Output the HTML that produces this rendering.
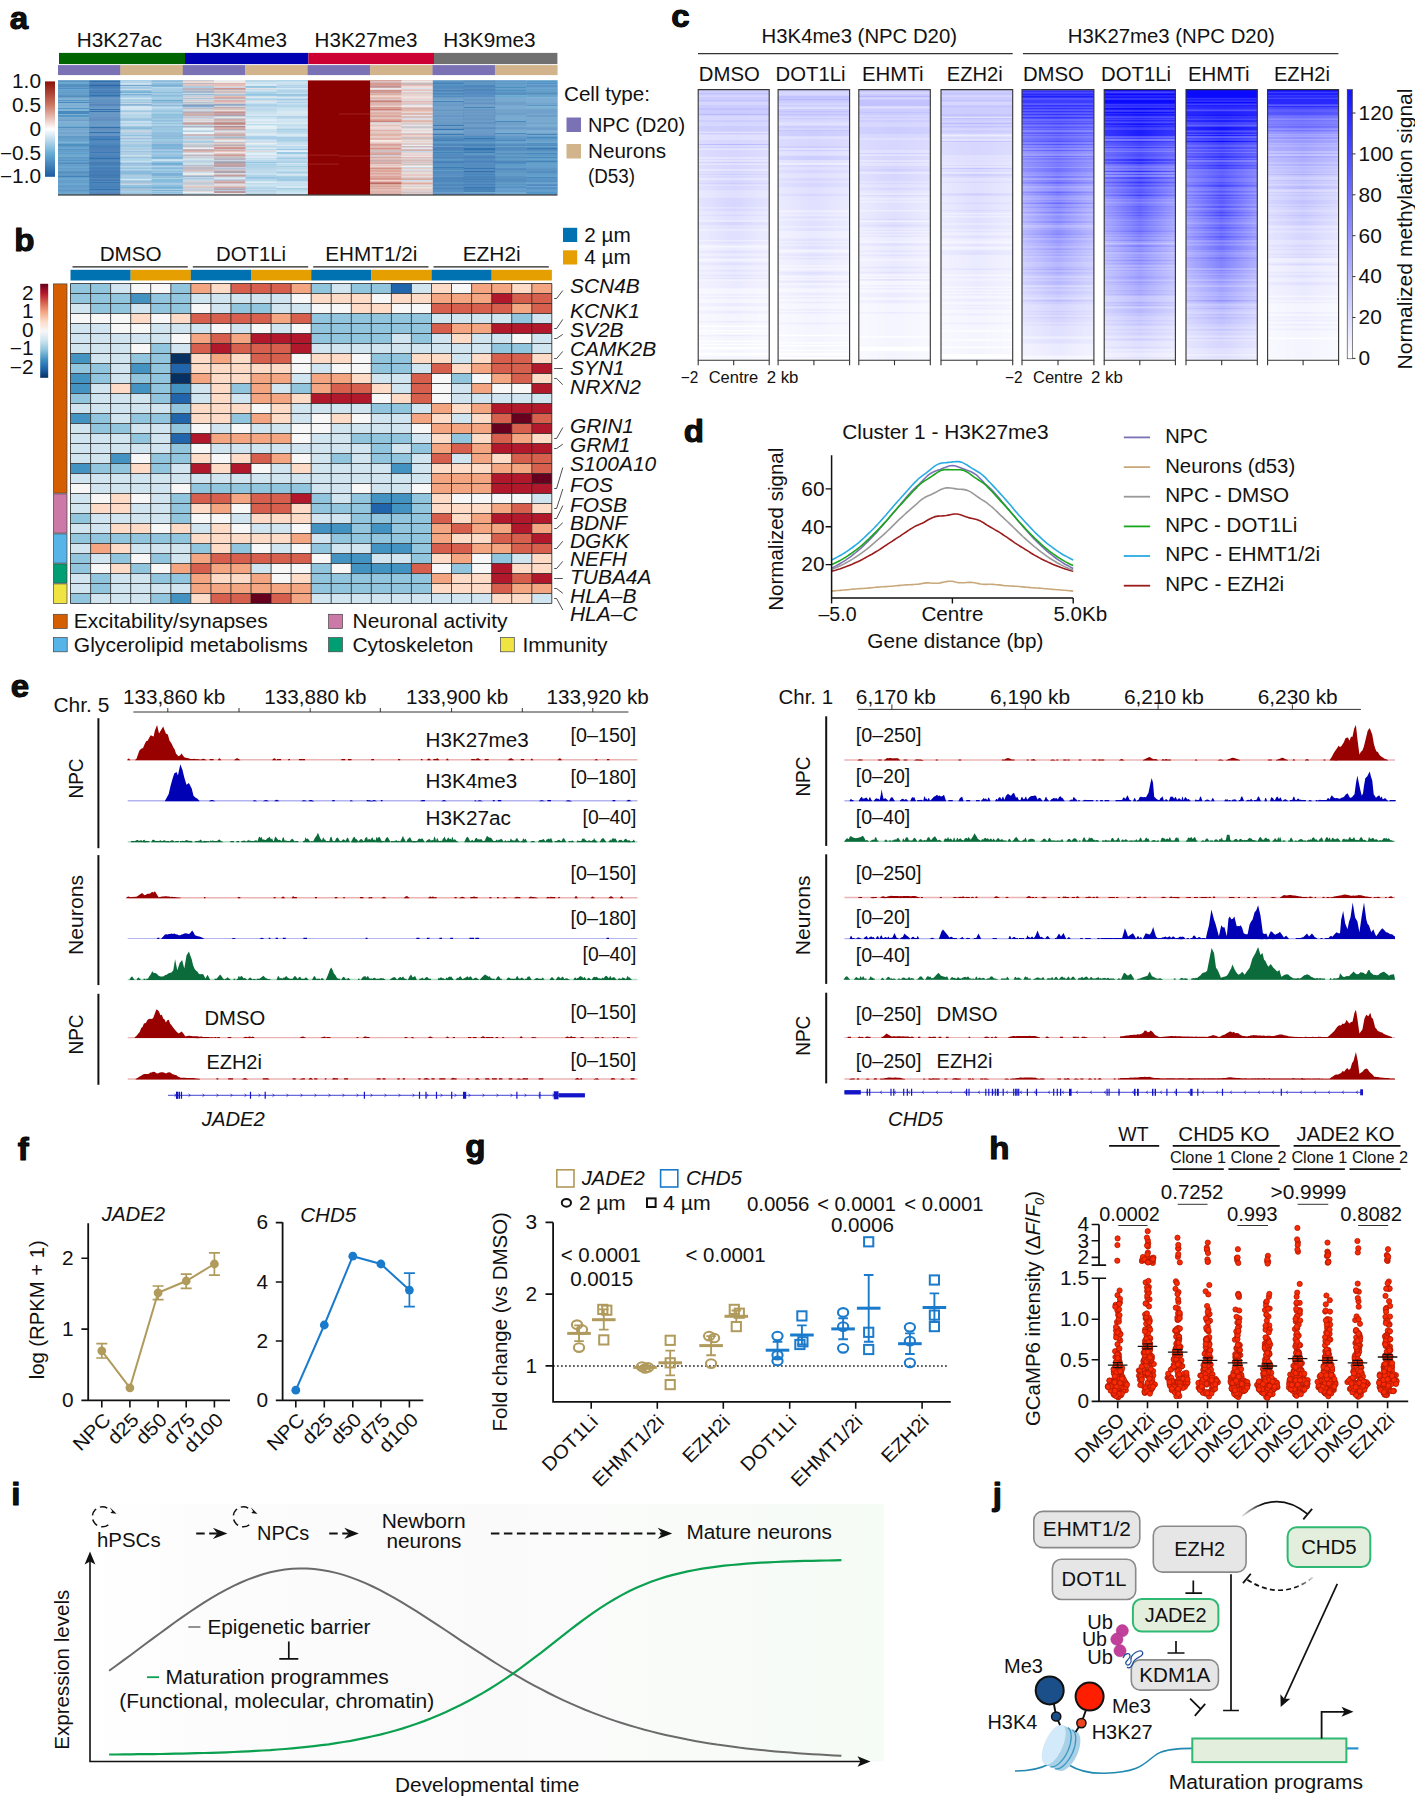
<!DOCTYPE html>
<html><head><meta charset="utf-8"><title>Figure</title>
<style>
html,body{margin:0;padding:0;background:#fff}
svg{display:block}
text{font-family:"Liberation Sans",sans-serif;font-size:19.3px;fill:#111}
</style></head><body>
<svg width="1415" height="1797" viewBox="0 0 1415 1797">
<rect width="1415" height="1797" fill="#fff"/>
<g id="pa">
<text x="9.8" y="28.7" font-weight="bold" fill="#000" style="font-size:31.5px" textLength="18.4" lengthAdjust="spacingAndGlyphs" stroke="#000" stroke-width="1.0" stroke-linejoin="round">a</text>
<text x="76.8" y="47.1" textLength="85.3" lengthAdjust="spacingAndGlyphs">H3K27ac</text>
<text x="195.2" y="47.1" textLength="91.8" lengthAdjust="spacingAndGlyphs">H3K4me3</text>
<text x="314.6" y="47.1" textLength="102.9" lengthAdjust="spacingAndGlyphs">H3K27me3</text>
<text x="443.3" y="47.1" textLength="92.3" lengthAdjust="spacingAndGlyphs">H3K9me3</text>
<rect x="59.0" y="52.9" width="126.0" height="11.2" fill="#006400"/>
<rect x="185.0" y="52.9" width="123.4" height="11.2" fill="#0000b2"/>
<rect x="308.4" y="52.9" width="125.6" height="11.2" fill="#cc0033"/>
<rect x="434.0" y="52.9" width="123.4" height="11.2" fill="#707070"/>
<rect x="58.0" y="65.1" width="62.7" height="10.0" fill="#7b72b6"/>
<rect x="120.4" y="65.1" width="62.7" height="10.0" fill="#d2b48c"/>
<rect x="182.8" y="65.1" width="62.7" height="10.0" fill="#7b72b6"/>
<rect x="245.3" y="65.1" width="62.7" height="10.0" fill="#d2b48c"/>
<rect x="307.7" y="65.1" width="62.7" height="10.0" fill="#7b72b6"/>
<rect x="370.1" y="65.1" width="62.7" height="10.0" fill="#d2b48c"/>
<rect x="432.5" y="65.1" width="62.7" height="10.0" fill="#7b72b6"/>
<rect x="494.9" y="65.1" width="62.7" height="10.0" fill="#d2b48c"/>
<rect x="307.7" y="80.4" width="62.6" height="114.3" fill="#8b0000"/>
<path d="M58.0 80.90h31.4M58.0 86.92h31.4M58.0 95.94h31.4M58.0 97.95h31.4M58.0 101.96h31.4M58.0 102.96h31.4M58.0 104.96h31.4M58.0 110.98h31.4M58.0 111.98h31.4M58.0 112.99h31.4M58.0 113.99h31.4M58.0 118.00h31.4M58.0 121.01h31.4M58.0 124.01h31.4M58.0 129.03h31.4M58.0 132.04h31.4M58.0 134.04h31.4M58.0 147.07h31.4M58.0 159.11h31.4M58.0 169.13h31.4M58.0 172.14h31.4M58.0 175.15h31.4M58.0 186.18h31.4M58.0 193.20h31.4M432.5 84.91h31.4M432.5 106.97h31.4M432.5 111.98h31.4M432.5 137.05h31.4M432.5 142.06h31.4M432.5 151.09h31.4M432.5 166.12h31.4M432.5 183.17h31.4M432.5 186.18h31.4M432.5 194.20h31.4M463.7 95.94h31.4M463.7 108.97h31.4M463.7 137.05h31.4M463.7 183.17h31.4M494.9 85.91h31.4M494.9 91.93h31.4M494.9 97.95h31.4M494.9 99.95h31.4M494.9 107.97h31.4M494.9 112.99h31.4M494.9 119.00h31.4M494.9 121.01h31.4M494.9 122.01h31.4M494.9 125.02h31.4M494.9 130.03h31.4M494.9 133.04h31.4M494.9 134.04h31.4M494.9 136.05h31.4M494.9 140.06h31.4M494.9 141.06h31.4M494.9 151.09h31.4M494.9 153.09h31.4M494.9 158.10h31.4M494.9 160.11h31.4M494.9 168.13h31.4M494.9 170.14h31.4M494.9 177.15h31.4M494.9 180.16h31.4M494.9 184.17h31.4M494.9 188.18h31.4M526.2 89.93h31.4M526.2 102.96h31.4M526.2 110.98h31.4M526.2 112.99h31.4M526.2 118.00h31.4M526.2 126.02h31.4M526.2 130.03h31.4M526.2 137.05h31.4M526.2 138.05h31.4M526.2 153.09h31.4M526.2 154.09h31.4M526.2 157.10h31.4M526.2 158.10h31.4M526.2 160.11h31.4M526.2 165.12h31.4M526.2 170.14h31.4M526.2 175.15h31.4M526.2 177.15h31.4M526.2 178.16h31.4M526.2 180.16h31.4M526.2 189.19h31.4M526.2 191.19h31.4" stroke="#488ac0" stroke-width="1.15" fill="none"/>
<path d="M58.0 81.90h31.4M58.0 90.93h31.4M58.0 92.93h31.4M58.0 94.94h31.4M58.0 126.02h31.4M58.0 130.03h31.4M58.0 136.05h31.4M58.0 138.05h31.4M58.0 157.10h31.4M58.0 171.14h31.4M58.0 176.15h31.4M58.0 177.15h31.4M89.2 89.93h31.4M89.2 93.94h31.4M432.5 82.91h31.4M432.5 83.91h31.4M432.5 87.92h31.4M432.5 92.93h31.4M432.5 97.95h31.4M432.5 100.95h31.4M432.5 101.96h31.4M432.5 121.01h31.4M432.5 123.01h31.4M432.5 136.05h31.4M432.5 140.06h31.4M432.5 141.06h31.4M432.5 152.09h31.4M432.5 153.09h31.4M432.5 159.11h31.4M432.5 164.12h31.4M432.5 171.14h31.4M432.5 177.15h31.4M432.5 180.16h31.4M432.5 190.19h31.4M463.7 100.95h31.4M463.7 104.96h31.4M463.7 106.97h31.4M463.7 107.97h31.4M463.7 112.99h31.4M463.7 117.00h31.4M463.7 121.01h31.4M463.7 127.02h31.4M463.7 132.04h31.4M463.7 134.04h31.4M463.7 143.06h31.4M463.7 146.07h31.4M463.7 156.10h31.4M463.7 159.11h31.4M463.7 166.12h31.4M463.7 174.15h31.4M463.7 175.15h31.4M463.7 180.16h31.4M463.7 193.20h31.4M494.9 81.90h31.4M494.9 92.93h31.4M494.9 94.94h31.4M494.9 101.96h31.4M494.9 104.96h31.4M494.9 115.99h31.4M494.9 126.02h31.4M494.9 138.05h31.4M494.9 143.06h31.4M494.9 147.07h31.4M494.9 161.11h31.4M494.9 165.12h31.4M494.9 176.15h31.4M494.9 185.18h31.4M494.9 191.19h31.4M526.2 92.93h31.4M526.2 120.00h31.4M526.2 134.04h31.4M526.2 135.04h31.4M526.2 139.05h31.4M526.2 151.09h31.4M526.2 155.10h31.4M526.2 161.11h31.4M526.2 162.11h31.4M526.2 171.14h31.4M526.2 173.14h31.4M526.2 179.16h31.4" stroke="#4284ba" stroke-width="1.15" fill="none"/>
<path d="M58.0 82.91h31.4M58.0 103.96h31.4M58.0 109.98h31.4M58.0 143.06h31.4M58.0 156.10h31.4M58.0 194.20h31.4M120.4 92.93h31.4M120.4 129.03h31.4M151.6 90.93h31.4M151.6 95.94h31.4M151.6 101.96h31.4M151.6 146.07h31.4M182.8 142.06h31.4M526.2 95.94h31.4M526.2 106.97h31.4M526.2 183.17h31.4" stroke="#60a2cc" stroke-width="1.15" fill="none"/>
<path d="M58.0 83.91h31.4M58.0 84.91h31.4M58.0 91.93h31.4M58.0 93.94h31.4M58.0 99.95h31.4M58.0 100.95h31.4M58.0 105.97h31.4M58.0 107.97h31.4M58.0 108.97h31.4M58.0 114.99h31.4M58.0 115.99h31.4M58.0 117.00h31.4M58.0 123.01h31.4M58.0 131.03h31.4M58.0 135.04h31.4M58.0 141.06h31.4M58.0 149.08h31.4M58.0 150.08h31.4M58.0 160.11h31.4M58.0 161.11h31.4M58.0 164.12h31.4M58.0 178.16h31.4M58.0 181.16h31.4M58.0 183.17h31.4M58.0 191.19h31.4M151.6 85.91h31.4M151.6 187.18h31.4M432.5 132.04h31.4M463.7 192.19h31.4M494.9 82.91h31.4M494.9 108.97h31.4M494.9 132.04h31.4M494.9 146.07h31.4M494.9 156.10h31.4M494.9 186.18h31.4M494.9 189.19h31.4M494.9 192.19h31.4M526.2 80.90h31.4M526.2 81.90h31.4M526.2 88.92h31.4M526.2 90.93h31.4M526.2 96.94h31.4M526.2 100.95h31.4M526.2 104.96h31.4M526.2 105.97h31.4M526.2 108.97h31.4M526.2 114.99h31.4M526.2 122.01h31.4M526.2 131.03h31.4M526.2 140.06h31.4M526.2 159.11h31.4M526.2 164.12h31.4M526.2 166.12h31.4M526.2 176.15h31.4M526.2 192.19h31.4M526.2 193.20h31.4M526.2 194.20h31.4" stroke="#5496c6" stroke-width="1.15" fill="none"/>
<path d="M58.0 85.91h31.4M58.0 120.00h31.4M58.0 173.14h31.4M89.2 98.95h31.4M89.2 124.01h31.4M89.2 144.07h31.4M89.2 150.08h31.4M89.2 152.09h31.4M89.2 153.09h31.4M89.2 160.11h31.4M89.2 166.12h31.4M89.2 170.14h31.4M89.2 181.16h31.4M89.2 188.18h31.4M432.5 81.90h31.4M432.5 112.99h31.4M432.5 134.04h31.4M432.5 135.04h31.4M432.5 147.07h31.4M463.7 86.92h31.4M463.7 98.95h31.4M463.7 113.99h31.4M463.7 118.00h31.4M463.7 140.06h31.4M463.7 155.10h31.4M463.7 158.10h31.4M494.9 148.08h31.4M494.9 154.09h31.4M526.2 129.03h31.4" stroke="#3c78b4" stroke-width="1.15" fill="none"/>
<path d="M58.0 87.92h31.4M58.0 88.92h31.4M58.0 140.06h31.4M58.0 152.09h31.4M58.0 158.10h31.4M58.0 166.12h31.4M58.0 168.13h31.4M58.0 180.16h31.4M58.0 185.18h31.4M58.0 192.19h31.4M151.6 165.12h31.4M432.5 131.03h31.4M432.5 143.06h31.4M432.5 160.11h31.4M494.9 80.90h31.4M494.9 98.95h31.4M494.9 105.97h31.4M494.9 118.00h31.4M494.9 127.02h31.4M494.9 137.05h31.4M494.9 163.12h31.4M494.9 164.12h31.4M494.9 167.13h31.4M494.9 174.15h31.4M526.2 82.91h31.4M526.2 83.91h31.4M526.2 99.95h31.4M526.2 101.96h31.4M526.2 136.05h31.4M526.2 167.13h31.4M526.2 182.17h31.4M526.2 184.17h31.4M526.2 187.18h31.4M526.2 190.19h31.4" stroke="#4e90c6" stroke-width="1.15" fill="none"/>
<path d="M58.0 89.93h31.4M58.0 98.95h31.4M58.0 106.97h31.4M58.0 122.01h31.4M58.0 148.08h31.4M58.0 153.09h31.4M58.0 154.09h31.4M58.0 167.13h31.4M58.0 179.16h31.4M58.0 184.17h31.4M58.0 188.18h31.4M151.6 127.02h31.4M151.6 163.12h31.4M151.6 171.14h31.4M432.5 95.94h31.4M494.9 84.91h31.4M494.9 88.92h31.4M494.9 142.06h31.4M494.9 193.20h31.4M526.2 84.91h31.4M526.2 87.92h31.4M526.2 97.95h31.4M526.2 125.02h31.4M526.2 132.04h31.4M526.2 146.07h31.4M526.2 186.18h31.4" stroke="#5a9ccc" stroke-width="1.15" fill="none"/>
<path d="M58.0 96.94h31.4M89.2 103.96h31.4M89.2 112.99h31.4M89.2 115.99h31.4M89.2 122.01h31.4M89.2 156.10h31.4M89.2 161.11h31.4M89.2 178.16h31.4M89.2 194.20h31.4M432.5 102.96h31.4M432.5 105.97h31.4M432.5 110.98h31.4M432.5 113.99h31.4M432.5 120.00h31.4M432.5 125.02h31.4M432.5 126.02h31.4M432.5 133.04h31.4M432.5 154.09h31.4M432.5 158.10h31.4M432.5 161.11h31.4M432.5 163.12h31.4M432.5 167.13h31.4M432.5 168.13h31.4M432.5 184.17h31.4M432.5 189.19h31.4M463.7 81.90h31.4M463.7 90.93h31.4M463.7 103.96h31.4M463.7 114.99h31.4M463.7 122.01h31.4M463.7 124.01h31.4M463.7 126.02h31.4M463.7 144.07h31.4M463.7 152.09h31.4M463.7 153.09h31.4M463.7 160.11h31.4M463.7 167.13h31.4M463.7 173.14h31.4M463.7 178.16h31.4M463.7 190.19h31.4M494.9 123.01h31.4M494.9 149.08h31.4M494.9 157.10h31.4M494.9 179.16h31.4M526.2 93.94h31.4M526.2 150.08h31.4" stroke="#3c7eb4" stroke-width="1.15" fill="none"/>
<path d="M58.0 119.00h31.4M58.0 127.02h31.4M58.0 128.03h31.4M58.0 137.05h31.4M58.0 144.07h31.4M58.0 145.07h31.4M58.0 146.07h31.4M58.0 151.09h31.4M58.0 165.12h31.4M58.0 174.15h31.4M58.0 182.17h31.4M58.0 187.18h31.4M151.6 104.96h31.4M151.6 177.15h31.4M432.5 80.90h31.4M432.5 89.93h31.4M432.5 91.93h31.4M432.5 99.95h31.4M432.5 108.97h31.4M432.5 146.07h31.4M432.5 170.14h31.4M432.5 192.19h31.4M463.7 84.91h31.4M463.7 142.06h31.4M463.7 154.09h31.4M494.9 86.92h31.4M494.9 87.92h31.4M494.9 89.93h31.4M494.9 90.93h31.4M494.9 96.94h31.4M494.9 100.95h31.4M494.9 114.99h31.4M494.9 117.00h31.4M494.9 120.00h31.4M494.9 131.03h31.4M494.9 144.07h31.4M494.9 152.09h31.4M494.9 155.10h31.4M494.9 159.11h31.4M494.9 166.12h31.4M494.9 173.14h31.4M494.9 175.15h31.4M494.9 183.17h31.4M494.9 194.20h31.4M526.2 86.92h31.4M526.2 91.93h31.4M526.2 94.94h31.4M526.2 98.95h31.4M526.2 107.97h31.4M526.2 119.00h31.4M526.2 121.01h31.4M526.2 127.02h31.4M526.2 141.06h31.4M526.2 143.06h31.4M526.2 144.07h31.4M526.2 147.07h31.4M526.2 152.09h31.4M526.2 156.10h31.4M526.2 163.12h31.4M526.2 168.13h31.4M526.2 174.15h31.4" stroke="#4e90c0" stroke-width="1.15" fill="none"/>
<path d="M58.0 125.02h31.4" stroke="#5aa2cc" stroke-width="1.15" fill="none"/>
<path d="M58.0 133.04h31.4M58.0 190.19h31.4M432.5 114.99h31.4M432.5 117.00h31.4M432.5 174.15h31.4M432.5 176.15h31.4M463.7 80.90h31.4M463.7 83.91h31.4M463.7 88.92h31.4M463.7 105.97h31.4M463.7 164.12h31.4M463.7 194.20h31.4M494.9 129.03h31.4M494.9 139.05h31.4M494.9 171.14h31.4M526.2 103.96h31.4M526.2 113.99h31.4M526.2 169.13h31.4" stroke="#4884ba" stroke-width="1.15" fill="none"/>
<path d="M58.0 139.05h31.4M151.6 138.05h31.4" stroke="#5a96c6" stroke-width="1.15" fill="none"/>
<path d="M58.0 142.06h31.4M120.4 91.93h31.4M120.4 163.12h31.4M151.6 118.00h31.4M151.6 144.07h31.4" stroke="#66a8d2" stroke-width="1.15" fill="none"/>
<path d="M58.0 155.10h31.4M151.6 173.14h31.4" stroke="#5a9cc6" stroke-width="1.15" fill="none"/>
<path d="M58.0 162.11h31.4" stroke="#4e96c6" stroke-width="1.15" fill="none"/>
<path d="M58.0 163.12h31.4M89.2 82.91h31.4M89.2 91.93h31.4M89.2 97.95h31.4M89.2 105.97h31.4M89.2 113.99h31.4M89.2 121.01h31.4M89.2 123.01h31.4M89.2 126.02h31.4M89.2 131.03h31.4M89.2 135.04h31.4M89.2 137.05h31.4M89.2 139.05h31.4M89.2 140.06h31.4M89.2 143.06h31.4M89.2 148.08h31.4M89.2 154.09h31.4M89.2 167.13h31.4M89.2 179.16h31.4M89.2 182.17h31.4M89.2 183.17h31.4M89.2 186.18h31.4M432.5 86.92h31.4M432.5 96.94h31.4M432.5 104.96h31.4M432.5 119.00h31.4M432.5 122.01h31.4M432.5 129.03h31.4M432.5 130.03h31.4M432.5 138.05h31.4M432.5 144.07h31.4M432.5 155.10h31.4M432.5 169.13h31.4M432.5 172.14h31.4M432.5 179.16h31.4M463.7 120.00h31.4M463.7 131.03h31.4M463.7 136.05h31.4M463.7 138.05h31.4M463.7 139.05h31.4M463.7 151.09h31.4M463.7 161.11h31.4M463.7 165.12h31.4M463.7 168.13h31.4M463.7 169.13h31.4M463.7 176.15h31.4M463.7 182.17h31.4M463.7 184.17h31.4M463.7 187.18h31.4M463.7 188.18h31.4M494.9 113.99h31.4M494.9 145.07h31.4M494.9 169.13h31.4M526.2 145.07h31.4M526.2 148.08h31.4M526.2 149.08h31.4" stroke="#3678b4" stroke-width="1.15" fill="none"/>
<path d="M58.0 170.14h31.4" stroke="#549cc6" stroke-width="1.15" fill="none"/>
<path d="M58.0 189.19h31.4M494.9 106.97h31.4M494.9 190.19h31.4M526.2 117.00h31.4" stroke="#5490c6" stroke-width="1.15" fill="none"/>
<path d="M89.2 80.90h31.4M89.2 81.90h31.4M89.2 94.94h31.4M89.2 95.94h31.4M89.2 100.95h31.4M89.2 106.97h31.4M89.2 110.98h31.4M89.2 111.98h31.4M89.2 127.02h31.4M89.2 128.03h31.4M89.2 130.03h31.4M89.2 132.04h31.4M89.2 133.04h31.4M89.2 145.07h31.4M89.2 158.10h31.4M89.2 159.11h31.4M89.2 165.12h31.4M89.2 169.13h31.4M89.2 185.18h31.4M89.2 189.19h31.4M89.2 190.19h31.4M432.5 109.98h31.4M432.5 128.03h31.4M432.5 150.08h31.4M432.5 178.16h31.4M463.7 85.91h31.4M463.7 99.95h31.4M463.7 115.99h31.4M463.7 129.03h31.4M463.7 148.08h31.4M463.7 149.08h31.4M463.7 150.08h31.4M463.7 177.15h31.4M463.7 181.16h31.4M494.9 162.11h31.4M526.2 115.99h31.4" stroke="#3072ae" stroke-width="1.15" fill="none"/>
<path d="M89.2 83.91h31.4M89.2 108.97h31.4M89.2 109.98h31.4M89.2 117.00h31.4M89.2 119.00h31.4M89.2 141.06h31.4M89.2 151.09h31.4M89.2 155.10h31.4M89.2 162.11h31.4M89.2 184.17h31.4M89.2 192.19h31.4M432.5 93.94h31.4M432.5 124.01h31.4M432.5 139.05h31.4M432.5 145.07h31.4M432.5 149.08h31.4M432.5 157.10h31.4M432.5 185.18h31.4M432.5 188.18h31.4M463.7 89.93h31.4M463.7 111.98h31.4M463.7 119.00h31.4M463.7 171.14h31.4M463.7 172.14h31.4M494.9 128.03h31.4M494.9 181.16h31.4" stroke="#3672ae" stroke-width="1.15" fill="none"/>
<path d="M89.2 84.91h31.4M89.2 85.91h31.4M89.2 102.96h31.4M89.2 129.03h31.4M89.2 163.12h31.4M89.2 171.14h31.4M89.2 177.15h31.4M89.2 180.16h31.4M89.2 193.20h31.4M463.7 102.96h31.4M463.7 123.01h31.4" stroke="#2a66a8" stroke-width="1.15" fill="none"/>
<path d="M89.2 86.92h31.4M89.2 99.95h31.4M89.2 101.96h31.4M89.2 134.04h31.4M89.2 138.05h31.4M89.2 146.07h31.4M89.2 157.10h31.4M89.2 168.13h31.4M89.2 172.14h31.4M89.2 187.18h31.4M432.5 115.99h31.4M432.5 162.11h31.4M463.7 185.18h31.4" stroke="#2a6cae" stroke-width="1.15" fill="none"/>
<path d="M89.2 87.92h31.4M89.2 147.07h31.4M89.2 164.12h31.4M89.2 173.14h31.4M89.2 176.15h31.4M432.5 181.16h31.4M463.7 109.98h31.4M463.7 145.07h31.4M463.7 179.16h31.4M463.7 189.19h31.4M463.7 191.19h31.4" stroke="#2a6ca8" stroke-width="1.15" fill="none"/>
<path d="M89.2 88.92h31.4M89.2 114.99h31.4M463.7 92.93h31.4M463.7 133.04h31.4M526.2 185.18h31.4" stroke="#3672b4" stroke-width="1.15" fill="none"/>
<path d="M89.2 90.93h31.4M89.2 96.94h31.4M89.2 118.00h31.4M89.2 136.05h31.4M89.2 149.08h31.4M89.2 174.15h31.4M432.5 90.93h31.4M432.5 148.08h31.4M463.7 135.04h31.4M463.7 157.10h31.4M463.7 162.11h31.4" stroke="#306cae" stroke-width="1.15" fill="none"/>
<path d="M89.2 92.93h31.4M89.2 120.00h31.4M89.2 175.15h31.4M463.7 128.03h31.4" stroke="#2466a8" stroke-width="1.15" fill="none"/>
<path d="M89.2 104.96h31.4" stroke="#2460a8" stroke-width="1.15" fill="none"/>
<path d="M89.2 107.97h31.4M89.2 125.02h31.4M432.5 85.91h31.4M432.5 94.94h31.4M432.5 103.96h31.4M432.5 165.12h31.4M432.5 173.14h31.4M432.5 182.17h31.4M432.5 187.18h31.4M463.7 87.92h31.4M463.7 93.94h31.4M463.7 97.95h31.4M463.7 101.96h31.4M463.7 125.02h31.4M463.7 141.06h31.4M463.7 147.07h31.4M463.7 163.12h31.4M494.9 102.96h31.4M494.9 109.98h31.4M494.9 150.08h31.4M494.9 187.18h31.4M526.2 109.98h31.4M526.2 111.98h31.4M526.2 128.03h31.4M526.2 172.14h31.4M526.2 188.18h31.4" stroke="#3c7eba" stroke-width="1.15" fill="none"/>
<path d="M89.2 142.06h31.4M89.2 191.19h31.4M182.8 94.94h31.4M432.5 88.92h31.4M432.5 98.95h31.4M432.5 107.97h31.4M432.5 118.00h31.4M432.5 127.02h31.4M432.5 156.10h31.4M432.5 175.15h31.4M432.5 191.19h31.4M432.5 193.20h31.4M463.7 91.93h31.4M463.7 94.94h31.4M463.7 96.94h31.4M463.7 110.98h31.4M463.7 130.03h31.4M463.7 170.14h31.4M463.7 186.18h31.4M494.9 93.94h31.4M494.9 103.96h31.4M494.9 111.98h31.4M494.9 124.01h31.4M494.9 135.04h31.4M494.9 178.16h31.4M526.2 85.91h31.4M526.2 123.01h31.4M526.2 181.16h31.4" stroke="#427eba" stroke-width="1.15" fill="none"/>
<path d="M120.4 80.90h31.4M120.4 84.91h31.4M120.4 124.01h31.4M120.4 135.04h31.4M120.4 136.05h31.4M120.4 141.06h31.4M120.4 158.10h31.4M120.4 160.11h31.4M120.4 174.15h31.4M120.4 180.16h31.4M151.6 94.94h31.4M151.6 192.19h31.4M151.6 193.20h31.4M214.1 98.95h31.4M276.5 89.93h31.4M276.5 104.96h31.4M276.5 117.00h31.4M276.5 173.14h31.4M276.5 178.16h31.4" stroke="#90c0de" stroke-width="1.15" fill="none"/>
<path d="M120.4 81.90h31.4M120.4 162.11h31.4M151.6 82.91h31.4M151.6 107.97h31.4M245.3 95.94h31.4M245.3 103.96h31.4M245.3 109.98h31.4M245.3 122.01h31.4M245.3 132.04h31.4M245.3 136.05h31.4M245.3 160.11h31.4M245.3 165.12h31.4M245.3 166.12h31.4M276.5 83.91h31.4M276.5 101.96h31.4M276.5 102.96h31.4M276.5 121.01h31.4M276.5 131.03h31.4M276.5 132.04h31.4M276.5 139.05h31.4M276.5 146.07h31.4M276.5 159.11h31.4M276.5 164.12h31.4M276.5 181.16h31.4" stroke="#aed2ea" stroke-width="1.15" fill="none"/>
<path d="M120.4 82.91h31.4M120.4 126.02h31.4M120.4 132.04h31.4M120.4 152.09h31.4M120.4 166.12h31.4M120.4 191.19h31.4M151.6 91.93h31.4M151.6 153.09h31.4M182.8 113.99h31.4M245.3 93.94h31.4M245.3 106.97h31.4M245.3 138.05h31.4M245.3 147.07h31.4M245.3 158.10h31.4M245.3 191.19h31.4M276.5 129.03h31.4M276.5 130.03h31.4M276.5 141.06h31.4M276.5 190.19h31.4" stroke="#a2cce4" stroke-width="1.15" fill="none"/>
<path d="M120.4 83.91h31.4M182.8 119.00h31.4M214.1 173.14h31.4M245.3 85.91h31.4M245.3 121.01h31.4M245.3 135.04h31.4M245.3 189.19h31.4M276.5 82.91h31.4M276.5 111.98h31.4M276.5 163.12h31.4M276.5 174.15h31.4M401.3 114.99h31.4" stroke="#d2e4f0" stroke-width="1.15" fill="none"/>
<path d="M120.4 85.91h31.4" stroke="#4e8ac0" stroke-width="1.15" fill="none"/>
<path d="M120.4 86.92h31.4M120.4 100.95h31.4M120.4 114.99h31.4M120.4 167.13h31.4M151.6 106.97h31.4M151.6 166.12h31.4M182.8 136.05h31.4M245.3 81.90h31.4M245.3 83.91h31.4M245.3 118.00h31.4M245.3 131.03h31.4M245.3 156.10h31.4M245.3 183.17h31.4M245.3 193.20h31.4M276.5 95.94h31.4M276.5 96.94h31.4M276.5 103.96h31.4M276.5 113.99h31.4M276.5 128.03h31.4M276.5 134.04h31.4M276.5 150.08h31.4M276.5 160.11h31.4M276.5 161.11h31.4M276.5 167.13h31.4M276.5 183.17h31.4" stroke="#bad8ea" stroke-width="1.15" fill="none"/>
<path d="M120.4 87.92h31.4M151.6 81.90h31.4M151.6 111.98h31.4M151.6 131.03h31.4M151.6 162.11h31.4M245.3 104.96h31.4M245.3 179.16h31.4M276.5 149.08h31.4M276.5 188.18h31.4" stroke="#84bade" stroke-width="1.15" fill="none"/>
<path d="M120.4 88.92h31.4M120.4 97.95h31.4M120.4 144.07h31.4M120.4 147.07h31.4M120.4 169.13h31.4M151.6 141.06h31.4M151.6 161.11h31.4M151.6 167.13h31.4M182.8 87.92h31.4M182.8 125.02h31.4M245.3 91.93h31.4M245.3 137.05h31.4M245.3 172.14h31.4M276.5 87.92h31.4M276.5 115.99h31.4M276.5 125.02h31.4M276.5 137.05h31.4M276.5 179.16h31.4" stroke="#9cc6e4" stroke-width="1.15" fill="none"/>
<path d="M120.4 89.93h31.4M182.8 95.94h31.4M182.8 177.15h31.4" stroke="#ccd8e4" stroke-width="1.15" fill="none"/>
<path d="M120.4 90.93h31.4M120.4 149.08h31.4M120.4 185.18h31.4M151.6 83.91h31.4M151.6 86.92h31.4M151.6 97.95h31.4M151.6 124.01h31.4M151.6 126.02h31.4M151.6 147.07h31.4M182.8 131.03h31.4" stroke="#78b4d8" stroke-width="1.15" fill="none"/>
<path d="M120.4 93.94h31.4M120.4 159.11h31.4M151.6 103.96h31.4M182.8 121.01h31.4M245.3 175.15h31.4M276.5 90.93h31.4M276.5 185.18h31.4" stroke="#a8d2ea" stroke-width="1.15" fill="none"/>
<path d="M120.4 94.94h31.4M151.6 133.04h31.4M526.2 142.06h31.4" stroke="#609ccc" stroke-width="1.15" fill="none"/>
<path d="M120.4 95.94h31.4M120.4 145.07h31.4M151.6 176.15h31.4M182.8 179.16h31.4M245.3 142.06h31.4" stroke="#96c0de" stroke-width="1.15" fill="none"/>
<path d="M120.4 96.94h31.4M120.4 113.99h31.4M120.4 121.01h31.4M120.4 130.03h31.4M120.4 134.04h31.4M120.4 142.06h31.4M120.4 154.09h31.4M120.4 192.19h31.4M151.6 98.95h31.4M151.6 109.98h31.4M151.6 112.99h31.4M151.6 172.14h31.4M151.6 183.17h31.4M151.6 191.19h31.4M182.8 115.99h31.4M214.1 190.19h31.4M245.3 99.95h31.4M245.3 105.97h31.4M245.3 108.97h31.4M245.3 139.05h31.4M245.3 149.08h31.4M245.3 164.12h31.4M245.3 177.15h31.4M245.3 178.16h31.4M276.5 80.90h31.4M276.5 99.95h31.4M276.5 106.97h31.4M276.5 138.05h31.4M276.5 144.07h31.4M276.5 152.09h31.4M276.5 162.11h31.4M276.5 177.15h31.4" stroke="#96c6e4" stroke-width="1.15" fill="none"/>
<path d="M120.4 98.95h31.4M245.3 97.95h31.4M245.3 153.09h31.4" stroke="#d2eaf0" stroke-width="1.15" fill="none"/>
<path d="M120.4 99.95h31.4M120.4 127.02h31.4M151.6 99.95h31.4M151.6 100.95h31.4M151.6 120.00h31.4M151.6 123.01h31.4M151.6 135.04h31.4M151.6 185.18h31.4M182.8 106.97h31.4" stroke="#72aed2" stroke-width="1.15" fill="none"/>
<path d="M120.4 101.96h31.4M120.4 146.07h31.4M120.4 186.18h31.4M151.6 96.94h31.4M151.6 108.97h31.4M151.6 119.00h31.4M151.6 137.05h31.4M151.6 140.06h31.4M182.8 162.11h31.4M245.3 98.95h31.4M245.3 194.20h31.4M276.5 158.10h31.4M276.5 180.16h31.4M276.5 194.20h31.4" stroke="#8ac0de" stroke-width="1.15" fill="none"/>
<path d="M120.4 102.96h31.4M120.4 138.05h31.4" stroke="#7ea8cc" stroke-width="1.15" fill="none"/>
<path d="M120.4 103.96h31.4M182.8 130.03h31.4M245.3 96.94h31.4M245.3 127.02h31.4M401.3 142.06h31.4" stroke="#ccdeea" stroke-width="1.15" fill="none"/>
<path d="M120.4 104.96h31.4" stroke="#5490c0" stroke-width="1.15" fill="none"/>
<path d="M120.4 105.97h31.4M120.4 151.09h31.4" stroke="#8abade" stroke-width="1.15" fill="none"/>
<path d="M120.4 106.97h31.4M120.4 179.16h31.4M214.1 86.92h31.4M214.1 186.18h31.4M276.5 145.07h31.4M276.5 187.18h31.4" stroke="#deeaf6" stroke-width="1.15" fill="none"/>
<path d="M120.4 107.97h31.4M151.6 89.93h31.4M182.8 134.04h31.4M182.8 194.20h31.4M214.1 179.16h31.4M245.3 119.00h31.4M245.3 174.15h31.4M276.5 81.90h31.4M276.5 84.91h31.4M276.5 108.97h31.4M276.5 122.01h31.4M276.5 148.08h31.4M276.5 154.09h31.4M276.5 171.14h31.4M276.5 192.19h31.4M401.3 88.92h31.4" stroke="#c0def0" stroke-width="1.15" fill="none"/>
<path d="M120.4 108.97h31.4M120.4 161.11h31.4M245.3 129.03h31.4M401.3 152.09h31.4" stroke="#c0deea" stroke-width="1.15" fill="none"/>
<path d="M120.4 109.98h31.4M120.4 122.01h31.4M120.4 194.20h31.4M182.8 165.12h31.4M245.3 140.06h31.4M245.3 150.08h31.4M245.3 155.10h31.4M245.3 173.14h31.4M245.3 180.16h31.4M245.3 186.18h31.4M245.3 187.18h31.4M276.5 93.94h31.4M276.5 110.98h31.4M276.5 124.01h31.4M276.5 127.02h31.4M276.5 136.05h31.4M276.5 143.06h31.4M276.5 155.10h31.4M276.5 170.14h31.4M276.5 182.17h31.4M276.5 184.17h31.4M401.3 180.16h31.4M401.3 181.16h31.4" stroke="#c6def0" stroke-width="1.15" fill="none"/>
<path d="M120.4 110.98h31.4M120.4 187.18h31.4M120.4 188.18h31.4M151.6 88.92h31.4M151.6 130.03h31.4M151.6 142.06h31.4M151.6 180.16h31.4M182.8 190.19h31.4" stroke="#7eb4d8" stroke-width="1.15" fill="none"/>
<path d="M120.4 111.98h31.4M120.4 115.99h31.4M120.4 119.00h31.4M120.4 168.13h31.4" stroke="#84bad8" stroke-width="1.15" fill="none"/>
<path d="M120.4 112.99h31.4M120.4 184.17h31.4M182.8 149.08h31.4" stroke="#c6d8ea" stroke-width="1.15" fill="none"/>
<path d="M120.4 117.00h31.4M120.4 140.06h31.4M120.4 170.14h31.4M151.6 87.92h31.4M182.8 160.11h31.4M245.3 87.92h31.4M245.3 102.96h31.4M245.3 117.00h31.4M245.3 130.03h31.4M245.3 163.12h31.4M245.3 169.13h31.4M245.3 170.14h31.4M245.3 184.17h31.4M276.5 92.93h31.4M276.5 107.97h31.4M276.5 109.98h31.4M276.5 119.00h31.4M276.5 126.02h31.4M276.5 142.06h31.4M276.5 147.07h31.4M276.5 169.13h31.4" stroke="#b4d8ea" stroke-width="1.15" fill="none"/>
<path d="M120.4 118.00h31.4M120.4 165.12h31.4M151.6 169.13h31.4M182.8 138.05h31.4" stroke="#8abad8" stroke-width="1.15" fill="none"/>
<path d="M120.4 120.00h31.4M151.6 134.04h31.4M151.6 149.08h31.4M151.6 151.09h31.4M151.6 157.10h31.4M151.6 174.15h31.4" stroke="#72a8d2" stroke-width="1.15" fill="none"/>
<path d="M120.4 123.01h31.4M151.6 122.01h31.4M151.6 125.02h31.4M151.6 159.11h31.4M151.6 170.14h31.4M182.8 141.06h31.4M245.3 89.93h31.4M245.3 92.93h31.4M245.3 113.99h31.4M245.3 115.99h31.4M245.3 167.13h31.4M245.3 181.16h31.4M245.3 188.18h31.4M276.5 105.97h31.4M276.5 172.14h31.4M276.5 176.15h31.4M401.3 164.12h31.4" stroke="#9ccce4" stroke-width="1.15" fill="none"/>
<path d="M120.4 125.02h31.4M120.4 137.05h31.4M182.8 140.06h31.4M182.8 156.10h31.4M245.3 171.14h31.4" stroke="#c0d8ea" stroke-width="1.15" fill="none"/>
<path d="M120.4 128.03h31.4M151.6 190.19h31.4" stroke="#66a2cc" stroke-width="1.15" fill="none"/>
<path d="M120.4 131.03h31.4M182.8 181.16h31.4" stroke="#c0c6d2" stroke-width="1.15" fill="none"/>
<path d="M120.4 133.04h31.4" stroke="#9cc0de" stroke-width="1.15" fill="none"/>
<path d="M120.4 139.05h31.4" stroke="#a2c0de" stroke-width="1.15" fill="none"/>
<path d="M120.4 143.06h31.4M182.8 193.20h31.4" stroke="#b4ccde" stroke-width="1.15" fill="none"/>
<path d="M120.4 148.08h31.4M120.4 155.10h31.4M120.4 181.16h31.4M151.6 189.19h31.4M245.3 176.15h31.4M245.3 190.19h31.4M276.5 85.91h31.4M276.5 91.93h31.4M276.5 118.00h31.4" stroke="#a8cce4" stroke-width="1.15" fill="none"/>
<path d="M120.4 150.08h31.4M182.8 126.02h31.4M245.3 192.19h31.4M401.3 151.09h31.4" stroke="#bad2e4" stroke-width="1.15" fill="none"/>
<path d="M120.4 153.09h31.4M182.8 178.16h31.4" stroke="#a8c6de" stroke-width="1.15" fill="none"/>
<path d="M120.4 156.10h31.4M401.3 159.11h31.4" stroke="#d8eaf0" stroke-width="1.15" fill="none"/>
<path d="M120.4 157.10h31.4M120.4 175.15h31.4M151.6 115.99h31.4M151.6 128.03h31.4" stroke="#90bad8" stroke-width="1.15" fill="none"/>
<path d="M120.4 164.12h31.4" stroke="#96bade" stroke-width="1.15" fill="none"/>
<path d="M120.4 171.14h31.4M151.6 105.97h31.4M151.6 194.20h31.4" stroke="#78aed8" stroke-width="1.15" fill="none"/>
<path d="M120.4 172.14h31.4M151.6 155.10h31.4M151.6 182.17h31.4" stroke="#84b4d8" stroke-width="1.15" fill="none"/>
<path d="M120.4 173.14h31.4M151.6 92.93h31.4M151.6 110.98h31.4M151.6 168.13h31.4M276.5 98.95h31.4" stroke="#72aed8" stroke-width="1.15" fill="none"/>
<path d="M120.4 176.15h31.4" stroke="#aec6de" stroke-width="1.15" fill="none"/>
<path d="M120.4 177.15h31.4M151.6 139.05h31.4M182.8 152.09h31.4M276.5 140.06h31.4M276.5 166.12h31.4" stroke="#96c6de" stroke-width="1.15" fill="none"/>
<path d="M120.4 178.16h31.4" stroke="#90c6e4" stroke-width="1.15" fill="none"/>
<path d="M120.4 182.17h31.4M120.4 193.20h31.4M151.6 80.90h31.4M151.6 84.91h31.4M182.8 89.93h31.4" stroke="#78aed2" stroke-width="1.15" fill="none"/>
<path d="M120.4 183.17h31.4M401.3 104.96h31.4" stroke="#aec0d2" stroke-width="1.15" fill="none"/>
<path d="M120.4 189.19h31.4M182.8 118.00h31.4" stroke="#a2bad2" stroke-width="1.15" fill="none"/>
<path d="M120.4 190.19h31.4M151.6 143.06h31.4M214.1 188.18h31.4" stroke="#96bad8" stroke-width="1.15" fill="none"/>
<path d="M151.6 93.94h31.4M214.1 125.02h31.4" stroke="#9cc6de" stroke-width="1.15" fill="none"/>
<path d="M151.6 102.96h31.4" stroke="#7eaed2" stroke-width="1.15" fill="none"/>
<path d="M151.6 113.99h31.4M245.3 162.11h31.4" stroke="#7ebad8" stroke-width="1.15" fill="none"/>
<path d="M151.6 114.99h31.4" stroke="#66aed2" stroke-width="1.15" fill="none"/>
<path d="M151.6 117.00h31.4M151.6 121.01h31.4M151.6 145.07h31.4M151.6 148.08h31.4M151.6 158.10h31.4" stroke="#6ca8d2" stroke-width="1.15" fill="none"/>
<path d="M151.6 129.03h31.4M151.6 179.16h31.4M151.6 181.16h31.4M245.3 86.92h31.4" stroke="#72b4d8" stroke-width="1.15" fill="none"/>
<path d="M151.6 132.04h31.4M151.6 152.09h31.4M151.6 186.18h31.4M245.3 94.94h31.4" stroke="#7ebade" stroke-width="1.15" fill="none"/>
<path d="M151.6 136.05h31.4" stroke="#6ca2cc" stroke-width="1.15" fill="none"/>
<path d="M151.6 150.08h31.4M151.6 184.17h31.4" stroke="#a2c6e4" stroke-width="1.15" fill="none"/>
<path d="M151.6 154.09h31.4" stroke="#90bade" stroke-width="1.15" fill="none"/>
<path d="M151.6 156.10h31.4M276.5 153.09h31.4" stroke="#84c0de" stroke-width="1.15" fill="none"/>
<path d="M151.6 160.11h31.4M214.1 160.11h31.4M245.3 90.93h31.4M245.3 101.96h31.4M245.3 159.11h31.4M276.5 97.95h31.4M276.5 112.99h31.4M276.5 120.00h31.4M276.5 135.04h31.4M276.5 156.10h31.4M276.5 175.15h31.4M276.5 186.18h31.4" stroke="#cce4f0" stroke-width="1.15" fill="none"/>
<path d="M151.6 164.12h31.4M494.9 95.94h31.4" stroke="#60a8d2" stroke-width="1.15" fill="none"/>
<path d="M151.6 175.15h31.4" stroke="#60a2d2" stroke-width="1.15" fill="none"/>
<path d="M151.6 178.16h31.4M245.3 110.98h31.4M276.5 133.04h31.4M276.5 189.19h31.4" stroke="#a8d2e4" stroke-width="1.15" fill="none"/>
<path d="M151.6 188.18h31.4" stroke="#6caed8" stroke-width="1.15" fill="none"/>
<path d="M182.8 80.90h31.4M182.8 145.07h31.4M370.1 91.93h31.4" stroke="#babac6" stroke-width="1.15" fill="none"/>
<path d="M182.8 81.90h31.4M182.8 153.09h31.4M214.1 153.09h31.4M370.1 128.03h31.4M401.3 172.14h31.4M401.3 174.15h31.4M401.3 182.17h31.4" stroke="#f0d2cc" stroke-width="1.15" fill="none"/>
<path d="M182.8 82.91h31.4M214.1 167.13h31.4M370.1 164.12h31.4" stroke="#e4d8d8" stroke-width="1.15" fill="none"/>
<path d="M182.8 83.91h31.4M214.1 103.96h31.4" stroke="#aea8b4" stroke-width="1.15" fill="none"/>
<path d="M182.8 84.91h31.4M370.1 87.92h31.4M401.3 89.93h31.4M401.3 90.93h31.4" stroke="#eac0ba" stroke-width="1.15" fill="none"/>
<path d="M182.8 85.91h31.4" stroke="#d2bab4" stroke-width="1.15" fill="none"/>
<path d="M182.8 86.92h31.4M182.8 92.93h31.4M182.8 110.98h31.4" stroke="#a2c6de" stroke-width="1.15" fill="none"/>
<path d="M182.8 88.92h31.4" stroke="#c0a2a8" stroke-width="1.15" fill="none"/>
<path d="M182.8 90.93h31.4M182.8 146.07h31.4" stroke="#c0c0c6" stroke-width="1.15" fill="none"/>
<path d="M182.8 91.93h31.4" stroke="#90a2c0" stroke-width="1.15" fill="none"/>
<path d="M182.8 93.94h31.4M182.8 180.16h31.4" stroke="#c0d8e4" stroke-width="1.15" fill="none"/>
<path d="M182.8 96.94h31.4M182.8 158.10h31.4" stroke="#bac6d2" stroke-width="1.15" fill="none"/>
<path d="M182.8 97.95h31.4M214.1 181.16h31.4M401.3 101.96h31.4" stroke="#d8c6c6" stroke-width="1.15" fill="none"/>
<path d="M182.8 98.95h31.4" stroke="#72a2cc" stroke-width="1.15" fill="none"/>
<path d="M182.8 99.95h31.4M401.3 146.07h31.4" stroke="#dedee4" stroke-width="1.15" fill="none"/>
<path d="M182.8 100.95h31.4" stroke="#c0a8ae" stroke-width="1.15" fill="none"/>
<path d="M182.8 101.96h31.4M182.8 163.12h31.4M245.3 123.01h31.4" stroke="#d2dee4" stroke-width="1.15" fill="none"/>
<path d="M182.8 102.96h31.4" stroke="#8496a8" stroke-width="1.15" fill="none"/>
<path d="M182.8 103.96h31.4M182.8 164.12h31.4M214.1 113.99h31.4" stroke="#c6d8e4" stroke-width="1.15" fill="none"/>
<path d="M182.8 104.96h31.4" stroke="#66789c" stroke-width="1.15" fill="none"/>
<path d="M182.8 105.97h31.4" stroke="#4e84ba" stroke-width="1.15" fill="none"/>
<path d="M182.8 107.97h31.4" stroke="#b4bacc" stroke-width="1.15" fill="none"/>
<path d="M182.8 108.97h31.4" stroke="#96a2b4" stroke-width="1.15" fill="none"/>
<path d="M182.8 109.98h31.4" stroke="#d2d2d8" stroke-width="1.15" fill="none"/>
<path d="M182.8 111.98h31.4" stroke="#a89ca8" stroke-width="1.15" fill="none"/>
<path d="M182.8 112.99h31.4M182.8 135.04h31.4" stroke="#b48484" stroke-width="1.15" fill="none"/>
<path d="M182.8 114.99h31.4M370.1 184.17h31.4" stroke="#cc7866" stroke-width="1.15" fill="none"/>
<path d="M182.8 117.00h31.4M401.3 119.00h31.4" stroke="#bab4c0" stroke-width="1.15" fill="none"/>
<path d="M182.8 120.00h31.4" stroke="#dec0ba" stroke-width="1.15" fill="none"/>
<path d="M182.8 122.01h31.4" stroke="#f0d8d8" stroke-width="1.15" fill="none"/>
<path d="M182.8 123.01h31.4" stroke="#9c7e84" stroke-width="1.15" fill="none"/>
<path d="M182.8 124.01h31.4M214.1 175.15h31.4" stroke="#c67e72" stroke-width="1.15" fill="none"/>
<path d="M182.8 127.02h31.4" stroke="#847890" stroke-width="1.15" fill="none"/>
<path d="M182.8 128.03h31.4M245.3 82.91h31.4M245.3 112.99h31.4M245.3 144.07h31.4M245.3 152.09h31.4M245.3 185.18h31.4M276.5 193.20h31.4" stroke="#c6e4f0" stroke-width="1.15" fill="none"/>
<path d="M182.8 129.03h31.4" stroke="#e4f0f0" stroke-width="1.15" fill="none"/>
<path d="M182.8 132.04h31.4" stroke="#aeccde" stroke-width="1.15" fill="none"/>
<path d="M182.8 133.04h31.4" stroke="#f6fcfc" stroke-width="1.15" fill="none"/>
<path d="M182.8 137.05h31.4" stroke="#aec6d8" stroke-width="1.15" fill="none"/>
<path d="M182.8 139.05h31.4M214.1 154.09h31.4M401.3 108.97h31.4M401.3 123.01h31.4" stroke="#ccc6cc" stroke-width="1.15" fill="none"/>
<path d="M182.8 143.06h31.4M245.3 88.92h31.4M401.3 87.92h31.4M401.3 176.15h31.4" stroke="#e4dee4" stroke-width="1.15" fill="none"/>
<path d="M182.8 144.07h31.4M182.8 185.18h31.4" stroke="#baccd8" stroke-width="1.15" fill="none"/>
<path d="M182.8 147.07h31.4" stroke="#aeb4c0" stroke-width="1.15" fill="none"/>
<path d="M182.8 148.08h31.4M182.8 192.19h31.4M245.3 143.06h31.4M401.3 145.07h31.4" stroke="#f0f0f0" stroke-width="1.15" fill="none"/>
<path d="M182.8 150.08h31.4" stroke="#a88a90" stroke-width="1.15" fill="none"/>
<path d="M182.8 151.09h31.4M214.1 121.01h31.4M370.1 142.06h31.4M370.1 153.09h31.4" stroke="#dea89c" stroke-width="1.15" fill="none"/>
<path d="M182.8 154.09h31.4M182.8 173.14h31.4M214.1 118.00h31.4M401.3 140.06h31.4" stroke="#f0f6fc" stroke-width="1.15" fill="none"/>
<path d="M182.8 155.10h31.4M214.1 169.13h31.4" stroke="#b4a8b4" stroke-width="1.15" fill="none"/>
<path d="M182.8 157.10h31.4M214.1 149.08h31.4" stroke="#c6c6cc" stroke-width="1.15" fill="none"/>
<path d="M182.8 159.11h31.4M276.5 123.01h31.4" stroke="#d2e4ea" stroke-width="1.15" fill="none"/>
<path d="M182.8 161.11h31.4" stroke="#baccde" stroke-width="1.15" fill="none"/>
<path d="M182.8 166.12h31.4" stroke="#9696a8" stroke-width="1.15" fill="none"/>
<path d="M182.8 167.13h31.4M214.1 82.91h31.4" stroke="#dee4ea" stroke-width="1.15" fill="none"/>
<path d="M182.8 168.13h31.4" stroke="#9c8490" stroke-width="1.15" fill="none"/>
<path d="M182.8 169.13h31.4" stroke="#c6d2e4" stroke-width="1.15" fill="none"/>
<path d="M182.8 170.14h31.4" stroke="#baa2a2" stroke-width="1.15" fill="none"/>
<path d="M182.8 171.14h31.4M370.1 105.97h31.4M370.1 149.08h31.4M370.1 162.11h31.4M401.3 175.15h31.4" stroke="#e4bab4" stroke-width="1.15" fill="none"/>
<path d="M182.8 172.14h31.4M214.1 105.97h31.4" stroke="#c0d2e4" stroke-width="1.15" fill="none"/>
<path d="M182.8 174.15h31.4M401.3 91.93h31.4M401.3 191.19h31.4" stroke="#d8e4ea" stroke-width="1.15" fill="none"/>
<path d="M182.8 175.15h31.4M370.1 143.06h31.4" stroke="#f6eae4" stroke-width="1.15" fill="none"/>
<path d="M182.8 176.15h31.4" stroke="#84a2c0" stroke-width="1.15" fill="none"/>
<path d="M182.8 182.17h31.4" stroke="#e4cccc" stroke-width="1.15" fill="none"/>
<path d="M182.8 183.17h31.4" stroke="#a2c0d2" stroke-width="1.15" fill="none"/>
<path d="M182.8 184.17h31.4" stroke="#c6c6d2" stroke-width="1.15" fill="none"/>
<path d="M182.8 186.18h31.4M401.3 120.00h31.4M401.3 130.03h31.4M401.3 133.04h31.4M401.3 169.13h31.4" stroke="#e4dede" stroke-width="1.15" fill="none"/>
<path d="M182.8 187.18h31.4M401.3 165.12h31.4" stroke="#deaea2" stroke-width="1.15" fill="none"/>
<path d="M182.8 188.18h31.4M214.1 87.92h31.4" stroke="#c0ccd8" stroke-width="1.15" fill="none"/>
<path d="M182.8 189.19h31.4" stroke="#c6ccd8" stroke-width="1.15" fill="none"/>
<path d="M182.8 191.19h31.4" stroke="#ded2d2" stroke-width="1.15" fill="none"/>
<path d="M214.1 80.90h31.4M245.3 148.08h31.4M401.3 187.18h31.4" stroke="#deeaf0" stroke-width="1.15" fill="none"/>
<path d="M214.1 81.90h31.4M401.3 185.18h31.4" stroke="#f6e4de" stroke-width="1.15" fill="none"/>
<path d="M214.1 83.91h31.4M370.1 173.14h31.4M401.3 160.11h31.4" stroke="#d8a29c" stroke-width="1.15" fill="none"/>
<path d="M214.1 84.91h31.4M401.3 184.17h31.4" stroke="#debaba" stroke-width="1.15" fill="none"/>
<path d="M214.1 85.91h31.4M214.1 95.94h31.4M370.1 172.14h31.4M370.1 176.15h31.4M370.1 189.19h31.4M401.3 138.05h31.4" stroke="#e4b4a8" stroke-width="1.15" fill="none"/>
<path d="M214.1 88.92h31.4M370.1 101.96h31.4M370.1 148.08h31.4" stroke="#cc786c" stroke-width="1.15" fill="none"/>
<path d="M214.1 89.93h31.4" stroke="#a2a8b4" stroke-width="1.15" fill="none"/>
<path d="M214.1 90.93h31.4M370.1 136.05h31.4M370.1 181.16h31.4M401.3 110.98h31.4M401.3 141.06h31.4M401.3 163.12h31.4" stroke="#eac6ba" stroke-width="1.15" fill="none"/>
<path d="M214.1 91.93h31.4" stroke="#a8aec0" stroke-width="1.15" fill="none"/>
<path d="M214.1 92.93h31.4M370.1 89.93h31.4M370.1 138.05h31.4M370.1 166.12h31.4" stroke="#d8b4ae" stroke-width="1.15" fill="none"/>
<path d="M214.1 93.94h31.4" stroke="#ccd2d8" stroke-width="1.15" fill="none"/>
<path d="M214.1 94.94h31.4" stroke="#8ab4d8" stroke-width="1.15" fill="none"/>
<path d="M214.1 96.94h31.4M401.3 128.03h31.4" stroke="#deb4a8" stroke-width="1.15" fill="none"/>
<path d="M214.1 97.95h31.4M370.1 122.01h31.4" stroke="#c07e78" stroke-width="1.15" fill="none"/>
<path d="M214.1 99.95h31.4M214.1 156.10h31.4" stroke="#d8cccc" stroke-width="1.15" fill="none"/>
<path d="M214.1 100.95h31.4M401.3 107.97h31.4" stroke="#c67e78" stroke-width="1.15" fill="none"/>
<path d="M214.1 101.96h31.4" stroke="#dea8a2" stroke-width="1.15" fill="none"/>
<path d="M214.1 102.96h31.4M401.3 103.96h31.4M401.3 171.14h31.4" stroke="#d2c0c0" stroke-width="1.15" fill="none"/>
<path d="M214.1 104.96h31.4" stroke="#668ab4" stroke-width="1.15" fill="none"/>
<path d="M214.1 106.97h31.4M401.3 162.11h31.4" stroke="#c6c0c6" stroke-width="1.15" fill="none"/>
<path d="M214.1 107.97h31.4" stroke="#ae8a8a" stroke-width="1.15" fill="none"/>
<path d="M214.1 108.97h31.4" stroke="#ccc0c0" stroke-width="1.15" fill="none"/>
<path d="M214.1 109.98h31.4" stroke="#d2aea8" stroke-width="1.15" fill="none"/>
<path d="M214.1 110.98h31.4M370.1 140.06h31.4" stroke="#f0e4e4" stroke-width="1.15" fill="none"/>
<path d="M214.1 111.98h31.4" stroke="#b48a8a" stroke-width="1.15" fill="none"/>
<path d="M214.1 112.99h31.4" stroke="#b47272" stroke-width="1.15" fill="none"/>
<path d="M214.1 114.99h31.4" stroke="#ba6060" stroke-width="1.15" fill="none"/>
<path d="M214.1 115.99h31.4" stroke="#84a8c6" stroke-width="1.15" fill="none"/>
<path d="M214.1 117.00h31.4M401.3 93.94h31.4" stroke="#d8d2d2" stroke-width="1.15" fill="none"/>
<path d="M214.1 119.00h31.4" stroke="#a2a2ae" stroke-width="1.15" fill="none"/>
<path d="M214.1 120.00h31.4" stroke="#c69690" stroke-width="1.15" fill="none"/>
<path d="M214.1 122.01h31.4" stroke="#b4b4c0" stroke-width="1.15" fill="none"/>
<path d="M214.1 123.01h31.4" stroke="#a87272" stroke-width="1.15" fill="none"/>
<path d="M214.1 124.01h31.4" stroke="#c06654" stroke-width="1.15" fill="none"/>
<path d="M214.1 126.02h31.4" stroke="#e4c6c6" stroke-width="1.15" fill="none"/>
<path d="M214.1 127.02h31.4" stroke="#7e4854" stroke-width="1.15" fill="none"/>
<path d="M214.1 128.03h31.4M370.1 114.99h31.4M370.1 147.07h31.4M370.1 185.18h31.4M370.1 190.19h31.4" stroke="#e4baae" stroke-width="1.15" fill="none"/>
<path d="M214.1 129.03h31.4" stroke="#c0847e" stroke-width="1.15" fill="none"/>
<path d="M214.1 130.03h31.4" stroke="#a8a2ae" stroke-width="1.15" fill="none"/>
<path d="M214.1 131.03h31.4" stroke="#ccd2de" stroke-width="1.15" fill="none"/>
<path d="M214.1 132.04h31.4M370.1 123.01h31.4M401.3 118.00h31.4M401.3 129.03h31.4" stroke="#d8dee4" stroke-width="1.15" fill="none"/>
<path d="M214.1 133.04h31.4" stroke="#e4aea8" stroke-width="1.15" fill="none"/>
<path d="M214.1 134.04h31.4" stroke="#a8aeba" stroke-width="1.15" fill="none"/>
<path d="M214.1 135.04h31.4" stroke="#cc9690" stroke-width="1.15" fill="none"/>
<path d="M214.1 136.05h31.4" stroke="#b4969c" stroke-width="1.15" fill="none"/>
<path d="M214.1 137.05h31.4M245.3 80.90h31.4" stroke="#a8ccde" stroke-width="1.15" fill="none"/>
<path d="M214.1 138.05h31.4" stroke="#909cb4" stroke-width="1.15" fill="none"/>
<path d="M214.1 139.05h31.4" stroke="#ccb4ae" stroke-width="1.15" fill="none"/>
<path d="M214.1 140.06h31.4M370.1 106.97h31.4M370.1 125.02h31.4M370.1 187.18h31.4M401.3 106.97h31.4" stroke="#e4ccc6" stroke-width="1.15" fill="none"/>
<path d="M214.1 141.06h31.4" stroke="#f6f6f6" stroke-width="1.15" fill="none"/>
<path d="M214.1 142.06h31.4M276.5 168.13h31.4" stroke="#aed2e4" stroke-width="1.15" fill="none"/>
<path d="M214.1 143.06h31.4M370.1 83.91h31.4" stroke="#d89c96" stroke-width="1.15" fill="none"/>
<path d="M214.1 144.07h31.4" stroke="#e4e4e4" stroke-width="1.15" fill="none"/>
<path d="M214.1 145.07h31.4" stroke="#a89096" stroke-width="1.15" fill="none"/>
<path d="M214.1 146.07h31.4" stroke="#aea2a8" stroke-width="1.15" fill="none"/>
<path d="M214.1 147.07h31.4M370.1 137.05h31.4M401.3 80.90h31.4M401.3 153.09h31.4" stroke="#e4c6c0" stroke-width="1.15" fill="none"/>
<path d="M214.1 148.08h31.4" stroke="#c06660" stroke-width="1.15" fill="none"/>
<path d="M214.1 150.08h31.4" stroke="#c6aeae" stroke-width="1.15" fill="none"/>
<path d="M214.1 151.09h31.4M214.1 163.12h31.4M214.1 182.17h31.4M370.1 119.00h31.4" stroke="#d28a7e" stroke-width="1.15" fill="none"/>
<path d="M214.1 152.09h31.4M370.1 167.13h31.4" stroke="#f6e4e4" stroke-width="1.15" fill="none"/>
<path d="M214.1 155.10h31.4M370.1 82.91h31.4M370.1 117.00h31.4" stroke="#cc8478" stroke-width="1.15" fill="none"/>
<path d="M214.1 157.10h31.4" stroke="#b4a2a2" stroke-width="1.15" fill="none"/>
<path d="M214.1 158.10h31.4" stroke="#bac0cc" stroke-width="1.15" fill="none"/>
<path d="M214.1 159.11h31.4" stroke="#a296a8" stroke-width="1.15" fill="none"/>
<path d="M214.1 161.11h31.4" stroke="#c0bac6" stroke-width="1.15" fill="none"/>
<path d="M214.1 162.11h31.4" stroke="#7e90a8" stroke-width="1.15" fill="none"/>
<path d="M214.1 164.12h31.4" stroke="#8a9cae" stroke-width="1.15" fill="none"/>
<path d="M214.1 165.12h31.4M214.1 187.18h31.4M370.1 113.99h31.4M370.1 182.17h31.4M401.3 100.95h31.4" stroke="#d8968a" stroke-width="1.15" fill="none"/>
<path d="M214.1 166.12h31.4" stroke="#9c8496" stroke-width="1.15" fill="none"/>
<path d="M214.1 168.13h31.4" stroke="#a8bad2" stroke-width="1.15" fill="none"/>
<path d="M214.1 170.14h31.4" stroke="#c0d2de" stroke-width="1.15" fill="none"/>
<path d="M214.1 171.14h31.4" stroke="#c09696" stroke-width="1.15" fill="none"/>
<path d="M214.1 172.14h31.4" stroke="#908a9c" stroke-width="1.15" fill="none"/>
<path d="M214.1 174.15h31.4" stroke="#d2c6c6" stroke-width="1.15" fill="none"/>
<path d="M214.1 176.15h31.4M370.1 103.96h31.4" stroke="#ae9ca8" stroke-width="1.15" fill="none"/>
<path d="M214.1 177.15h31.4M401.3 137.05h31.4" stroke="#c0bac0" stroke-width="1.15" fill="none"/>
<path d="M214.1 178.16h31.4M245.3 84.91h31.4M245.3 114.99h31.4M245.3 120.00h31.4M245.3 145.07h31.4M276.5 88.92h31.4" stroke="#d8eaf6" stroke-width="1.15" fill="none"/>
<path d="M214.1 180.16h31.4" stroke="#a2aec6" stroke-width="1.15" fill="none"/>
<path d="M214.1 183.17h31.4" stroke="#a896a2" stroke-width="1.15" fill="none"/>
<path d="M214.1 184.17h31.4" stroke="#f0e4de" stroke-width="1.15" fill="none"/>
<path d="M214.1 185.18h31.4M245.3 151.09h31.4M401.3 95.94h31.4" stroke="#d8d2d8" stroke-width="1.15" fill="none"/>
<path d="M214.1 189.19h31.4" stroke="#ae909c" stroke-width="1.15" fill="none"/>
<path d="M214.1 191.19h31.4" stroke="#ccbac0" stroke-width="1.15" fill="none"/>
<path d="M214.1 192.19h31.4" stroke="#8a5460" stroke-width="1.15" fill="none"/>
<path d="M214.1 193.20h31.4M401.3 143.06h31.4" stroke="#f0ded8" stroke-width="1.15" fill="none"/>
<path d="M214.1 194.20h31.4" stroke="#d2deea" stroke-width="1.15" fill="none"/>
<path d="M245.3 100.95h31.4M401.3 170.14h31.4" stroke="#d2d8de" stroke-width="1.15" fill="none"/>
<path d="M245.3 107.97h31.4M245.3 161.11h31.4M276.5 86.92h31.4M276.5 100.95h31.4M276.5 157.10h31.4M401.3 149.08h31.4" stroke="#b4d2ea" stroke-width="1.15" fill="none"/>
<path d="M245.3 111.98h31.4M245.3 146.07h31.4" stroke="#b4d2e4" stroke-width="1.15" fill="none"/>
<path d="M245.3 124.01h31.4" stroke="#def0f6" stroke-width="1.15" fill="none"/>
<path d="M245.3 125.02h31.4" stroke="#90c6de" stroke-width="1.15" fill="none"/>
<path d="M245.3 126.02h31.4M276.5 151.09h31.4" stroke="#eaf6fc" stroke-width="1.15" fill="none"/>
<path d="M245.3 128.03h31.4M245.3 154.09h31.4M245.3 182.17h31.4M401.3 125.02h31.4" stroke="#e4f0f6" stroke-width="1.15" fill="none"/>
<path d="M245.3 133.04h31.4" stroke="#ccd8de" stroke-width="1.15" fill="none"/>
<path d="M245.3 134.04h31.4M370.1 99.95h31.4M401.3 99.95h31.4" stroke="#d2eaf6" stroke-width="1.15" fill="none"/>
<path d="M245.3 141.06h31.4" stroke="#ccdef0" stroke-width="1.15" fill="none"/>
<path d="M245.3 157.10h31.4" stroke="#e4eaf6" stroke-width="1.15" fill="none"/>
<path d="M245.3 168.13h31.4" stroke="#aecce4" stroke-width="1.15" fill="none"/>
<path d="M276.5 94.94h31.4" stroke="#6caed2" stroke-width="1.15" fill="none"/>
<path d="M276.5 114.99h31.4" stroke="#d8e4f0" stroke-width="1.15" fill="none"/>
<path d="M276.5 165.12h31.4M276.5 191.19h31.4" stroke="#badeea" stroke-width="1.15" fill="none"/>
<path d="M370.1 80.90h31.4" stroke="#c6786c" stroke-width="1.15" fill="none"/>
<path d="M370.1 81.90h31.4" stroke="#d2c6cc" stroke-width="1.15" fill="none"/>
<path d="M370.1 84.91h31.4" stroke="#cc7e72" stroke-width="1.15" fill="none"/>
<path d="M370.1 85.91h31.4M370.1 174.15h31.4" stroke="#d29690" stroke-width="1.15" fill="none"/>
<path d="M370.1 86.92h31.4" stroke="#a8787e" stroke-width="1.15" fill="none"/>
<path d="M370.1 88.92h31.4M401.3 81.90h31.4" stroke="#eaeaf0" stroke-width="1.15" fill="none"/>
<path d="M370.1 90.93h31.4" stroke="#c66c60" stroke-width="1.15" fill="none"/>
<path d="M370.1 92.93h31.4M370.1 135.04h31.4" stroke="#d28472" stroke-width="1.15" fill="none"/>
<path d="M370.1 93.94h31.4M370.1 169.13h31.4" stroke="#ccb4b4" stroke-width="1.15" fill="none"/>
<path d="M370.1 94.94h31.4" stroke="#d89084" stroke-width="1.15" fill="none"/>
<path d="M370.1 95.94h31.4" stroke="#eaccc0" stroke-width="1.15" fill="none"/>
<path d="M370.1 96.94h31.4" stroke="#ead2c6" stroke-width="1.15" fill="none"/>
<path d="M370.1 97.95h31.4" stroke="#dea29c" stroke-width="1.15" fill="none"/>
<path d="M370.1 98.95h31.4M401.3 155.10h31.4" stroke="#d29c90" stroke-width="1.15" fill="none"/>
<path d="M370.1 100.95h31.4M370.1 121.01h31.4" stroke="#b4483c" stroke-width="1.15" fill="none"/>
<path d="M370.1 102.96h31.4M370.1 126.02h31.4M370.1 194.20h31.4" stroke="#d8a296" stroke-width="1.15" fill="none"/>
<path d="M370.1 104.96h31.4M370.1 139.05h31.4M370.1 170.14h31.4" stroke="#dea296" stroke-width="1.15" fill="none"/>
<path d="M370.1 107.97h31.4" stroke="#c66c5a" stroke-width="1.15" fill="none"/>
<path d="M370.1 108.97h31.4" stroke="#d89690" stroke-width="1.15" fill="none"/>
<path d="M370.1 109.98h31.4" stroke="#b44e42" stroke-width="1.15" fill="none"/>
<path d="M370.1 110.98h31.4M370.1 130.03h31.4M370.1 175.15h31.4M401.3 98.95h31.4M401.3 135.04h31.4" stroke="#e4b4ae" stroke-width="1.15" fill="none"/>
<path d="M370.1 111.98h31.4" stroke="#d8baba" stroke-width="1.15" fill="none"/>
<path d="M370.1 112.99h31.4M370.1 145.07h31.4M370.1 154.09h31.4" stroke="#d29084" stroke-width="1.15" fill="none"/>
<path d="M370.1 115.99h31.4" stroke="#cc8a7e" stroke-width="1.15" fill="none"/>
<path d="M370.1 118.00h31.4M401.3 85.91h31.4M401.3 168.13h31.4M401.3 190.19h31.4" stroke="#e4c0ba" stroke-width="1.15" fill="none"/>
<path d="M370.1 120.00h31.4" stroke="#d8907e" stroke-width="1.15" fill="none"/>
<path d="M370.1 124.01h31.4M370.1 129.03h31.4M401.3 189.19h31.4" stroke="#dec6c6" stroke-width="1.15" fill="none"/>
<path d="M370.1 127.02h31.4" stroke="#ead2cc" stroke-width="1.15" fill="none"/>
<path d="M370.1 131.03h31.4M370.1 177.15h31.4" stroke="#d28478" stroke-width="1.15" fill="none"/>
<path d="M370.1 132.04h31.4" stroke="#ded2cc" stroke-width="1.15" fill="none"/>
<path d="M370.1 133.04h31.4M370.1 192.19h31.4M401.3 111.98h31.4" stroke="#e4aea2" stroke-width="1.15" fill="none"/>
<path d="M370.1 134.04h31.4" stroke="#d2aea2" stroke-width="1.15" fill="none"/>
<path d="M370.1 141.06h31.4" stroke="#f6f0ea" stroke-width="1.15" fill="none"/>
<path d="M370.1 144.07h31.4M370.1 150.08h31.4" stroke="#d2908a" stroke-width="1.15" fill="none"/>
<path d="M370.1 146.07h31.4" stroke="#d2a8a2" stroke-width="1.15" fill="none"/>
<path d="M370.1 151.09h31.4M401.3 167.13h31.4" stroke="#c6d2de" stroke-width="1.15" fill="none"/>
<path d="M370.1 152.09h31.4" stroke="#cca29c" stroke-width="1.15" fill="none"/>
<path d="M370.1 155.10h31.4" stroke="#ba9ca2" stroke-width="1.15" fill="none"/>
<path d="M370.1 156.10h31.4M401.3 112.99h31.4" stroke="#d8d8de" stroke-width="1.15" fill="none"/>
<path d="M370.1 157.10h31.4M370.1 178.16h31.4M401.3 84.91h31.4M401.3 102.96h31.4" stroke="#deaea8" stroke-width="1.15" fill="none"/>
<path d="M370.1 158.10h31.4" stroke="#c08a84" stroke-width="1.15" fill="none"/>
<path d="M370.1 159.11h31.4M401.3 97.95h31.4M401.3 115.99h31.4" stroke="#ead8d8" stroke-width="1.15" fill="none"/>
<path d="M370.1 160.11h31.4" stroke="#c6908a" stroke-width="1.15" fill="none"/>
<path d="M370.1 161.11h31.4" stroke="#c0a2a2" stroke-width="1.15" fill="none"/>
<path d="M370.1 163.12h31.4" stroke="#cc8a84" stroke-width="1.15" fill="none"/>
<path d="M370.1 165.12h31.4M401.3 122.01h31.4M401.3 131.03h31.4" stroke="#e4c0b4" stroke-width="1.15" fill="none"/>
<path d="M370.1 168.13h31.4" stroke="#cc7260" stroke-width="1.15" fill="none"/>
<path d="M370.1 171.14h31.4M401.3 179.16h31.4" stroke="#d89684" stroke-width="1.15" fill="none"/>
<path d="M370.1 179.16h31.4" stroke="#ba5448" stroke-width="1.15" fill="none"/>
<path d="M370.1 180.16h31.4" stroke="#f0ccc6" stroke-width="1.15" fill="none"/>
<path d="M370.1 183.17h31.4" stroke="#ae4e48" stroke-width="1.15" fill="none"/>
<path d="M370.1 186.18h31.4" stroke="#cc9084" stroke-width="1.15" fill="none"/>
<path d="M370.1 188.18h31.4M401.3 150.08h31.4M401.3 157.10h31.4" stroke="#d89c90" stroke-width="1.15" fill="none"/>
<path d="M370.1 191.19h31.4" stroke="#d8a8a2" stroke-width="1.15" fill="none"/>
<path d="M370.1 193.20h31.4" stroke="#d29c96" stroke-width="1.15" fill="none"/>
<path d="M401.3 82.91h31.4" stroke="#d8c0ba" stroke-width="1.15" fill="none"/>
<path d="M401.3 83.91h31.4" stroke="#aea8ae" stroke-width="1.15" fill="none"/>
<path d="M401.3 86.92h31.4" stroke="#f0d8d2" stroke-width="1.15" fill="none"/>
<path d="M401.3 92.93h31.4" stroke="#d8bab4" stroke-width="1.15" fill="none"/>
<path d="M401.3 94.94h31.4M401.3 136.05h31.4" stroke="#eaccc6" stroke-width="1.15" fill="none"/>
<path d="M401.3 96.94h31.4" stroke="#ead8d2" stroke-width="1.15" fill="none"/>
<path d="M401.3 105.97h31.4" stroke="#f6eaea" stroke-width="1.15" fill="none"/>
<path d="M401.3 109.98h31.4M401.3 121.01h31.4" stroke="#d28a78" stroke-width="1.15" fill="none"/>
<path d="M401.3 113.99h31.4" stroke="#d2907e" stroke-width="1.15" fill="none"/>
<path d="M401.3 117.00h31.4" stroke="#c69c9c" stroke-width="1.15" fill="none"/>
<path d="M401.3 124.01h31.4" stroke="#ccbaba" stroke-width="1.15" fill="none"/>
<path d="M401.3 126.02h31.4" stroke="#e4d2d2" stroke-width="1.15" fill="none"/>
<path d="M401.3 127.02h31.4" stroke="#aebac6" stroke-width="1.15" fill="none"/>
<path d="M401.3 132.04h31.4" stroke="#e4e4ea" stroke-width="1.15" fill="none"/>
<path d="M401.3 134.04h31.4" stroke="#cca8a2" stroke-width="1.15" fill="none"/>
<path d="M401.3 139.05h31.4" stroke="#c0b4b4" stroke-width="1.15" fill="none"/>
<path d="M401.3 144.07h31.4" stroke="#d2b4b4" stroke-width="1.15" fill="none"/>
<path d="M401.3 147.07h31.4" stroke="#a8909c" stroke-width="1.15" fill="none"/>
<path d="M401.3 148.08h31.4" stroke="#f0eaea" stroke-width="1.15" fill="none"/>
<path d="M401.3 154.09h31.4" stroke="#eadede" stroke-width="1.15" fill="none"/>
<path d="M401.3 156.10h31.4" stroke="#f0f0f6" stroke-width="1.15" fill="none"/>
<path d="M401.3 158.10h31.4" stroke="#d8c0c0" stroke-width="1.15" fill="none"/>
<path d="M401.3 161.11h31.4" stroke="#d2baba" stroke-width="1.15" fill="none"/>
<path d="M401.3 166.12h31.4" stroke="#f0f6f6" stroke-width="1.15" fill="none"/>
<path d="M401.3 173.14h31.4" stroke="#d8d8d8" stroke-width="1.15" fill="none"/>
<path d="M401.3 177.15h31.4M401.3 194.20h31.4" stroke="#e4d2cc" stroke-width="1.15" fill="none"/>
<path d="M401.3 178.16h31.4" stroke="#ccaeae" stroke-width="1.15" fill="none"/>
<path d="M401.3 183.17h31.4" stroke="#d89c8a" stroke-width="1.15" fill="none"/>
<path d="M401.3 186.18h31.4" stroke="#ccc6c6" stroke-width="1.15" fill="none"/>
<path d="M401.3 188.18h31.4" stroke="#f0d2c6" stroke-width="1.15" fill="none"/>
<path d="M401.3 192.19h31.4" stroke="#cca8a8" stroke-width="1.15" fill="none"/>
<path d="M401.3 193.20h31.4" stroke="#d2c0c6" stroke-width="1.15" fill="none"/>
<path d="M463.7 82.91h31.4M494.9 83.91h31.4M494.9 110.98h31.4M494.9 172.14h31.4M494.9 182.17h31.4M526.2 124.01h31.4M526.2 133.04h31.4" stroke="#488aba" stroke-width="1.15" fill="none"/>
<path d="M338.9 113.99h31.2M307.7 155.10h31.2M338.9 156.10h31.2M307.7 164.12h31.2" stroke="#a02020" stroke-width="1" fill="none"/>
<line x1="58.0" y1="195.0" x2="557.4" y2="195.0" stroke="#111" stroke-width="1.2"/>
<defs><linearGradient id="cba" x1="0" y1="0" x2="0" y2="1"><stop offset="0" stop-color="#8b1208"/><stop offset="0.25" stop-color="#cd7864"/><stop offset="0.5" stop-color="#fff"/><stop offset="0.75" stop-color="#6aaed6"/><stop offset="1" stop-color="#1c5aa0"/></linearGradient></defs>
<rect x="45.0" y="81.4" width="10.0" height="95.4" fill="url(#cba)"/>
<text x="41.0" y="88.0" text-anchor="end" textLength="29.0" lengthAdjust="spacingAndGlyphs">1.0</text>
<text x="41.0" y="111.8" text-anchor="end" textLength="29.0" lengthAdjust="spacingAndGlyphs">0.5</text>
<text x="41.0" y="135.7" text-anchor="end" textLength="11.6" lengthAdjust="spacingAndGlyphs">0</text>
<text x="41.0" y="159.6" text-anchor="end" textLength="41.1" lengthAdjust="spacingAndGlyphs">−0.5</text>
<text x="41.0" y="183.4" text-anchor="end" textLength="41.1" lengthAdjust="spacingAndGlyphs">−1.0</text>
<text x="564.0" y="101.0" textLength="86.0" lengthAdjust="spacingAndGlyphs">Cell type:</text>
<rect x="566.5" y="117.5" width="14.5" height="14.5" fill="#7b72b6"/>
<text x="588.0" y="131.5" textLength="97.0" lengthAdjust="spacingAndGlyphs">NPC (D20)</text>
<rect x="566.5" y="144.0" width="14.5" height="14.5" fill="#d2b48c"/>
<text x="588.0" y="158.0" textLength="78.0" lengthAdjust="spacingAndGlyphs">Neurons</text>
<text x="588.0" y="183.0" textLength="47.0" lengthAdjust="spacingAndGlyphs">(D53)</text>
</g>
<g id="pb">
<text x="14.2" y="250.7" font-weight="bold" fill="#000" style="font-size:31.5px" textLength="20.2" lengthAdjust="spacingAndGlyphs" stroke="#000" stroke-width="1.0" stroke-linejoin="round">b</text>
<text x="130.7" y="261.3" text-anchor="middle" textLength="62.0" lengthAdjust="spacingAndGlyphs">DMSO</text>
<line x1="72.5" y1="266.8" x2="187.8" y2="266.8" stroke="#222" stroke-width="1.3"/>
<rect x="70.5" y="269.8" width="60.2" height="10.7" fill="#0072b2"/>
<rect x="130.7" y="269.8" width="60.2" height="10.7" fill="#e69f00"/>
<text x="251.0" y="261.3" text-anchor="middle" textLength="70.0" lengthAdjust="spacingAndGlyphs">DOT1Li</text>
<line x1="192.8" y1="266.8" x2="308.2" y2="266.8" stroke="#222" stroke-width="1.3"/>
<rect x="190.8" y="269.8" width="60.2" height="10.7" fill="#0072b2"/>
<rect x="251.0" y="269.8" width="60.2" height="10.7" fill="#e69f00"/>
<text x="371.3" y="261.3" text-anchor="middle" textLength="92.0" lengthAdjust="spacingAndGlyphs">EHMT1/2i</text>
<line x1="313.2" y1="266.8" x2="428.5" y2="266.8" stroke="#222" stroke-width="1.3"/>
<rect x="311.2" y="269.8" width="60.2" height="10.7" fill="#0072b2"/>
<rect x="371.3" y="269.8" width="60.2" height="10.7" fill="#e69f00"/>
<text x="491.7" y="261.3" text-anchor="middle" textLength="58.0" lengthAdjust="spacingAndGlyphs">EZH2i</text>
<line x1="433.5" y1="266.8" x2="548.8" y2="266.8" stroke="#222" stroke-width="1.3"/>
<rect x="431.5" y="269.8" width="60.2" height="10.7" fill="#0072b2"/>
<rect x="491.7" y="269.8" width="60.2" height="10.7" fill="#e69f00"/>
<path d="M170.8 353.5h20.05v10.0h-20.05zM170.8 373.5h20.05v10.0h-20.05z" fill="#053061"/>
<path d="M391.4 283.5h20.05v10.0h-20.05zM170.8 363.5h20.05v10.0h-20.05zM170.8 393.5h20.05v10.0h-20.05zM170.8 413.5h20.05v10.0h-20.05zM170.8 433.5h20.05v10.0h-20.05zM371.3 503.5h20.05v10.0h-20.05z" fill="#2166ac"/>
<path d="M130.7 293.5h20.05v10.0h-20.05zM70.5 353.5h20.05v10.0h-20.05zM130.7 363.5h20.05v10.0h-20.05zM70.5 373.5h20.05v10.0h-20.05zM70.5 383.5h20.05v10.0h-20.05zM130.7 383.5h20.05v10.0h-20.05zM170.8 383.5h20.05v10.0h-20.05zM70.5 413.5h20.05v10.0h-20.05zM110.6 453.5h20.05v10.0h-20.05zM70.5 463.5h20.05v10.0h-20.05zM391.4 463.5h20.05v10.0h-20.05zM371.3 493.5h20.05v10.0h-20.05zM391.4 493.5h20.05v10.0h-20.05zM391.4 503.5h20.05v10.0h-20.05zM311.2 523.5h20.05v10.0h-20.05zM331.2 523.5h20.05v10.0h-20.05zM371.3 523.5h20.05v10.0h-20.05zM371.3 543.5h20.05v10.0h-20.05zM391.4 543.5h20.05v10.0h-20.05zM331.2 553.5h20.05v10.0h-20.05zM351.3 553.5h20.05v10.0h-20.05zM351.3 563.5h20.05v10.0h-20.05zM371.3 563.5h20.05v10.0h-20.05zM391.4 563.5h20.05v10.0h-20.05zM170.8 593.5h20.05v10.0h-20.05z" fill="#4393c3"/>
<path d="M70.5 283.5h20.05v10.0h-20.05zM90.6 283.5h20.05v10.0h-20.05zM170.8 283.5h20.05v10.0h-20.05zM311.2 283.5h20.05v10.0h-20.05zM351.3 283.5h20.05v10.0h-20.05zM371.3 283.5h20.05v10.0h-20.05zM70.5 293.5h20.05v10.0h-20.05zM90.6 293.5h20.05v10.0h-20.05zM110.6 293.5h20.05v10.0h-20.05zM150.7 293.5h20.05v10.0h-20.05zM170.8 293.5h20.05v10.0h-20.05zM90.6 303.5h20.05v10.0h-20.05zM110.6 303.5h20.05v10.0h-20.05zM150.7 303.5h20.05v10.0h-20.05zM170.8 303.5h20.05v10.0h-20.05zM230.9 303.5h20.05v10.0h-20.05zM251.0 303.5h20.05v10.0h-20.05zM311.2 313.5h20.05v10.0h-20.05zM331.2 313.5h20.05v10.0h-20.05zM351.3 313.5h20.05v10.0h-20.05zM371.3 313.5h20.05v10.0h-20.05zM391.4 313.5h20.05v10.0h-20.05zM411.4 313.5h20.05v10.0h-20.05zM511.7 313.5h20.05v10.0h-20.05zM311.2 323.5h20.05v10.0h-20.05zM331.2 323.5h20.05v10.0h-20.05zM351.3 323.5h20.05v10.0h-20.05zM371.3 323.5h20.05v10.0h-20.05zM391.4 323.5h20.05v10.0h-20.05zM411.4 323.5h20.05v10.0h-20.05zM311.2 333.5h20.05v10.0h-20.05zM331.2 333.5h20.05v10.0h-20.05zM351.3 333.5h20.05v10.0h-20.05zM371.3 333.5h20.05v10.0h-20.05zM411.4 333.5h20.05v10.0h-20.05zM150.7 343.5h20.05v10.0h-20.05zM491.7 343.5h20.05v10.0h-20.05zM511.7 343.5h20.05v10.0h-20.05zM130.7 353.5h20.05v10.0h-20.05zM150.7 353.5h20.05v10.0h-20.05zM371.3 353.5h20.05v10.0h-20.05zM391.4 353.5h20.05v10.0h-20.05zM70.5 363.5h20.05v10.0h-20.05zM90.6 363.5h20.05v10.0h-20.05zM150.7 363.5h20.05v10.0h-20.05zM371.3 363.5h20.05v10.0h-20.05zM391.4 363.5h20.05v10.0h-20.05zM90.6 373.5h20.05v10.0h-20.05zM130.7 373.5h20.05v10.0h-20.05zM150.7 373.5h20.05v10.0h-20.05zM451.5 373.5h20.05v10.0h-20.05zM150.7 383.5h20.05v10.0h-20.05zM230.9 383.5h20.05v10.0h-20.05zM291.1 383.5h20.05v10.0h-20.05zM70.5 393.5h20.05v10.0h-20.05zM150.7 393.5h20.05v10.0h-20.05zM170.8 403.5h20.05v10.0h-20.05zM371.3 403.5h20.05v10.0h-20.05zM391.4 403.5h20.05v10.0h-20.05zM90.6 413.5h20.05v10.0h-20.05zM130.7 413.5h20.05v10.0h-20.05zM150.7 413.5h20.05v10.0h-20.05zM230.9 413.5h20.05v10.0h-20.05zM90.6 423.5h20.05v10.0h-20.05zM110.6 423.5h20.05v10.0h-20.05zM170.8 423.5h20.05v10.0h-20.05zM130.7 433.5h20.05v10.0h-20.05zM351.3 433.5h20.05v10.0h-20.05zM371.3 433.5h20.05v10.0h-20.05zM391.4 433.5h20.05v10.0h-20.05zM451.5 433.5h20.05v10.0h-20.05zM170.8 443.5h20.05v10.0h-20.05zM371.3 443.5h20.05v10.0h-20.05zM411.4 443.5h20.05v10.0h-20.05zM150.7 453.5h20.05v10.0h-20.05zM170.8 453.5h20.05v10.0h-20.05zM331.2 453.5h20.05v10.0h-20.05zM371.3 453.5h20.05v10.0h-20.05zM391.4 453.5h20.05v10.0h-20.05zM90.6 463.5h20.05v10.0h-20.05zM110.6 463.5h20.05v10.0h-20.05zM150.7 463.5h20.05v10.0h-20.05zM190.8 483.5h20.05v10.0h-20.05zM210.9 483.5h20.05v10.0h-20.05zM230.9 483.5h20.05v10.0h-20.05zM251.0 483.5h20.05v10.0h-20.05zM271.1 483.5h20.05v10.0h-20.05zM291.1 483.5h20.05v10.0h-20.05zM170.8 493.5h20.05v10.0h-20.05zM311.2 493.5h20.05v10.0h-20.05zM351.3 493.5h20.05v10.0h-20.05zM411.4 493.5h20.05v10.0h-20.05zM170.8 503.5h20.05v10.0h-20.05zM311.2 503.5h20.05v10.0h-20.05zM331.2 503.5h20.05v10.0h-20.05zM351.3 503.5h20.05v10.0h-20.05zM411.4 503.5h20.05v10.0h-20.05zM70.5 513.5h20.05v10.0h-20.05zM170.8 513.5h20.05v10.0h-20.05zM351.3 513.5h20.05v10.0h-20.05zM371.3 513.5h20.05v10.0h-20.05zM391.4 513.5h20.05v10.0h-20.05zM411.4 513.5h20.05v10.0h-20.05zM351.3 523.5h20.05v10.0h-20.05zM391.4 523.5h20.05v10.0h-20.05zM411.4 523.5h20.05v10.0h-20.05zM70.5 533.5h20.05v10.0h-20.05zM90.6 533.5h20.05v10.0h-20.05zM110.6 533.5h20.05v10.0h-20.05zM130.7 533.5h20.05v10.0h-20.05zM150.7 533.5h20.05v10.0h-20.05zM170.8 533.5h20.05v10.0h-20.05zM331.2 533.5h20.05v10.0h-20.05zM351.3 533.5h20.05v10.0h-20.05zM371.3 533.5h20.05v10.0h-20.05zM391.4 533.5h20.05v10.0h-20.05zM411.4 533.5h20.05v10.0h-20.05zM190.8 543.5h20.05v10.0h-20.05zM230.9 543.5h20.05v10.0h-20.05zM311.2 543.5h20.05v10.0h-20.05zM411.4 543.5h20.05v10.0h-20.05zM70.5 553.5h20.05v10.0h-20.05zM110.6 553.5h20.05v10.0h-20.05zM150.7 553.5h20.05v10.0h-20.05zM411.4 553.5h20.05v10.0h-20.05zM491.7 553.5h20.05v10.0h-20.05zM70.5 563.5h20.05v10.0h-20.05zM130.7 563.5h20.05v10.0h-20.05zM311.2 563.5h20.05v10.0h-20.05zM451.5 563.5h20.05v10.0h-20.05zM90.6 573.5h20.05v10.0h-20.05zM150.7 573.5h20.05v10.0h-20.05zM170.8 573.5h20.05v10.0h-20.05zM311.2 573.5h20.05v10.0h-20.05zM331.2 573.5h20.05v10.0h-20.05zM351.3 573.5h20.05v10.0h-20.05zM371.3 573.5h20.05v10.0h-20.05zM391.4 573.5h20.05v10.0h-20.05zM411.4 573.5h20.05v10.0h-20.05zM90.6 583.5h20.05v10.0h-20.05zM311.2 583.5h20.05v10.0h-20.05zM331.2 583.5h20.05v10.0h-20.05zM351.3 583.5h20.05v10.0h-20.05zM371.3 583.5h20.05v10.0h-20.05zM391.4 583.5h20.05v10.0h-20.05zM411.4 583.5h20.05v10.0h-20.05zM70.5 593.5h20.05v10.0h-20.05zM150.7 593.5h20.05v10.0h-20.05z" fill="#92c5de"/>
<path d="M110.6 283.5h20.05v10.0h-20.05zM331.2 283.5h20.05v10.0h-20.05zM411.4 283.5h20.05v10.0h-20.05zM190.8 293.5h20.05v10.0h-20.05zM210.9 293.5h20.05v10.0h-20.05zM230.9 293.5h20.05v10.0h-20.05zM251.0 293.5h20.05v10.0h-20.05zM271.1 293.5h20.05v10.0h-20.05zM70.5 303.5h20.05v10.0h-20.05zM130.7 303.5h20.05v10.0h-20.05zM210.9 303.5h20.05v10.0h-20.05zM271.1 303.5h20.05v10.0h-20.05zM291.1 303.5h20.05v10.0h-20.05zM431.5 313.5h20.05v10.0h-20.05zM451.5 313.5h20.05v10.0h-20.05zM471.6 313.5h20.05v10.0h-20.05zM491.7 313.5h20.05v10.0h-20.05zM531.8 313.5h20.05v10.0h-20.05zM70.5 323.5h20.05v10.0h-20.05zM90.6 323.5h20.05v10.0h-20.05zM150.7 323.5h20.05v10.0h-20.05zM170.8 323.5h20.05v10.0h-20.05zM190.8 323.5h20.05v10.0h-20.05zM230.9 323.5h20.05v10.0h-20.05zM271.1 323.5h20.05v10.0h-20.05zM70.5 333.5h20.05v10.0h-20.05zM90.6 333.5h20.05v10.0h-20.05zM110.6 333.5h20.05v10.0h-20.05zM130.7 333.5h20.05v10.0h-20.05zM150.7 333.5h20.05v10.0h-20.05zM391.4 333.5h20.05v10.0h-20.05zM431.5 333.5h20.05v10.0h-20.05zM471.6 333.5h20.05v10.0h-20.05zM491.7 333.5h20.05v10.0h-20.05zM531.8 333.5h20.05v10.0h-20.05zM70.5 343.5h20.05v10.0h-20.05zM90.6 343.5h20.05v10.0h-20.05zM110.6 343.5h20.05v10.0h-20.05zM170.8 343.5h20.05v10.0h-20.05zM311.2 343.5h20.05v10.0h-20.05zM331.2 343.5h20.05v10.0h-20.05zM351.3 343.5h20.05v10.0h-20.05zM371.3 343.5h20.05v10.0h-20.05zM391.4 343.5h20.05v10.0h-20.05zM411.4 343.5h20.05v10.0h-20.05zM431.5 343.5h20.05v10.0h-20.05zM451.5 343.5h20.05v10.0h-20.05zM471.6 343.5h20.05v10.0h-20.05zM531.8 343.5h20.05v10.0h-20.05zM90.6 353.5h20.05v10.0h-20.05zM110.6 353.5h20.05v10.0h-20.05zM451.5 353.5h20.05v10.0h-20.05zM110.6 363.5h20.05v10.0h-20.05zM311.2 363.5h20.05v10.0h-20.05zM411.4 363.5h20.05v10.0h-20.05zM110.6 373.5h20.05v10.0h-20.05zM291.1 373.5h20.05v10.0h-20.05zM371.3 373.5h20.05v10.0h-20.05zM391.4 373.5h20.05v10.0h-20.05zM90.6 383.5h20.05v10.0h-20.05zM190.8 383.5h20.05v10.0h-20.05zM271.1 383.5h20.05v10.0h-20.05zM391.4 383.5h20.05v10.0h-20.05zM451.5 383.5h20.05v10.0h-20.05zM90.6 393.5h20.05v10.0h-20.05zM110.6 393.5h20.05v10.0h-20.05zM130.7 393.5h20.05v10.0h-20.05zM190.8 393.5h20.05v10.0h-20.05zM230.9 393.5h20.05v10.0h-20.05zM451.5 393.5h20.05v10.0h-20.05zM471.6 393.5h20.05v10.0h-20.05zM491.7 393.5h20.05v10.0h-20.05zM511.7 393.5h20.05v10.0h-20.05zM531.8 393.5h20.05v10.0h-20.05zM70.5 403.5h20.05v10.0h-20.05zM90.6 403.5h20.05v10.0h-20.05zM110.6 403.5h20.05v10.0h-20.05zM130.7 403.5h20.05v10.0h-20.05zM150.7 403.5h20.05v10.0h-20.05zM291.1 403.5h20.05v10.0h-20.05zM311.2 403.5h20.05v10.0h-20.05zM331.2 403.5h20.05v10.0h-20.05zM351.3 403.5h20.05v10.0h-20.05zM411.4 403.5h20.05v10.0h-20.05zM110.6 413.5h20.05v10.0h-20.05zM291.1 413.5h20.05v10.0h-20.05zM371.3 413.5h20.05v10.0h-20.05zM391.4 413.5h20.05v10.0h-20.05zM451.5 413.5h20.05v10.0h-20.05zM70.5 423.5h20.05v10.0h-20.05zM130.7 423.5h20.05v10.0h-20.05zM150.7 423.5h20.05v10.0h-20.05zM210.9 423.5h20.05v10.0h-20.05zM251.0 423.5h20.05v10.0h-20.05zM271.1 423.5h20.05v10.0h-20.05zM331.2 423.5h20.05v10.0h-20.05zM351.3 423.5h20.05v10.0h-20.05zM371.3 423.5h20.05v10.0h-20.05zM391.4 423.5h20.05v10.0h-20.05zM70.5 433.5h20.05v10.0h-20.05zM90.6 433.5h20.05v10.0h-20.05zM110.6 433.5h20.05v10.0h-20.05zM150.7 433.5h20.05v10.0h-20.05zM311.2 433.5h20.05v10.0h-20.05zM331.2 433.5h20.05v10.0h-20.05zM411.4 433.5h20.05v10.0h-20.05zM70.5 443.5h20.05v10.0h-20.05zM90.6 443.5h20.05v10.0h-20.05zM110.6 443.5h20.05v10.0h-20.05zM130.7 443.5h20.05v10.0h-20.05zM150.7 443.5h20.05v10.0h-20.05zM210.9 443.5h20.05v10.0h-20.05zM230.9 443.5h20.05v10.0h-20.05zM251.0 443.5h20.05v10.0h-20.05zM271.1 443.5h20.05v10.0h-20.05zM291.1 443.5h20.05v10.0h-20.05zM311.2 443.5h20.05v10.0h-20.05zM331.2 443.5h20.05v10.0h-20.05zM351.3 443.5h20.05v10.0h-20.05zM391.4 443.5h20.05v10.0h-20.05zM70.5 453.5h20.05v10.0h-20.05zM90.6 453.5h20.05v10.0h-20.05zM311.2 453.5h20.05v10.0h-20.05zM351.3 453.5h20.05v10.0h-20.05zM411.4 453.5h20.05v10.0h-20.05zM451.5 453.5h20.05v10.0h-20.05zM170.8 463.5h20.05v10.0h-20.05zM271.1 463.5h20.05v10.0h-20.05zM311.2 463.5h20.05v10.0h-20.05zM331.2 463.5h20.05v10.0h-20.05zM351.3 463.5h20.05v10.0h-20.05zM371.3 463.5h20.05v10.0h-20.05zM411.4 463.5h20.05v10.0h-20.05zM70.5 473.5h20.05v10.0h-20.05zM90.6 473.5h20.05v10.0h-20.05zM110.6 473.5h20.05v10.0h-20.05zM130.7 473.5h20.05v10.0h-20.05zM150.7 473.5h20.05v10.0h-20.05zM170.8 473.5h20.05v10.0h-20.05zM190.8 473.5h20.05v10.0h-20.05zM210.9 473.5h20.05v10.0h-20.05zM230.9 473.5h20.05v10.0h-20.05zM251.0 473.5h20.05v10.0h-20.05zM271.1 473.5h20.05v10.0h-20.05zM291.1 473.5h20.05v10.0h-20.05zM311.2 473.5h20.05v10.0h-20.05zM331.2 473.5h20.05v10.0h-20.05zM351.3 473.5h20.05v10.0h-20.05zM371.3 473.5h20.05v10.0h-20.05zM391.4 473.5h20.05v10.0h-20.05zM411.4 473.5h20.05v10.0h-20.05zM90.6 483.5h20.05v10.0h-20.05zM110.6 483.5h20.05v10.0h-20.05zM130.7 483.5h20.05v10.0h-20.05zM150.7 483.5h20.05v10.0h-20.05zM311.2 483.5h20.05v10.0h-20.05zM331.2 483.5h20.05v10.0h-20.05zM371.3 483.5h20.05v10.0h-20.05zM391.4 483.5h20.05v10.0h-20.05zM70.5 493.5h20.05v10.0h-20.05zM150.7 493.5h20.05v10.0h-20.05zM331.2 493.5h20.05v10.0h-20.05zM531.8 493.5h20.05v10.0h-20.05zM70.5 503.5h20.05v10.0h-20.05zM130.7 503.5h20.05v10.0h-20.05zM150.7 503.5h20.05v10.0h-20.05zM90.6 513.5h20.05v10.0h-20.05zM110.6 513.5h20.05v10.0h-20.05zM130.7 513.5h20.05v10.0h-20.05zM150.7 513.5h20.05v10.0h-20.05zM230.9 513.5h20.05v10.0h-20.05zM311.2 513.5h20.05v10.0h-20.05zM331.2 513.5h20.05v10.0h-20.05zM70.5 523.5h20.05v10.0h-20.05zM90.6 523.5h20.05v10.0h-20.05zM190.8 523.5h20.05v10.0h-20.05zM251.0 523.5h20.05v10.0h-20.05zM271.1 523.5h20.05v10.0h-20.05zM311.2 533.5h20.05v10.0h-20.05zM70.5 543.5h20.05v10.0h-20.05zM130.7 543.5h20.05v10.0h-20.05zM150.7 543.5h20.05v10.0h-20.05zM170.8 543.5h20.05v10.0h-20.05zM271.1 543.5h20.05v10.0h-20.05zM331.2 543.5h20.05v10.0h-20.05zM351.3 543.5h20.05v10.0h-20.05zM90.6 553.5h20.05v10.0h-20.05zM170.8 553.5h20.05v10.0h-20.05zM371.3 553.5h20.05v10.0h-20.05zM391.4 553.5h20.05v10.0h-20.05zM511.7 553.5h20.05v10.0h-20.05zM251.0 563.5h20.05v10.0h-20.05zM70.5 573.5h20.05v10.0h-20.05zM110.6 573.5h20.05v10.0h-20.05zM130.7 573.5h20.05v10.0h-20.05zM70.5 583.5h20.05v10.0h-20.05zM110.6 583.5h20.05v10.0h-20.05zM130.7 583.5h20.05v10.0h-20.05zM150.7 583.5h20.05v10.0h-20.05zM170.8 583.5h20.05v10.0h-20.05zM90.6 593.5h20.05v10.0h-20.05zM110.6 593.5h20.05v10.0h-20.05zM130.7 593.5h20.05v10.0h-20.05zM311.2 593.5h20.05v10.0h-20.05zM331.2 593.5h20.05v10.0h-20.05zM351.3 593.5h20.05v10.0h-20.05zM371.3 593.5h20.05v10.0h-20.05zM391.4 593.5h20.05v10.0h-20.05zM411.4 593.5h20.05v10.0h-20.05zM431.5 593.5h20.05v10.0h-20.05zM451.5 593.5h20.05v10.0h-20.05zM471.6 593.5h20.05v10.0h-20.05zM531.8 593.5h20.05v10.0h-20.05z" fill="#d1e5f0"/>
<path d="M130.7 283.5h20.05v10.0h-20.05zM150.7 283.5h20.05v10.0h-20.05zM451.5 283.5h20.05v10.0h-20.05zM291.1 293.5h20.05v10.0h-20.05zM371.3 293.5h20.05v10.0h-20.05zM190.8 303.5h20.05v10.0h-20.05zM311.2 303.5h20.05v10.0h-20.05zM331.2 303.5h20.05v10.0h-20.05zM391.4 303.5h20.05v10.0h-20.05zM411.4 303.5h20.05v10.0h-20.05zM70.5 313.5h20.05v10.0h-20.05zM90.6 313.5h20.05v10.0h-20.05zM110.6 313.5h20.05v10.0h-20.05zM150.7 313.5h20.05v10.0h-20.05zM110.6 323.5h20.05v10.0h-20.05zM130.7 323.5h20.05v10.0h-20.05zM210.9 323.5h20.05v10.0h-20.05zM251.0 323.5h20.05v10.0h-20.05zM291.1 323.5h20.05v10.0h-20.05zM170.8 333.5h20.05v10.0h-20.05zM511.7 333.5h20.05v10.0h-20.05zM130.7 343.5h20.05v10.0h-20.05zM291.1 353.5h20.05v10.0h-20.05zM351.3 353.5h20.05v10.0h-20.05zM291.1 363.5h20.05v10.0h-20.05zM331.2 363.5h20.05v10.0h-20.05zM351.3 363.5h20.05v10.0h-20.05zM431.5 373.5h20.05v10.0h-20.05zM471.6 373.5h20.05v10.0h-20.05zM431.5 383.5h20.05v10.0h-20.05zM491.7 383.5h20.05v10.0h-20.05zM511.7 383.5h20.05v10.0h-20.05zM371.3 393.5h20.05v10.0h-20.05zM431.5 393.5h20.05v10.0h-20.05zM251.0 403.5h20.05v10.0h-20.05zM311.2 413.5h20.05v10.0h-20.05zM351.3 413.5h20.05v10.0h-20.05zM190.8 423.5h20.05v10.0h-20.05zM230.9 423.5h20.05v10.0h-20.05zM291.1 423.5h20.05v10.0h-20.05zM311.2 423.5h20.05v10.0h-20.05zM411.4 423.5h20.05v10.0h-20.05zM291.1 433.5h20.05v10.0h-20.05zM190.8 443.5h20.05v10.0h-20.05zM130.7 453.5h20.05v10.0h-20.05zM210.9 453.5h20.05v10.0h-20.05zM291.1 453.5h20.05v10.0h-20.05zM251.0 463.5h20.05v10.0h-20.05zM70.5 483.5h20.05v10.0h-20.05zM170.8 483.5h20.05v10.0h-20.05zM351.3 483.5h20.05v10.0h-20.05zM411.4 483.5h20.05v10.0h-20.05zM90.6 493.5h20.05v10.0h-20.05zM130.7 493.5h20.05v10.0h-20.05zM451.5 493.5h20.05v10.0h-20.05zM471.6 493.5h20.05v10.0h-20.05zM491.7 493.5h20.05v10.0h-20.05zM511.7 493.5h20.05v10.0h-20.05zM230.9 503.5h20.05v10.0h-20.05zM190.8 513.5h20.05v10.0h-20.05zM210.9 513.5h20.05v10.0h-20.05zM150.7 523.5h20.05v10.0h-20.05zM230.9 523.5h20.05v10.0h-20.05zM291.1 523.5h20.05v10.0h-20.05zM251.0 543.5h20.05v10.0h-20.05zM291.1 543.5h20.05v10.0h-20.05zM130.7 553.5h20.05v10.0h-20.05zM311.2 553.5h20.05v10.0h-20.05zM471.6 553.5h20.05v10.0h-20.05zM90.6 563.5h20.05v10.0h-20.05zM150.7 563.5h20.05v10.0h-20.05zM271.1 563.5h20.05v10.0h-20.05zM291.1 563.5h20.05v10.0h-20.05zM331.2 563.5h20.05v10.0h-20.05zM431.5 563.5h20.05v10.0h-20.05zM471.6 563.5h20.05v10.0h-20.05zM271.1 573.5h20.05v10.0h-20.05z" fill="#f7f7f7"/>
<path d="M210.9 283.5h20.05v10.0h-20.05zM431.5 283.5h20.05v10.0h-20.05zM511.7 283.5h20.05v10.0h-20.05zM311.2 293.5h20.05v10.0h-20.05zM331.2 293.5h20.05v10.0h-20.05zM351.3 293.5h20.05v10.0h-20.05zM391.4 293.5h20.05v10.0h-20.05zM411.4 293.5h20.05v10.0h-20.05zM351.3 303.5h20.05v10.0h-20.05zM371.3 303.5h20.05v10.0h-20.05zM130.7 313.5h20.05v10.0h-20.05zM170.8 313.5h20.05v10.0h-20.05zM451.5 333.5h20.05v10.0h-20.05zM190.8 353.5h20.05v10.0h-20.05zM230.9 353.5h20.05v10.0h-20.05zM311.2 353.5h20.05v10.0h-20.05zM331.2 353.5h20.05v10.0h-20.05zM411.4 353.5h20.05v10.0h-20.05zM431.5 353.5h20.05v10.0h-20.05zM471.6 353.5h20.05v10.0h-20.05zM531.8 353.5h20.05v10.0h-20.05zM190.8 363.5h20.05v10.0h-20.05zM210.9 363.5h20.05v10.0h-20.05zM230.9 363.5h20.05v10.0h-20.05zM251.0 363.5h20.05v10.0h-20.05zM271.1 363.5h20.05v10.0h-20.05zM451.5 363.5h20.05v10.0h-20.05zM210.9 373.5h20.05v10.0h-20.05zM230.9 373.5h20.05v10.0h-20.05zM351.3 373.5h20.05v10.0h-20.05zM531.8 373.5h20.05v10.0h-20.05zM110.6 383.5h20.05v10.0h-20.05zM210.9 383.5h20.05v10.0h-20.05zM371.3 383.5h20.05v10.0h-20.05zM210.9 393.5h20.05v10.0h-20.05zM291.1 393.5h20.05v10.0h-20.05zM391.4 393.5h20.05v10.0h-20.05zM190.8 403.5h20.05v10.0h-20.05zM210.9 403.5h20.05v10.0h-20.05zM230.9 403.5h20.05v10.0h-20.05zM271.1 403.5h20.05v10.0h-20.05zM451.5 403.5h20.05v10.0h-20.05zM190.8 413.5h20.05v10.0h-20.05zM210.9 413.5h20.05v10.0h-20.05zM271.1 413.5h20.05v10.0h-20.05zM331.2 413.5h20.05v10.0h-20.05zM431.5 413.5h20.05v10.0h-20.05zM471.6 413.5h20.05v10.0h-20.05zM431.5 433.5h20.05v10.0h-20.05zM471.6 433.5h20.05v10.0h-20.05zM531.8 433.5h20.05v10.0h-20.05zM190.8 453.5h20.05v10.0h-20.05zM230.9 453.5h20.05v10.0h-20.05zM491.7 453.5h20.05v10.0h-20.05zM130.7 463.5h20.05v10.0h-20.05zM210.9 463.5h20.05v10.0h-20.05zM291.1 463.5h20.05v10.0h-20.05zM431.5 463.5h20.05v10.0h-20.05zM451.5 463.5h20.05v10.0h-20.05zM471.6 463.5h20.05v10.0h-20.05zM110.6 493.5h20.05v10.0h-20.05zM431.5 493.5h20.05v10.0h-20.05zM90.6 503.5h20.05v10.0h-20.05zM110.6 503.5h20.05v10.0h-20.05zM190.8 503.5h20.05v10.0h-20.05zM291.1 503.5h20.05v10.0h-20.05zM431.5 503.5h20.05v10.0h-20.05zM451.5 503.5h20.05v10.0h-20.05zM471.6 503.5h20.05v10.0h-20.05zM531.8 503.5h20.05v10.0h-20.05zM251.0 513.5h20.05v10.0h-20.05zM271.1 513.5h20.05v10.0h-20.05zM291.1 513.5h20.05v10.0h-20.05zM451.5 513.5h20.05v10.0h-20.05zM110.6 523.5h20.05v10.0h-20.05zM130.7 523.5h20.05v10.0h-20.05zM170.8 523.5h20.05v10.0h-20.05zM210.9 523.5h20.05v10.0h-20.05zM190.8 533.5h20.05v10.0h-20.05zM210.9 533.5h20.05v10.0h-20.05zM230.9 533.5h20.05v10.0h-20.05zM251.0 533.5h20.05v10.0h-20.05zM271.1 533.5h20.05v10.0h-20.05zM451.5 533.5h20.05v10.0h-20.05zM471.6 533.5h20.05v10.0h-20.05zM110.6 543.5h20.05v10.0h-20.05zM210.9 543.5h20.05v10.0h-20.05zM431.5 553.5h20.05v10.0h-20.05zM531.8 553.5h20.05v10.0h-20.05zM110.6 563.5h20.05v10.0h-20.05zM511.7 563.5h20.05v10.0h-20.05zM531.8 563.5h20.05v10.0h-20.05zM210.9 573.5h20.05v10.0h-20.05zM230.9 573.5h20.05v10.0h-20.05zM291.1 573.5h20.05v10.0h-20.05zM451.5 573.5h20.05v10.0h-20.05zM471.6 573.5h20.05v10.0h-20.05zM431.5 583.5h20.05v10.0h-20.05zM451.5 583.5h20.05v10.0h-20.05zM471.6 583.5h20.05v10.0h-20.05zM190.8 593.5h20.05v10.0h-20.05zM491.7 593.5h20.05v10.0h-20.05zM511.7 593.5h20.05v10.0h-20.05z" fill="#fddbc7"/>
<path d="M190.8 283.5h20.05v10.0h-20.05zM291.1 283.5h20.05v10.0h-20.05zM471.6 283.5h20.05v10.0h-20.05zM491.7 283.5h20.05v10.0h-20.05zM531.8 283.5h20.05v10.0h-20.05zM431.5 293.5h20.05v10.0h-20.05zM451.5 293.5h20.05v10.0h-20.05zM471.6 293.5h20.05v10.0h-20.05zM511.7 303.5h20.05v10.0h-20.05zM271.1 313.5h20.05v10.0h-20.05zM451.5 323.5h20.05v10.0h-20.05zM471.6 323.5h20.05v10.0h-20.05zM190.8 333.5h20.05v10.0h-20.05zM230.9 333.5h20.05v10.0h-20.05zM210.9 353.5h20.05v10.0h-20.05zM471.6 363.5h20.05v10.0h-20.05zM190.8 373.5h20.05v10.0h-20.05zM251.0 373.5h20.05v10.0h-20.05zM271.1 373.5h20.05v10.0h-20.05zM311.2 373.5h20.05v10.0h-20.05zM331.2 373.5h20.05v10.0h-20.05zM491.7 373.5h20.05v10.0h-20.05zM251.0 383.5h20.05v10.0h-20.05zM311.2 383.5h20.05v10.0h-20.05zM471.6 383.5h20.05v10.0h-20.05zM251.0 393.5h20.05v10.0h-20.05zM271.1 393.5h20.05v10.0h-20.05zM431.5 403.5h20.05v10.0h-20.05zM471.6 403.5h20.05v10.0h-20.05zM251.0 413.5h20.05v10.0h-20.05zM411.4 413.5h20.05v10.0h-20.05zM431.5 423.5h20.05v10.0h-20.05zM451.5 423.5h20.05v10.0h-20.05zM471.6 423.5h20.05v10.0h-20.05zM210.9 433.5h20.05v10.0h-20.05zM230.9 433.5h20.05v10.0h-20.05zM251.0 433.5h20.05v10.0h-20.05zM271.1 433.5h20.05v10.0h-20.05zM511.7 433.5h20.05v10.0h-20.05zM431.5 443.5h20.05v10.0h-20.05zM471.6 443.5h20.05v10.0h-20.05zM271.1 453.5h20.05v10.0h-20.05zM471.6 453.5h20.05v10.0h-20.05zM491.7 463.5h20.05v10.0h-20.05zM511.7 463.5h20.05v10.0h-20.05zM431.5 473.5h20.05v10.0h-20.05zM451.5 473.5h20.05v10.0h-20.05zM471.6 473.5h20.05v10.0h-20.05zM431.5 483.5h20.05v10.0h-20.05zM451.5 483.5h20.05v10.0h-20.05zM471.6 483.5h20.05v10.0h-20.05zM230.9 493.5h20.05v10.0h-20.05zM210.9 503.5h20.05v10.0h-20.05zM491.7 503.5h20.05v10.0h-20.05zM471.6 513.5h20.05v10.0h-20.05zM431.5 523.5h20.05v10.0h-20.05zM471.6 523.5h20.05v10.0h-20.05zM491.7 523.5h20.05v10.0h-20.05zM531.8 523.5h20.05v10.0h-20.05zM291.1 533.5h20.05v10.0h-20.05zM431.5 533.5h20.05v10.0h-20.05zM90.6 543.5h20.05v10.0h-20.05zM471.6 543.5h20.05v10.0h-20.05zM491.7 543.5h20.05v10.0h-20.05zM190.8 553.5h20.05v10.0h-20.05zM451.5 553.5h20.05v10.0h-20.05zM170.8 563.5h20.05v10.0h-20.05zM210.9 563.5h20.05v10.0h-20.05zM230.9 563.5h20.05v10.0h-20.05zM190.8 573.5h20.05v10.0h-20.05zM251.0 573.5h20.05v10.0h-20.05zM431.5 573.5h20.05v10.0h-20.05zM190.8 583.5h20.05v10.0h-20.05zM210.9 583.5h20.05v10.0h-20.05zM230.9 583.5h20.05v10.0h-20.05zM251.0 583.5h20.05v10.0h-20.05zM271.1 583.5h20.05v10.0h-20.05zM291.1 583.5h20.05v10.0h-20.05zM511.7 583.5h20.05v10.0h-20.05zM531.8 583.5h20.05v10.0h-20.05zM291.1 593.5h20.05v10.0h-20.05z" fill="#f4a582"/>
<path d="M230.9 283.5h20.05v10.0h-20.05zM251.0 283.5h20.05v10.0h-20.05zM271.1 283.5h20.05v10.0h-20.05zM511.7 293.5h20.05v10.0h-20.05zM531.8 293.5h20.05v10.0h-20.05zM431.5 303.5h20.05v10.0h-20.05zM451.5 303.5h20.05v10.0h-20.05zM471.6 303.5h20.05v10.0h-20.05zM491.7 303.5h20.05v10.0h-20.05zM531.8 303.5h20.05v10.0h-20.05zM190.8 313.5h20.05v10.0h-20.05zM210.9 313.5h20.05v10.0h-20.05zM230.9 313.5h20.05v10.0h-20.05zM251.0 313.5h20.05v10.0h-20.05zM291.1 313.5h20.05v10.0h-20.05zM431.5 323.5h20.05v10.0h-20.05zM210.9 333.5h20.05v10.0h-20.05zM190.8 343.5h20.05v10.0h-20.05zM230.9 343.5h20.05v10.0h-20.05zM251.0 343.5h20.05v10.0h-20.05zM271.1 343.5h20.05v10.0h-20.05zM251.0 353.5h20.05v10.0h-20.05zM271.1 353.5h20.05v10.0h-20.05zM491.7 353.5h20.05v10.0h-20.05zM511.7 353.5h20.05v10.0h-20.05zM431.5 363.5h20.05v10.0h-20.05zM491.7 363.5h20.05v10.0h-20.05zM511.7 363.5h20.05v10.0h-20.05zM411.4 373.5h20.05v10.0h-20.05zM511.7 373.5h20.05v10.0h-20.05zM331.2 383.5h20.05v10.0h-20.05zM351.3 383.5h20.05v10.0h-20.05zM411.4 383.5h20.05v10.0h-20.05zM411.4 393.5h20.05v10.0h-20.05zM491.7 413.5h20.05v10.0h-20.05zM531.8 413.5h20.05v10.0h-20.05zM511.7 423.5h20.05v10.0h-20.05zM491.7 433.5h20.05v10.0h-20.05zM451.5 443.5h20.05v10.0h-20.05zM251.0 453.5h20.05v10.0h-20.05zM431.5 453.5h20.05v10.0h-20.05zM511.7 453.5h20.05v10.0h-20.05zM531.8 453.5h20.05v10.0h-20.05zM531.8 463.5h20.05v10.0h-20.05zM190.8 493.5h20.05v10.0h-20.05zM210.9 493.5h20.05v10.0h-20.05zM251.0 493.5h20.05v10.0h-20.05zM271.1 493.5h20.05v10.0h-20.05zM251.0 503.5h20.05v10.0h-20.05zM271.1 503.5h20.05v10.0h-20.05zM511.7 503.5h20.05v10.0h-20.05zM431.5 513.5h20.05v10.0h-20.05zM451.5 523.5h20.05v10.0h-20.05zM491.7 533.5h20.05v10.0h-20.05zM511.7 533.5h20.05v10.0h-20.05zM431.5 543.5h20.05v10.0h-20.05zM451.5 543.5h20.05v10.0h-20.05zM511.7 543.5h20.05v10.0h-20.05zM531.8 543.5h20.05v10.0h-20.05zM210.9 553.5h20.05v10.0h-20.05zM230.9 553.5h20.05v10.0h-20.05zM251.0 553.5h20.05v10.0h-20.05zM271.1 553.5h20.05v10.0h-20.05zM291.1 553.5h20.05v10.0h-20.05zM190.8 563.5h20.05v10.0h-20.05zM411.4 563.5h20.05v10.0h-20.05zM511.7 573.5h20.05v10.0h-20.05zM491.7 583.5h20.05v10.0h-20.05zM210.9 593.5h20.05v10.0h-20.05zM230.9 593.5h20.05v10.0h-20.05zM271.1 593.5h20.05v10.0h-20.05z" fill="#d6604d"/>
<path d="M491.7 293.5h20.05v10.0h-20.05zM491.7 323.5h20.05v10.0h-20.05zM511.7 323.5h20.05v10.0h-20.05zM531.8 323.5h20.05v10.0h-20.05zM251.0 333.5h20.05v10.0h-20.05zM271.1 333.5h20.05v10.0h-20.05zM291.1 333.5h20.05v10.0h-20.05zM210.9 343.5h20.05v10.0h-20.05zM291.1 343.5h20.05v10.0h-20.05zM531.8 363.5h20.05v10.0h-20.05zM531.8 383.5h20.05v10.0h-20.05zM311.2 393.5h20.05v10.0h-20.05zM331.2 393.5h20.05v10.0h-20.05zM351.3 393.5h20.05v10.0h-20.05zM491.7 403.5h20.05v10.0h-20.05zM511.7 403.5h20.05v10.0h-20.05zM531.8 403.5h20.05v10.0h-20.05zM531.8 423.5h20.05v10.0h-20.05zM190.8 433.5h20.05v10.0h-20.05zM491.7 443.5h20.05v10.0h-20.05zM511.7 443.5h20.05v10.0h-20.05zM531.8 443.5h20.05v10.0h-20.05zM190.8 463.5h20.05v10.0h-20.05zM230.9 463.5h20.05v10.0h-20.05zM491.7 473.5h20.05v10.0h-20.05zM511.7 473.5h20.05v10.0h-20.05zM491.7 483.5h20.05v10.0h-20.05zM511.7 483.5h20.05v10.0h-20.05zM531.8 483.5h20.05v10.0h-20.05zM291.1 493.5h20.05v10.0h-20.05zM491.7 513.5h20.05v10.0h-20.05zM511.7 513.5h20.05v10.0h-20.05zM531.8 513.5h20.05v10.0h-20.05zM511.7 523.5h20.05v10.0h-20.05zM531.8 533.5h20.05v10.0h-20.05zM491.7 563.5h20.05v10.0h-20.05zM491.7 573.5h20.05v10.0h-20.05zM531.8 573.5h20.05v10.0h-20.05z" fill="#b2182b"/>
<path d="M511.7 413.5h20.05v10.0h-20.05zM491.7 423.5h20.05v10.0h-20.05zM531.8 473.5h20.05v10.0h-20.05zM251.0 593.5h20.05v10.0h-20.05z" fill="#67001f"/>
<path d="M70.5 283.5h481.3M70.5 293.5h481.3M70.5 303.5h481.3M70.5 313.5h481.3M70.5 323.5h481.3M70.5 333.5h481.3M70.5 343.5h481.3M70.5 353.5h481.3M70.5 363.5h481.3M70.5 373.5h481.3M70.5 383.5h481.3M70.5 393.5h481.3M70.5 403.5h481.3M70.5 413.5h481.3M70.5 423.5h481.3M70.5 433.5h481.3M70.5 443.5h481.3M70.5 453.5h481.3M70.5 463.5h481.3M70.5 473.5h481.3M70.5 483.5h481.3M70.5 493.5h481.3M70.5 503.5h481.3M70.5 513.5h481.3M70.5 523.5h481.3M70.5 533.5h481.3M70.5 543.5h481.3M70.5 553.5h481.3M70.5 563.5h481.3M70.5 573.5h481.3M70.5 583.5h481.3M70.5 593.5h481.3M70.5 603.5h481.3M70.5 283.5v320.0M90.6 283.5v320.0M110.6 283.5v320.0M130.7 283.5v320.0M150.7 283.5v320.0M170.8 283.5v320.0M190.8 283.5v320.0M210.9 283.5v320.0M230.9 283.5v320.0M251.0 283.5v320.0M271.1 283.5v320.0M291.1 283.5v320.0M311.2 283.5v320.0M331.2 283.5v320.0M351.3 283.5v320.0M371.3 283.5v320.0M391.4 283.5v320.0M411.4 283.5v320.0M431.5 283.5v320.0M451.5 283.5v320.0M471.6 283.5v320.0M491.7 283.5v320.0M511.7 283.5v320.0M531.8 283.5v320.0M551.8 283.5v320.0" stroke="#222" stroke-width="0.8" fill="none"/>
<defs><linearGradient id="cbb" x1="0" y1="0" x2="0" y2="1"><stop offset="0.00" stop-color="#67001f"/><stop offset="0.10" stop-color="#b2182b"/><stop offset="0.20" stop-color="#d6604d"/><stop offset="0.30" stop-color="#f4a582"/><stop offset="0.40" stop-color="#fddbc7"/><stop offset="0.50" stop-color="#f7f7f7"/><stop offset="0.60" stop-color="#d1e5f0"/><stop offset="0.70" stop-color="#92c5de"/><stop offset="0.80" stop-color="#4393c3"/><stop offset="0.90" stop-color="#2166ac"/><stop offset="1.00" stop-color="#053061"/></linearGradient></defs>
<rect x="40.2" y="283.8" width="8.0" height="94.0" fill="url(#cbb)"/>
<text x="33.5" y="299.5" text-anchor="end" textLength="11.6" lengthAdjust="spacingAndGlyphs">2</text>
<text x="33.5" y="318.1" text-anchor="end" textLength="11.6" lengthAdjust="spacingAndGlyphs">1</text>
<text x="33.5" y="336.7" text-anchor="end" textLength="11.6" lengthAdjust="spacingAndGlyphs">0</text>
<text x="33.5" y="355.3" text-anchor="end" textLength="23.8" lengthAdjust="spacingAndGlyphs">−1</text>
<text x="33.5" y="373.9" text-anchor="end" textLength="23.8" lengthAdjust="spacingAndGlyphs">−2</text>
<rect x="53.4" y="283.9" width="13.6" height="209.2" fill="#d55e00" stroke="#444" stroke-width="0.7"/>
<rect x="53.4" y="493.9" width="13.6" height="39.2" fill="#cc79a7" stroke="#444" stroke-width="0.7"/>
<rect x="53.4" y="533.9" width="13.6" height="29.2" fill="#56b4e9" stroke="#444" stroke-width="0.7"/>
<rect x="53.4" y="563.9" width="13.6" height="19.2" fill="#009e73" stroke="#444" stroke-width="0.7"/>
<rect x="53.4" y="583.9" width="13.6" height="19.6" fill="#f0e442" stroke="#444" stroke-width="0.7"/>
<text x="570.0" y="292.8" font-style="italic" textLength="69.8" lengthAdjust="spacingAndGlyphs">SCN4B</text>
<text x="570.0" y="317.8" font-style="italic" textLength="69.8" lengthAdjust="spacingAndGlyphs">KCNK1</text>
<text x="570.0" y="336.6" font-style="italic" textLength="53.6" lengthAdjust="spacingAndGlyphs">SV2B</text>
<text x="570.0" y="355.8" font-style="italic" textLength="86.1" lengthAdjust="spacingAndGlyphs">CAMK2B</text>
<text x="570.0" y="375.0" font-style="italic" textLength="54.7" lengthAdjust="spacingAndGlyphs">SYN1</text>
<text x="570.0" y="394.2" font-style="italic" textLength="71.0" lengthAdjust="spacingAndGlyphs">NRXN2</text>
<text x="570.0" y="433.3" font-style="italic" textLength="64.0" lengthAdjust="spacingAndGlyphs">GRIN1</text>
<text x="570.0" y="451.9" font-style="italic" textLength="60.5" lengthAdjust="spacingAndGlyphs">GRM1</text>
<text x="570.0" y="471.1" font-style="italic" textLength="86.2" lengthAdjust="spacingAndGlyphs">S100A10</text>
<text x="570.0" y="492.2" font-style="italic" textLength="43.0" lengthAdjust="spacingAndGlyphs">FOS</text>
<text x="570.0" y="512.0" font-style="italic" textLength="57.0" lengthAdjust="spacingAndGlyphs">FOSB</text>
<text x="570.0" y="530.0" font-style="italic" textLength="57.0" lengthAdjust="spacingAndGlyphs">BDNF</text>
<text x="570.0" y="547.9" font-style="italic" textLength="59.3" lengthAdjust="spacingAndGlyphs">DGKK</text>
<text x="570.0" y="565.8" font-style="italic" textLength="57.0" lengthAdjust="spacingAndGlyphs">NEFH</text>
<text x="570.0" y="584.0" font-style="italic" textLength="81.5" lengthAdjust="spacingAndGlyphs">TUBA4A</text>
<text x="570.0" y="602.6" font-style="italic" textLength="66.4" lengthAdjust="spacingAndGlyphs">HLA–B</text>
<text x="570.0" y="620.5" font-style="italic" textLength="67.5" lengthAdjust="spacingAndGlyphs">HLA–C</text>
<path d="M554.2 298.5H556.6L562.8 290.5M554.2 328.5H556.6L562.8 319.4M554.2 338.5H556.6L562.8 334.3M554.2 358.5H556.6L562.8 351.4M554.2 368.5H556.6L562.8 368.5M554.2 378.5H556.6L562.8 384.7M554.2 438.5H556.6L562.8 427.5M554.2 448.5H556.6L562.8 444.2M554.2 488.5H556.6L562.8 467.5M554.2 508.5H556.6L562.8 489.0M554.2 518.5H556.6L562.8 505.6M554.2 528.5H556.6L562.8 522.7M554.2 548.5H556.6L562.8 541.2M554.2 568.5H556.6L562.8 561.3M554.2 578.5H556.6L562.8 578.5M554.2 588.5H556.6L562.8 593.3M554.2 598.5H556.6L562.8 610.0" stroke="#222" stroke-width="0.8" fill="none"/>
<rect x="563.0" y="227.8" width="14.2" height="14.2" fill="#0072b2"/>
<text x="584.2" y="241.6" textLength="46.5" lengthAdjust="spacingAndGlyphs">2 µm</text>
<rect x="563.0" y="250.3" width="14.2" height="14.2" fill="#e69f00"/>
<text x="584.2" y="264.0" textLength="46.5" lengthAdjust="spacingAndGlyphs">4 µm</text>
<rect x="53.4" y="614.3" width="13.8" height="14.2" fill="#d55e00" stroke="#444" stroke-width="0.7"/>
<text x="73.8" y="627.7" textLength="194.0" lengthAdjust="spacingAndGlyphs">Excitability/synapses</text>
<rect x="53.4" y="637.6" width="13.8" height="14.2" fill="#56b4e9" stroke="#444" stroke-width="0.7"/>
<text x="73.8" y="651.6" textLength="234.0" lengthAdjust="spacingAndGlyphs">Glycerolipid metabolisms</text>
<rect x="328.6" y="614.3" width="13.8" height="14.2" fill="#cc79a7" stroke="#444" stroke-width="0.7"/>
<text x="352.5" y="627.7" textLength="155.0" lengthAdjust="spacingAndGlyphs">Neuronal activity</text>
<rect x="328.6" y="637.6" width="13.8" height="14.2" fill="#009e73" stroke="#444" stroke-width="0.7"/>
<text x="352.5" y="651.6" textLength="121.0" lengthAdjust="spacingAndGlyphs">Cytoskeleton</text>
<rect x="500.5" y="637.6" width="13.8" height="14.2" fill="#f0e442" stroke="#444" stroke-width="0.7"/>
<text x="522.5" y="651.6" textLength="85.0" lengthAdjust="spacingAndGlyphs">Immunity</text>
</g>
<g id="pc">
<text x="671.2" y="26.9" font-weight="bold" fill="#000" style="font-size:31.5px" textLength="18.4" lengthAdjust="spacingAndGlyphs" stroke="#000" stroke-width="1.0" stroke-linejoin="round">c</text>
<defs><linearGradient id="edge" x1="0" y1="0" x2="1" y2="0"><stop offset="0" stop-color="#fff" stop-opacity="0.38"/><stop offset="0.5" stop-color="#fff" stop-opacity="0"/><stop offset="1" stop-color="#fff" stop-opacity="0.38"/></linearGradient><linearGradient id="vmg" x1="0" y1="0" x2="0" y2="1"><stop offset="0.04" stop-color="#000"/><stop offset="0.45" stop-color="#fff"/></linearGradient><mask id="vm" maskContentUnits="objectBoundingBox"><rect width="1" height="1" fill="url(#vmg)"/></mask></defs>
<text x="761.6" y="42.8" textLength="195.4" lengthAdjust="spacingAndGlyphs">H3K4me3 (NPC D20)</text>
<text x="1067.8" y="42.8" textLength="207.0" lengthAdjust="spacingAndGlyphs">H3K27me3 (NPC D20)</text>
<line x1="698.0" y1="53.6" x2="1012.7" y2="53.6" stroke="#333" stroke-width="1.1"/>
<line x1="1022.9" y1="53.6" x2="1338.4" y2="53.6" stroke="#333" stroke-width="1.1"/>
<text x="698.8" y="80.8" textLength="61.0" lengthAdjust="spacingAndGlyphs">DMSO</text>
<text x="775.6" y="80.8" textLength="70.0" lengthAdjust="spacingAndGlyphs">DOT1Li</text>
<text x="862.0" y="80.8" textLength="61.5" lengthAdjust="spacingAndGlyphs">EHMTi</text>
<text x="946.8" y="80.8" textLength="56.0" lengthAdjust="spacingAndGlyphs">EZH2i</text>
<text x="1022.9" y="80.8" textLength="61.0" lengthAdjust="spacingAndGlyphs">DMSO</text>
<text x="1101.0" y="80.8" textLength="70.0" lengthAdjust="spacingAndGlyphs">DOT1Li</text>
<text x="1188.0" y="80.8" textLength="61.5" lengthAdjust="spacingAndGlyphs">EHMTi</text>
<text x="1273.9" y="80.8" textLength="56.0" lengthAdjust="spacingAndGlyphs">EZH2i</text>
<path d="M698.2 246.7h71.0M698.2 260.2h71.0M698.2 279.8h71.0M698.2 288.8h71.0M698.2 290.3h71.0M698.2 291.8h71.0M698.2 293.3h71.0M698.2 296.3h71.0M698.2 299.3h71.0M698.2 300.8h71.0M698.2 302.3h71.0M698.2 306.8h71.0M698.2 308.3h71.0M698.2 309.8h71.0M698.2 314.3h71.0M698.2 315.9h71.0M698.2 317.4h71.0M698.2 318.9h71.0M698.2 320.4h71.0M698.2 323.4h71.0M698.2 324.9h71.0M698.2 327.9h71.0M698.2 329.4h71.0M698.2 332.4h71.0M698.2 336.9h71.0M698.2 338.4h71.0M698.2 339.9h71.0M698.2 342.9h71.0M698.2 345.9h71.0M698.2 350.4h71.0M698.2 351.9h71.0M698.2 356.4h71.0M698.2 357.9h71.0" stroke="#f5f5ff" stroke-width="1.70" fill="none"/>
<path d="M698.2 221.1h71.0M698.2 230.2h71.0M698.2 240.7h71.0M698.2 245.2h71.0M698.2 248.2h71.0M698.2 249.7h71.0M698.2 254.2h71.0M698.2 255.7h71.0M698.2 258.7h71.0M698.2 261.7h71.0M698.2 266.2h71.0M698.2 267.7h71.0M698.2 269.2h71.0M698.2 272.3h71.0M698.2 273.8h71.0M698.2 276.8h71.0M698.2 281.3h71.0M698.2 282.8h71.0M698.2 284.3h71.0M698.2 285.8h71.0M698.2 287.3h71.0M698.2 294.8h71.0M698.2 297.8h71.0M698.2 303.8h71.0M698.2 305.3h71.0M698.2 311.3h71.0M698.2 312.8h71.0M698.2 321.9h71.0M698.2 335.4h71.0" stroke="#ebebff" stroke-width="1.70" fill="none"/>
<path d="M698.2 132.4h71.0M698.2 135.5h71.0M698.2 138.5h71.0M698.2 149.0h71.0M698.2 158.0h71.0M698.2 161.0h71.0M698.2 164.0h71.0M698.2 170.0h71.0M698.2 179.0h71.0M698.2 185.1h71.0M698.2 191.1h71.0M698.2 192.6h71.0M698.2 194.1h71.0M698.2 195.6h71.0M698.2 197.1h71.0M698.2 207.6h71.0M698.2 212.1h71.0M698.2 213.6h71.0M698.2 216.6h71.0M698.2 218.1h71.0M698.2 219.6h71.0M698.2 225.7h71.0M698.2 227.2h71.0M698.2 228.7h71.0M698.2 231.7h71.0M698.2 233.2h71.0M698.2 234.7h71.0M698.2 236.2h71.0M698.2 237.7h71.0M698.2 239.2h71.0M698.2 242.2h71.0M698.2 243.7h71.0M698.2 251.2h71.0M698.2 252.7h71.0M698.2 257.2h71.0M698.2 263.2h71.0M698.2 264.7h71.0M698.2 270.8h71.0M698.2 275.3h71.0M698.2 278.3h71.0" stroke="#e0e0ff" stroke-width="1.70" fill="none"/>
<path d="M698.2 90.4h71.0M698.2 96.4h71.0M698.2 102.4h71.0M698.2 103.9h71.0M698.2 115.9h71.0M698.2 117.4h71.0M698.2 118.9h71.0M698.2 123.4h71.0M698.2 124.9h71.0M698.2 137.0h71.0M698.2 140.0h71.0M698.2 141.5h71.0M698.2 143.0h71.0M698.2 146.0h71.0M698.2 150.5h71.0M698.2 153.5h71.0M698.2 155.0h71.0M698.2 156.5h71.0M698.2 159.5h71.0M698.2 165.5h71.0M698.2 167.0h71.0M698.2 168.5h71.0M698.2 171.5h71.0M698.2 173.0h71.0M698.2 176.0h71.0M698.2 177.5h71.0M698.2 180.6h71.0M698.2 182.1h71.0M698.2 186.6h71.0M698.2 188.1h71.0M698.2 189.6h71.0M698.2 198.6h71.0M698.2 200.1h71.0M698.2 201.6h71.0M698.2 203.1h71.0M698.2 204.6h71.0M698.2 206.1h71.0M698.2 209.1h71.0M698.2 210.6h71.0M698.2 215.1h71.0M698.2 222.6h71.0M698.2 224.1h71.0" stroke="#d6d6ff" stroke-width="1.70" fill="none"/>
<path d="M698.2 91.9h71.0M698.2 94.9h71.0M698.2 97.9h71.0M698.2 99.4h71.0M698.2 105.4h71.0M698.2 106.9h71.0M698.2 111.4h71.0M698.2 112.9h71.0M698.2 120.4h71.0M698.2 121.9h71.0M698.2 126.4h71.0M698.2 127.9h71.0M698.2 129.4h71.0M698.2 130.9h71.0M698.2 133.9h71.0M698.2 147.5h71.0M698.2 152.0h71.0M698.2 162.5h71.0M698.2 174.5h71.0M698.2 183.6h71.0" stroke="#ccccff" stroke-width="1.70" fill="none"/>
<path d="M698.2 93.4h71.0M698.2 100.9h71.0M698.2 108.4h71.0M698.2 109.9h71.0" stroke="#c2c2ff" stroke-width="1.70" fill="none"/>
<path d="M698.2 114.4h71.0M698.2 144.5h71.0" stroke="#b8b8ff" stroke-width="1.70" fill="none"/>
<rect x="698.2" y="89.6" width="71.0" height="270.6" fill="url(#edge)" mask="url(#vm)"/>
<path d="M698.2 360.2V89.6H769.2V360.2Z" stroke="#333" stroke-width="1.1" fill="none"/>
<path d="M698.2 360.2v5M733.7 360.2v5M769.2 360.2v5" stroke="#333" stroke-width="1.1" fill="none"/>
<path d="M778.1 251.2h71.5M778.1 266.2h71.5M778.1 269.2h71.5M778.1 276.8h71.5M778.1 279.8h71.5M778.1 284.3h71.5M778.1 288.8h71.5M778.1 290.3h71.5M778.1 291.8h71.5M778.1 296.3h71.5M778.1 299.3h71.5M778.1 300.8h71.5M778.1 303.8h71.5M778.1 305.3h71.5M778.1 306.8h71.5M778.1 308.3h71.5M778.1 311.3h71.5M778.1 314.3h71.5M778.1 315.9h71.5M778.1 317.4h71.5M778.1 318.9h71.5M778.1 320.4h71.5M778.1 321.9h71.5M778.1 324.9h71.5M778.1 326.4h71.5M778.1 327.9h71.5M778.1 329.4h71.5M778.1 330.9h71.5M778.1 332.4h71.5M778.1 333.9h71.5M778.1 336.9h71.5M778.1 338.4h71.5M778.1 339.9h71.5M778.1 341.4h71.5M778.1 344.4h71.5M778.1 347.4h71.5M778.1 348.9h71.5M778.1 351.9h71.5M778.1 356.4h71.5" stroke="#f5f5ff" stroke-width="1.70" fill="none"/>
<path d="M778.1 164.0h71.5M778.1 210.6h71.5M778.1 212.1h71.5M778.1 215.1h71.5M778.1 219.6h71.5M778.1 227.2h71.5M778.1 231.7h71.5M778.1 233.2h71.5M778.1 234.7h71.5M778.1 236.2h71.5M778.1 237.7h71.5M778.1 242.2h71.5M778.1 245.2h71.5M778.1 249.7h71.5M778.1 252.7h71.5M778.1 257.2h71.5M778.1 260.2h71.5M778.1 261.7h71.5M778.1 263.2h71.5M778.1 264.7h71.5M778.1 267.7h71.5M778.1 270.8h71.5M778.1 275.3h71.5M778.1 278.3h71.5M778.1 282.8h71.5M778.1 285.8h71.5M778.1 287.3h71.5M778.1 293.3h71.5M778.1 294.8h71.5M778.1 297.8h71.5M778.1 302.3h71.5M778.1 309.8h71.5M778.1 312.8h71.5M778.1 323.4h71.5" stroke="#ebebff" stroke-width="1.70" fill="none"/>
<path d="M778.1 108.4h71.5M778.1 123.4h71.5M778.1 124.9h71.5M778.1 138.5h71.5M778.1 149.0h71.5M778.1 153.5h71.5M778.1 161.0h71.5M778.1 162.5h71.5M778.1 168.5h71.5M778.1 174.5h71.5M778.1 176.0h71.5M778.1 177.5h71.5M778.1 182.1h71.5M778.1 188.1h71.5M778.1 189.6h71.5M778.1 191.1h71.5M778.1 192.6h71.5M778.1 197.1h71.5M778.1 198.6h71.5M778.1 200.1h71.5M778.1 201.6h71.5M778.1 203.1h71.5M778.1 204.6h71.5M778.1 206.1h71.5M778.1 207.6h71.5M778.1 209.1h71.5M778.1 213.6h71.5M778.1 216.6h71.5M778.1 218.1h71.5M778.1 221.1h71.5M778.1 222.6h71.5M778.1 224.1h71.5M778.1 225.7h71.5M778.1 228.7h71.5M778.1 230.2h71.5M778.1 239.2h71.5M778.1 240.7h71.5M778.1 243.7h71.5M778.1 246.7h71.5M778.1 248.2h71.5M778.1 254.2h71.5M778.1 255.7h71.5M778.1 258.7h71.5M778.1 272.3h71.5M778.1 273.8h71.5M778.1 281.3h71.5" stroke="#e0e0ff" stroke-width="1.70" fill="none"/>
<path d="M778.1 91.9h71.5M778.1 93.4h71.5M778.1 94.9h71.5M778.1 103.9h71.5M778.1 106.9h71.5M778.1 117.4h71.5M778.1 120.4h71.5M778.1 121.9h71.5M778.1 129.4h71.5M778.1 137.0h71.5M778.1 141.5h71.5M778.1 144.5h71.5M778.1 152.0h71.5M778.1 155.0h71.5M778.1 165.5h71.5M778.1 167.0h71.5M778.1 170.0h71.5M778.1 171.5h71.5M778.1 173.0h71.5M778.1 180.6h71.5M778.1 183.6h71.5M778.1 185.1h71.5M778.1 186.6h71.5M778.1 194.1h71.5M778.1 195.6h71.5" stroke="#d6d6ff" stroke-width="1.70" fill="none"/>
<path d="M778.1 90.4h71.5M778.1 100.9h71.5M778.1 102.4h71.5M778.1 105.4h71.5M778.1 109.9h71.5M778.1 112.9h71.5M778.1 115.9h71.5M778.1 118.9h71.5M778.1 126.4h71.5M778.1 127.9h71.5M778.1 132.4h71.5M778.1 133.9h71.5M778.1 135.5h71.5M778.1 140.0h71.5M778.1 143.0h71.5M778.1 146.0h71.5M778.1 147.5h71.5M778.1 150.5h71.5M778.1 156.5h71.5M778.1 158.0h71.5M778.1 159.5h71.5M778.1 179.0h71.5" stroke="#ccccff" stroke-width="1.70" fill="none"/>
<path d="M778.1 96.4h71.5M778.1 97.9h71.5M778.1 111.4h71.5M778.1 114.4h71.5M778.1 130.9h71.5" stroke="#c2c2ff" stroke-width="1.70" fill="none"/>
<path d="M778.1 99.4h71.5" stroke="#b8b8ff" stroke-width="1.70" fill="none"/>
<rect x="778.1" y="89.6" width="71.5" height="270.6" fill="url(#edge)" mask="url(#vm)"/>
<path d="M778.1 360.2V89.6H849.6V360.2Z" stroke="#333" stroke-width="1.1" fill="none"/>
<path d="M778.1 360.2v5M813.9 360.2v5M849.6 360.2v5" stroke="#333" stroke-width="1.1" fill="none"/>
<path d="M858.8 221.1h71.5M858.8 242.2h71.5M858.8 260.2h71.5M858.8 275.3h71.5M858.8 278.3h71.5M858.8 281.3h71.5M858.8 282.8h71.5M858.8 284.3h71.5M858.8 287.3h71.5M858.8 290.3h71.5M858.8 291.8h71.5M858.8 297.8h71.5M858.8 299.3h71.5M858.8 303.8h71.5M858.8 305.3h71.5M858.8 306.8h71.5M858.8 308.3h71.5M858.8 309.8h71.5M858.8 311.3h71.5M858.8 314.3h71.5M858.8 315.9h71.5M858.8 317.4h71.5M858.8 318.9h71.5M858.8 320.4h71.5M858.8 321.9h71.5M858.8 323.4h71.5M858.8 324.9h71.5M858.8 326.4h71.5M858.8 327.9h71.5M858.8 329.4h71.5M858.8 330.9h71.5M858.8 332.4h71.5M858.8 333.9h71.5M858.8 335.4h71.5M858.8 338.4h71.5M858.8 339.9h71.5M858.8 341.4h71.5M858.8 342.9h71.5M858.8 344.4h71.5M858.8 345.9h71.5M858.8 351.9h71.5M858.8 353.4h71.5M858.8 354.9h71.5M858.8 356.4h71.5M858.8 357.9h71.5M858.8 359.4h71.5" stroke="#f5f5ff" stroke-width="1.70" fill="none"/>
<path d="M858.8 194.1h71.5M858.8 198.6h71.5M858.8 201.6h71.5M858.8 210.6h71.5M858.8 228.7h71.5M858.8 231.7h71.5M858.8 234.7h71.5M858.8 237.7h71.5M858.8 239.2h71.5M858.8 240.7h71.5M858.8 246.7h71.5M858.8 248.2h71.5M858.8 249.7h71.5M858.8 252.7h71.5M858.8 254.2h71.5M858.8 257.2h71.5M858.8 258.7h71.5M858.8 261.7h71.5M858.8 263.2h71.5M858.8 264.7h71.5M858.8 266.2h71.5M858.8 269.2h71.5M858.8 270.8h71.5M858.8 273.8h71.5M858.8 276.8h71.5M858.8 285.8h71.5M858.8 288.8h71.5M858.8 293.3h71.5M858.8 294.8h71.5M858.8 296.3h71.5M858.8 300.8h71.5M858.8 302.3h71.5M858.8 312.8h71.5" stroke="#ebebff" stroke-width="1.70" fill="none"/>
<path d="M858.8 106.9h71.5M858.8 138.5h71.5M858.8 150.5h71.5M858.8 152.0h71.5M858.8 155.0h71.5M858.8 161.0h71.5M858.8 164.0h71.5M858.8 165.5h71.5M858.8 173.0h71.5M858.8 182.1h71.5M858.8 185.1h71.5M858.8 186.6h71.5M858.8 191.1h71.5M858.8 192.6h71.5M858.8 197.1h71.5M858.8 200.1h71.5M858.8 203.1h71.5M858.8 204.6h71.5M858.8 206.1h71.5M858.8 207.6h71.5M858.8 209.1h71.5M858.8 212.1h71.5M858.8 213.6h71.5M858.8 215.1h71.5M858.8 216.6h71.5M858.8 218.1h71.5M858.8 222.6h71.5M858.8 224.1h71.5M858.8 227.2h71.5M858.8 230.2h71.5M858.8 233.2h71.5M858.8 236.2h71.5M858.8 243.7h71.5M858.8 245.2h71.5M858.8 251.2h71.5M858.8 255.7h71.5M858.8 267.7h71.5M858.8 272.3h71.5M858.8 279.8h71.5" stroke="#e0e0ff" stroke-width="1.70" fill="none"/>
<path d="M858.8 93.4h71.5M858.8 97.9h71.5M858.8 108.4h71.5M858.8 115.9h71.5M858.8 118.9h71.5M858.8 123.4h71.5M858.8 124.9h71.5M858.8 126.4h71.5M858.8 135.5h71.5M858.8 140.0h71.5M858.8 141.5h71.5M858.8 144.5h71.5M858.8 146.0h71.5M858.8 147.5h71.5M858.8 156.5h71.5M858.8 158.0h71.5M858.8 159.5h71.5M858.8 162.5h71.5M858.8 168.5h71.5M858.8 171.5h71.5M858.8 174.5h71.5M858.8 177.5h71.5M858.8 179.0h71.5M858.8 180.6h71.5M858.8 183.6h71.5M858.8 188.1h71.5M858.8 189.6h71.5M858.8 195.6h71.5M858.8 219.6h71.5M858.8 225.7h71.5" stroke="#d6d6ff" stroke-width="1.70" fill="none"/>
<path d="M858.8 90.4h71.5M858.8 91.9h71.5M858.8 94.9h71.5M858.8 99.4h71.5M858.8 109.9h71.5M858.8 111.4h71.5M858.8 114.4h71.5M858.8 117.4h71.5M858.8 120.4h71.5M858.8 121.9h71.5M858.8 127.9h71.5M858.8 129.4h71.5M858.8 130.9h71.5M858.8 132.4h71.5M858.8 133.9h71.5M858.8 137.0h71.5M858.8 143.0h71.5M858.8 149.0h71.5M858.8 153.5h71.5M858.8 167.0h71.5M858.8 176.0h71.5" stroke="#ccccff" stroke-width="1.70" fill="none"/>
<path d="M858.8 100.9h71.5M858.8 102.4h71.5M858.8 103.9h71.5M858.8 105.4h71.5M858.8 112.9h71.5M858.8 170.0h71.5" stroke="#c2c2ff" stroke-width="1.70" fill="none"/>
<path d="M858.8 96.4h71.5" stroke="#b8b8ff" stroke-width="1.70" fill="none"/>
<rect x="858.8" y="89.6" width="71.5" height="270.6" fill="url(#edge)" mask="url(#vm)"/>
<path d="M858.8 360.2V89.6H930.3V360.2Z" stroke="#333" stroke-width="1.1" fill="none"/>
<path d="M858.8 360.2v5M894.5 360.2v5M930.3 360.2v5" stroke="#333" stroke-width="1.1" fill="none"/>
<path d="M941.0 242.2h71.7M941.0 248.2h71.7M941.0 275.3h71.7M941.0 279.8h71.7M941.0 287.3h71.7M941.0 290.3h71.7M941.0 293.3h71.7M941.0 296.3h71.7M941.0 297.8h71.7M941.0 302.3h71.7M941.0 303.8h71.7M941.0 306.8h71.7M941.0 309.8h71.7M941.0 311.3h71.7M941.0 312.8h71.7M941.0 315.9h71.7M941.0 317.4h71.7M941.0 318.9h71.7M941.0 320.4h71.7M941.0 321.9h71.7M941.0 324.9h71.7M941.0 326.4h71.7M941.0 327.9h71.7M941.0 329.4h71.7M941.0 332.4h71.7M941.0 333.9h71.7M941.0 335.4h71.7M941.0 336.9h71.7M941.0 338.4h71.7M941.0 341.4h71.7M941.0 342.9h71.7M941.0 344.4h71.7M941.0 345.9h71.7M941.0 348.9h71.7M941.0 350.4h71.7M941.0 351.9h71.7M941.0 353.4h71.7M941.0 359.4h71.7" stroke="#f5f5ff" stroke-width="1.70" fill="none"/>
<path d="M941.0 135.5h71.7M941.0 213.6h71.7M941.0 216.6h71.7M941.0 224.1h71.7M941.0 230.2h71.7M941.0 233.2h71.7M941.0 234.7h71.7M941.0 239.2h71.7M941.0 240.7h71.7M941.0 243.7h71.7M941.0 246.7h71.7M941.0 249.7h71.7M941.0 255.7h71.7M941.0 257.2h71.7M941.0 258.7h71.7M941.0 260.2h71.7M941.0 261.7h71.7M941.0 263.2h71.7M941.0 264.7h71.7M941.0 266.2h71.7M941.0 267.7h71.7M941.0 270.8h71.7M941.0 272.3h71.7M941.0 273.8h71.7M941.0 276.8h71.7M941.0 278.3h71.7M941.0 281.3h71.7M941.0 282.8h71.7M941.0 284.3h71.7M941.0 285.8h71.7M941.0 288.8h71.7M941.0 291.8h71.7M941.0 294.8h71.7M941.0 299.3h71.7M941.0 300.8h71.7M941.0 305.3h71.7M941.0 308.3h71.7M941.0 314.3h71.7M941.0 323.4h71.7" stroke="#ebebff" stroke-width="1.70" fill="none"/>
<path d="M941.0 117.4h71.7M941.0 140.0h71.7M941.0 156.5h71.7M941.0 159.5h71.7M941.0 162.5h71.7M941.0 164.0h71.7M941.0 167.0h71.7M941.0 173.0h71.7M941.0 179.0h71.7M941.0 180.6h71.7M941.0 183.6h71.7M941.0 185.1h71.7M941.0 186.6h71.7M941.0 188.1h71.7M941.0 189.6h71.7M941.0 191.1h71.7M941.0 192.6h71.7M941.0 197.1h71.7M941.0 198.6h71.7M941.0 200.1h71.7M941.0 201.6h71.7M941.0 204.6h71.7M941.0 206.1h71.7M941.0 207.6h71.7M941.0 209.1h71.7M941.0 212.1h71.7M941.0 215.1h71.7M941.0 218.1h71.7M941.0 219.6h71.7M941.0 221.1h71.7M941.0 222.6h71.7M941.0 225.7h71.7M941.0 227.2h71.7M941.0 228.7h71.7M941.0 231.7h71.7M941.0 236.2h71.7M941.0 237.7h71.7M941.0 245.2h71.7M941.0 251.2h71.7M941.0 252.7h71.7M941.0 254.2h71.7M941.0 269.2h71.7" stroke="#e0e0ff" stroke-width="1.70" fill="none"/>
<path d="M941.0 96.4h71.7M941.0 102.4h71.7M941.0 103.9h71.7M941.0 121.9h71.7M941.0 124.9h71.7M941.0 129.4h71.7M941.0 133.9h71.7M941.0 137.0h71.7M941.0 138.5h71.7M941.0 143.0h71.7M941.0 144.5h71.7M941.0 146.0h71.7M941.0 147.5h71.7M941.0 149.0h71.7M941.0 150.5h71.7M941.0 152.0h71.7M941.0 153.5h71.7M941.0 155.0h71.7M941.0 158.0h71.7M941.0 161.0h71.7M941.0 165.5h71.7M941.0 170.0h71.7M941.0 171.5h71.7M941.0 177.5h71.7M941.0 182.1h71.7M941.0 195.6h71.7M941.0 203.1h71.7M941.0 210.6h71.7" stroke="#d6d6ff" stroke-width="1.70" fill="none"/>
<path d="M941.0 90.4h71.7M941.0 91.9h71.7M941.0 94.9h71.7M941.0 97.9h71.7M941.0 99.4h71.7M941.0 105.4h71.7M941.0 108.4h71.7M941.0 109.9h71.7M941.0 111.4h71.7M941.0 112.9h71.7M941.0 120.4h71.7M941.0 127.9h71.7M941.0 130.9h71.7M941.0 132.4h71.7M941.0 174.5h71.7M941.0 176.0h71.7M941.0 194.1h71.7" stroke="#ccccff" stroke-width="1.70" fill="none"/>
<path d="M941.0 93.4h71.7M941.0 100.9h71.7M941.0 106.9h71.7M941.0 114.4h71.7M941.0 115.9h71.7M941.0 118.9h71.7M941.0 126.4h71.7M941.0 141.5h71.7M941.0 168.5h71.7" stroke="#c2c2ff" stroke-width="1.70" fill="none"/>
<path d="M941.0 123.4h71.7" stroke="#b8b8ff" stroke-width="1.70" fill="none"/>
<rect x="941.0" y="89.6" width="71.7" height="270.6" fill="url(#edge)" mask="url(#vm)"/>
<path d="M941.0 360.2V89.6H1012.7V360.2Z" stroke="#333" stroke-width="1.1" fill="none"/>
<path d="M941.0 360.2v5M976.9 360.2v5M1012.7 360.2v5" stroke="#333" stroke-width="1.1" fill="none"/>
<path d="M1022.0 356.4h71.9M1022.0 357.9h71.9M1022.0 359.4h71.9" stroke="#f5f5ff" stroke-width="1.70" fill="none"/>
<path d="M1022.0 336.9h71.9M1022.0 338.4h71.9M1022.0 344.4h71.9M1022.0 345.9h71.9M1022.0 347.4h71.9M1022.0 348.9h71.9M1022.0 350.4h71.9M1022.0 351.9h71.9M1022.0 353.4h71.9M1022.0 354.9h71.9" stroke="#ebebff" stroke-width="1.70" fill="none"/>
<path d="M1022.0 315.9h71.9M1022.0 323.4h71.9M1022.0 326.4h71.9M1022.0 327.9h71.9M1022.0 329.4h71.9M1022.0 330.9h71.9M1022.0 332.4h71.9M1022.0 333.9h71.9M1022.0 335.4h71.9M1022.0 339.9h71.9M1022.0 341.4h71.9M1022.0 342.9h71.9" stroke="#e0e0ff" stroke-width="1.70" fill="none"/>
<path d="M1022.0 285.8h71.9M1022.0 297.8h71.9M1022.0 305.3h71.9M1022.0 306.8h71.9M1022.0 308.3h71.9M1022.0 309.8h71.9M1022.0 312.8h71.9M1022.0 318.9h71.9M1022.0 320.4h71.9M1022.0 321.9h71.9M1022.0 324.9h71.9" stroke="#d6d6ff" stroke-width="1.70" fill="none"/>
<path d="M1022.0 276.8h71.9M1022.0 290.3h71.9M1022.0 294.8h71.9M1022.0 296.3h71.9M1022.0 299.3h71.9M1022.0 302.3h71.9M1022.0 303.8h71.9M1022.0 311.3h71.9M1022.0 314.3h71.9M1022.0 317.4h71.9" stroke="#ccccff" stroke-width="1.70" fill="none"/>
<path d="M1022.0 279.8h71.9M1022.0 287.3h71.9M1022.0 288.8h71.9M1022.0 291.8h71.9M1022.0 293.3h71.9" stroke="#c2c2ff" stroke-width="1.70" fill="none"/>
<path d="M1022.0 257.2h71.9M1022.0 263.2h71.9M1022.0 264.7h71.9M1022.0 266.2h71.9M1022.0 270.8h71.9M1022.0 275.3h71.9M1022.0 278.3h71.9M1022.0 281.3h71.9M1022.0 282.8h71.9M1022.0 284.3h71.9M1022.0 300.8h71.9" stroke="#b8b8ff" stroke-width="1.70" fill="none"/>
<path d="M1022.0 225.7h71.9M1022.0 227.2h71.9M1022.0 239.2h71.9M1022.0 246.7h71.9M1022.0 251.2h71.9M1022.0 254.2h71.9M1022.0 258.7h71.9M1022.0 260.2h71.9M1022.0 261.7h71.9M1022.0 267.7h71.9M1022.0 272.3h71.9M1022.0 273.8h71.9" stroke="#adadff" stroke-width="1.70" fill="none"/>
<path d="M1022.0 243.7h71.9M1022.0 245.2h71.9M1022.0 248.2h71.9M1022.0 252.7h71.9M1022.0 255.7h71.9M1022.0 269.2h71.9" stroke="#a3a3ff" stroke-width="1.70" fill="none"/>
<path d="M1022.0 186.6h71.9M1022.0 198.6h71.9M1022.0 210.6h71.9M1022.0 215.1h71.9M1022.0 219.6h71.9M1022.0 224.1h71.9M1022.0 228.7h71.9M1022.0 236.2h71.9M1022.0 240.7h71.9M1022.0 242.2h71.9M1022.0 249.7h71.9" stroke="#9999ff" stroke-width="1.70" fill="none"/>
<path d="M1022.0 188.1h71.9M1022.0 189.6h71.9M1022.0 197.1h71.9M1022.0 201.6h71.9M1022.0 204.6h71.9M1022.0 206.1h71.9M1022.0 209.1h71.9M1022.0 213.6h71.9M1022.0 216.6h71.9M1022.0 218.1h71.9M1022.0 230.2h71.9M1022.0 231.7h71.9M1022.0 233.2h71.9M1022.0 237.7h71.9" stroke="#8f8fff" stroke-width="1.70" fill="none"/>
<path d="M1022.0 130.9h71.9M1022.0 153.5h71.9M1022.0 174.5h71.9M1022.0 179.0h71.9M1022.0 185.1h71.9M1022.0 191.1h71.9M1022.0 195.6h71.9M1022.0 200.1h71.9M1022.0 221.1h71.9M1022.0 222.6h71.9M1022.0 234.7h71.9" stroke="#8484ff" stroke-width="1.70" fill="none"/>
<path d="M1022.0 155.0h71.9M1022.0 165.5h71.9M1022.0 167.0h71.9M1022.0 180.6h71.9M1022.0 194.1h71.9M1022.0 207.6h71.9M1022.0 212.1h71.9" stroke="#7a7aff" stroke-width="1.70" fill="none"/>
<path d="M1022.0 149.0h71.9M1022.0 158.0h71.9M1022.0 159.5h71.9M1022.0 162.5h71.9M1022.0 168.5h71.9M1022.0 170.0h71.9M1022.0 171.5h71.9M1022.0 176.0h71.9M1022.0 177.5h71.9M1022.0 183.6h71.9" stroke="#7070ff" stroke-width="1.70" fill="none"/>
<path d="M1022.0 115.9h71.9M1022.0 120.4h71.9M1022.0 124.9h71.9M1022.0 138.5h71.9M1022.0 147.5h71.9M1022.0 152.0h71.9M1022.0 156.5h71.9M1022.0 161.0h71.9M1022.0 173.0h71.9M1022.0 182.1h71.9M1022.0 192.6h71.9M1022.0 203.1h71.9" stroke="#6666ff" stroke-width="1.70" fill="none"/>
<path d="M1022.0 103.9h71.9M1022.0 109.9h71.9M1022.0 112.9h71.9M1022.0 126.4h71.9M1022.0 129.4h71.9M1022.0 132.4h71.9M1022.0 135.5h71.9M1022.0 143.0h71.9M1022.0 146.0h71.9M1022.0 150.5h71.9M1022.0 164.0h71.9" stroke="#5c5cff" stroke-width="1.70" fill="none"/>
<path d="M1022.0 90.4h71.9M1022.0 99.4h71.9M1022.0 118.9h71.9M1022.0 121.9h71.9M1022.0 127.9h71.9M1022.0 133.9h71.9M1022.0 137.0h71.9M1022.0 141.5h71.9M1022.0 144.5h71.9" stroke="#5151ff" stroke-width="1.70" fill="none"/>
<path d="M1022.0 106.9h71.9M1022.0 123.4h71.9" stroke="#4747ff" stroke-width="1.70" fill="none"/>
<path d="M1022.0 93.4h71.9M1022.0 97.9h71.9M1022.0 100.9h71.9M1022.0 102.4h71.9M1022.0 140.0h71.9" stroke="#3d3dff" stroke-width="1.70" fill="none"/>
<path d="M1022.0 91.9h71.9M1022.0 105.4h71.9M1022.0 108.4h71.9M1022.0 111.4h71.9M1022.0 114.4h71.9M1022.0 117.4h71.9" stroke="#3333ff" stroke-width="1.70" fill="none"/>
<path d="M1022.0 94.9h71.9" stroke="#2929ff" stroke-width="1.70" fill="none"/>
<path d="M1022.0 96.4h71.9" stroke="#1e1eff" stroke-width="1.70" fill="none"/>
<rect x="1022.0" y="89.6" width="71.9" height="270.6" fill="url(#edge)" mask="url(#vm)"/>
<path d="M1022.0 360.2V89.6H1093.9V360.2Z" stroke="#333" stroke-width="1.1" fill="none"/>
<path d="M1022.0 360.2v5M1058.0 360.2v5M1093.9 360.2v5" stroke="#333" stroke-width="1.1" fill="none"/>
<path d="M1104.2 359.4h71.2" stroke="#f5f5ff" stroke-width="1.70" fill="none"/>
<path d="M1104.2 350.4h71.2M1104.2 353.4h71.2M1104.2 354.9h71.2M1104.2 356.4h71.2" stroke="#ebebff" stroke-width="1.70" fill="none"/>
<path d="M1104.2 336.9h71.2M1104.2 341.4h71.2M1104.2 342.9h71.2M1104.2 344.4h71.2M1104.2 345.9h71.2M1104.2 348.9h71.2M1104.2 351.9h71.2M1104.2 357.9h71.2" stroke="#e0e0ff" stroke-width="1.70" fill="none"/>
<path d="M1104.2 326.4h71.2M1104.2 327.9h71.2M1104.2 330.9h71.2M1104.2 332.4h71.2M1104.2 335.4h71.2M1104.2 338.4h71.2M1104.2 347.4h71.2" stroke="#d6d6ff" stroke-width="1.70" fill="none"/>
<path d="M1104.2 306.8h71.2M1104.2 317.4h71.2M1104.2 318.9h71.2M1104.2 321.9h71.2M1104.2 323.4h71.2M1104.2 329.4h71.2M1104.2 333.9h71.2M1104.2 339.9h71.2" stroke="#ccccff" stroke-width="1.70" fill="none"/>
<path d="M1104.2 296.3h71.2M1104.2 297.8h71.2M1104.2 299.3h71.2M1104.2 300.8h71.2M1104.2 308.3h71.2M1104.2 314.3h71.2M1104.2 315.9h71.2M1104.2 320.4h71.2M1104.2 324.9h71.2" stroke="#c2c2ff" stroke-width="1.70" fill="none"/>
<path d="M1104.2 303.8h71.2M1104.2 309.8h71.2M1104.2 311.3h71.2M1104.2 312.8h71.2" stroke="#b8b8ff" stroke-width="1.70" fill="none"/>
<path d="M1104.2 243.7h71.2M1104.2 266.2h71.2M1104.2 269.2h71.2M1104.2 279.8h71.2M1104.2 285.8h71.2M1104.2 287.3h71.2M1104.2 288.8h71.2M1104.2 291.8h71.2M1104.2 293.3h71.2M1104.2 302.3h71.2M1104.2 305.3h71.2" stroke="#adadff" stroke-width="1.70" fill="none"/>
<path d="M1104.2 252.7h71.2M1104.2 258.7h71.2M1104.2 272.3h71.2M1104.2 273.8h71.2M1104.2 275.3h71.2M1104.2 281.3h71.2M1104.2 284.3h71.2M1104.2 290.3h71.2M1104.2 294.8h71.2" stroke="#a3a3ff" stroke-width="1.70" fill="none"/>
<path d="M1104.2 242.2h71.2M1104.2 248.2h71.2M1104.2 254.2h71.2M1104.2 255.7h71.2M1104.2 261.7h71.2M1104.2 264.7h71.2M1104.2 267.7h71.2M1104.2 270.8h71.2M1104.2 276.8h71.2M1104.2 278.3h71.2M1104.2 282.8h71.2" stroke="#9999ff" stroke-width="1.70" fill="none"/>
<path d="M1104.2 237.7h71.2M1104.2 239.2h71.2M1104.2 249.7h71.2M1104.2 257.2h71.2M1104.2 263.2h71.2" stroke="#8f8fff" stroke-width="1.70" fill="none"/>
<path d="M1104.2 234.7h71.2M1104.2 245.2h71.2M1104.2 251.2h71.2M1104.2 260.2h71.2" stroke="#8484ff" stroke-width="1.70" fill="none"/>
<path d="M1104.2 203.1h71.2M1104.2 219.6h71.2M1104.2 222.6h71.2M1104.2 224.1h71.2M1104.2 227.2h71.2M1104.2 228.7h71.2M1104.2 230.2h71.2M1104.2 233.2h71.2M1104.2 236.2h71.2M1104.2 240.7h71.2M1104.2 246.7h71.2" stroke="#7a7aff" stroke-width="1.70" fill="none"/>
<path d="M1104.2 200.1h71.2M1104.2 201.6h71.2M1104.2 204.6h71.2M1104.2 216.6h71.2M1104.2 218.1h71.2M1104.2 221.1h71.2M1104.2 225.7h71.2" stroke="#7070ff" stroke-width="1.70" fill="none"/>
<path d="M1104.2 173.0h71.2M1104.2 176.0h71.2M1104.2 188.1h71.2M1104.2 197.1h71.2M1104.2 198.6h71.2M1104.2 207.6h71.2M1104.2 209.1h71.2M1104.2 210.6h71.2M1104.2 213.6h71.2M1104.2 231.7h71.2" stroke="#6666ff" stroke-width="1.70" fill="none"/>
<path d="M1104.2 140.0h71.2M1104.2 150.5h71.2M1104.2 165.5h71.2M1104.2 168.5h71.2M1104.2 180.6h71.2M1104.2 189.6h71.2M1104.2 191.1h71.2M1104.2 194.1h71.2M1104.2 206.1h71.2M1104.2 212.1h71.2M1104.2 215.1h71.2" stroke="#5c5cff" stroke-width="1.70" fill="none"/>
<path d="M1104.2 152.0h71.2M1104.2 153.5h71.2M1104.2 156.5h71.2M1104.2 167.0h71.2M1104.2 170.0h71.2M1104.2 183.6h71.2M1104.2 186.6h71.2M1104.2 192.6h71.2" stroke="#5151ff" stroke-width="1.70" fill="none"/>
<path d="M1104.2 117.4h71.2M1104.2 144.5h71.2M1104.2 146.0h71.2M1104.2 174.5h71.2M1104.2 185.1h71.2" stroke="#4747ff" stroke-width="1.70" fill="none"/>
<path d="M1104.2 91.9h71.2M1104.2 121.9h71.2M1104.2 127.9h71.2M1104.2 129.4h71.2M1104.2 138.5h71.2M1104.2 149.0h71.2M1104.2 177.5h71.2M1104.2 179.0h71.2M1104.2 195.6h71.2" stroke="#3d3dff" stroke-width="1.70" fill="none"/>
<path d="M1104.2 99.4h71.2M1104.2 106.9h71.2M1104.2 111.4h71.2M1104.2 137.0h71.2M1104.2 147.5h71.2M1104.2 158.0h71.2M1104.2 162.5h71.2M1104.2 164.0h71.2M1104.2 182.1h71.2" stroke="#3333ff" stroke-width="1.70" fill="none"/>
<path d="M1104.2 105.4h71.2M1104.2 118.9h71.2M1104.2 141.5h71.2M1104.2 159.5h71.2M1104.2 161.0h71.2M1104.2 171.5h71.2" stroke="#2929ff" stroke-width="1.70" fill="none"/>
<path d="M1104.2 93.4h71.2M1104.2 96.4h71.2M1104.2 103.9h71.2M1104.2 109.9h71.2M1104.2 115.9h71.2M1104.2 120.4h71.2M1104.2 123.4h71.2M1104.2 126.4h71.2M1104.2 130.9h71.2M1104.2 132.4h71.2M1104.2 133.9h71.2M1104.2 135.5h71.2M1104.2 155.0h71.2" stroke="#1e1eff" stroke-width="1.70" fill="none"/>
<path d="M1104.2 97.9h71.2M1104.2 114.4h71.2M1104.2 124.9h71.2M1104.2 143.0h71.2" stroke="#1414ff" stroke-width="1.70" fill="none"/>
<path d="M1104.2 90.4h71.2M1104.2 94.9h71.2M1104.2 100.9h71.2M1104.2 102.4h71.2M1104.2 108.4h71.2M1104.2 112.9h71.2" stroke="#0a0aff" stroke-width="1.70" fill="none"/>
<rect x="1104.2" y="89.6" width="71.2" height="270.6" fill="url(#edge)" mask="url(#vm)"/>
<path d="M1104.2 360.2V89.6H1175.4V360.2Z" stroke="#333" stroke-width="1.1" fill="none"/>
<path d="M1104.2 360.2v5M1139.8 360.2v5M1175.4 360.2v5" stroke="#333" stroke-width="1.1" fill="none"/>
<path d="M1186.0 354.9h71.3M1186.0 359.4h71.3" stroke="#ebebff" stroke-width="1.70" fill="none"/>
<path d="M1186.0 336.9h71.3M1186.0 339.9h71.3M1186.0 348.9h71.3M1186.0 350.4h71.3M1186.0 351.9h71.3M1186.0 353.4h71.3M1186.0 356.4h71.3M1186.0 357.9h71.3" stroke="#e0e0ff" stroke-width="1.70" fill="none"/>
<path d="M1186.0 327.9h71.3M1186.0 332.4h71.3M1186.0 335.4h71.3M1186.0 341.4h71.3M1186.0 342.9h71.3M1186.0 344.4h71.3M1186.0 345.9h71.3M1186.0 347.4h71.3" stroke="#d6d6ff" stroke-width="1.70" fill="none"/>
<path d="M1186.0 312.8h71.3M1186.0 324.9h71.3M1186.0 326.4h71.3M1186.0 330.9h71.3M1186.0 333.9h71.3M1186.0 338.4h71.3" stroke="#ccccff" stroke-width="1.70" fill="none"/>
<path d="M1186.0 305.3h71.3M1186.0 309.8h71.3M1186.0 311.3h71.3M1186.0 315.9h71.3M1186.0 320.4h71.3M1186.0 321.9h71.3M1186.0 323.4h71.3M1186.0 329.4h71.3" stroke="#c2c2ff" stroke-width="1.70" fill="none"/>
<path d="M1186.0 285.8h71.3M1186.0 303.8h71.3M1186.0 306.8h71.3M1186.0 314.3h71.3M1186.0 317.4h71.3M1186.0 318.9h71.3" stroke="#b8b8ff" stroke-width="1.70" fill="none"/>
<path d="M1186.0 279.8h71.3M1186.0 293.3h71.3M1186.0 294.8h71.3M1186.0 297.8h71.3M1186.0 299.3h71.3M1186.0 302.3h71.3M1186.0 308.3h71.3" stroke="#adadff" stroke-width="1.70" fill="none"/>
<path d="M1186.0 269.2h71.3M1186.0 284.3h71.3M1186.0 287.3h71.3M1186.0 288.8h71.3M1186.0 290.3h71.3M1186.0 291.8h71.3M1186.0 296.3h71.3" stroke="#a3a3ff" stroke-width="1.70" fill="none"/>
<path d="M1186.0 273.8h71.3M1186.0 276.8h71.3M1186.0 278.3h71.3M1186.0 281.3h71.3M1186.0 282.8h71.3" stroke="#9999ff" stroke-width="1.70" fill="none"/>
<path d="M1186.0 252.7h71.3M1186.0 254.2h71.3M1186.0 272.3h71.3M1186.0 275.3h71.3M1186.0 300.8h71.3" stroke="#8f8fff" stroke-width="1.70" fill="none"/>
<path d="M1186.0 240.7h71.3M1186.0 245.2h71.3M1186.0 255.7h71.3M1186.0 261.7h71.3M1186.0 263.2h71.3M1186.0 264.7h71.3M1186.0 266.2h71.3M1186.0 267.7h71.3M1186.0 270.8h71.3" stroke="#8484ff" stroke-width="1.70" fill="none"/>
<path d="M1186.0 209.1h71.3M1186.0 222.6h71.3M1186.0 231.7h71.3M1186.0 242.2h71.3M1186.0 243.7h71.3M1186.0 251.2h71.3M1186.0 257.2h71.3M1186.0 260.2h71.3" stroke="#7a7aff" stroke-width="1.70" fill="none"/>
<path d="M1186.0 189.6h71.3M1186.0 204.6h71.3M1186.0 219.6h71.3M1186.0 221.1h71.3M1186.0 224.1h71.3M1186.0 234.7h71.3M1186.0 246.7h71.3M1186.0 248.2h71.3M1186.0 249.7h71.3M1186.0 258.7h71.3" stroke="#7070ff" stroke-width="1.70" fill="none"/>
<path d="M1186.0 174.5h71.3M1186.0 180.6h71.3M1186.0 188.1h71.3M1186.0 194.1h71.3M1186.0 216.6h71.3M1186.0 225.7h71.3M1186.0 230.2h71.3M1186.0 233.2h71.3M1186.0 239.2h71.3" stroke="#6666ff" stroke-width="1.70" fill="none"/>
<path d="M1186.0 171.5h71.3M1186.0 183.6h71.3M1186.0 192.6h71.3M1186.0 197.1h71.3M1186.0 200.1h71.3M1186.0 201.6h71.3M1186.0 203.1h71.3M1186.0 210.6h71.3M1186.0 213.6h71.3M1186.0 218.1h71.3M1186.0 227.2h71.3M1186.0 228.7h71.3M1186.0 236.2h71.3M1186.0 237.7h71.3" stroke="#5c5cff" stroke-width="1.70" fill="none"/>
<path d="M1186.0 161.0h71.3M1186.0 177.5h71.3M1186.0 182.1h71.3M1186.0 191.1h71.3M1186.0 198.6h71.3M1186.0 206.1h71.3M1186.0 207.6h71.3" stroke="#5151ff" stroke-width="1.70" fill="none"/>
<path d="M1186.0 109.9h71.3M1186.0 124.9h71.3M1186.0 144.5h71.3M1186.0 150.5h71.3M1186.0 152.0h71.3M1186.0 162.5h71.3M1186.0 170.0h71.3M1186.0 179.0h71.3M1186.0 186.6h71.3M1186.0 195.6h71.3M1186.0 212.1h71.3M1186.0 215.1h71.3" stroke="#4747ff" stroke-width="1.70" fill="none"/>
<path d="M1186.0 123.4h71.3M1186.0 126.4h71.3M1186.0 130.9h71.3M1186.0 137.0h71.3M1186.0 147.5h71.3M1186.0 149.0h71.3M1186.0 153.5h71.3M1186.0 159.5h71.3M1186.0 168.5h71.3M1186.0 173.0h71.3M1186.0 185.1h71.3" stroke="#3d3dff" stroke-width="1.70" fill="none"/>
<path d="M1186.0 103.9h71.3M1186.0 118.9h71.3M1186.0 138.5h71.3M1186.0 146.0h71.3M1186.0 156.5h71.3M1186.0 158.0h71.3M1186.0 165.5h71.3M1186.0 176.0h71.3" stroke="#3333ff" stroke-width="1.70" fill="none"/>
<path d="M1186.0 100.9h71.3M1186.0 106.9h71.3M1186.0 108.4h71.3M1186.0 111.4h71.3M1186.0 117.4h71.3M1186.0 132.4h71.3M1186.0 164.0h71.3" stroke="#2929ff" stroke-width="1.70" fill="none"/>
<path d="M1186.0 99.4h71.3M1186.0 105.4h71.3M1186.0 112.9h71.3M1186.0 114.4h71.3M1186.0 120.4h71.3M1186.0 121.9h71.3M1186.0 133.9h71.3M1186.0 155.0h71.3M1186.0 167.0h71.3" stroke="#1e1eff" stroke-width="1.70" fill="none"/>
<path d="M1186.0 97.9h71.3M1186.0 115.9h71.3M1186.0 127.9h71.3M1186.0 129.4h71.3M1186.0 135.5h71.3M1186.0 140.0h71.3M1186.0 143.0h71.3" stroke="#1414ff" stroke-width="1.70" fill="none"/>
<path d="M1186.0 90.4h71.3M1186.0 91.9h71.3M1186.0 93.4h71.3M1186.0 94.9h71.3M1186.0 96.4h71.3M1186.0 102.4h71.3M1186.0 141.5h71.3" stroke="#0a0aff" stroke-width="1.70" fill="none"/>
<rect x="1186.0" y="89.6" width="71.3" height="270.6" fill="url(#edge)" mask="url(#vm)"/>
<path d="M1186.0 360.2V89.6H1257.3V360.2Z" stroke="#333" stroke-width="1.1" fill="none"/>
<path d="M1186.0 360.2v5M1221.7 360.2v5M1257.3 360.2v5" stroke="#333" stroke-width="1.1" fill="none"/>
<path d="M1267.6 296.3h71.0M1267.6 300.8h71.0M1267.6 303.8h71.0M1267.6 305.3h71.0M1267.6 306.8h71.0M1267.6 308.3h71.0M1267.6 309.8h71.0M1267.6 311.3h71.0M1267.6 314.3h71.0M1267.6 315.9h71.0M1267.6 318.9h71.0M1267.6 321.9h71.0M1267.6 323.4h71.0M1267.6 326.4h71.0M1267.6 327.9h71.0M1267.6 330.9h71.0M1267.6 332.4h71.0M1267.6 333.9h71.0M1267.6 335.4h71.0M1267.6 336.9h71.0M1267.6 339.9h71.0M1267.6 341.4h71.0M1267.6 342.9h71.0M1267.6 344.4h71.0M1267.6 345.9h71.0M1267.6 347.4h71.0M1267.6 348.9h71.0M1267.6 350.4h71.0M1267.6 351.9h71.0M1267.6 353.4h71.0M1267.6 354.9h71.0M1267.6 356.4h71.0M1267.6 357.9h71.0" stroke="#f5f5ff" stroke-width="1.70" fill="none"/>
<path d="M1267.6 258.7h71.0M1267.6 260.2h71.0M1267.6 261.7h71.0M1267.6 266.2h71.0M1267.6 267.7h71.0M1267.6 269.2h71.0M1267.6 270.8h71.0M1267.6 273.8h71.0M1267.6 278.3h71.0M1267.6 279.8h71.0M1267.6 281.3h71.0M1267.6 285.8h71.0M1267.6 287.3h71.0M1267.6 288.8h71.0M1267.6 290.3h71.0M1267.6 291.8h71.0M1267.6 293.3h71.0M1267.6 294.8h71.0M1267.6 297.8h71.0M1267.6 299.3h71.0M1267.6 302.3h71.0M1267.6 312.8h71.0M1267.6 317.4h71.0M1267.6 320.4h71.0M1267.6 324.9h71.0M1267.6 329.4h71.0" stroke="#ebebff" stroke-width="1.70" fill="none"/>
<path d="M1267.6 227.2h71.0M1267.6 231.7h71.0M1267.6 240.7h71.0M1267.6 242.2h71.0M1267.6 243.7h71.0M1267.6 248.2h71.0M1267.6 251.2h71.0M1267.6 252.7h71.0M1267.6 255.7h71.0M1267.6 263.2h71.0M1267.6 272.3h71.0M1267.6 275.3h71.0M1267.6 276.8h71.0M1267.6 282.8h71.0M1267.6 284.3h71.0" stroke="#e0e0ff" stroke-width="1.70" fill="none"/>
<path d="M1267.6 191.1h71.0M1267.6 210.6h71.0M1267.6 219.6h71.0M1267.6 225.7h71.0M1267.6 228.7h71.0M1267.6 230.2h71.0M1267.6 233.2h71.0M1267.6 234.7h71.0M1267.6 236.2h71.0M1267.6 237.7h71.0M1267.6 239.2h71.0M1267.6 245.2h71.0M1267.6 246.7h71.0M1267.6 249.7h71.0M1267.6 254.2h71.0M1267.6 257.2h71.0M1267.6 264.7h71.0" stroke="#d6d6ff" stroke-width="1.70" fill="none"/>
<path d="M1267.6 177.5h71.0M1267.6 185.1h71.0M1267.6 189.6h71.0M1267.6 194.1h71.0M1267.6 197.1h71.0M1267.6 198.6h71.0M1267.6 204.6h71.0M1267.6 207.6h71.0M1267.6 209.1h71.0M1267.6 212.1h71.0M1267.6 213.6h71.0M1267.6 216.6h71.0M1267.6 218.1h71.0M1267.6 221.1h71.0M1267.6 222.6h71.0M1267.6 224.1h71.0" stroke="#ccccff" stroke-width="1.70" fill="none"/>
<path d="M1267.6 179.0h71.0M1267.6 182.1h71.0M1267.6 183.6h71.0M1267.6 192.6h71.0M1267.6 195.6h71.0M1267.6 200.1h71.0M1267.6 201.6h71.0M1267.6 203.1h71.0M1267.6 206.1h71.0M1267.6 215.1h71.0" stroke="#c2c2ff" stroke-width="1.70" fill="none"/>
<path d="M1267.6 155.0h71.0M1267.6 162.5h71.0M1267.6 167.0h71.0M1267.6 168.5h71.0M1267.6 171.5h71.0M1267.6 173.0h71.0M1267.6 176.0h71.0M1267.6 180.6h71.0M1267.6 186.6h71.0M1267.6 188.1h71.0" stroke="#b8b8ff" stroke-width="1.70" fill="none"/>
<path d="M1267.6 152.0h71.0M1267.6 159.5h71.0M1267.6 164.0h71.0M1267.6 165.5h71.0M1267.6 170.0h71.0M1267.6 174.5h71.0" stroke="#adadff" stroke-width="1.70" fill="none"/>
<path d="M1267.6 144.5h71.0M1267.6 147.5h71.0M1267.6 149.0h71.0M1267.6 150.5h71.0M1267.6 153.5h71.0M1267.6 156.5h71.0M1267.6 158.0h71.0" stroke="#a3a3ff" stroke-width="1.70" fill="none"/>
<path d="M1267.6 135.5h71.0M1267.6 140.0h71.0M1267.6 141.5h71.0M1267.6 143.0h71.0M1267.6 146.0h71.0M1267.6 161.0h71.0" stroke="#9999ff" stroke-width="1.70" fill="none"/>
<path d="M1267.6 129.4h71.0M1267.6 132.4h71.0M1267.6 133.9h71.0M1267.6 137.0h71.0M1267.6 138.5h71.0" stroke="#8f8fff" stroke-width="1.70" fill="none"/>
<path d="M1267.6 118.9h71.0" stroke="#8484ff" stroke-width="1.70" fill="none"/>
<path d="M1267.6 121.9h71.0M1267.6 123.4h71.0" stroke="#7a7aff" stroke-width="1.70" fill="none"/>
<path d="M1267.6 115.9h71.0M1267.6 117.4h71.0M1267.6 120.4h71.0M1267.6 124.9h71.0M1267.6 127.9h71.0M1267.6 130.9h71.0" stroke="#7070ff" stroke-width="1.70" fill="none"/>
<path d="M1267.6 126.4h71.0" stroke="#6666ff" stroke-width="1.70" fill="none"/>
<path d="M1267.6 105.4h71.0M1267.6 109.9h71.0M1267.6 111.4h71.0" stroke="#5c5cff" stroke-width="1.70" fill="none"/>
<path d="M1267.6 112.9h71.0M1267.6 114.4h71.0" stroke="#5151ff" stroke-width="1.70" fill="none"/>
<path d="M1267.6 108.4h71.0" stroke="#4747ff" stroke-width="1.70" fill="none"/>
<path d="M1267.6 97.9h71.0" stroke="#3333ff" stroke-width="1.70" fill="none"/>
<path d="M1267.6 91.9h71.0M1267.6 96.4h71.0M1267.6 99.4h71.0M1267.6 100.9h71.0M1267.6 102.4h71.0M1267.6 103.9h71.0M1267.6 106.9h71.0" stroke="#2929ff" stroke-width="1.70" fill="none"/>
<path d="M1267.6 93.4h71.0M1267.6 94.9h71.0" stroke="#1e1eff" stroke-width="1.70" fill="none"/>
<path d="M1267.6 90.4h71.0" stroke="#0a0aff" stroke-width="1.70" fill="none"/>
<rect x="1267.6" y="89.6" width="71.0" height="270.6" fill="url(#edge)" mask="url(#vm)"/>
<path d="M1267.6 360.2V89.6H1338.6V360.2Z" stroke="#333" stroke-width="1.1" fill="none"/>
<path d="M1267.6 360.2v5M1303.1 360.2v5M1338.6 360.2v5" stroke="#333" stroke-width="1.1" fill="none"/>
<text x="680.7" y="382.7" style="font-size:16.3px" textLength="17.5" lengthAdjust="spacingAndGlyphs">−2</text>
<text x="708.7" y="382.7" style="font-size:16.3px" textLength="49.6" lengthAdjust="spacingAndGlyphs">Centre</text>
<text x="766.7" y="382.7" style="font-size:16.3px" textLength="31.8" lengthAdjust="spacingAndGlyphs">2 kb</text>
<text x="1005.0" y="382.7" style="font-size:16.3px" textLength="17.5" lengthAdjust="spacingAndGlyphs">−2</text>
<text x="1033.0" y="382.7" style="font-size:16.3px" textLength="49.6" lengthAdjust="spacingAndGlyphs">Centre</text>
<text x="1091.0" y="382.7" style="font-size:16.3px" textLength="31.8" lengthAdjust="spacingAndGlyphs">2 kb</text>
<defs><linearGradient id="cbc" x1="0" y1="0" x2="0" y2="1"><stop offset="0" stop-color="#1414ff"/><stop offset="1" stop-color="#fff"/></linearGradient></defs>
<rect x="1347.2" y="89.6" width="5.2" height="269.2" fill="url(#cbc)" stroke="#333" stroke-width="0.6"/>
<line x1="1352.4" y1="113.0" x2="1355.5" y2="113.0" stroke="#333" stroke-width="1"/>
<text x="1358.6" y="119.8" textLength="34.8" lengthAdjust="spacingAndGlyphs">120</text>
<line x1="1352.4" y1="153.9" x2="1355.5" y2="153.9" stroke="#333" stroke-width="1"/>
<text x="1358.6" y="160.7" textLength="34.8" lengthAdjust="spacingAndGlyphs">100</text>
<line x1="1352.4" y1="194.8" x2="1355.5" y2="194.8" stroke="#333" stroke-width="1"/>
<text x="1358.6" y="201.6" textLength="23.2" lengthAdjust="spacingAndGlyphs">80</text>
<line x1="1352.4" y1="235.7" x2="1355.5" y2="235.7" stroke="#333" stroke-width="1"/>
<text x="1358.6" y="242.5" textLength="23.2" lengthAdjust="spacingAndGlyphs">60</text>
<line x1="1352.4" y1="276.6" x2="1355.5" y2="276.6" stroke="#333" stroke-width="1"/>
<text x="1358.6" y="283.4" textLength="23.2" lengthAdjust="spacingAndGlyphs">40</text>
<line x1="1352.4" y1="317.5" x2="1355.5" y2="317.5" stroke="#333" stroke-width="1"/>
<text x="1358.6" y="324.3" textLength="23.2" lengthAdjust="spacingAndGlyphs">20</text>
<line x1="1352.4" y1="358.4" x2="1355.5" y2="358.4" stroke="#333" stroke-width="1"/>
<text x="1358.6" y="365.2" textLength="11.6" lengthAdjust="spacingAndGlyphs">0</text>
<text transform="translate(1412.0 369.5) rotate(-90)" textLength="281.0" lengthAdjust="spacingAndGlyphs">Normalized methylation signal</text>
</g>
<g id="pd">
<text x="683.7" y="441.8" font-weight="bold" fill="#000" style="font-size:31.5px" textLength="20.2" lengthAdjust="spacingAndGlyphs" stroke="#000" stroke-width="1.0" stroke-linejoin="round">d</text>
<text x="842.2" y="438.9" textLength="206.4" lengthAdjust="spacingAndGlyphs">Cluster 1 - H3K27me3</text>
<path d="M831.6 591.1 L833.6 590.9 L835.6 590.7 L837.6 590.5 L839.7 590.4 L841.7 590.2 L843.7 590.0 L845.7 589.9 L847.7 589.7 L849.7 589.5 L851.7 589.3 L853.7 589.1 L855.8 589.0 L857.8 588.8 L859.8 588.6 L861.8 588.5 L863.8 588.4 L865.8 588.2 L867.8 588.1 L869.9 587.9 L871.9 587.7 L873.9 587.5 L875.9 587.3 L877.9 587.1 L879.9 587.0 L881.9 586.8 L883.9 586.7 L886.0 586.6 L888.0 586.5 L890.0 586.3 L892.0 586.2 L894.0 586.0 L896.0 585.8 L898.0 585.6 L900.1 585.4 L902.1 585.2 L904.1 585.0 L906.1 584.9 L908.1 584.8 L910.1 584.7 L912.1 584.6 L914.1 584.5 L916.2 584.3 L918.2 584.3 L920.2 583.9 L922.2 583.5 L924.2 583.1 L926.2 582.9 L928.2 582.9 L930.3 583.0 L932.3 583.2 L934.3 583.3 L936.3 583.3 L938.3 583.2 L940.3 582.9 L942.3 582.4 L944.3 582.0 L946.4 581.6 L948.4 581.3 L950.4 581.2 L952.4 581.3 L954.4 581.8 L956.4 582.3 L958.4 582.6 L960.5 582.8 L962.5 582.8 L964.5 582.7 L966.5 582.5 L968.5 582.4 L970.5 582.3 L972.5 582.5 L974.5 582.8 L976.6 583.2 L978.6 583.6 L980.6 584.0 L982.6 584.3 L984.6 584.4 L986.6 584.4 L988.6 584.2 L990.7 584.3 L992.7 584.4 L994.7 584.5 L996.7 584.7 L998.7 584.9 L1000.7 585.1 L1002.7 585.4 L1004.7 585.6 L1006.8 585.7 L1008.8 585.9 L1010.8 586.0 L1012.8 586.1 L1014.8 586.2 L1016.8 586.3 L1018.8 586.5 L1020.9 586.7 L1022.9 586.9 L1024.9 587.1 L1026.9 587.3 L1028.9 587.4 L1030.9 587.6 L1032.9 587.7 L1034.9 587.9 L1037.0 588.0 L1039.0 588.1 L1041.0 588.3 L1043.0 588.5 L1045.0 588.7 L1047.0 588.8 L1049.0 589.0 L1051.1 589.2 L1053.1 589.4 L1055.1 589.5 L1057.1 589.7 L1059.1 589.8 L1061.1 590.0 L1063.1 590.2 L1065.1 590.3 L1067.2 590.5 L1069.2 590.7 L1071.2 590.9 L1073.2 591.1" stroke="#c9a97c" stroke-width="1.6" fill="none" stroke-linejoin="round"/>
<path d="M831.6 571.3 L833.6 570.7 L835.6 570.2 L837.6 569.5 L839.7 568.9 L841.7 568.2 L843.7 567.5 L845.7 566.8 L847.7 566.0 L849.7 565.2 L851.7 564.4 L853.7 563.5 L855.8 562.6 L857.8 561.7 L859.8 560.7 L861.8 559.7 L863.8 558.6 L865.8 557.5 L867.8 556.4 L869.9 555.3 L871.9 554.2 L873.9 553.0 L875.9 551.8 L877.9 550.6 L879.9 549.3 L881.9 548.0 L883.9 546.6 L886.0 545.3 L888.0 543.9 L890.0 542.6 L892.0 541.3 L894.0 540.0 L896.0 538.7 L898.0 537.4 L900.1 536.1 L902.1 534.7 L904.1 533.3 L906.1 532.0 L908.1 530.6 L910.1 529.3 L912.1 528.1 L914.1 526.9 L916.2 525.8 L918.2 524.9 L920.2 524.1 L922.2 523.2 L924.2 522.2 L926.2 521.0 L928.2 519.8 L930.3 518.7 L932.3 517.7 L934.3 516.9 L936.3 516.4 L938.3 516.1 L940.3 516.0 L942.3 515.9 L944.3 515.7 L946.4 515.5 L948.4 515.1 L950.4 514.7 L952.4 514.3 L954.4 514.0 L956.4 514.0 L958.4 514.2 L960.5 514.7 L962.5 515.4 L964.5 516.2 L966.5 516.9 L968.5 517.6 L970.5 518.1 L972.5 518.5 L974.5 519.0 L976.6 519.5 L978.6 520.2 L980.6 521.1 L982.6 522.2 L984.6 523.5 L986.6 524.9 L988.6 526.0 L990.7 527.2 L992.7 528.4 L994.7 529.6 L996.7 530.7 L998.7 531.9 L1000.7 533.2 L1002.7 534.5 L1004.7 535.8 L1006.8 537.2 L1008.8 538.6 L1010.8 540.0 L1012.8 541.4 L1014.8 542.8 L1016.8 544.1 L1018.8 545.4 L1020.9 546.7 L1022.9 547.9 L1024.9 549.2 L1026.9 550.4 L1028.9 551.7 L1030.9 553.0 L1032.9 554.2 L1034.9 555.4 L1037.0 556.5 L1039.0 557.6 L1041.0 558.7 L1043.0 559.7 L1045.0 560.7 L1047.0 561.6 L1049.0 562.6 L1051.1 563.5 L1053.1 564.4 L1055.1 565.2 L1057.1 566.0 L1059.1 566.8 L1061.1 567.6 L1063.1 568.3 L1065.1 568.9 L1067.2 569.5 L1069.2 570.2 L1071.2 570.7 L1073.2 571.3" stroke="#9b1c1c" stroke-width="1.6" fill="none" stroke-linejoin="round"/>
<path d="M831.6 569.4 L833.6 568.6 L835.6 567.8 L837.6 566.9 L839.7 566.0 L841.7 565.1 L843.7 564.1 L845.7 563.0 L847.7 561.9 L849.7 560.8 L851.7 559.6 L853.7 558.3 L855.8 557.0 L857.8 555.7 L859.8 554.3 L861.8 552.9 L863.8 551.4 L865.8 549.9 L867.8 548.3 L869.9 546.6 L871.9 544.9 L873.9 543.2 L875.9 541.4 L877.9 539.7 L879.9 537.9 L881.9 536.1 L883.9 534.3 L886.0 532.4 L888.0 530.5 L890.0 528.6 L892.0 526.6 L894.0 524.6 L896.0 522.6 L898.0 520.7 L900.1 518.7 L902.1 516.9 L904.1 515.0 L906.1 513.2 L908.1 511.4 L910.1 509.7 L912.1 507.9 L914.1 506.1 L916.2 504.4 L918.2 502.5 L920.2 500.7 L922.2 499.1 L924.2 497.8 L926.2 496.7 L928.2 495.8 L930.3 494.9 L932.3 494.0 L934.3 493.0 L936.3 492.0 L938.3 490.9 L940.3 489.8 L942.3 488.9 L944.3 488.2 L946.4 487.9 L948.4 487.8 L950.4 488.0 L952.4 488.3 L954.4 488.6 L956.4 488.9 L958.4 489.1 L960.5 489.2 L962.5 489.4 L964.5 489.6 L966.5 490.1 L968.5 490.9 L970.5 491.9 L972.5 493.2 L974.5 494.6 L976.6 496.1 L978.6 497.5 L980.6 498.9 L982.6 500.1 L984.6 501.3 L986.6 502.6 L988.6 504.3 L990.7 506.0 L992.7 507.7 L994.7 509.5 L996.7 511.4 L998.7 513.4 L1000.7 515.3 L1002.7 517.2 L1004.7 519.1 L1006.8 521.0 L1008.8 522.9 L1010.8 524.8 L1012.8 526.7 L1014.8 528.7 L1016.8 530.6 L1018.8 532.6 L1020.9 534.6 L1022.9 536.5 L1024.9 538.3 L1026.9 540.2 L1028.9 541.9 L1030.9 543.7 L1032.9 545.4 L1034.9 547.0 L1037.0 548.7 L1039.0 550.3 L1041.0 551.9 L1043.0 553.4 L1045.0 554.9 L1047.0 556.3 L1049.0 557.7 L1051.1 559.0 L1053.1 560.3 L1055.1 561.5 L1057.1 562.7 L1059.1 563.8 L1061.1 564.9 L1063.1 565.9 L1065.1 566.9 L1067.2 567.8 L1069.2 568.7 L1071.2 569.5 L1073.2 570.3" stroke="#999999" stroke-width="1.6" fill="none" stroke-linejoin="round"/>
<path d="M831.6 568.1 L833.6 567.1 L835.6 566.1 L837.6 565.0 L839.7 563.8 L841.7 562.6 L843.7 561.4 L845.7 560.1 L847.7 558.7 L849.7 557.3 L851.7 555.8 L853.7 554.2 L855.8 552.5 L857.8 550.8 L859.8 549.1 L861.8 547.3 L863.8 545.4 L865.8 543.5 L867.8 541.6 L869.9 539.5 L871.9 537.5 L873.9 535.3 L875.9 533.1 L877.9 530.9 L879.9 528.6 L881.9 526.2 L883.9 523.9 L886.0 521.5 L888.0 519.2 L890.0 516.8 L892.0 514.5 L894.0 512.1 L896.0 509.7 L898.0 507.2 L900.1 504.8 L902.1 502.3 L904.1 499.9 L906.1 497.5 L908.1 495.2 L910.1 493.0 L912.1 490.9 L914.1 488.8 L916.2 486.8 L918.2 485.2 L920.2 483.1 L922.2 481.1 L924.2 479.0 L926.2 477.0 L928.2 475.2 L930.3 473.7 L932.3 472.5 L934.3 471.6 L936.3 470.8 L938.3 470.1 L940.3 469.4 L942.3 468.6 L944.3 467.7 L946.4 466.9 L948.4 466.2 L950.4 465.7 L952.4 465.6 L954.4 465.7 L956.4 466.2 L958.4 466.9 L960.5 467.7 L962.5 468.6 L964.5 469.3 L966.5 470.1 L968.5 470.8 L970.5 471.6 L972.5 472.5 L974.5 473.7 L976.6 475.2 L978.6 477.0 L980.6 479.0 L982.6 481.1 L984.6 483.2 L986.6 485.2 L988.6 486.8 L990.7 488.9 L992.7 490.9 L994.7 493.1 L996.7 495.3 L998.7 497.6 L1000.7 499.9 L1002.7 502.4 L1004.7 504.8 L1006.8 507.3 L1008.8 509.8 L1010.8 512.2 L1012.8 514.6 L1014.8 516.9 L1016.8 519.3 L1018.8 521.7 L1020.9 524.0 L1022.9 526.4 L1024.9 528.7 L1026.9 531.0 L1028.9 533.3 L1030.9 535.5 L1032.9 537.6 L1034.9 539.7 L1037.0 541.8 L1039.0 543.7 L1041.0 545.6 L1043.0 547.5 L1045.0 549.3 L1047.0 551.1 L1049.0 552.8 L1051.1 554.4 L1053.1 556.0 L1055.1 557.5 L1057.1 559.0 L1059.1 560.4 L1061.1 561.7 L1063.1 563.0 L1065.1 564.2 L1067.2 565.3 L1069.2 566.4 L1071.2 567.5 L1073.2 568.4" stroke="#7b72b6" stroke-width="1.6" fill="none" stroke-linejoin="round"/>
<path d="M831.6 564.6 L833.6 563.7 L835.6 562.8 L837.6 561.8 L839.7 560.7 L841.7 559.6 L843.7 558.4 L845.7 557.2 L847.7 555.9 L849.7 554.5 L851.7 553.1 L853.7 551.7 L855.8 550.2 L857.8 548.6 L859.8 547.0 L861.8 545.3 L863.8 543.5 L865.8 541.7 L867.8 539.8 L869.9 537.9 L871.9 535.9 L873.9 533.9 L875.9 531.9 L877.9 529.8 L879.9 527.7 L881.9 525.6 L883.9 523.4 L886.0 521.2 L888.0 518.9 L890.0 516.6 L892.0 514.3 L894.0 512.0 L896.0 509.7 L898.0 507.5 L900.1 505.3 L902.1 503.1 L904.1 500.9 L906.1 498.8 L908.1 496.6 L910.1 494.4 L912.1 492.3 L914.1 490.2 L916.2 488.2 L918.2 485.8 L920.2 484.1 L922.2 482.5 L924.2 481.2 L926.2 479.9 L928.2 478.6 L930.3 477.3 L932.3 475.9 L934.3 474.5 L936.3 473.1 L938.3 471.8 L940.3 470.8 L942.3 470.1 L944.3 469.7 L946.4 469.5 L948.4 469.6 L950.4 469.7 L952.4 469.7 L954.4 469.7 L956.4 469.7 L958.4 469.7 L960.5 469.8 L962.5 470.1 L964.5 470.8 L966.5 471.7 L968.5 472.9 L970.5 474.3 L972.5 475.8 L974.5 477.3 L976.6 478.7 L978.6 480.0 L980.6 481.3 L982.6 482.7 L984.6 484.2 L986.6 485.9 L988.6 488.2 L990.7 490.2 L992.7 492.3 L994.7 494.5 L996.7 496.7 L998.7 498.9 L1000.7 501.1 L1002.7 503.2 L1004.7 505.4 L1006.8 507.7 L1008.8 509.9 L1010.8 512.2 L1012.8 514.5 L1014.8 516.8 L1016.8 519.2 L1018.8 521.5 L1020.9 523.7 L1022.9 525.9 L1024.9 528.1 L1026.9 530.2 L1028.9 532.3 L1030.9 534.3 L1032.9 536.3 L1034.9 538.3 L1037.0 540.3 L1039.0 542.2 L1041.0 544.0 L1043.0 545.8 L1045.0 547.6 L1047.0 549.2 L1049.0 550.8 L1051.1 552.3 L1053.1 553.8 L1055.1 555.2 L1057.1 556.6 L1059.1 557.9 L1061.1 559.2 L1063.1 560.4 L1065.1 561.6 L1067.2 562.6 L1069.2 563.7 L1071.2 564.7 L1073.2 565.6" stroke="#1aa51a" stroke-width="1.6" fill="none" stroke-linejoin="round"/>
<path d="M831.6 559.9 L833.6 559.0 L835.6 558.0 L837.6 556.9 L839.7 555.8 L841.7 554.7 L843.7 553.4 L845.7 552.2 L847.7 550.8 L849.7 549.4 L851.7 548.0 L853.7 546.5 L855.8 544.9 L857.8 543.3 L859.8 541.6 L861.8 539.8 L863.8 538.0 L865.8 536.1 L867.8 534.2 L869.9 532.2 L871.9 530.2 L873.9 528.2 L875.9 526.1 L877.9 524.0 L879.9 521.8 L881.9 519.6 L883.9 517.3 L886.0 515.0 L888.0 512.6 L890.0 510.3 L892.0 507.9 L894.0 505.6 L896.0 503.3 L898.0 501.0 L900.1 498.8 L902.1 496.5 L904.1 494.2 L906.1 491.9 L908.1 489.7 L910.1 487.4 L912.1 485.2 L914.1 483.1 L916.2 481.1 L918.2 479.0 L920.2 477.4 L922.2 475.9 L924.2 474.4 L926.2 472.9 L928.2 471.3 L930.3 469.6 L932.3 468.0 L934.3 466.4 L936.3 465.1 L938.3 464.1 L940.3 463.4 L942.3 463.0 L944.3 462.7 L946.4 462.6 L948.4 462.4 L950.4 462.2 L952.4 461.9 L954.4 461.7 L956.4 461.5 L958.4 461.6 L960.5 461.9 L962.5 462.6 L964.5 463.6 L966.5 464.7 L968.5 466.0 L970.5 467.4 L972.5 468.6 L974.5 469.8 L976.6 471.0 L978.6 472.2 L980.6 473.5 L982.6 475.1 L984.6 476.9 L986.6 478.9 L988.6 481.2 L990.7 483.3 L992.7 485.4 L994.7 487.6 L996.7 489.8 L998.7 491.9 L1000.7 494.1 L1002.7 496.3 L1004.7 498.6 L1006.8 500.9 L1008.8 503.3 L1010.8 505.6 L1012.8 508.0 L1014.8 510.4 L1016.8 512.8 L1018.8 515.1 L1020.9 517.3 L1022.9 519.5 L1024.9 521.7 L1026.9 523.9 L1028.9 526.0 L1030.9 528.1 L1032.9 530.2 L1034.9 532.3 L1037.0 534.3 L1039.0 536.2 L1041.0 538.1 L1043.0 539.9 L1045.0 541.6 L1047.0 543.3 L1049.0 544.9 L1051.1 546.4 L1053.1 548.0 L1055.1 549.4 L1057.1 550.8 L1059.1 552.2 L1061.1 553.5 L1063.1 554.7 L1065.1 555.8 L1067.2 556.9 L1069.2 558.0 L1071.2 559.0 L1073.2 559.9" stroke="#29aae3" stroke-width="1.6" fill="none" stroke-linejoin="round"/>
<path d="M831.6 455.3V598.1H1073.2" stroke="#111" stroke-width="1.5" fill="none"/>
<path d="M831.6 564.6h-6M831.6 526.8h-6M831.6 488.9h-6M831.6 598.1v5.5M952.4 598.1v5.5M1073.2 598.1v5.5" stroke="#111" stroke-width="1.4" fill="none"/>
<text x="824.5" y="571.4" text-anchor="end" textLength="23.2" lengthAdjust="spacingAndGlyphs">20</text>
<text x="824.5" y="533.6" text-anchor="end" textLength="23.2" lengthAdjust="spacingAndGlyphs">40</text>
<text x="824.5" y="495.8" text-anchor="end" textLength="23.2" lengthAdjust="spacingAndGlyphs">60</text>
<text x="818.5" y="621.2" textLength="38.0" lengthAdjust="spacingAndGlyphs">–5.0</text>
<text x="952.4" y="621.2" text-anchor="middle" textLength="62.0" lengthAdjust="spacingAndGlyphs">Centre</text>
<text x="1053.4" y="621.2" textLength="53.8" lengthAdjust="spacingAndGlyphs">5.0Kb</text>
<text x="955.3" y="647.7" text-anchor="middle" textLength="176.0" lengthAdjust="spacingAndGlyphs">Gene distance (bp)</text>
<text transform="translate(783.0 529.2) rotate(-90)" text-anchor="middle" textLength="163.0" lengthAdjust="spacingAndGlyphs">Normalized signal</text>
<line x1="1123.8" y1="437.4" x2="1150.1" y2="437.4" stroke="#7b72b6" stroke-width="1.8"/>
<text x="1165.2" y="442.8" textLength="42.5" lengthAdjust="spacingAndGlyphs">NPC</text>
<line x1="1123.8" y1="467.1" x2="1150.1" y2="467.1" stroke="#c9a97c" stroke-width="1.8"/>
<text x="1165.2" y="472.5" textLength="130.0" lengthAdjust="spacingAndGlyphs">Neurons (d53)</text>
<line x1="1123.8" y1="496.7" x2="1150.1" y2="496.7" stroke="#999999" stroke-width="1.8"/>
<text x="1165.2" y="502.1" textLength="124.0" lengthAdjust="spacingAndGlyphs">NPC - DMSO</text>
<line x1="1123.8" y1="526.4" x2="1150.1" y2="526.4" stroke="#1aa51a" stroke-width="1.8"/>
<text x="1165.2" y="531.8" textLength="132.0" lengthAdjust="spacingAndGlyphs">NPC - DOT1Li</text>
<line x1="1123.8" y1="556.0" x2="1150.1" y2="556.0" stroke="#29aae3" stroke-width="1.8"/>
<text x="1165.2" y="561.4" textLength="155.0" lengthAdjust="spacingAndGlyphs">NPC - EHMT1/2i</text>
<line x1="1123.8" y1="585.7" x2="1150.1" y2="585.7" stroke="#9b1c1c" stroke-width="1.8"/>
<text x="1165.2" y="591.1" textLength="119.0" lengthAdjust="spacingAndGlyphs">NPC - EZH2i</text>
</g>
<g id="pe">
<text x="10.7" y="696.9" font-weight="bold" fill="#000" style="font-size:31.5px" textLength="18.4" lengthAdjust="spacingAndGlyphs" stroke="#000" stroke-width="1.0" stroke-linejoin="round">e</text>
<text x="53.4" y="711.6" textLength="56.0" lengthAdjust="spacingAndGlyphs">Chr. 5</text>
<path d="M133.4 712H628.4M167.8 712v-4M239.0 712v-4M310.2 712v-4M380.3 712v-4M451.6 712v-4M522.3 712v-4M592.8 712v-4" stroke="#333" stroke-width="1" fill="none"/>
<text x="122.9" y="703.8" textLength="102.3" lengthAdjust="spacingAndGlyphs">133,860 kb</text>
<text x="264.3" y="703.8" textLength="102.3" lengthAdjust="spacingAndGlyphs">133,880 kb</text>
<text x="406.0" y="703.8" textLength="102.3" lengthAdjust="spacingAndGlyphs">133,900 kb</text>
<text x="546.5" y="703.8" textLength="102.3" lengthAdjust="spacingAndGlyphs">133,920 kb</text>
<line x1="98.4" y1="718.2" x2="98.4" y2="848.2" stroke="#111" stroke-width="2"/>
<line x1="98.4" y1="855.1" x2="98.4" y2="985.1" stroke="#111" stroke-width="2"/>
<line x1="98.4" y1="993.8" x2="98.4" y2="1084.8" stroke="#111" stroke-width="2"/>
<text transform="translate(83.0 778.5) rotate(-90)" text-anchor="middle" textLength="40.0" lengthAdjust="spacingAndGlyphs">NPC</text>
<text transform="translate(83.0 915.0) rotate(-90)" text-anchor="middle" textLength="80.0" lengthAdjust="spacingAndGlyphs">Neurons</text>
<text transform="translate(83.0 1034.5) rotate(-90)" text-anchor="middle" textLength="40.0" lengthAdjust="spacingAndGlyphs">NPC</text>
<line x1="127.7" y1="759.7" x2="637.5" y2="759.7" stroke="#ebb4b4" stroke-width="1.5"/>
<path d="M136.2 760.2L136.2 759.7L137.8 755.1L139.3 750.8L141.2 748.8L143.0 748.0L144.5 744.5L146.1 741.2L147.6 740.7L149.1 737.9L150.7 735.2L152.2 736.1L153.6 736.6L154.9 730.6L157.1 725.1L159.0 733.4L160.8 730.6L163.2 726.4L164.6 730.2L165.9 733.4L167.8 734.4L169.6 740.7L171.4 743.3L173.3 747.2L174.7 749.4L176.0 753.6L178.4 756.3L180.0 755.4L181.6 753.6L182.9 755.5L184.3 757.3L185.7 757.8L187.1 758.0L188.4 758.3L189.8 758.7L191.2 758.9L192.6 759.0L194.0 759.1L195.4 759.1L196.7 759.3L198.1 759.5L199.5 759.6L200.9 759.7L200.9 760.2ZM196.6 760.2l1.0 -1.1l0.7 -0.1l1.5 1.2zM127.0 760.2l1.1 -1.5l0.8 -0.3l1.6 1.8zM234.0 760.2l2.1 -1.7l1.5 -0.3l2.9 2.1zM272.0 760.2l1.6 -1.7l1.1 -0.3l2.3 2.0zM471.2 759.0h3.9v1.2h-3.9zM474.7 760.2l2.1 -1.7l1.5 -0.3l3.0 2.0zM279.1 759.0h1.9v1.2h-1.9zM201.5 759.0h2.3v1.2h-2.3zM433.4 759.0h3.2v1.2h-3.2zM298.9 759.0h3.5v1.2h-3.5zM371.3 759.0h2.7v1.2h-2.7zM484.8 759.0h3.9v1.2h-3.9zM136.4 760.2l2.0 -1.3l1.4 -0.2l2.9 1.5zM134.9 760.2l1.4 -1.4l1.0 -0.2l1.9 1.6zM420.9 759.0h1.6v1.2h-1.6zM217.8 760.2l1.1 -1.7l0.8 -0.3l1.6 2.0zM507.6 760.2l2.2 -1.6l1.5 -0.3l3.1 1.9zM302.2 759.0h2.8v1.2h-2.8zM520.8 759.0h3.4v1.2h-3.4zM530.5 760.2l0.9 -1.5l0.6 -0.3l1.3 1.8zM607.0 759.0h2.4v1.2h-2.4zM435.4 760.2l1.3 -1.6l0.9 -0.3l1.9 1.9zM594.3 760.2l1.3 -1.0l0.9 -0.1l1.8 1.1zM288.3 759.0h1.7v1.2h-1.7zM200.0 760.2l2.2 -1.2l1.6 -0.2l3.2 1.4zM209.6 759.0h4.0v1.2h-4.0zM398.1 759.0h2.1v1.2h-2.1zM426.6 760.2l1.5 -1.4l1.1 -0.2l2.1 1.7zM341.4 759.0h3.8v1.2h-3.8zM141.4 760.2l2.0 -0.9l1.4 -0.1l2.9 1.0zM190.8 760.2l2.2 -1.3l1.5 -0.2l3.1 1.5zM445.8 760.2l1.0 -1.4l0.7 -0.2l1.4 1.6zM347.9 759.0h3.6v1.2h-3.6zM277.1 759.0h4.0v1.2h-4.0zM557.5 760.2l1.5 -1.7l1.1 -0.3l2.1 2.0z" fill="#990000"/>
<line x1="127.7" y1="800.8" x2="637.5" y2="800.8" stroke="#b4b4f0" stroke-width="1.5"/>
<path d="M165.0 801.3L165.0 800.8L166.8 797.4L168.7 794.0L170.6 785.8L172.4 779.3L174.2 773.4L176.6 772.0L177.9 775.6L180.3 764.2L182.5 770.1L184.3 777.5L186.5 784.8L188.9 783.0L190.3 785.8L191.7 788.5L193.5 795.8L195.3 797.4L197.2 798.6L199.4 800.8L199.4 801.3ZM332.3 800.1h2.4v1.2h-2.4zM626.2 801.3l1.7 -1.4l1.2 -0.2l2.5 1.6zM380.8 800.1h1.7v1.2h-1.7zM262.8 801.3l2.1 -1.1l1.5 -0.2l2.9 1.3zM308.1 801.3l1.9 -1.2l1.4 -0.2l2.7 1.3zM477.0 801.3l1.9 -1.0l1.4 -0.1l2.7 1.1zM310.1 801.3l1.2 -1.0l0.9 -0.1l1.8 1.2zM371.3 801.3l1.8 -1.1l1.3 -0.2l2.6 1.3zM274.1 801.3l1.7 -1.4l1.2 -0.2l2.5 1.6zM422.0 800.1h2.9v1.2h-2.9zM252.6 801.3l1.5 -1.0l1.1 -0.1l2.1 1.1zM538.8 801.3l2.0 -1.0l1.4 -0.1l2.8 1.1zM301.3 801.3l1.9 -1.0l1.3 -0.1l2.7 1.1zM547.4 800.1h3.6v1.2h-3.6zM565.4 801.3l2.2 -1.0l1.6 -0.1l3.2 1.2zM612.5 800.1h2.8v1.2h-2.8zM208.8 801.3l2.2 -1.2l1.5 -0.2l3.1 1.4zM366.9 801.3l1.8 -1.0l1.3 -0.1l2.6 1.2zM497.8 800.1h3.5v1.2h-3.5zM420.0 801.3l1.4 -1.0l1.0 -0.1l2.0 1.1zM441.3 801.3l1.7 -1.1l1.2 -0.2l2.5 1.3zM492.8 800.1h1.9v1.2h-1.9zM349.6 801.3l1.1 -1.0l0.8 -0.1l1.6 1.1zM474.1 801.3l0.9 -1.0l0.6 -0.1l1.3 1.1zM366.7 800.1h1.6v1.2h-1.6z" fill="#0000b4"/>
<line x1="127.7" y1="841.8" x2="637.5" y2="841.8" stroke="#b4dcc6" stroke-width="1.5"/>
<path d="M313.0 842.3L313.0 841.8L315.0 837.8L316.4 835.9L317.9 832.8L320.0 837.8L322.0 841.8L322.0 842.3ZM400.0 842.3L400.0 841.8L401.5 838.9L403.0 835.8L405.0 841.8L405.0 842.3ZM484.0 842.3L484.0 841.8L485.5 839.0L487.0 835.8L488.3 836.9L489.7 837.7L491.0 837.8L492.5 839.8L494.0 841.8L494.0 842.3ZM318.1 842.3l1.7 -2.5l1.2 -0.5l2.4 3.0zM247.0 842.3l0.8 -2.2l0.6 -0.4l1.2 2.6zM331.1 842.3l1.4 -1.1l1.0 -0.1l2.0 1.2zM184.1 842.3l1.4 -2.0l1.0 -0.4l1.9 2.3zM144.6 842.3l1.0 -1.4l0.7 -0.2l1.4 1.6zM401.7 842.3l1.7 -1.3l1.2 -0.2l2.4 1.5zM611.3 842.3l1.4 -2.9l1.0 -0.6l2.0 3.5zM537.8 842.3l1.4 -2.1l1.0 -0.4l1.9 2.5zM197.4 842.3l1.6 -1.4l1.2 -0.2l2.3 1.6zM610.4 842.3l1.7 -3.6l1.2 -0.8l2.4 4.4zM304.4 842.3l0.8 -4.2l0.6 -0.9l1.2 5.1zM180.0 842.3l1.7 -1.3l1.2 -0.2l2.4 1.5zM196.0 842.3l2.1 -1.4l1.5 -0.2l3.0 1.7zM316.5 842.3l1.2 -1.6l0.8 -0.3l1.7 1.9zM273.5 842.3l1.4 -4.7l1.0 -1.1l2.0 5.8zM612.4 842.3l1.7 -3.4l1.2 -0.7l2.4 4.1zM257.2 842.3l1.5 -4.8l1.1 -1.1l2.2 5.8zM335.1 842.3l2.2 -1.2l1.6 -0.2l3.2 1.4zM374.8 842.3l1.5 -1.1l1.1 -0.1l2.2 1.2zM187.4 842.3l1.5 -1.4l1.0 -0.2l2.1 1.7zM273.4 842.3l2.0 -3.5l1.4 -0.7l2.9 4.2zM132.6 842.3l1.2 -1.2l0.9 -0.2l1.7 1.4zM600.0 842.3l1.2 -2.7l0.8 -0.6l1.7 3.3zM263.4 841.1h4.0v1.2h-4.0zM274.1 842.3l1.5 -2.5l1.1 -0.5l2.1 3.0zM451.8 842.3l1.9 -2.5l1.3 -0.5l2.7 3.0zM185.8 842.3l1.3 -1.8l0.9 -0.3l1.8 2.1zM396.3 842.3l1.3 -1.3l0.9 -0.2l1.8 1.5zM394.3 842.3l1.3 -1.8l1.0 -0.3l1.9 2.1zM504.0 842.3l0.9 -1.9l0.6 -0.4l1.3 2.3zM252.6 842.3l2.1 -1.8l1.5 -0.3l3.0 2.1zM576.5 842.3l0.9 -1.8l0.6 -0.3l1.2 2.1zM519.8 842.3l1.6 -1.3l1.2 -0.2l2.4 1.6zM484.4 842.3l1.5 -2.1l1.1 -0.4l2.2 2.5zM587.8 842.3l1.4 -1.2l1.0 -0.2l2.0 1.4zM559.4 841.1h2.2v1.2h-2.2zM548.4 841.1h3.6v1.2h-3.6zM478.0 842.3l1.2 -1.7l0.9 -0.3l1.8 1.9zM521.9 842.3l1.0 -3.3l0.7 -0.7l1.5 4.1zM368.0 842.3l1.5 -2.2l1.1 -0.4l2.2 2.6zM295.3 841.1h3.0v1.2h-3.0zM539.1 841.1h2.1v1.2h-2.1zM540.5 842.3l1.8 -2.8l1.3 -0.6l2.5 3.3zM137.5 842.3l2.2 -1.7l1.6 -0.3l3.2 2.0zM632.4 842.3l0.9 -2.4l0.6 -0.5l1.3 2.8zM554.5 841.1h3.1v1.2h-3.1zM608.8 842.3l1.0 -2.4l0.7 -0.5l1.5 2.9zM274.4 842.3l1.0 -4.3l0.7 -1.0l1.5 5.3zM435.6 842.3l1.1 -1.6l0.8 -0.3l1.5 1.8zM443.1 841.1h1.8v1.2h-1.8zM319.9 841.1h1.6v1.2h-1.6zM416.3 842.3l2.1 -3.2l1.5 -0.7l3.0 3.9zM194.0 842.3l1.3 -1.0l0.9 -0.1l1.8 1.1zM428.8 842.3l2.2 -1.9l1.5 -0.4l3.1 2.3zM317.3 841.1h3.2v1.2h-3.2zM202.1 842.3l1.5 -1.4l1.1 -0.2l2.2 1.7zM586.7 842.3l1.7 -1.8l1.2 -0.3l2.4 2.1zM259.4 842.3l1.2 -2.2l0.9 -0.4l1.7 2.6zM506.6 842.3l1.0 -1.6l0.7 -0.3l1.5 1.9zM243.8 842.3l1.9 -0.9l1.3 -0.1l2.7 1.0zM216.1 842.3l1.8 -1.7l1.3 -0.3l2.5 1.9zM169.5 842.3l1.0 -1.5l0.7 -0.3l1.4 1.8zM189.3 842.3l1.2 -1.4l0.8 -0.2l1.7 1.6zM570.3 842.3l1.3 -1.5l0.9 -0.3l1.8 1.8zM531.3 841.1h3.3v1.2h-3.3zM154.9 841.1h3.9v1.2h-3.9zM472.9 841.1h1.8v1.2h-1.8zM617.8 842.3l2.0 -2.2l1.4 -0.4l2.8 2.6zM196.6 842.3l1.3 -1.4l1.0 -0.2l1.9 1.7zM246.8 841.1h3.0v1.2h-3.0zM302.9 842.3l1.0 -1.5l0.7 -0.2l1.5 1.7zM546.1 842.3l2.0 -2.1l1.4 -0.4l2.8 2.6zM345.1 842.3l1.6 -3.9l1.1 -0.9l2.2 4.8zM425.4 842.3l1.9 -2.3l1.3 -0.5l2.7 2.8zM328.1 841.1h1.6v1.2h-1.6zM230.3 841.1h3.7v1.2h-3.7zM370.3 842.3l0.8 -3.3l0.6 -0.7l1.2 4.0zM363.6 842.3l1.7 -4.2l1.2 -0.9l2.4 5.1zM343.5 842.3l1.0 -1.8l0.7 -0.3l1.4 2.1zM206.1 841.1h2.4v1.2h-2.4zM321.6 842.3l1.1 -4.1l0.8 -0.9l1.5 5.0zM254.9 842.3l1.1 -1.1l0.8 -0.1l1.5 1.2zM271.0 842.3l1.5 -0.9l1.1 -0.1l2.2 1.0zM142.0 842.3l1.4 -2.2l1.0 -0.4l1.9 2.7zM600.5 842.3l1.8 -2.3l1.3 -0.5l2.5 2.8zM365.3 842.3l1.0 -4.5l0.7 -1.0l1.4 5.5zM464.0 842.3l1.8 -1.1l1.3 -0.2l2.5 1.3zM497.3 841.1h2.0v1.2h-2.0zM140.3 841.1h1.7v1.2h-1.7zM329.0 842.3l1.3 -4.7l1.0 -1.1l1.9 5.8zM284.0 842.3l1.2 -1.8l0.9 -0.3l1.8 2.1zM497.3 842.3l1.1 -2.4l0.8 -0.5l1.5 2.9zM246.5 842.3l2.2 -1.5l1.5 -0.3l3.1 1.8zM451.9 842.3l2.2 -1.6l1.6 -0.3l3.2 1.9zM130.9 841.1h3.4v1.2h-3.4zM335.6 841.1h2.9v1.2h-2.9zM627.3 842.3l1.3 -1.7l1.0 -0.3l1.9 1.9zM175.2 841.1h3.7v1.2h-3.7zM375.3 842.3l0.9 -4.5l0.7 -1.0l1.3 5.4zM251.1 841.1h2.5v1.2h-2.5zM158.2 841.1h2.5v1.2h-2.5zM282.8 841.1h1.6v1.2h-1.6zM620.1 841.1h2.8v1.2h-2.8zM330.2 842.3l1.0 -2.1l0.7 -0.4l1.4 2.5zM286.8 841.1h2.9v1.2h-2.9zM591.7 842.3l2.0 -2.0l1.5 -0.4l2.9 2.3zM236.4 841.1h2.8v1.2h-2.8zM372.3 842.3l1.4 -2.3l1.0 -0.4l2.0 2.7zM441.5 842.3l2.1 -3.1l1.5 -0.7l3.0 3.8zM280.7 842.3l2.0 -1.7l1.4 -0.3l2.9 2.0zM241.2 841.1h2.3v1.2h-2.3zM169.3 842.3l2.0 -1.8l1.4 -0.3l2.8 2.1zM286.3 841.1h1.7v1.2h-1.7zM251.8 841.1h2.6v1.2h-2.6zM418.8 842.3l0.9 -1.0l0.7 -0.1l1.3 1.1zM482.8 841.1h2.0v1.2h-2.0zM271.3 842.3l1.0 -1.4l0.7 -0.2l1.4 1.6zM338.1 842.3l1.9 -1.2l1.4 -0.2l2.7 1.4zM407.0 842.3l1.8 -4.2l1.3 -0.9l2.5 5.1zM510.6 842.3l1.5 -1.9l1.0 -0.3l2.1 2.2zM538.5 842.3l2.2 -2.2l1.6 -0.4l3.1 2.6zM494.9 842.3l1.2 -2.4l0.9 -0.5l1.7 2.8zM537.8 842.3l1.0 -1.2l0.7 -0.2l1.5 1.4zM161.1 841.1h2.2v1.2h-2.2zM468.9 842.3l0.9 -1.1l0.7 -0.1l1.3 1.2zM513.5 842.3l0.9 -1.8l0.6 -0.3l1.3 2.1zM153.4 841.1h2.4v1.2h-2.4zM561.0 842.3l1.7 -3.5l1.2 -0.8l2.4 4.3zM242.9 842.3l1.3 -1.0l1.0 -0.1l1.9 1.1zM295.1 841.1h3.0v1.2h-3.0zM545.4 842.3l1.0 -2.5l0.7 -0.5l1.4 3.0zM396.5 841.1h3.3v1.2h-3.3zM351.1 842.3l2.0 -4.5l1.4 -1.0l2.8 5.5zM187.6 841.1h3.8v1.2h-3.8zM359.3 842.3l1.5 -1.7l1.0 -0.3l2.1 1.9zM514.4 842.3l1.6 -3.5l1.1 -0.7l2.3 4.2zM617.7 842.3l1.0 -1.9l0.7 -0.4l1.4 2.3zM539.1 842.3l0.9 -1.3l0.7 -0.2l1.3 1.5zM623.4 841.1h2.9v1.2h-2.9zM370.0 842.3l1.4 -4.1l1.0 -0.9l2.0 5.0zM237.0 841.1h2.0v1.2h-2.0zM410.0 842.3l1.9 -1.3l1.4 -0.2l2.7 1.6zM248.4 842.3l1.2 -1.3l0.8 -0.2l1.7 1.5zM622.7 842.3l2.0 -3.0l1.4 -0.6l2.9 3.6zM439.5 842.3l1.0 -1.5l0.7 -0.3l1.5 1.8zM547.9 842.3l0.9 -1.6l0.6 -0.3l1.3 1.8zM213.6 841.1h3.3v1.2h-3.3zM583.9 841.1h3.5v1.2h-3.5zM289.0 842.3l2.0 -2.9l1.5 -0.6l2.9 3.5zM441.5 842.3l1.4 -3.6l1.0 -0.8l2.0 4.4zM130.4 842.3l1.7 -1.2l1.2 -0.2l2.4 1.3zM219.5 842.3l1.3 -0.9l0.9 -0.1l1.8 1.0zM141.4 841.1h2.5v1.2h-2.5zM367.0 842.3l1.4 -3.0l1.0 -0.6l2.0 3.6zM622.5 842.3l2.1 -2.9l1.5 -0.6l3.0 3.5zM476.5 842.3l1.6 -2.8l1.1 -0.6l2.3 3.4zM530.1 842.3l1.7 -1.2l1.2 -0.2l2.4 1.3zM470.3 842.3l1.2 -2.1l0.9 -0.4l1.8 2.4zM167.1 841.1h2.4v1.2h-2.4zM419.2 842.3l1.8 -3.3l1.3 -0.7l2.6 4.0zM281.4 842.3l1.2 -4.4l0.9 -1.0l1.7 5.4zM490.6 841.1h3.4v1.2h-3.4zM464.2 842.3l2.1 -4.6l1.5 -1.0l3.0 5.6zM473.5 842.3l1.9 -3.8l1.3 -0.8l2.7 4.6zM437.3 841.1h2.8v1.2h-2.8zM581.9 841.1h3.9v1.2h-3.9zM402.2 842.3l0.8 -1.5l0.6 -0.2l1.2 1.7zM325.4 841.1h3.1v1.2h-3.1zM581.2 842.3l1.7 -3.3l1.2 -0.7l2.4 4.0zM323.7 841.1h3.2v1.2h-3.2zM406.2 842.3l1.4 -3.1l1.0 -0.6l1.9 3.7zM577.1 841.1h2.3v1.2h-2.3zM260.4 842.3l2.1 -2.6l1.5 -0.5l3.0 3.1zM209.8 842.3l1.9 -1.5l1.4 -0.2l2.7 1.7zM241.6 841.1h2.9v1.2h-2.9zM545.8 842.3l1.9 -3.2l1.3 -0.7l2.7 3.9zM336.7 842.3l1.6 -1.6l1.1 -0.3l2.3 1.9zM584.5 842.3l1.2 -1.0l0.9 -0.1l1.8 1.1zM432.9 842.3l1.1 -4.7l0.8 -1.0l1.6 5.7zM143.1 841.1h2.9v1.2h-2.9zM433.5 841.1h2.0v1.2h-2.0zM426.4 842.3l1.8 -2.7l1.3 -0.5l2.6 3.2zM497.1 841.1h2.7v1.2h-2.7zM548.9 842.3l1.3 -3.6l0.9 -0.8l1.8 4.3zM555.6 842.3l2.1 -2.1l1.5 -0.4l3.1 2.5zM240.9 842.3l2.0 -1.6l1.4 -0.3l2.9 1.9zM369.3 841.1h2.0v1.2h-2.0zM207.1 841.1h1.9v1.2h-1.9zM439.8 841.1h3.4v1.2h-3.4zM498.0 842.3l2.0 -2.9l1.4 -0.6l2.8 3.5zM486.0 842.3l2.2 -3.4l1.6 -0.7l3.1 4.1zM443.1 842.3l1.0 -4.7l0.7 -1.0l1.4 5.7zM179.8 841.1h2.0v1.2h-2.0zM314.9 842.3l1.8 -1.8l1.3 -0.3l2.6 2.1zM504.2 841.1h2.5v1.2h-2.5zM401.7 842.3l1.0 -1.4l0.7 -0.2l1.4 1.6zM427.7 842.3l1.8 -1.4l1.3 -0.2l2.6 1.6zM375.7 842.3l2.2 -4.6l1.5 -1.0l3.1 5.7zM161.6 842.3l1.8 -1.8l1.3 -0.3l2.6 2.1zM277.7 841.1h2.7v1.2h-2.7zM304.1 842.3l2.1 -3.2l1.5 -0.7l3.0 3.9zM319.1 842.3l1.5 -1.1l1.1 -0.2l2.2 1.3zM478.5 842.3l1.6 -2.8l1.2 -0.6l2.4 3.3zM274.8 842.3l2.0 -1.3l1.4 -0.2l2.9 1.5zM390.9 841.1h2.6v1.2h-2.6zM246.9 842.3l0.9 -1.5l0.7 -0.3l1.3 1.8zM265.1 841.1h2.7v1.2h-2.7zM624.7 842.3l1.4 -1.7l1.0 -0.3l2.0 2.0zM601.0 841.1h2.4v1.2h-2.4zM538.6 841.1h3.4v1.2h-3.4zM310.7 841.1h2.1v1.2h-2.1zM357.7 842.3l1.6 -1.4l1.1 -0.2l2.2 1.7zM154.6 841.1h3.9v1.2h-3.9zM350.7 842.3l1.0 -1.8l0.7 -0.3l1.4 2.2zM266.6 842.3l1.8 -4.6l1.3 -1.0l2.6 5.6zM385.1 841.1h2.5v1.2h-2.5zM519.8 842.3l1.7 -1.4l1.2 -0.2l2.4 1.6zM582.5 842.3l1.7 -2.1l1.2 -0.4l2.5 2.5zM146.0 841.1h3.4v1.2h-3.4zM334.3 842.3l2.0 -4.0l1.4 -0.9l2.9 4.9zM588.4 842.3l2.2 -1.2l1.6 -0.2l3.2 1.4zM509.5 842.3l1.0 -3.2l0.7 -0.7l1.5 3.9zM520.3 842.3l2.2 -1.3l1.6 -0.2l3.1 1.5zM631.5 841.1h2.6v1.2h-2.6zM263.2 842.3l1.2 -1.8l0.9 -0.3l1.8 2.1zM465.5 841.1h1.9v1.2h-1.9zM359.6 841.1h2.5v1.2h-2.5zM580.9 842.3l1.1 -3.2l0.8 -0.7l1.6 3.9zM133.9 842.3l2.2 -2.0l1.6 -0.4l3.1 2.3zM431.2 841.1h2.1v1.2h-2.1zM592.8 842.3l0.9 -3.5l0.6 -0.7l1.3 4.2zM219.6 842.3l1.2 -1.0l0.9 -0.1l1.7 1.1zM507.0 842.3l1.9 -1.2l1.4 -0.2l2.8 1.4zM201.6 842.3l2.2 -1.2l1.6 -0.2l3.1 1.4zM483.5 841.1h1.8v1.2h-1.8zM451.9 842.3l1.4 -1.4l1.0 -0.2l1.9 1.6zM366.7 842.3l2.2 -2.3l1.6 -0.5l3.1 2.8zM248.1 842.3l1.2 -1.3l0.9 -0.2l1.7 1.5zM402.6 842.3l1.0 -3.2l0.7 -0.7l1.5 3.8zM370.3 842.3l0.9 -3.0l0.6 -0.6l1.2 3.6zM516.3 842.3l1.5 -1.3l1.1 -0.2l2.2 1.5zM435.8 842.3l0.9 -3.5l0.7 -0.8l1.3 4.3zM381.4 841.1h2.5v1.2h-2.5zM302.9 841.1h2.2v1.2h-2.2zM352.7 842.3l2.1 -2.7l1.5 -0.6l3.0 3.3zM312.8 842.3l1.8 -2.1l1.3 -0.4l2.6 2.5zM599.5 842.3l2.2 -3.5l1.6 -0.8l3.2 4.3zM280.6 841.1h3.8v1.2h-3.8zM164.2 842.3l1.9 -1.0l1.3 -0.1l2.7 1.2zM392.6 842.3l2.1 -1.5l1.5 -0.2l3.0 1.7zM276.5 842.3l2.0 -2.2l1.4 -0.4l2.9 2.6zM197.6 841.1h2.7v1.2h-2.7zM414.5 841.1h2.6v1.2h-2.6zM158.0 841.1h2.4v1.2h-2.4zM198.8 842.3l1.2 -2.4l0.9 -0.5l1.7 2.8zM264.8 842.3l1.9 -3.5l1.3 -0.7l2.7 4.2zM258.1 842.3l1.7 -3.8l1.2 -0.8l2.5 4.6zM323.0 842.3l1.2 -2.6l0.8 -0.5l1.7 3.1zM259.1 842.3l1.5 -4.1l1.0 -0.9l2.1 5.0zM582.4 841.1h1.8v1.2h-1.8zM151.7 842.3l1.6 -1.7l1.2 -0.3l2.3 2.0zM132.6 841.1h3.6v1.2h-3.6zM377.0 842.3l0.9 -4.0l0.6 -0.9l1.3 4.9zM426.1 841.1h3.3v1.2h-3.3zM435.9 842.3l1.2 -2.5l0.8 -0.5l1.6 3.0zM608.7 841.1h1.7v1.2h-1.7zM474.4 841.1h1.7v1.2h-1.7zM358.0 842.3l2.1 -2.7l1.5 -0.6l3.0 3.3zM493.0 841.1h3.1v1.2h-3.1zM555.3 841.1h3.4v1.2h-3.4zM257.6 842.3l0.8 -1.1l0.6 -0.2l1.2 1.3zM509.0 842.3l2.1 -1.6l1.5 -0.3l3.0 1.9zM363.6 841.1h2.0v1.2h-2.0zM259.6 842.3l1.1 -4.5l0.8 -1.0l1.6 5.5zM172.4 841.1h1.7v1.2h-1.7zM340.7 842.3l1.8 -2.6l1.3 -0.5l2.5 3.1zM216.3 841.1h2.7v1.2h-2.7zM473.6 842.3l1.6 -1.7l1.2 -0.3l2.3 2.0zM590.0 841.1h2.2v1.2h-2.2zM374.9 842.3l2.1 -2.1l1.5 -0.4l3.0 2.5zM407.1 842.3l1.4 -2.8l1.0 -0.6l2.0 3.3zM523.4 842.3l1.3 -3.0l0.9 -0.6l1.8 3.6zM182.3 841.1h2.4v1.2h-2.4zM578.6 841.1h3.1v1.2h-3.1zM450.9 842.3l1.0 -4.6l0.7 -1.0l1.4 5.6zM516.5 842.3l1.0 -1.1l0.7 -0.1l1.4 1.2zM445.7 842.3l1.7 -3.9l1.2 -0.8l2.4 4.7zM151.0 842.3l1.4 -2.4l1.0 -0.5l2.0 2.9zM448.5 842.3l1.2 -3.1l0.9 -0.7l1.7 3.8zM333.3 842.3l1.0 -1.2l0.7 -0.2l1.4 1.4zM158.3 842.3l1.4 -1.7l1.0 -0.3l2.0 2.0zM568.5 841.1h2.3v1.2h-2.3zM216.2 842.3l1.9 -2.3l1.4 -0.5l2.8 2.8zM580.6 842.3l1.0 -1.6l0.7 -0.3l1.4 1.9zM337.3 842.3l0.9 -0.9l0.6 -0.1l1.3 1.0zM412.6 842.3l1.0 -1.1l0.7 -0.2l1.4 1.3zM383.9 842.3l2.2 -4.4l1.5 -1.0l3.1 5.4zM363.9 841.1h3.4v1.2h-3.4zM184.5 842.3l1.0 -1.2l0.7 -0.2l1.4 1.4zM626.0 842.3l1.5 -1.7l1.0 -0.3l2.1 2.1zM262.5 842.3l2.2 -2.2l1.6 -0.4l3.1 2.6zM344.5 841.1h2.8v1.2h-2.8zM590.6 842.3l1.7 -1.2l1.2 -0.2l2.5 1.4zM590.5 842.3l2.0 -1.0l1.4 -0.1l2.8 1.2zM395.8 841.1h1.6v1.2h-1.6zM601.5 842.3l1.5 -1.5l1.0 -0.2l2.1 1.7zM590.5 842.3l1.5 -1.9l1.1 -0.3l2.2 2.2zM270.0 842.3l1.2 -3.2l0.9 -0.7l1.7 3.9zM363.8 842.3l1.7 -3.3l1.2 -0.7l2.4 4.0zM195.7 841.1h3.2v1.2h-3.2zM497.2 841.1h4.0v1.2h-4.0zM195.3 841.1h1.7v1.2h-1.7zM351.0 842.3l2.0 -2.5l1.5 -0.5l2.9 3.1zM209.0 842.3l1.0 -1.6l0.7 -0.3l1.4 1.9zM419.9 842.3l1.3 -1.0l1.0 -0.1l1.9 1.1zM152.9 842.3l1.0 -1.7l0.7 -0.3l1.4 2.0z" fill="#0b6b3a"/>
<line x1="127.7" y1="897.7" x2="637.5" y2="897.7" stroke="#ebb4b4" stroke-width="1.5"/>
<path d="M134.7 898.2L134.7 897.7L136.2 896.7L137.7 895.9L139.1 894.9L140.6 893.9L142.1 893.1L143.4 894.2L144.8 895.3L146.2 894.4L147.7 893.7L149.1 893.8L150.6 893.2L152.0 891.8L153.5 892.4L154.9 891.2L156.8 894.3L158.6 897.3L160.2 897.0L161.8 896.6L163.4 896.6L165.0 896.2L166.4 896.3L167.8 896.4L169.3 896.5L170.7 896.9L172.1 896.8L173.5 897.1L174.9 897.1L176.3 897.3L177.8 897.4L179.2 897.6L180.6 897.7L180.6 898.2ZM470.2 897.0h3.3v1.2h-3.3zM381.3 898.2l1.7 -1.3l1.2 -0.2l2.4 1.5zM531.1 897.0h2.7v1.2h-2.7zM125.6 898.2l1.9 -1.5l1.4 -0.2l2.7 1.7zM551.9 897.0h2.8v1.2h-2.8zM370.3 897.0h2.0v1.2h-2.0zM619.8 898.2l1.2 -1.6l0.8 -0.3l1.7 1.9zM545.9 898.2l1.4 -1.2l1.0 -0.2l2.0 1.4zM454.5 897.0h2.2v1.2h-2.2zM130.5 898.2l1.7 -1.2l1.2 -0.2l2.4 1.4zM502.4 898.2l1.4 -1.0l1.0 -0.1l2.1 1.1zM281.0 898.2l1.4 -1.4l1.0 -0.2l1.9 1.6zM428.0 898.2l1.5 -1.4l1.0 -0.2l2.1 1.7zM475.4 897.0h2.2v1.2h-2.2zM553.7 897.0h1.6v1.2h-1.6zM133.6 898.2l1.0 -1.4l0.7 -0.2l1.4 1.7zM359.9 897.0h3.5v1.2h-3.5zM368.0 898.2l0.9 -1.0l0.6 -0.1l1.2 1.1zM528.3 898.2l1.7 -1.4l1.2 -0.2l2.4 1.7zM548.2 898.2l1.8 -1.2l1.3 -0.2l2.6 1.3zM557.7 898.2l0.9 -1.2l0.6 -0.2l1.2 1.3zM574.4 898.2l1.1 -1.9l0.8 -0.4l1.6 2.3zM161.2 897.0h1.8v1.2h-1.8zM314.9 897.0h2.1v1.2h-2.1zM129.4 897.0h2.3v1.2h-2.3zM497.0 897.0h1.9v1.2h-1.9zM608.3 898.2l1.8 -1.7l1.3 -0.3l2.6 2.0zM237.7 897.0h2.6v1.2h-2.6zM334.8 897.0h2.6v1.2h-2.6zM513.8 898.2l2.0 -1.3l1.5 -0.2l2.9 1.5zM470.9 898.2l2.1 -1.4l1.5 -0.2l2.9 1.7zM590.5 898.2l1.4 -1.5l1.0 -0.2l2.0 1.7zM459.1 898.2l2.1 -1.2l1.5 -0.2l3.0 1.4zM489.4 897.0h2.0v1.2h-2.0zM293.7 897.0h3.2v1.2h-3.2zM517.6 897.0h2.8v1.2h-2.8zM553.6 897.0h1.7v1.2h-1.7zM434.6 897.0h1.9v1.2h-1.9zM273.7 897.0h1.9v1.2h-1.9zM343.3 897.0h1.5v1.2h-1.5zM403.6 898.2l2.0 -1.8l1.4 -0.3l2.9 2.2zM291.6 898.2l1.0 -1.8l0.7 -0.3l1.4 2.1zM203.9 897.0h1.6v1.2h-1.6zM430.5 898.2l1.5 -1.4l1.1 -0.2l2.2 1.7zM531.8 898.2l2.1 -0.9l1.5 -0.1l3.0 1.0z" fill="#990000"/>
<line x1="127.7" y1="938.5" x2="637.5" y2="938.5" stroke="#b4b4f0" stroke-width="1.1"/>
<path d="M161.3 939.0L161.3 938.5L163.2 936.4L165.0 934.4L166.3 934.2L167.6 934.5L168.9 934.1L170.3 934.0L171.6 933.4L172.9 934.0L174.2 933.5L175.7 934.3L177.3 934.4L178.8 935.3L180.2 935.3L181.6 934.4L182.9 934.3L184.3 933.5L185.7 933.3L187.1 933.4L188.4 934.0L189.8 933.5L192.2 930.4L193.6 932.5L195.0 935.3L196.4 935.8L197.9 936.3L199.3 936.5L200.7 937.1L202.2 937.7L203.6 938.1L203.6 939.0ZM471.2 937.8h2.8v1.2h-2.8zM169.5 937.8h3.8v1.2h-3.8zM450.2 937.8h2.8v1.2h-2.8zM365.6 937.8h1.9v1.2h-1.9zM268.7 937.8h1.7v1.2h-1.7zM469.5 937.8h2.2v1.2h-2.2zM173.7 937.8h3.8v1.2h-3.8zM275.6 937.8h2.4v1.2h-2.4zM606.6 937.8h2.4v1.2h-2.4zM231.5 939.0l1.5 -0.9l1.1 -0.1l2.1 1.0zM175.7 939.0l1.3 -1.1l0.9 -0.2l1.9 1.3zM475.4 937.8h3.7v1.2h-3.7zM157.2 937.8h2.2v1.2h-2.2zM259.5 939.0l1.5 -1.1l1.1 -0.1l2.2 1.2zM303.4 937.8h3.6v1.2h-3.6zM416.4 937.8h3.1v1.2h-3.1zM439.4 937.8h2.6v1.2h-2.6zM194.4 937.8h3.7v1.2h-3.7zM282.8 937.8h3.0v1.2h-3.0zM426.9 937.8h2.6v1.2h-2.6z" fill="#0000b4"/>
<line x1="127.7" y1="979.4" x2="637.5" y2="979.4" stroke="#b4dcc6" stroke-width="1.5"/>
<path d="M147.6 979.9L147.6 979.4L149.1 976.5L150.7 974.6L152.2 971.2L153.8 973.0L155.4 973.1L157.0 974.1L158.6 975.7L160.4 976.5L162.3 976.6L163.8 976.3L165.2 975.0L166.7 974.7L168.1 973.5L169.6 973.0L171.4 972.5L173.3 970.2L175.1 959.2L177.3 970.2L179.7 962.9L182.1 960.1L184.3 968.4L186.5 955.5L188.9 951.5L190.3 955.6L191.7 959.2L193.1 965.2L194.4 968.4L195.9 970.6L197.5 971.7L199.0 973.9L200.5 974.2L202.1 974.0L203.6 974.8L205.4 978.5L207.6 974.8L210.0 979.4L210.0 979.9ZM326.0 979.9L326.0 979.4L328.5 973.4L329.9 969.6L331.3 967.4L332.6 970.1L334.0 973.4L335.5 975.3L337.0 977.9L338.5 978.7L340.0 979.4L340.0 979.9ZM216.0 979.9L216.0 979.4L217.4 977.7L218.7 976.2L220.1 974.4L221.4 976.0L222.7 977.9L224.0 979.4L224.0 979.9ZM259.0 979.9L259.0 979.4L260.4 978.0L261.9 977.0L263.3 975.7L265.1 977.4L267.0 979.4L267.0 979.9ZM283.0 979.9L283.0 979.4L284.6 977.4L286.3 975.9L287.6 977.4L289.0 979.4L289.0 979.9ZM292.0 979.9L292.0 979.4L293.5 977.6L295.0 975.7L296.5 977.4L298.0 979.4L298.0 979.9ZM408.0 979.9L408.0 979.4L409.5 976.6L411.0 974.4L412.5 977.1L414.0 979.4L414.0 979.9ZM480.0 979.9L480.0 979.4L481.7 977.6L483.3 975.9L485.0 974.4L486.7 975.4L488.3 976.6L490.0 977.4L491.3 978.2L492.7 978.7L494.0 979.4L494.0 979.9ZM598.3 979.9l1.2 -1.2l0.9 -0.2l1.7 1.3zM439.2 979.9l1.7 -1.3l1.2 -0.2l2.4 1.5zM358.0 978.7h1.6v1.2h-1.6zM540.8 979.9l1.2 -2.0l0.8 -0.4l1.7 2.3zM378.6 979.9l1.5 -1.7l1.1 -0.3l2.2 2.0zM582.5 979.9l1.3 -2.4l0.9 -0.5l1.8 2.9zM297.8 979.9l1.1 -1.8l0.8 -0.3l1.5 2.1zM601.1 978.7h2.7v1.2h-2.7zM264.9 979.9l0.9 -1.5l0.6 -0.3l1.3 1.8zM238.6 979.9l1.9 -3.3l1.4 -0.7l2.8 4.0zM238.5 979.9l0.9 -1.3l0.6 -0.2l1.3 1.5zM189.5 978.7h4.0v1.2h-4.0zM285.7 978.7h1.7v1.2h-1.7zM180.7 979.9l1.9 -3.4l1.3 -0.7l2.7 4.1zM591.4 979.9l1.9 -2.7l1.4 -0.5l2.8 3.2zM256.9 978.7h2.2v1.2h-2.2zM160.9 978.7h3.3v1.2h-3.3zM376.6 978.7h2.3v1.2h-2.3zM555.6 979.9l1.9 -2.7l1.3 -0.6l2.7 3.3zM496.1 979.9l1.6 -3.0l1.2 -0.6l2.3 3.6zM320.2 979.9l1.2 -1.7l0.9 -0.3l1.8 2.0zM146.2 978.7h2.6v1.2h-2.6zM188.6 978.7h2.1v1.2h-2.1zM312.1 979.9l1.5 -3.2l1.1 -0.7l2.2 3.9zM549.5 979.9l1.7 -2.3l1.2 -0.4l2.4 2.7zM289.2 979.9l1.3 -1.1l0.9 -0.2l1.8 1.3zM446.4 979.9l1.9 -2.7l1.4 -0.6l2.8 3.3zM277.3 978.7h1.5v1.2h-1.5zM423.9 978.7h1.5v1.2h-1.5zM280.8 978.7h2.0v1.2h-2.0zM462.6 979.9l1.2 -1.7l0.9 -0.3l1.8 2.0zM498.0 978.7h3.8v1.2h-3.8zM185.3 979.9l1.8 -1.7l1.3 -0.3l2.6 2.1zM496.0 979.9l2.1 -1.4l1.5 -0.2l2.9 1.6zM445.2 979.9l1.0 -2.1l0.7 -0.4l1.4 2.5zM220.0 979.9l1.6 -1.3l1.1 -0.2l2.3 1.6zM174.0 979.9l1.3 -2.3l0.9 -0.4l1.9 2.7zM365.6 979.9l2.0 -1.5l1.4 -0.3l2.9 1.8zM278.4 979.9l1.7 -1.6l1.2 -0.3l2.4 1.9zM458.1 979.9l1.2 -0.9l0.9 -0.1l1.8 1.1zM363.6 979.9l1.7 -1.8l1.2 -0.3l2.5 2.1zM193.2 979.9l1.6 -1.3l1.2 -0.2l2.3 1.5zM226.4 978.7h3.8v1.2h-3.8zM136.5 979.9l1.3 -1.4l0.9 -0.2l1.8 1.7zM143.5 978.7h1.9v1.2h-1.9zM329.2 979.9l1.0 -3.0l0.7 -0.6l1.4 3.6zM303.5 979.9l1.7 -2.1l1.2 -0.4l2.4 2.5zM138.3 978.7h2.2v1.2h-2.2zM579.6 979.9l1.2 -1.3l0.9 -0.2l1.7 1.5zM369.6 979.9l1.0 -1.4l0.7 -0.2l1.5 1.6zM463.6 979.9l1.5 -2.2l1.1 -0.4l2.2 2.6zM396.9 979.9l2.2 -2.4l1.6 -0.5l3.1 2.9zM438.3 978.7h2.8v1.2h-2.8zM460.8 979.9l1.8 -1.0l1.3 -0.1l2.6 1.1zM311.7 979.9l1.7 -1.8l1.2 -0.3l2.4 2.2zM464.6 979.9l1.8 -3.0l1.3 -0.6l2.6 3.7zM485.6 979.9l1.2 -2.1l0.8 -0.4l1.7 2.6zM437.6 979.9l0.9 -1.8l0.7 -0.3l1.3 2.2zM510.0 978.7h2.7v1.2h-2.7zM390.4 979.9l1.9 -2.2l1.4 -0.4l2.7 2.6zM362.9 979.9l1.5 -3.1l1.0 -0.7l2.1 3.8zM412.9 979.9l1.3 -3.3l0.9 -0.7l1.8 4.1zM488.2 979.9l1.0 -3.2l0.7 -0.7l1.4 3.9zM519.3 979.9l1.6 -2.0l1.1 -0.4l2.3 2.3zM526.4 979.9l1.0 -2.8l0.7 -0.6l1.5 3.3zM371.7 979.9l1.8 -1.8l1.3 -0.3l2.6 2.2zM610.6 979.9l2.0 -2.5l1.4 -0.5l2.9 3.0zM157.4 979.9l2.1 -1.2l1.5 -0.2l3.0 1.4zM605.3 979.9l1.3 -2.3l0.9 -0.5l1.9 2.8zM515.3 979.9l1.8 -1.5l1.3 -0.3l2.5 1.8zM448.1 979.9l1.8 -2.8l1.3 -0.6l2.6 3.4zM617.3 979.9l1.5 -1.4l1.1 -0.2l2.2 1.7zM459.6 979.9l0.9 -1.6l0.6 -0.3l1.3 1.9zM611.7 979.9l1.5 -1.0l1.1 -0.1l2.2 1.1zM149.2 978.7h3.8v1.2h-3.8zM265.4 979.9l2.0 -0.9l1.4 -0.1l2.8 1.0zM247.7 979.9l1.6 -2.0l1.2 -0.4l2.3 2.4zM580.1 979.9l1.3 -1.4l0.9 -0.2l1.9 1.6zM257.8 979.9l0.8 -1.1l0.6 -0.1l1.2 1.2zM188.3 978.7h2.3v1.2h-2.3zM515.2 979.9l1.3 -3.1l1.0 -0.7l1.9 3.8zM251.8 979.9l1.7 -0.9l1.2 -0.1l2.5 1.0zM370.3 978.7h2.8v1.2h-2.8zM264.0 978.7h3.5v1.2h-3.5zM178.3 979.9l1.9 -1.3l1.4 -0.2l2.7 1.5zM401.0 979.9l1.3 -2.8l0.9 -0.6l1.8 3.4zM607.3 978.7h3.7v1.2h-3.7zM342.7 978.7h2.1v1.2h-2.1zM626.1 979.9l1.9 -2.2l1.3 -0.4l2.7 2.6zM538.7 978.7h2.3v1.2h-2.3zM360.7 979.9l2.1 -3.0l1.5 -0.6l3.0 3.6zM201.1 979.9l1.6 -3.3l1.2 -0.7l2.3 4.0zM282.1 978.7h2.6v1.2h-2.6zM389.7 979.9l1.3 -1.3l0.9 -0.2l1.8 1.5zM606.2 979.9l1.3 -1.4l0.9 -0.2l1.8 1.6zM521.8 978.7h2.6v1.2h-2.6zM180.5 978.7h4.0v1.2h-4.0zM440.0 979.9l1.8 -1.5l1.3 -0.3l2.5 1.8zM466.4 979.9l1.4 -1.5l1.0 -0.3l1.9 1.8zM202.4 978.7h1.8v1.2h-1.8zM333.1 978.7h3.2v1.2h-3.2zM298.6 978.7h2.3v1.2h-2.3zM377.5 978.7h3.6v1.2h-3.6zM372.5 978.7h1.7v1.2h-1.7zM577.1 979.9l1.2 -1.7l0.9 -0.3l1.8 2.0zM489.1 978.7h3.7v1.2h-3.7zM601.0 979.9l0.9 -2.0l0.7 -0.4l1.3 2.4zM341.1 979.9l1.7 -2.7l1.2 -0.5l2.4 3.2zM233.6 978.7h1.7v1.2h-1.7zM392.2 978.7h2.6v1.2h-2.6zM579.4 979.9l1.5 -2.9l1.1 -0.6l2.2 3.5zM525.0 978.7h3.9v1.2h-3.9zM563.4 979.9l2.1 -1.4l1.5 -0.2l3.0 1.6zM276.5 979.9l1.3 -3.3l0.9 -0.7l1.8 4.0zM593.1 979.9l2.1 -2.7l1.5 -0.5l3.1 3.2zM496.1 978.7h2.2v1.2h-2.2zM457.4 979.9l1.8 -3.0l1.3 -0.6l2.6 3.6zM145.6 979.9l1.3 -1.0l0.9 -0.1l1.9 1.2zM214.5 978.7h2.8v1.2h-2.8zM316.6 978.7h2.5v1.2h-2.5zM605.1 979.9l1.9 -1.8l1.4 -0.3l2.7 2.1zM600.4 978.7h3.7v1.2h-3.7zM175.9 978.7h3.3v1.2h-3.3zM507.1 979.9l1.5 -1.8l1.1 -0.3l2.2 2.2zM492.1 979.9l1.1 -1.2l0.8 -0.2l1.6 1.4zM238.9 978.7h1.6v1.2h-1.6zM608.3 979.9l1.3 -3.2l0.9 -0.7l1.9 3.8zM336.8 978.7h3.5v1.2h-3.5zM377.2 978.7h3.7v1.2h-3.7zM598.4 978.7h2.6v1.2h-2.6zM237.8 979.9l1.3 -1.9l1.0 -0.4l1.9 2.3zM276.2 979.9l1.7 -0.9l1.2 -0.1l2.4 1.0zM380.1 979.9l1.8 -1.4l1.3 -0.2l2.6 1.6zM365.5 979.9l1.5 -3.1l1.0 -0.7l2.1 3.8zM526.5 979.9l1.7 -3.1l1.2 -0.6l2.4 3.7zM423.8 979.9l1.8 -2.5l1.3 -0.5l2.6 3.0zM224.2 979.9l1.1 -1.2l0.8 -0.2l1.5 1.4zM136.5 979.9l1.3 -2.1l0.9 -0.4l1.9 2.5zM256.8 978.7h1.6v1.2h-1.6zM466.0 979.9l1.5 -1.1l1.0 -0.1l2.1 1.2zM467.6 979.9l1.8 -3.0l1.3 -0.6l2.6 3.6zM237.3 979.9l1.1 -3.3l0.8 -0.7l1.6 4.0zM420.3 979.9l1.2 -1.9l0.9 -0.4l1.8 2.3zM575.6 979.9l1.8 -1.8l1.3 -0.3l2.6 2.1zM196.1 979.9l1.2 -2.6l0.9 -0.5l1.8 3.2zM439.1 979.9l1.3 -2.3l0.9 -0.4l1.8 2.7zM259.0 979.9l2.2 -1.0l1.6 -0.1l3.2 1.1zM458.6 979.9l1.6 -1.4l1.2 -0.2l2.3 1.6zM460.0 978.7h1.7v1.2h-1.7zM180.6 979.9l1.7 -1.7l1.2 -0.3l2.4 2.0zM620.4 979.9l2.0 -1.8l1.5 -0.3l2.9 2.2zM625.8 979.9l1.4 -1.4l1.0 -0.2l2.0 1.7zM363.8 979.9l1.9 -1.1l1.4 -0.1l2.7 1.2zM419.2 978.7h3.9v1.2h-3.9zM392.2 979.9l1.6 -2.3l1.1 -0.5l2.3 2.8zM424.5 979.9l1.0 -1.7l0.7 -0.3l1.4 2.0zM192.1 979.9l1.3 -2.2l0.9 -0.4l1.9 2.7zM190.3 979.9l1.9 -2.6l1.3 -0.5l2.7 3.1zM513.4 979.9l1.0 -1.1l0.7 -0.2l1.5 1.3zM512.6 978.7h3.2v1.2h-3.2zM480.7 978.7h1.5v1.2h-1.5zM424.5 979.9l1.7 -2.5l1.2 -0.5l2.4 3.0zM626.6 978.7h3.3v1.2h-3.3zM346.5 979.9l1.3 -1.7l0.9 -0.3l1.8 2.0zM242.1 979.9l1.7 -1.6l1.2 -0.3l2.4 1.9zM586.5 979.9l1.5 -1.8l1.1 -0.3l2.2 2.1zM455.6 979.9l1.4 -1.9l1.0 -0.3l2.0 2.2zM260.8 979.9l1.4 -2.1l1.0 -0.4l2.0 2.5zM146.6 978.7h2.4v1.2h-2.4zM473.5 979.9l1.5 -2.0l1.1 -0.4l2.2 2.3zM539.5 979.9l1.3 -1.0l1.0 -0.1l1.9 1.1zM506.3 979.9l1.4 -2.1l1.0 -0.4l2.1 2.4zM578.5 978.7h2.8v1.2h-2.8zM561.1 979.9l1.1 -2.8l0.8 -0.6l1.6 3.4zM533.8 979.9l2.1 -1.6l1.5 -0.3l3.1 1.8zM291.6 979.9l1.7 -2.0l1.2 -0.4l2.5 2.4zM627.7 979.9l1.4 -1.0l1.0 -0.1l2.0 1.1zM189.6 979.9l0.9 -2.1l0.7 -0.4l1.3 2.5zM558.1 978.7h2.0v1.2h-2.0zM606.4 979.9l1.9 -1.4l1.4 -0.2l2.7 1.7zM302.9 978.7h2.4v1.2h-2.4zM625.8 978.7h3.8v1.2h-3.8zM573.4 979.9l1.2 -2.1l0.9 -0.4l1.7 2.4zM495.5 979.9l1.7 -3.0l1.2 -0.6l2.4 3.6zM236.1 979.9l2.2 -1.8l1.6 -0.3l3.1 2.1zM427.1 978.7h2.0v1.2h-2.0zM447.1 978.7h1.5v1.2h-1.5zM317.3 978.7h2.7v1.2h-2.7zM162.4 979.9l1.8 -1.6l1.3 -0.3l2.6 1.9zM286.1 979.9l1.6 -1.7l1.1 -0.3l2.3 2.0zM525.2 979.9l1.7 -1.7l1.2 -0.3l2.5 2.0zM412.0 979.9l1.0 -2.6l0.7 -0.5l1.4 3.1zM182.6 979.9l2.0 -2.8l1.4 -0.6l2.9 3.4zM129.3 979.9l1.7 -2.9l1.2 -0.6l2.4 3.5zM559.6 979.9l1.4 -2.1l1.0 -0.4l2.0 2.5zM182.8 979.9l1.8 -2.4l1.3 -0.5l2.6 2.8zM366.0 978.7h2.4v1.2h-2.4zM600.4 979.9l1.1 -1.3l0.8 -0.2l1.6 1.6zM626.0 979.9l1.1 -3.3l0.8 -0.7l1.6 4.0zM225.5 979.9l1.4 -2.2l1.0 -0.4l2.0 2.7zM366.2 979.9l1.2 -2.1l0.9 -0.4l1.7 2.5zM428.9 978.7h2.1v1.2h-2.1zM401.2 979.9l2.1 -1.2l1.5 -0.2l3.0 1.4zM198.5 979.9l1.2 -3.0l0.9 -0.6l1.7 3.6zM301.5 978.7h2.3v1.2h-2.3zM621.9 979.9l2.0 -1.1l1.4 -0.1l2.9 1.2zM621.0 979.9l1.1 -2.1l0.8 -0.4l1.6 2.5zM346.4 978.7h2.1v1.2h-2.1zM297.5 978.7h3.2v1.2h-3.2zM392.6 978.7h2.1v1.2h-2.1zM199.8 978.7h2.6v1.2h-2.6zM164.0 979.9l1.2 -1.5l0.9 -0.3l1.7 1.8zM519.0 978.7h3.6v1.2h-3.6zM605.1 979.9l1.2 -3.1l0.8 -0.6l1.7 3.7zM595.6 979.9l2.1 -1.4l1.5 -0.2l3.0 1.6zM361.2 979.9l1.2 -1.6l0.9 -0.3l1.7 1.8zM508.6 979.9l2.1 -1.1l1.5 -0.1l3.0 1.2zM485.0 979.9l0.9 -1.2l0.6 -0.2l1.3 1.4zM261.9 979.9l1.4 -1.2l1.0 -0.2l1.9 1.4zM423.0 978.7h2.7v1.2h-2.7zM577.5 979.9l1.8 -3.2l1.3 -0.7l2.6 3.8zM472.4 979.9l2.2 -1.8l1.6 -0.3l3.2 2.1zM525.9 979.9l1.5 -1.3l1.1 -0.2l2.2 1.5zM601.4 979.9l1.7 -1.6l1.2 -0.3l2.4 1.9zM281.4 979.9l1.5 -2.0l1.1 -0.4l2.2 2.4zM602.7 979.9l2.2 -3.4l1.6 -0.7l3.2 4.1zM609.5 978.7h1.7v1.2h-1.7zM297.3 979.9l1.6 -2.6l1.2 -0.5l2.3 3.2zM257.8 978.7h2.1v1.2h-2.1z" fill="#0b6b3a"/>
<line x1="127.7" y1="1037.6" x2="637.5" y2="1037.6" stroke="#ebb4b4" stroke-width="1.1"/>
<path d="M134.7 1038.1L134.7 1037.3L136.6 1035.7L138.4 1033.6L139.8 1031.7L141.2 1028.0L142.5 1026.9L143.9 1023.5L145.8 1023.0L147.6 1019.8L149.4 1018.8L151.2 1018.9L153.1 1018.2L154.9 1013.4L156.3 1009.5L157.7 1010.1L159.1 1011.7L160.4 1015.2L161.8 1014.8L163.2 1018.5L164.6 1019.5L165.9 1022.6L167.3 1020.2L168.7 1019.8L170.1 1023.5L171.5 1025.3L173.3 1027.8L175.1 1029.9L176.9 1031.9L178.8 1033.6L180.2 1032.6L181.6 1031.4L183.4 1033.4L185.2 1036.3L186.7 1036.2L188.3 1035.8L189.8 1035.8L191.2 1035.9L192.7 1036.2L194.1 1036.3L195.5 1036.3L197.0 1036.3L198.4 1036.6L199.8 1036.7L201.3 1036.8L202.7 1036.9L204.1 1037.0L205.5 1037.0L207.0 1037.0L208.4 1037.1L209.8 1037.2L211.2 1037.2L212.7 1037.3L214.1 1037.4L215.5 1037.4L215.5 1038.1ZM326.4 1036.9h3.1v1.2h-3.1zM564.8 1038.1l1.7 -1.4l1.2 -0.2l2.4 1.6zM320.3 1038.1l1.6 -0.9l1.2 -0.1l2.3 1.0zM217.2 1036.9h2.7v1.2h-2.7zM227.7 1036.9h3.6v1.2h-3.6zM452.8 1036.9h2.1v1.2h-2.1zM445.3 1038.1l1.3 -0.9l0.9 -0.1l1.8 1.0zM366.5 1036.9h3.1v1.2h-3.1zM572.8 1036.9h2.8v1.2h-2.8zM410.8 1038.1l1.2 -1.0l0.8 -0.1l1.7 1.2zM251.3 1038.1l1.0 -1.4l0.7 -0.2l1.5 1.6zM472.8 1036.9h2.7v1.2h-2.7zM356.5 1036.9h1.9v1.2h-1.9zM612.9 1036.9h1.9v1.2h-1.9zM502.2 1036.9h2.0v1.2h-2.0zM519.5 1038.1l1.1 -1.5l0.8 -0.3l1.6 1.8zM486.0 1036.9h4.0v1.2h-4.0zM427.6 1038.1l1.8 -1.4l1.3 -0.2l2.5 1.6zM194.4 1036.9h3.3v1.2h-3.3zM205.2 1036.9h4.0v1.2h-4.0zM594.5 1038.1l0.9 -1.0l0.7 -0.1l1.3 1.2zM480.2 1038.1l1.9 -1.5l1.4 -0.3l2.8 1.8zM490.2 1036.9h3.1v1.2h-3.1zM597.2 1036.9h1.7v1.2h-1.7zM198.7 1038.1l1.8 -1.5l1.3 -0.2l2.6 1.7zM601.7 1036.9h1.8v1.2h-1.8zM473.9 1036.9h2.7v1.2h-2.7zM242.9 1038.1l1.9 -1.2l1.4 -0.2l2.8 1.3zM495.6 1036.9h2.7v1.2h-2.7zM328.2 1036.9h2.3v1.2h-2.3zM362.6 1038.1l2.0 -1.5l1.4 -0.2l2.8 1.7zM193.4 1038.1l2.0 -1.0l1.4 -0.1l2.8 1.2zM299.4 1038.1l2.2 -1.4l1.5 -0.2l3.1 1.6zM161.5 1038.1l1.4 -1.0l1.0 -0.1l2.0 1.1zM364.1 1036.9h3.6v1.2h-3.6zM445.7 1038.1l1.2 -1.4l0.8 -0.2l1.7 1.6zM531.6 1036.9h2.0v1.2h-2.0zM533.1 1038.1l1.2 -0.9l0.8 -0.1l1.7 1.0zM580.5 1036.9h3.2v1.2h-3.2zM627.1 1036.9h2.9v1.2h-2.9zM404.6 1036.9h2.8v1.2h-2.8zM615.6 1038.1l1.2 -1.1l0.9 -0.1l1.7 1.2zM472.1 1038.1l1.4 -1.0l1.0 -0.1l1.9 1.1zM467.9 1036.9h3.5v1.2h-3.5zM322.5 1038.1l1.3 -1.3l0.9 -0.2l1.8 1.5zM214.7 1036.9h1.8v1.2h-1.8zM569.1 1038.1l1.4 -1.5l1.0 -0.3l2.0 1.8zM246.5 1038.1l2.0 -1.4l1.5 -0.2l2.9 1.6zM251.5 1036.9h2.7v1.2h-2.7zM194.7 1036.9h2.5v1.2h-2.5z" fill="#990000"/>
<line x1="127.7" y1="1079.0" x2="637.5" y2="1079.0" stroke="#ebb4b4" stroke-width="1.5"/>
<path d="M135.6 1079.5L135.6 1079.0L136.9 1078.3L138.2 1077.5L139.5 1076.5L140.8 1075.9L142.1 1074.9L143.5 1074.2L144.8 1073.9L146.2 1074.0L147.6 1074.0L149.0 1073.8L150.3 1072.5L151.7 1072.6L153.1 1071.8L154.9 1072.1L156.8 1073.6L158.3 1073.2L159.8 1072.4L161.3 1072.2L162.8 1072.3L164.4 1072.8L165.9 1073.6L167.8 1072.5L169.6 1072.2L171.0 1073.1L172.3 1074.0L173.7 1074.4L175.1 1074.9L176.5 1075.2L177.8 1076.6L179.2 1077.1L180.6 1077.7L182.0 1077.8L183.5 1077.8L184.9 1077.7L186.3 1077.9L187.8 1078.0L189.2 1078.0L190.6 1078.0L192.1 1077.9L193.5 1078.0L194.8 1078.2L196.1 1078.4L197.4 1078.6L198.7 1078.8L200.0 1079.0L200.0 1079.5ZM334.2 1078.3h3.9v1.2h-3.9zM499.0 1078.3h2.0v1.2h-2.0zM524.6 1078.3h3.4v1.2h-3.4zM508.7 1078.3h3.6v1.2h-3.6zM229.7 1078.3h3.4v1.2h-3.4zM540.8 1078.3h2.5v1.2h-2.5zM499.8 1078.3h2.6v1.2h-2.6zM630.6 1078.3h3.9v1.2h-3.9zM575.7 1079.5l1.2 -1.5l0.8 -0.3l1.7 1.8zM228.2 1078.3h1.9v1.2h-1.9zM593.4 1079.5l2.0 -0.9l1.4 -0.1l2.9 1.0zM376.7 1078.3h3.9v1.2h-3.9zM191.1 1078.3h3.6v1.2h-3.6zM423.1 1079.5l2.2 -1.2l1.6 -0.2l3.2 1.4zM516.2 1079.5l1.9 -1.0l1.4 -0.1l2.7 1.1zM397.4 1078.3h2.3v1.2h-2.3zM596.4 1078.3h1.6v1.2h-1.6zM450.4 1079.5l1.7 -1.5l1.2 -0.3l2.5 1.8zM377.1 1078.3h3.1v1.2h-3.1zM439.3 1078.3h3.8v1.2h-3.8zM574.5 1079.5l1.9 -1.2l1.3 -0.2l2.7 1.4zM492.0 1078.3h2.7v1.2h-2.7zM262.8 1078.3h3.9v1.2h-3.9zM241.9 1079.5l2.0 -1.2l1.4 -0.2l2.9 1.4zM332.8 1078.3h1.9v1.2h-1.9zM452.9 1079.5l1.3 -1.1l1.0 -0.2l1.9 1.3zM431.5 1078.3h3.1v1.2h-3.1zM521.6 1079.5l1.6 -1.2l1.2 -0.2l2.3 1.4zM418.3 1078.3h2.2v1.2h-2.2zM333.7 1078.3h1.7v1.2h-1.7zM610.6 1079.5l1.6 -1.1l1.2 -0.1l2.3 1.2zM474.6 1079.5l1.7 -1.3l1.2 -0.2l2.5 1.5zM344.1 1078.3h3.9v1.2h-3.9zM611.2 1078.3h3.5v1.2h-3.5zM453.4 1078.3h3.2v1.2h-3.2zM264.6 1079.5l1.6 -1.2l1.2 -0.2l2.3 1.3zM424.2 1078.3h3.8v1.2h-3.8zM610.4 1079.5l1.3 -1.2l0.9 -0.2l1.8 1.3zM493.9 1078.3h2.9v1.2h-2.9zM302.7 1078.3h2.2v1.2h-2.2zM163.6 1078.3h2.1v1.2h-2.1zM216.5 1078.3h1.8v1.2h-1.8zM137.6 1079.5l0.9 -1.5l0.7 -0.2l1.3 1.7zM580.3 1078.3h1.8v1.2h-1.8zM345.1 1078.3h1.6v1.2h-1.6zM402.8 1078.3h2.2v1.2h-2.2zM486.5 1079.5l1.1 -1.3l0.8 -0.2l1.6 1.5zM332.0 1079.5l1.3 -1.5l0.9 -0.2l1.8 1.7zM187.5 1078.3h3.7v1.2h-3.7zM299.3 1079.5l2.2 -1.0l1.5 -0.1l3.1 1.2zM442.7 1078.3h2.7v1.2h-2.7zM292.7 1078.3h3.0v1.2h-3.0zM620.1 1079.5l1.6 -1.1l1.1 -0.1l2.2 1.2zM538.7 1078.3h2.0v1.2h-2.0zM467.4 1078.3h2.0v1.2h-2.0zM324.8 1078.3h1.6v1.2h-1.6zM308.3 1079.5l1.6 -1.5l1.1 -0.2l2.2 1.7zM314.2 1078.3h3.2v1.2h-3.2zM382.5 1078.3h3.0v1.2h-3.0zM265.3 1079.5l1.4 -1.1l1.0 -0.1l2.0 1.2zM485.2 1078.3h3.1v1.2h-3.1z" fill="#990000"/>
<text x="425.6" y="746.8" textLength="103.1" lengthAdjust="spacingAndGlyphs">H3K27me3</text>
<text x="425.6" y="788.3" textLength="91.6" lengthAdjust="spacingAndGlyphs">H3K4me3</text>
<text x="425.6" y="824.7" textLength="85.3" lengthAdjust="spacingAndGlyphs">H3K27ac</text>
<text x="636.3" y="741.8" text-anchor="end" textLength="65.7" lengthAdjust="spacingAndGlyphs">[0–150]</text>
<text x="636.3" y="783.7" text-anchor="end" textLength="65.7" lengthAdjust="spacingAndGlyphs">[0–180]</text>
<text x="636.3" y="824.4" text-anchor="end" textLength="53.7" lengthAdjust="spacingAndGlyphs">[0–40]</text>
<text x="636.3" y="879.5" text-anchor="end" textLength="65.7" lengthAdjust="spacingAndGlyphs">[0–150]</text>
<text x="636.3" y="924.5" text-anchor="end" textLength="65.7" lengthAdjust="spacingAndGlyphs">[0–180]</text>
<text x="636.3" y="960.5" text-anchor="end" textLength="53.7" lengthAdjust="spacingAndGlyphs">[0–40]</text>
<text x="636.3" y="1019.3" text-anchor="end" textLength="65.7" lengthAdjust="spacingAndGlyphs">[0–150]</text>
<text x="636.3" y="1066.8" text-anchor="end" textLength="65.7" lengthAdjust="spacingAndGlyphs">[0–150]</text>
<text x="204.5" y="1025.3" textLength="60.7" lengthAdjust="spacingAndGlyphs">DMSO</text>
<text x="206.4" y="1068.9" textLength="55.5" lengthAdjust="spacingAndGlyphs">EZH2i</text>
<line x1="168.0" y1="1095.3" x2="584.9" y2="1095.3" stroke="#1414c8" stroke-width="0.8"/>
<path d="M250.5 1091.8v7M265.2 1091.8v7M364.4 1091.8v7M419.5 1091.8v7M426.0 1091.8v7M436.5 1091.8v7M451.7 1091.8v7M516.9 1091.8v7M539.9 1091.8v7M177.0 1091.8v7M179.5 1091.8v7M181.5 1091.8v7" stroke="#1414c8" stroke-width="1.2" fill="none"/>
<rect x="176.0" y="1091.8" width="2.5" height="7.0" fill="#1414c8"/>
<rect x="463.0" y="1091.8" width="3.2" height="7.0" fill="#1414c8"/>
<rect x="553.7" y="1091.3" width="4.8" height="8.0" fill="#1414c8"/>
<rect x="558.5" y="1093.2" width="26.4" height="4.2" fill="#1414c8"/>
<path d="M174.5 1093.9l1.8 1.4l-1.8 1.4M188.5 1093.9l1.8 1.4l-1.8 1.4M202.5 1093.9l1.8 1.4l-1.8 1.4M216.5 1093.9l1.8 1.4l-1.8 1.4M230.5 1093.9l1.8 1.4l-1.8 1.4M244.5 1093.9l1.8 1.4l-1.8 1.4M258.5 1093.9l1.8 1.4l-1.8 1.4M272.5 1093.9l1.8 1.4l-1.8 1.4M286.5 1093.9l1.8 1.4l-1.8 1.4M300.5 1093.9l1.8 1.4l-1.8 1.4M314.5 1093.9l1.8 1.4l-1.8 1.4M328.5 1093.9l1.8 1.4l-1.8 1.4M342.5 1093.9l1.8 1.4l-1.8 1.4M356.5 1093.9l1.8 1.4l-1.8 1.4M370.5 1093.9l1.8 1.4l-1.8 1.4M384.5 1093.9l1.8 1.4l-1.8 1.4M398.5 1093.9l1.8 1.4l-1.8 1.4M412.5 1093.9l1.8 1.4l-1.8 1.4M426.5 1093.9l1.8 1.4l-1.8 1.4M440.5 1093.9l1.8 1.4l-1.8 1.4M454.5 1093.9l1.8 1.4l-1.8 1.4M468.5 1093.9l1.8 1.4l-1.8 1.4M482.5 1093.9l1.8 1.4l-1.8 1.4M496.5 1093.9l1.8 1.4l-1.8 1.4M510.5 1093.9l1.8 1.4l-1.8 1.4M524.5 1093.9l1.8 1.4l-1.8 1.4M538.5 1093.9l1.8 1.4l-1.8 1.4M552.5 1093.9l1.8 1.4l-1.8 1.4M566.5 1093.9l1.8 1.4l-1.8 1.4" stroke="#1414c8" stroke-width="0.7" fill="none"/>
<text x="201.8" y="1125.5" font-style="italic" textLength="63.0" lengthAdjust="spacingAndGlyphs">JADE2</text>
<text x="778.5" y="703.8" textLength="54.6" lengthAdjust="spacingAndGlyphs">Chr. 1</text>
<path d="M858.1 709.4H1360.9M891.9 709.4v-5M1025.3 709.4v-5M1158.1 709.4v-5M1292.4 709.4v-5" stroke="#333" stroke-width="1" fill="none"/>
<text x="855.8" y="703.8" textLength="80.0" lengthAdjust="spacingAndGlyphs">6,170 kb</text>
<text x="990.0" y="703.8" textLength="80.0" lengthAdjust="spacingAndGlyphs">6,190 kb</text>
<text x="1123.9" y="703.8" textLength="80.0" lengthAdjust="spacingAndGlyphs">6,210 kb</text>
<text x="1257.7" y="703.8" textLength="80.0" lengthAdjust="spacingAndGlyphs">6,230 kb</text>
<line x1="826.2" y1="716.3" x2="826.2" y2="845.9" stroke="#111" stroke-width="2"/>
<line x1="826.2" y1="854.3" x2="826.2" y2="983.9" stroke="#111" stroke-width="2"/>
<line x1="826.2" y1="992.7" x2="826.2" y2="1083.4" stroke="#111" stroke-width="2"/>
<text transform="translate(810.0 776.6) rotate(-90)" text-anchor="middle" textLength="40.0" lengthAdjust="spacingAndGlyphs">NPC</text>
<text transform="translate(810.0 915.3) rotate(-90)" text-anchor="middle" textLength="80.0" lengthAdjust="spacingAndGlyphs">Neurons</text>
<text transform="translate(810.0 1035.7) rotate(-90)" text-anchor="middle" textLength="40.0" lengthAdjust="spacingAndGlyphs">NPC</text>
<line x1="844.4" y1="760.1" x2="1395.0" y2="760.1" stroke="#ebb4b4" stroke-width="1.5"/>
<path d="M1329.7 760.6L1329.7 760.1L1331.4 757.5L1333.0 754.5L1334.7 751.6L1336.7 748.7L1338.6 745.7L1339.9 747.1L1341.3 746.3L1342.6 744.3L1343.9 742.3L1345.3 738.6L1346.6 737.8L1348.0 737.6L1349.5 740.7L1351.0 736.8L1352.5 736.8L1354.2 728.5L1355.9 724.9L1357.4 738.7L1359.4 754.6L1360.9 751.7L1362.4 750.6L1363.8 746.8L1365.3 740.7L1367.7 730.8L1369.7 727.9L1372.3 734.8L1373.8 743.4L1375.2 748.6L1376.5 751.5L1377.9 752.0L1379.2 754.6L1380.8 756.2L1382.5 757.3L1384.1 758.5L1385.4 759.1L1386.8 759.4L1388.1 759.9L1388.1 760.6ZM884.0 760.6L884.0 760.1L885.5 759.2L887.0 758.1L888.4 758.3L889.8 758.1L891.1 758.1L892.5 758.4L893.9 758.2L895.2 758.2L896.6 758.2L898.0 758.3L900.0 760.1L900.0 760.6ZM1143.0 760.6L1143.0 760.1L1144.6 759.3L1146.2 758.5L1147.7 757.7L1149.3 757.1L1150.6 757.5L1152.0 758.4L1153.3 759.0L1154.7 759.5L1156.0 760.1L1156.0 760.6ZM1226.0 760.6L1226.0 760.1L1227.4 759.7L1228.7 759.1L1230.1 758.7L1231.4 758.1L1232.8 757.7L1234.2 758.0L1235.7 758.6L1237.1 759.1L1238.6 759.6L1240.0 760.1L1240.0 760.6ZM1276.0 760.6L1276.0 760.1L1277.5 759.5L1279.0 758.9L1280.4 758.4L1281.9 757.7L1283.4 758.1L1285.0 758.9L1286.5 759.5L1288.0 760.1L1288.0 760.6ZM1003.0 760.6L1003.0 760.1L1004.7 759.4L1006.3 758.5L1008.0 757.9L1009.7 758.6L1011.3 759.3L1013.0 760.1L1013.0 760.6ZM1305.6 759.4h3.0v1.2h-3.0zM1098.1 759.4h3.5v1.2h-3.5zM1348.6 759.4h1.6v1.2h-1.6zM1101.7 759.4h2.6v1.2h-2.6zM1031.6 759.4h3.4v1.2h-3.4zM1161.3 760.6l1.1 -1.4l0.8 -0.2l1.6 1.6zM1050.0 760.6l1.9 -1.0l1.4 -0.1l2.7 1.1zM1078.7 759.4h2.5v1.2h-2.5zM1153.0 760.6l1.8 -1.5l1.3 -0.2l2.5 1.7zM1304.8 760.6l1.4 -1.3l1.0 -0.2l2.1 1.5zM1118.8 760.6l1.9 -1.3l1.3 -0.2l2.6 1.5zM1063.3 759.4h3.3v1.2h-3.3zM1004.5 759.4h2.1v1.2h-2.1zM1217.4 760.6l2.2 -1.0l1.5 -0.1l3.1 1.1zM1167.2 759.4h3.7v1.2h-3.7zM917.1 760.6l2.2 -0.9l1.6 -0.1l3.2 1.1zM1026.8 759.4h1.8v1.2h-1.8zM857.4 760.6l1.4 -1.1l1.0 -0.2l2.0 1.3zM1292.5 760.6l0.9 -1.3l0.6 -0.2l1.3 1.5zM1012.3 759.4h2.2v1.2h-2.2zM860.2 759.4h2.3v1.2h-2.3zM1092.2 759.4h4.0v1.2h-4.0zM903.6 759.4h3.8v1.2h-3.8zM1002.0 759.4h2.3v1.2h-2.3zM1332.3 760.6l1.6 -1.4l1.2 -0.2l2.3 1.7zM895.9 759.4h3.3v1.2h-3.3zM1154.3 759.4h2.5v1.2h-2.5zM878.1 759.4h3.6v1.2h-3.6zM1056.4 759.4h1.9v1.2h-1.9zM1234.7 759.4h2.5v1.2h-2.5zM1267.9 759.4h1.7v1.2h-1.7zM1194.7 760.6l0.9 -1.1l0.7 -0.2l1.3 1.3zM1031.2 760.6l1.6 -1.4l1.1 -0.2l2.2 1.6zM1067.4 759.4h2.2v1.2h-2.2zM1163.3 760.6l1.8 -1.4l1.3 -0.2l2.5 1.6zM1374.8 759.4h1.7v1.2h-1.7zM1031.2 759.4h1.6v1.2h-1.6zM886.0 760.6l2.1 -1.4l1.5 -0.2l3.0 1.6zM917.2 759.4h4.0v1.2h-4.0zM935.7 759.4h2.1v1.2h-2.1zM958.5 759.4h2.7v1.2h-2.7zM1269.2 759.4h2.7v1.2h-2.7zM913.8 760.6l2.1 -1.2l1.5 -0.2l3.0 1.4zM1323.5 759.4h1.9v1.2h-1.9z" fill="#990000"/>
<line x1="844.4" y1="800.7" x2="1395.0" y2="800.7" stroke="#b4b4f0" stroke-width="1.5"/>
<path d="M1329.0 801.2L1329.0 800.7L1330.3 797.8L1331.7 795.2L1334.0 797.7L1335.5 798.3L1337.0 798.0L1338.5 798.6L1340.0 798.7L1341.3 797.8L1342.7 797.6L1344.0 796.7L1345.8 794.6L1347.5 793.2L1349.0 796.0L1350.5 798.7L1351.8 797.4L1353.2 795.7L1354.5 794.2L1356.0 782.7L1357.4 775.4L1358.8 782.7L1360.4 790.2L1361.8 795.7L1363.0 793.2L1364.0 785.7L1365.3 778.3L1367.3 776.3L1369.7 771.4L1371.0 776.7L1372.3 780.7L1373.7 794.2L1376.0 797.7L1377.6 796.5L1379.2 795.2L1380.6 797.7L1382.0 799.7L1383.5 798.9L1385.1 798.1L1386.5 799.4L1388.0 800.7L1388.0 801.2ZM1138.0 801.2L1138.0 800.7L1140.0 797.2L1141.5 797.0L1143.0 797.3L1144.5 797.1L1146.0 797.2L1148.5 792.7L1150.5 782.7L1151.7 777.9L1153.0 782.7L1154.2 796.7L1155.6 798.2L1157.0 799.2L1158.5 799.9L1160.0 800.7L1160.0 801.2ZM879.5 801.2L879.5 800.7L880.8 794.7L881.6 789.2L882.6 794.7L884.0 800.7L884.0 801.2ZM1004.0 801.2L1004.0 800.7L1006.0 795.7L1008.0 793.7L1009.5 795.1L1011.0 795.7L1012.5 793.7L1014.0 792.7L1016.0 797.7L1017.3 798.9L1018.7 799.8L1020.0 800.7L1020.0 801.2ZM1124.0 801.2L1124.0 800.7L1125.8 798.3L1127.5 795.2L1130.0 800.7L1130.0 801.2ZM930.0 801.2L930.0 800.7L931.3 799.4L932.7 798.0L934.0 796.7L935.5 796.1L937.0 794.7L938.3 795.9L939.7 795.6L941.0 796.7L942.5 795.9L944.0 794.7L946.0 800.7L946.0 801.2ZM1026.0 801.2L1026.0 800.7L1027.3 799.5L1028.7 798.1L1030.0 796.7L1031.5 796.1L1033.0 795.9L1034.5 795.5L1036.0 795.7L1038.0 800.7L1038.0 801.2ZM1141.0 801.2l1.5 -1.1l1.1 -0.2l2.2 1.3zM873.5 801.2l2.0 -2.5l1.4 -0.5l2.9 3.0zM1343.3 801.2l1.7 -3.2l1.2 -0.7l2.5 3.9zM1282.4 801.2l1.6 -1.0l1.2 -0.1l2.3 1.1zM931.5 801.2l1.6 -3.8l1.1 -0.8l2.2 4.6zM938.5 801.2l1.7 -4.1l1.2 -0.9l2.4 5.0zM958.3 801.2l1.7 -3.3l1.2 -0.7l2.5 4.0zM1183.4 801.2l1.3 -3.5l0.9 -0.7l1.8 4.2zM994.9 801.2l1.1 -2.0l0.8 -0.4l1.6 2.4zM1225.5 801.2l1.1 -1.6l0.8 -0.3l1.6 1.9zM912.6 800.0h2.9v1.2h-2.9zM1342.2 801.2l2.0 -3.1l1.4 -0.6l2.9 3.7zM1152.9 801.2l1.3 -3.1l0.9 -0.6l1.9 3.7zM1044.2 801.2l1.2 -3.6l0.9 -0.8l1.7 4.4zM1184.5 801.2l0.9 -2.0l0.7 -0.4l1.3 2.4zM1151.5 801.2l2.1 -3.1l1.5 -0.6l3.0 3.7zM1072.4 801.2l0.9 -3.6l0.6 -0.8l1.3 4.4zM1338.1 801.2l2.0 -2.5l1.4 -0.5l2.8 3.0zM1089.7 800.0h3.6v1.2h-3.6zM966.8 800.0h3.4v1.2h-3.4zM1324.1 800.0h2.9v1.2h-2.9zM1119.5 801.2l2.0 -1.1l1.4 -0.1l2.9 1.2zM997.3 801.2l1.4 -3.0l1.0 -0.6l2.0 3.6zM923.1 801.2l1.0 -4.0l0.7 -0.9l1.5 4.8zM900.1 800.0h2.4v1.2h-2.4zM859.0 800.0h3.9v1.2h-3.9zM982.0 801.2l1.1 -2.7l0.8 -0.5l1.6 3.2zM851.7 800.0h1.8v1.2h-1.8zM1364.8 801.2l1.2 -1.6l0.8 -0.3l1.7 1.8zM868.3 801.2l1.3 -2.3l0.9 -0.5l1.8 2.8zM940.5 801.2l1.8 -1.5l1.3 -0.2l2.6 1.7zM1029.9 801.2l1.1 -2.0l0.8 -0.4l1.6 2.3zM1150.6 800.0h3.8v1.2h-3.8zM1350.6 801.2l1.5 -2.0l1.1 -0.4l2.1 2.4zM1059.6 801.2l1.6 -2.8l1.2 -0.6l2.4 3.4zM1231.0 801.2l1.4 -1.5l1.0 -0.3l2.0 1.8zM1240.3 800.0h2.4v1.2h-2.4zM976.0 800.0h3.7v1.2h-3.7zM1014.0 801.2l0.9 -2.8l0.6 -0.6l1.3 3.3zM1348.0 801.2l1.9 -1.6l1.3 -0.3l2.7 1.9zM899.7 801.2l2.0 -2.1l1.4 -0.4l2.8 2.6zM1002.7 800.0h2.5v1.2h-2.5zM1264.3 801.2l0.9 -2.9l0.7 -0.6l1.3 3.5zM1020.1 801.2l1.2 -3.7l0.9 -0.8l1.8 4.5zM888.8 801.2l2.0 -3.4l1.4 -0.7l2.8 4.2zM1085.7 801.2l1.9 -1.0l1.4 -0.1l2.7 1.1zM1302.6 800.0h3.3v1.2h-3.3zM1347.9 801.2l1.6 -3.0l1.1 -0.6l2.2 3.6zM1056.9 801.2l2.2 -4.1l1.6 -0.9l3.2 5.0zM1282.1 801.2l2.1 -1.7l1.5 -0.3l3.0 2.0zM1323.2 800.0h1.8v1.2h-1.8zM1179.7 800.0h2.3v1.2h-2.3zM1153.3 801.2l1.7 -1.7l1.2 -0.3l2.5 2.0zM1291.9 801.2l1.3 -3.9l0.9 -0.8l1.8 4.7zM1365.0 801.2l1.3 -1.1l0.9 -0.2l1.9 1.3zM1256.2 801.2l1.5 -4.0l1.1 -0.9l2.2 4.9zM1278.3 801.2l1.3 -3.2l0.9 -0.7l1.8 3.9zM1181.2 801.2l0.9 -3.8l0.6 -0.8l1.2 4.7zM910.1 801.2l1.6 -3.5l1.2 -0.7l2.3 4.2zM1072.2 801.2l1.5 -3.0l1.0 -0.6l2.1 3.7zM917.8 801.2l1.9 -1.2l1.4 -0.2l2.7 1.4zM1194.6 801.2l0.9 -1.7l0.6 -0.3l1.2 2.0zM1390.1 800.0h2.2v1.2h-2.2zM1274.4 801.2l1.8 -3.8l1.3 -0.8l2.6 4.7zM1051.1 801.2l1.8 -2.8l1.3 -0.6l2.5 3.4zM1158.8 801.2l1.6 -3.0l1.2 -0.6l2.3 3.6zM1136.3 801.2l1.9 -0.9l1.4 -0.1l2.8 1.0zM903.0 800.0h3.1v1.2h-3.1zM868.2 801.2l1.1 -3.5l0.8 -0.7l1.6 4.2zM1100.2 800.0h2.7v1.2h-2.7zM1181.9 800.0h2.9v1.2h-2.9zM1377.1 800.0h2.0v1.2h-2.0zM951.3 800.0h1.5v1.2h-1.5zM1368.1 801.2l0.9 -4.0l0.6 -0.9l1.3 4.8zM1300.7 800.0h2.0v1.2h-2.0zM1327.7 800.0h3.1v1.2h-3.1zM1211.0 801.2l1.2 -2.6l0.8 -0.5l1.7 3.1zM924.4 801.2l1.3 -2.3l0.9 -0.4l1.8 2.7zM1174.7 801.2l0.9 -2.8l0.6 -0.6l1.3 3.3zM1239.7 801.2l1.4 -4.1l1.0 -0.9l2.0 4.9zM1156.2 801.2l2.1 -1.1l1.5 -0.2l3.0 1.3zM966.2 800.0h2.8v1.2h-2.8zM1087.7 800.0h2.0v1.2h-2.0zM1350.9 801.2l1.4 -1.9l1.0 -0.3l2.0 2.2zM1253.6 800.0h3.8v1.2h-3.8zM1301.3 800.0h2.6v1.2h-2.6zM862.6 801.2l2.2 -3.0l1.6 -0.6l3.1 3.7zM1168.8 801.2l1.5 -4.1l1.1 -0.9l2.1 4.9zM1316.7 801.2l2.1 -1.2l1.5 -0.2l3.1 1.4zM1096.1 800.0h1.6v1.2h-1.6zM1365.3 800.0h3.0v1.2h-3.0zM1174.5 800.0h2.4v1.2h-2.4zM1008.7 800.0h2.5v1.2h-2.5zM1050.8 801.2l1.8 -2.7l1.3 -0.5l2.6 3.2zM1361.8 801.2l1.2 -3.5l0.9 -0.7l1.7 4.2zM1176.2 801.2l1.9 -2.5l1.4 -0.5l2.8 3.1zM918.8 801.2l1.7 -1.1l1.2 -0.2l2.4 1.3zM1014.9 801.2l1.4 -3.7l1.0 -0.8l2.0 4.5zM1231.9 800.0h3.7v1.2h-3.7zM1375.2 801.2l1.3 -4.0l0.9 -0.9l1.9 4.8zM1299.3 801.2l1.0 -1.4l0.7 -0.2l1.4 1.6zM881.8 801.2l2.2 -2.4l1.6 -0.5l3.2 2.9zM858.6 801.2l1.8 -3.3l1.3 -0.7l2.5 4.0zM1104.5 800.0h2.8v1.2h-2.8zM1117.4 800.0h3.8v1.2h-3.8zM1249.6 800.0h3.1v1.2h-3.1zM1168.8 801.2l2.2 -3.8l1.6 -0.8l3.2 4.7zM1331.6 800.0h2.6v1.2h-2.6zM927.2 801.2l1.0 -2.8l0.7 -0.6l1.4 3.4zM1295.6 801.2l1.7 -2.2l1.2 -0.4l2.5 2.6zM1359.2 801.2l1.9 -3.4l1.3 -0.7l2.7 4.2zM1186.0 801.2l1.6 -1.9l1.1 -0.4l2.2 2.3zM860.2 800.0h3.2v1.2h-3.2zM1068.7 801.2l2.0 -1.5l1.4 -0.3l2.9 1.8zM1053.1 801.2l2.0 -2.7l1.4 -0.6l2.8 3.3zM1300.0 800.0h3.0v1.2h-3.0zM1100.1 800.0h1.7v1.2h-1.7zM948.4 800.0h3.5v1.2h-3.5zM1270.9 801.2l1.7 -1.3l1.2 -0.2l2.4 1.5zM1085.6 800.0h2.2v1.2h-2.2zM1029.7 801.2l2.1 -3.9l1.5 -0.9l3.0 4.8zM910.8 800.0h3.7v1.2h-3.7zM1084.8 801.2l1.7 -1.0l1.2 -0.1l2.4 1.1zM1173.8 801.2l1.1 -3.6l0.8 -0.8l1.5 4.4zM1315.7 800.0h1.7v1.2h-1.7zM1004.2 801.2l2.0 -1.8l1.4 -0.3l2.8 2.1zM1160.6 801.2l1.1 -4.0l0.8 -0.9l1.6 4.9zM1049.7 801.2l1.7 -2.0l1.2 -0.4l2.4 2.4zM1224.2 801.2l1.0 -1.7l0.7 -0.3l1.4 2.0zM1271.3 801.2l0.9 -3.0l0.7 -0.6l1.3 3.7zM1289.7 800.0h3.2v1.2h-3.2zM1183.9 801.2l1.0 -1.0l0.7 -0.1l1.4 1.2zM983.2 801.2l1.6 -2.2l1.1 -0.4l2.3 2.7zM1289.9 800.0h3.1v1.2h-3.1zM1010.6 800.0h2.0v1.2h-2.0zM905.1 800.0h1.6v1.2h-1.6zM1376.0 801.2l1.9 -1.2l1.4 -0.2l2.7 1.4zM1073.9 801.2l1.2 -1.8l0.9 -0.3l1.7 2.1zM1361.6 800.0h3.9v1.2h-3.9zM1270.0 801.2l1.0 -3.4l0.7 -0.7l1.4 4.1zM1382.4 801.2l1.7 -2.4l1.2 -0.5l2.4 2.8zM1152.0 801.2l2.2 -1.5l1.6 -0.3l3.1 1.8zM1380.1 801.2l1.0 -3.9l0.7 -0.9l1.5 4.8zM1133.0 801.2l1.1 -2.6l0.8 -0.5l1.6 3.1zM1330.7 801.2l1.0 -2.8l0.7 -0.6l1.4 3.4zM1003.9 801.2l2.1 -2.5l1.5 -0.5l3.0 3.0zM1388.1 801.2l2.0 -1.0l1.4 -0.1l2.9 1.1zM1163.7 801.2l1.2 -1.2l0.8 -0.2l1.7 1.4zM902.2 800.0h2.6v1.2h-2.6zM910.6 800.0h2.3v1.2h-2.3zM918.8 800.0h2.1v1.2h-2.1zM1376.1 801.2l1.7 -1.4l1.2 -0.2l2.4 1.7zM1137.7 801.2l2.0 -3.9l1.4 -0.9l2.9 4.8zM1349.0 801.2l1.9 -3.5l1.3 -0.7l2.7 4.2zM1324.1 800.0h3.0v1.2h-3.0zM1023.9 801.2l1.2 -3.8l0.9 -0.8l1.7 4.6zM1391.8 800.0h2.3v1.2h-2.3zM1249.4 801.2l1.1 -2.0l0.8 -0.4l1.6 2.4zM912.4 801.2l1.1 -3.5l0.8 -0.7l1.6 4.2zM1121.5 801.2l1.5 -3.3l1.1 -0.7l2.2 4.0zM1105.5 800.0h3.8v1.2h-3.8zM1171.8 801.2l1.4 -2.4l1.0 -0.5l2.0 2.9zM1232.6 801.2l1.1 -1.3l0.8 -0.2l1.6 1.5zM1036.5 801.2l2.0 -2.9l1.5 -0.6l2.9 3.5zM1122.8 801.2l2.1 -2.4l1.5 -0.5l3.1 2.9zM1198.7 801.2l1.2 -4.0l0.9 -0.9l1.7 4.9zM1319.8 801.2l1.6 -1.1l1.2 -0.1l2.3 1.2zM1168.9 800.0h1.5v1.2h-1.5zM859.5 801.2l1.4 -3.6l1.0 -0.8l2.0 4.3zM1171.0 801.2l2.1 -1.5l1.5 -0.2l3.0 1.7zM1245.6 801.2l1.7 -1.3l1.2 -0.2l2.5 1.5zM960.2 801.2l1.1 -3.9l0.8 -0.8l1.5 4.7zM1342.2 801.2l1.0 -1.9l0.7 -0.3l1.5 2.2zM1383.1 800.0h3.2v1.2h-3.2zM986.7 800.0h3.5v1.2h-3.5zM1329.4 801.2l1.8 -3.6l1.3 -0.8l2.5 4.3zM1196.2 800.0h4.0v1.2h-4.0zM1022.6 801.2l0.9 -2.3l0.6 -0.4l1.3 2.7zM1015.5 801.2l1.5 -1.8l1.1 -0.3l2.1 2.1zM1069.5 801.2l0.9 -1.3l0.6 -0.2l1.2 1.5zM1196.8 801.2l1.0 -1.2l0.7 -0.2l1.4 1.4zM1043.4 801.2l1.9 -2.4l1.3 -0.5l2.7 2.9zM1072.0 800.0h3.1v1.2h-3.1zM1169.8 801.2l2.2 -1.7l1.6 -0.3l3.1 1.9zM1043.7 801.2l0.9 -1.8l0.6 -0.3l1.3 2.1zM917.2 800.0h2.0v1.2h-2.0zM940.0 800.0h3.8v1.2h-3.8zM1163.7 801.2l1.6 -1.7l1.2 -0.3l2.3 2.0zM996.8 801.2l1.9 -3.4l1.3 -0.7l2.7 4.2zM1078.2 800.0h1.5v1.2h-1.5zM862.5 801.2l0.9 -2.7l0.6 -0.6l1.3 3.3zM1090.6 800.0h2.4v1.2h-2.4zM1004.1 801.2l2.2 -3.8l1.6 -0.8l3.1 4.7zM1254.7 801.2l2.2 -1.9l1.6 -0.3l3.1 2.2zM1228.8 800.0h1.9v1.2h-1.9zM924.2 800.0h2.5v1.2h-2.5zM1177.2 800.0h1.7v1.2h-1.7zM1026.0 801.2l2.1 -1.6l1.5 -0.3l3.0 1.8zM1330.7 801.2l1.2 -3.2l0.9 -0.7l1.7 3.9zM1292.9 801.2l1.7 -1.0l1.2 -0.1l2.4 1.1zM1137.1 800.0h2.9v1.2h-2.9zM986.9 801.2l1.2 -3.1l0.8 -0.6l1.7 3.7zM1272.4 800.0h1.5v1.2h-1.5zM1082.3 801.2l1.7 -1.3l1.2 -0.2l2.5 1.4zM980.8 801.2l1.3 -1.7l0.9 -0.3l1.9 2.0zM1205.6 801.2l1.1 -1.0l0.8 -0.1l1.5 1.1zM1391.5 800.0h1.8v1.2h-1.8zM1016.9 801.2l1.6 -1.1l1.2 -0.2l2.3 1.3zM1115.5 800.0h3.6v1.2h-3.6zM1232.8 800.0h1.9v1.2h-1.9zM903.2 801.2l1.7 -1.8l1.2 -0.3l2.5 2.1zM1238.6 800.0h3.7v1.2h-3.7zM1336.8 801.2l1.0 -1.6l0.7 -0.3l1.4 1.9zM938.2 801.2l0.9 -2.7l0.7 -0.5l1.3 3.2zM1185.1 801.2l0.9 -2.7l0.6 -0.5l1.2 3.2zM925.0 800.0h2.6v1.2h-2.6zM1308.1 801.2l1.4 -1.1l1.0 -0.2l2.0 1.3zM849.4 801.2l1.1 -1.9l0.8 -0.3l1.6 2.2zM1001.0 801.2l1.2 -3.8l0.9 -0.8l1.8 4.6zM1057.5 801.2l2.1 -2.4l1.5 -0.5l3.1 2.9zM875.4 801.2l1.8 -2.1l1.3 -0.4l2.5 2.5zM913.5 800.0h2.3v1.2h-2.3zM1026.8 801.2l2.2 -2.6l1.6 -0.5l3.1 3.1zM1204.0 801.2l2.2 -1.5l1.6 -0.2l3.2 1.7zM1353.8 801.2l1.5 -1.5l1.1 -0.2l2.1 1.7zM1127.8 800.0h3.1v1.2h-3.1zM1232.2 801.2l1.7 -1.6l1.2 -0.3l2.4 1.9zM1339.3 801.2l1.8 -2.2l1.3 -0.4l2.6 2.7zM1325.9 801.2l1.5 -2.7l1.1 -0.6l2.1 3.3zM1367.1 801.2l1.0 -3.9l0.7 -0.8l1.4 4.7zM1392.0 800.0h3.7v1.2h-3.7z" fill="#0000b4"/>
<line x1="844.4" y1="841.2" x2="1395.0" y2="841.2" stroke="#b4dcc6" stroke-width="1.5"/>
<path d="M1225.5 841.7L1225.5 841.2L1227.0 834.7L1229.5 834.7L1230.5 841.2L1230.5 841.7ZM970.0 841.7L970.0 841.2L971.5 838.6L973.0 836.2L974.5 833.2L977.0 837.2L979.0 841.2L979.0 841.7ZM848.0 841.7L848.0 841.2L850.0 836.2L851.5 836.4L853.0 837.4L854.5 837.9L856.0 838.2L857.4 838.0L858.8 837.6L860.2 837.2L861.6 836.6L863.0 835.7L864.5 838.2L866.0 841.2L866.0 841.7ZM930.0 841.7L930.0 841.2L931.7 839.5L933.3 837.6L935.0 836.2L936.5 838.4L938.0 841.2L938.0 841.7ZM1085.2 840.5h3.7v1.2h-3.7zM903.3 841.7l2.0 -1.7l1.4 -0.3l2.9 2.0zM910.2 841.7l1.8 -0.9l1.3 -0.1l2.5 1.0zM895.0 841.7l1.9 -3.2l1.3 -0.7l2.7 3.9zM1146.6 841.7l1.0 -2.8l0.7 -0.6l1.5 3.4zM1306.3 841.7l1.4 -1.8l1.0 -0.3l2.0 2.1zM1288.9 841.7l0.9 -1.5l0.6 -0.2l1.3 1.7zM1226.9 840.5h2.9v1.2h-2.9zM961.6 841.7l1.4 -1.3l1.0 -0.2l2.0 1.5zM1225.0 841.7l1.3 -2.2l1.0 -0.4l1.9 2.6zM968.5 841.7l0.9 -2.8l0.7 -0.6l1.3 3.4zM1161.6 841.7l1.7 -2.6l1.2 -0.5l2.5 3.1zM858.8 840.5h3.1v1.2h-3.1zM1271.9 841.7l2.2 -2.2l1.6 -0.4l3.2 2.6zM1224.7 841.7l2.2 -1.4l1.6 -0.2l3.1 1.6zM974.5 840.5h2.5v1.2h-2.5zM857.4 841.7l1.6 -1.9l1.1 -0.3l2.3 2.2zM945.6 841.7l1.5 -2.1l1.1 -0.4l2.1 2.5zM1224.5 841.7l2.0 -2.9l1.4 -0.6l2.8 3.5zM1218.7 840.5h2.9v1.2h-2.9zM1209.7 840.5h2.4v1.2h-2.4zM1128.4 841.7l1.0 -0.9l0.7 -0.1l1.4 1.0zM998.1 841.7l1.9 -1.3l1.4 -0.2l2.7 1.5zM1381.2 841.7l2.1 -3.1l1.5 -0.7l3.0 3.8zM1380.4 841.7l1.7 -1.7l1.2 -0.3l2.4 2.0zM857.3 841.7l2.0 -2.5l1.4 -0.5l2.9 3.0zM1032.3 841.7l1.0 -2.1l0.7 -0.4l1.4 2.4zM1355.6 841.7l1.5 -1.4l1.1 -0.2l2.1 1.6zM962.7 841.7l2.2 -3.3l1.6 -0.7l3.1 3.9zM1068.3 841.7l1.2 -1.7l0.9 -0.3l1.8 2.0zM1226.4 841.7l2.0 -2.1l1.4 -0.4l2.9 2.5zM850.9 841.7l2.2 -1.6l1.6 -0.3l3.1 1.9zM855.8 841.7l1.4 -2.1l1.0 -0.4l2.0 2.5zM904.7 841.7l2.2 -1.0l1.6 -0.1l3.1 1.1zM958.9 841.7l2.1 -1.5l1.5 -0.3l2.9 1.8zM904.3 840.5h3.0v1.2h-3.0zM1185.9 840.5h3.6v1.2h-3.6zM1263.0 841.7l1.2 -2.0l0.8 -0.4l1.7 2.4zM1350.0 840.5h4.0v1.2h-4.0zM1143.9 841.7l1.6 -3.5l1.1 -0.7l2.3 4.2zM1174.0 841.7l1.5 -3.6l1.0 -0.8l2.1 4.4zM1012.7 841.7l2.2 -3.8l1.6 -0.8l3.2 4.6zM911.6 841.7l1.9 -3.2l1.4 -0.7l2.7 3.9zM959.5 840.5h1.6v1.2h-1.6zM1302.7 840.5h3.6v1.2h-3.6zM1278.6 841.7l1.0 -3.9l0.7 -0.8l1.4 4.7zM1288.2 840.5h1.8v1.2h-1.8zM1307.7 840.5h3.3v1.2h-3.3zM1382.5 841.7l1.4 -1.6l1.0 -0.3l2.0 1.8zM1331.4 841.7l2.2 -2.2l1.6 -0.4l3.2 2.6zM1221.6 841.7l0.9 -1.4l0.6 -0.2l1.3 1.7zM1331.7 841.7l1.0 -2.7l0.7 -0.5l1.5 3.2zM1220.5 841.7l1.5 -0.9l1.0 -0.1l2.1 1.0zM931.2 840.5h2.7v1.2h-2.7zM1232.8 841.7l2.0 -2.5l1.5 -0.5l2.9 3.0zM1342.3 841.7l1.2 -2.7l0.8 -0.5l1.7 3.2zM1267.2 841.7l1.0 -2.6l0.7 -0.5l1.4 3.1zM850.9 841.7l1.1 -3.5l0.8 -0.7l1.5 4.2zM1319.3 841.7l1.4 -3.7l1.0 -0.8l2.0 4.4zM1133.6 840.5h1.7v1.2h-1.7zM1308.5 841.7l1.2 -2.1l0.9 -0.4l1.7 2.5zM949.4 840.5h3.4v1.2h-3.4zM993.4 840.5h3.6v1.2h-3.6zM1016.4 840.5h2.9v1.2h-2.9zM1043.2 841.7l1.5 -1.7l1.1 -0.3l2.1 2.0zM1138.5 841.7l1.5 -0.9l1.1 -0.1l2.2 1.0zM1367.9 840.5h2.5v1.2h-2.5zM1095.6 841.7l1.3 -1.5l0.9 -0.2l1.9 1.7zM1186.7 841.7l1.1 -3.6l0.8 -0.8l1.5 4.4zM1088.0 841.7l0.8 -3.8l0.6 -0.8l1.2 4.7zM1221.7 841.7l1.5 -1.2l1.1 -0.2l2.2 1.4zM1242.3 840.5h1.7v1.2h-1.7zM1192.4 841.7l1.5 -3.9l1.1 -0.8l2.1 4.7zM1354.1 841.7l1.8 -1.7l1.3 -0.3l2.6 2.0zM1204.1 841.7l1.8 -2.8l1.3 -0.6l2.5 3.3zM1218.2 841.7l1.2 -2.5l0.9 -0.5l1.7 3.0zM1325.6 841.7l1.5 -2.1l1.1 -0.4l2.2 2.4zM1188.5 841.7l1.2 -1.1l0.8 -0.2l1.7 1.3zM1345.2 840.5h2.4v1.2h-2.4zM1166.9 841.7l1.0 -1.6l0.7 -0.3l1.4 1.9zM992.0 841.7l1.0 -2.7l0.7 -0.6l1.5 3.3zM1108.1 840.5h1.7v1.2h-1.7zM1378.0 841.7l1.5 -1.4l1.1 -0.2l2.1 1.7zM884.6 840.5h2.8v1.2h-2.8zM1351.8 841.7l1.4 -3.6l1.0 -0.8l2.0 4.4zM1124.8 840.5h3.6v1.2h-3.6zM918.6 841.7l1.1 -1.0l0.8 -0.1l1.6 1.1zM1247.1 841.7l1.5 -3.2l1.0 -0.7l2.1 3.9zM1024.0 841.7l1.0 -3.5l0.7 -0.7l1.4 4.2zM1260.2 841.7l2.1 -1.1l1.5 -0.1l3.0 1.2zM982.0 841.7l2.0 -3.3l1.5 -0.7l2.9 4.0zM1016.0 840.5h3.1v1.2h-3.1zM884.0 841.7l1.3 -1.9l0.9 -0.4l1.8 2.3zM1209.9 840.5h3.2v1.2h-3.2zM988.1 841.7l1.9 -1.9l1.3 -0.4l2.6 2.3zM933.3 841.7l1.8 -1.1l1.3 -0.1l2.6 1.2zM1220.4 841.7l0.9 -3.4l0.6 -0.7l1.3 4.1zM1054.8 841.7l2.1 -1.1l1.5 -0.2l3.0 1.3zM1116.4 841.7l1.1 -1.1l0.8 -0.1l1.5 1.2zM1086.3 841.7l0.9 -1.1l0.6 -0.2l1.2 1.3zM1187.2 841.7l1.4 -3.3l1.0 -0.7l2.0 4.1zM1088.2 841.7l2.2 -3.3l1.6 -0.7l3.1 4.0zM1368.9 841.7l1.1 -2.7l0.8 -0.5l1.6 3.2zM1039.9 841.7l2.0 -1.1l1.4 -0.2l2.8 1.3zM1273.4 841.7l1.1 -3.0l0.8 -0.6l1.5 3.6zM966.6 841.7l1.3 -3.9l0.9 -0.9l1.9 4.8zM1167.2 841.7l1.8 -1.4l1.3 -0.2l2.6 1.6zM844.2 841.7l2.1 -2.9l1.5 -0.6l3.0 3.6zM1222.2 841.7l1.8 -1.1l1.3 -0.2l2.6 1.3zM957.1 841.7l2.0 -2.8l1.4 -0.6l2.8 3.3zM1166.9 841.7l1.8 -2.7l1.3 -0.5l2.6 3.2zM1262.9 841.7l1.9 -3.4l1.4 -0.7l2.7 4.2zM1341.7 841.7l1.0 -2.5l0.7 -0.5l1.4 3.0zM952.6 841.7l1.0 -3.5l0.7 -0.7l1.4 4.2zM1318.4 841.7l1.0 -2.5l0.7 -0.5l1.5 3.0zM1328.1 841.7l1.1 -2.5l0.8 -0.5l1.6 3.0zM1030.1 841.7l1.7 -2.4l1.2 -0.5l2.4 2.8zM1161.7 841.7l1.3 -3.2l0.9 -0.7l1.8 3.8zM1310.3 841.7l2.0 -3.7l1.5 -0.8l2.9 4.6zM1083.5 840.5h2.8v1.2h-2.8zM1060.5 841.7l1.0 -2.3l0.7 -0.5l1.4 2.8zM1004.8 840.5h1.8v1.2h-1.8zM1011.7 841.7l1.9 -1.8l1.4 -0.3l2.8 2.1zM1047.2 841.7l1.5 -3.3l1.1 -0.7l2.2 4.1zM1366.8 841.7l1.3 -1.1l0.9 -0.1l1.8 1.2zM930.4 841.7l1.7 -2.9l1.2 -0.6l2.4 3.5zM1361.6 841.7l1.9 -1.6l1.4 -0.3l2.7 1.9zM933.1 841.7l0.9 -3.6l0.7 -0.8l1.3 4.3zM946.7 841.7l0.9 -3.9l0.7 -0.8l1.3 4.7zM1367.8 841.7l0.9 -3.9l0.7 -0.9l1.3 4.8zM1071.0 841.7l2.2 -2.9l1.6 -0.6l3.1 3.5zM1138.4 841.7l1.4 -3.4l1.0 -0.7l2.0 4.2zM1253.0 840.5h3.1v1.2h-3.1zM958.0 841.7l1.2 -2.5l0.9 -0.5l1.8 3.1zM858.0 841.7l1.2 -1.5l0.8 -0.2l1.7 1.7zM1121.6 840.5h2.6v1.2h-2.6zM962.6 841.7l1.7 -1.2l1.2 -0.2l2.4 1.3zM1247.3 841.7l1.4 -1.6l1.0 -0.3l2.1 1.8zM998.9 841.7l1.9 -2.1l1.3 -0.4l2.7 2.4zM975.4 840.5h3.3v1.2h-3.3zM988.3 841.7l1.6 -2.7l1.2 -0.6l2.3 3.3zM892.1 841.7l2.1 -1.1l1.5 -0.2l3.1 1.3zM1297.8 841.7l2.2 -2.2l1.6 -0.4l3.2 2.7zM1385.2 841.7l2.1 -2.8l1.5 -0.6l2.9 3.4zM1116.4 841.7l1.2 -3.4l0.9 -0.7l1.8 4.1zM1358.1 841.7l2.0 -3.8l1.4 -0.8l2.8 4.7zM1367.6 841.7l1.8 -2.4l1.3 -0.5l2.6 2.8zM904.2 841.7l1.0 -2.6l0.7 -0.5l1.4 3.1zM1334.3 841.7l2.1 -2.9l1.5 -0.6l3.0 3.5zM1247.2 841.7l1.7 -0.9l1.2 -0.1l2.4 1.1zM1109.9 841.7l1.7 -3.3l1.2 -0.7l2.4 4.0zM1066.2 841.7l1.9 -2.5l1.4 -0.5l2.8 3.0zM1189.8 841.7l1.8 -1.2l1.3 -0.2l2.5 1.4zM1156.8 840.5h2.2v1.2h-2.2zM923.2 841.7l1.0 -1.7l0.7 -0.3l1.4 2.0zM1261.4 841.7l1.0 -2.0l0.7 -0.4l1.5 2.4zM1228.1 841.7l0.9 -2.8l0.6 -0.6l1.3 3.4zM1243.1 841.7l2.1 -1.5l1.5 -0.3l3.0 1.8zM1343.8 841.7l2.0 -2.1l1.4 -0.4l2.8 2.5zM944.2 841.7l1.8 -2.6l1.3 -0.5l2.6 3.1zM1252.5 841.7l1.2 -1.5l0.8 -0.2l1.7 1.7zM1052.3 840.5h3.2v1.2h-3.2zM1213.2 841.7l1.9 -2.1l1.4 -0.4l2.8 2.5zM998.8 841.7l2.0 -2.0l1.4 -0.4l2.8 2.4zM1189.3 840.5h2.2v1.2h-2.2zM1012.0 841.7l1.8 -1.0l1.3 -0.1l2.6 1.2zM1050.9 840.5h3.9v1.2h-3.9zM1160.2 841.7l1.4 -3.5l1.0 -0.7l2.1 4.2zM909.2 840.5h3.8v1.2h-3.8zM859.0 840.5h3.0v1.2h-3.0zM1068.6 840.5h2.4v1.2h-2.4zM1166.0 840.5h2.4v1.2h-2.4zM975.6 841.7l2.1 -1.7l1.5 -0.3l3.0 1.9zM1164.1 841.7l2.0 -2.7l1.4 -0.5l2.8 3.2zM851.8 840.5h3.5v1.2h-3.5zM1110.7 841.7l2.0 -1.3l1.5 -0.2l2.9 1.6zM980.2 841.7l2.0 -1.6l1.4 -0.3l2.8 1.8zM1232.4 840.5h2.2v1.2h-2.2zM1314.2 841.7l1.4 -2.1l1.0 -0.4l2.0 2.5zM1332.9 841.7l2.1 -1.7l1.5 -0.3l3.0 2.0zM991.7 841.7l1.4 -2.1l1.0 -0.4l2.0 2.5zM844.1 841.7l1.6 -2.3l1.1 -0.4l2.2 2.7zM1020.5 841.7l1.4 -1.0l1.0 -0.1l2.0 1.2zM1188.2 841.7l1.9 -3.8l1.3 -0.8l2.7 4.6zM1360.2 841.7l0.9 -1.0l0.6 -0.1l1.3 1.1zM927.8 841.7l1.0 -3.1l0.7 -0.7l1.4 3.8zM1257.4 841.7l1.9 -3.9l1.4 -0.8l2.8 4.7zM1112.7 840.5h3.6v1.2h-3.6zM949.0 840.5h2.7v1.2h-2.7zM1347.4 841.7l1.6 -3.9l1.1 -0.9l2.2 4.8zM864.6 841.7l1.5 -1.5l1.0 -0.3l2.1 1.8zM1200.7 841.7l1.4 -1.2l1.0 -0.2l2.0 1.4zM1310.9 841.7l1.2 -2.9l0.9 -0.6l1.7 3.5zM1142.8 840.5h2.8v1.2h-2.8zM849.5 841.7l1.4 -2.1l1.0 -0.4l2.0 2.6zM1353.2 841.7l1.1 -1.7l0.8 -0.3l1.5 1.9zM1256.5 841.7l1.6 -1.3l1.2 -0.2l2.3 1.5zM1240.1 841.7l1.6 -1.3l1.1 -0.2l2.3 1.5zM870.1 841.7l0.9 -1.0l0.7 -0.1l1.3 1.2zM1115.0 841.7l1.1 -1.6l0.8 -0.3l1.6 1.8zM1042.1 840.5h3.9v1.2h-3.9zM1316.1 841.7l2.2 -1.0l1.6 -0.1l3.2 1.2zM1242.4 841.7l1.3 -1.7l0.9 -0.3l1.8 2.0zM1225.7 841.7l1.9 -3.0l1.4 -0.6l2.8 3.7zM1089.0 841.7l1.1 -3.3l0.8 -0.7l1.6 4.0zM1276.9 841.7l0.9 -3.8l0.6 -0.8l1.3 4.7zM932.6 841.7l1.8 -2.3l1.3 -0.5l2.6 2.8zM921.1 840.5h3.8v1.2h-3.8zM1384.8 841.7l0.9 -3.5l0.7 -0.7l1.3 4.2zM1251.0 841.7l1.4 -1.4l1.0 -0.2l1.9 1.7zM1007.3 841.7l1.4 -2.5l1.0 -0.5l2.0 3.0zM935.4 840.5h1.6v1.2h-1.6zM1073.1 841.7l1.6 -2.6l1.2 -0.5l2.3 3.1zM1369.5 841.7l2.1 -3.3l1.5 -0.7l3.0 4.0zM1137.0 841.7l1.8 -1.7l1.3 -0.3l2.6 2.0zM1191.6 840.5h2.9v1.2h-2.9zM1092.0 841.7l1.5 -1.6l1.1 -0.3l2.2 1.9zM1120.7 841.7l1.3 -2.0l0.9 -0.4l1.8 2.4zM925.7 841.7l1.9 -3.9l1.4 -0.9l2.7 4.8zM995.2 841.7l1.9 -3.0l1.4 -0.6l2.8 3.7zM1023.8 841.7l1.1 -1.0l0.8 -0.1l1.6 1.1zM853.7 840.5h3.8v1.2h-3.8zM1372.9 841.7l2.2 -2.1l1.6 -0.4l3.1 2.6zM869.7 841.7l2.2 -1.8l1.6 -0.3l3.1 2.1zM988.8 840.5h3.8v1.2h-3.8zM1176.4 841.7l1.0 -3.6l0.7 -0.8l1.4 4.4zM1296.9 841.7l2.1 -2.0l1.5 -0.4l2.9 2.3zM1016.5 840.5h3.1v1.2h-3.1zM1031.5 840.5h1.9v1.2h-1.9zM892.0 841.7l1.9 -2.0l1.4 -0.4l2.8 2.4zM894.8 840.5h3.6v1.2h-3.6zM976.9 841.7l1.1 -2.0l0.8 -0.4l1.6 2.3zM1290.7 841.7l1.0 -1.9l0.7 -0.4l1.4 2.3zM1027.4 841.7l1.2 -2.3l0.8 -0.5l1.7 2.8zM914.9 841.7l0.9 -1.3l0.6 -0.2l1.2 1.5zM876.2 840.5h2.2v1.2h-2.2zM1289.0 841.7l1.4 -3.4l1.0 -0.7l2.0 4.1zM1246.4 841.7l2.2 -3.0l1.6 -0.6l3.1 3.7zM963.4 841.7l2.1 -2.4l1.5 -0.5l3.0 2.9zM1253.0 840.5h3.6v1.2h-3.6zM1264.1 841.7l0.9 -2.0l0.6 -0.4l1.3 2.4zM888.6 840.5h2.9v1.2h-2.9zM1171.9 840.5h3.6v1.2h-3.6zM1068.2 840.5h3.0v1.2h-3.0zM989.0 840.5h2.0v1.2h-2.0zM1275.9 840.5h2.1v1.2h-2.1zM917.9 841.7l1.8 -2.3l1.3 -0.4l2.6 2.7zM1078.9 840.5h1.6v1.2h-1.6zM1351.5 841.7l0.9 -2.0l0.7 -0.4l1.3 2.4zM1191.8 841.7l1.1 -3.1l0.8 -0.6l1.6 3.7zM1361.7 840.5h2.6v1.2h-2.6zM1081.8 841.7l1.5 -3.7l1.1 -0.8l2.2 4.5zM1246.6 841.7l1.2 -2.5l0.9 -0.5l1.8 3.1zM1094.6 841.7l1.3 -1.5l0.9 -0.2l1.9 1.7zM952.6 840.5h4.0v1.2h-4.0zM1351.7 840.5h4.0v1.2h-4.0zM1028.7 841.7l1.5 -2.7l1.1 -0.6l2.1 3.3zM1101.7 841.7l0.9 -1.4l0.6 -0.2l1.3 1.6zM1129.5 840.5h3.8v1.2h-3.8zM1187.4 841.7l2.0 -1.0l1.4 -0.1l2.9 1.1zM1161.0 841.7l1.9 -2.2l1.3 -0.4l2.7 2.6zM1244.2 840.5h3.7v1.2h-3.7zM1248.2 841.7l1.9 -2.7l1.3 -0.6l2.7 3.3zM970.0 841.7l1.9 -3.8l1.3 -0.8l2.7 4.7zM1344.1 841.7l1.3 -1.0l0.9 -0.1l1.8 1.1zM1324.2 841.7l1.8 -3.9l1.3 -0.9l2.6 4.8zM923.5 841.7l1.6 -1.0l1.1 -0.1l2.3 1.1zM847.0 841.7l1.6 -1.1l1.2 -0.2l2.3 1.3zM1348.6 841.7l2.1 -2.4l1.5 -0.5l3.0 2.9zM955.7 841.7l1.1 -3.3l0.8 -0.7l1.6 4.0zM980.6 841.7l1.2 -2.3l0.8 -0.4l1.7 2.7zM849.8 841.7l0.9 -2.5l0.7 -0.5l1.3 2.9zM1194.5 840.5h2.8v1.2h-2.8zM1334.9 841.7l1.1 -1.4l0.8 -0.2l1.6 1.6zM1330.5 841.7l1.5 -3.5l1.1 -0.7l2.1 4.2zM1248.8 840.5h1.5v1.2h-1.5zM964.8 841.7l1.9 -2.0l1.4 -0.4l2.8 2.4zM923.7 840.5h2.2v1.2h-2.2zM984.1 841.7l1.9 -1.1l1.3 -0.2l2.7 1.3zM1041.4 841.7l1.8 -2.6l1.3 -0.5l2.5 3.2zM1342.2 841.7l2.2 -2.0l1.6 -0.4l3.1 2.3zM1047.1 841.7l1.1 -1.8l0.8 -0.3l1.6 2.1zM953.5 841.7l2.0 -1.1l1.5 -0.2l2.9 1.3zM1336.8 841.7l1.3 -1.5l1.0 -0.2l1.9 1.7zM1021.8 841.7l1.5 -1.9l1.1 -0.3l2.1 2.2zM1386.2 841.7l1.3 -2.4l1.0 -0.5l1.9 2.9zM1150.5 841.7l2.2 -1.5l1.6 -0.3l3.1 1.8zM943.5 841.7l1.2 -2.9l0.9 -0.6l1.8 3.5zM1059.5 840.5h2.1v1.2h-2.1zM1016.6 841.7l1.7 -0.9l1.2 -0.1l2.5 1.0zM908.8 841.7l1.6 -1.0l1.1 -0.1l2.3 1.1zM1134.7 841.7l1.1 -2.0l0.8 -0.4l1.5 2.3zM983.9 841.7l2.2 -2.8l1.6 -0.6l3.2 3.3zM936.6 840.5h3.7v1.2h-3.7zM1387.7 841.7l2.2 -1.3l1.6 -0.2l3.1 1.5zM1168.6 841.7l0.9 -3.4l0.6 -0.7l1.3 4.1zM854.3 841.7l1.5 -3.1l1.1 -0.6l2.1 3.7zM902.1 841.7l0.8 -2.8l0.6 -0.6l1.2 3.4zM947.7 841.7l1.9 -2.6l1.3 -0.5l2.7 3.2zM1123.3 841.7l1.7 -2.1l1.2 -0.4l2.4 2.4zM984.2 841.7l1.7 -1.1l1.2 -0.2l2.4 1.3zM969.5 841.7l2.1 -2.9l1.5 -0.6l3.0 3.4zM1187.9 840.5h2.2v1.2h-2.2zM1164.7 841.7l1.4 -1.4l1.0 -0.2l2.0 1.7zM852.7 841.7l1.4 -1.3l1.0 -0.2l1.9 1.5zM903.9 841.7l1.9 -3.9l1.4 -0.8l2.7 4.7zM1373.0 840.5h3.2v1.2h-3.2zM1237.9 840.5h3.0v1.2h-3.0zM1237.8 841.7l1.6 -2.0l1.1 -0.4l2.3 2.4zM981.2 841.7l1.3 -0.9l0.9 -0.1l1.8 1.0zM1116.7 841.7l1.1 -1.4l0.8 -0.2l1.6 1.6zM873.7 841.7l1.3 -3.9l1.0 -0.8l1.9 4.7zM1327.9 841.7l1.1 -3.4l0.8 -0.7l1.5 4.1zM947.1 840.5h1.5v1.2h-1.5zM963.0 841.7l1.8 -2.1l1.3 -0.4l2.6 2.5zM936.8 841.7l1.7 -1.7l1.2 -0.3l2.5 2.0zM1237.7 841.7l1.9 -2.4l1.4 -0.5l2.7 2.8zM892.0 840.5h3.3v1.2h-3.3zM1086.4 841.7l1.9 -2.5l1.3 -0.5l2.7 3.0zM1265.2 841.7l1.4 -2.5l1.0 -0.5l2.1 3.0zM1335.7 841.7l1.5 -2.3l1.1 -0.5l2.2 2.8zM1293.9 841.7l1.3 -1.1l0.9 -0.2l1.9 1.3zM1168.1 841.7l1.1 -3.8l0.8 -0.8l1.6 4.7zM1003.4 840.5h3.1v1.2h-3.1zM1103.7 841.7l1.3 -1.6l1.0 -0.3l1.9 1.8zM1043.7 841.7l1.1 -1.9l0.8 -0.4l1.5 2.3zM1106.7 840.5h2.8v1.2h-2.8zM1114.3 841.7l1.3 -1.3l0.9 -0.2l1.8 1.5zM1282.5 840.5h2.8v1.2h-2.8zM1371.0 841.7l1.4 -1.2l1.0 -0.2l2.0 1.4z" fill="#0b6b3a"/>
<line x1="844.4" y1="897.6" x2="1395.0" y2="897.6" stroke="#ebb4b4" stroke-width="1.5"/>
<path d="M884.0 898.1L884.0 897.6L885.5 897.2L887.0 896.8L888.5 896.3L890.0 896.0L891.3 895.8L892.6 896.1L893.9 896.0L895.3 896.0L896.6 896.0L897.9 896.0L899.2 896.2L900.5 896.1L901.8 896.2L903.2 896.1L904.5 896.1L905.8 896.1L907.1 895.9L908.4 896.0L909.7 896.2L911.1 896.2L912.4 896.0L913.7 896.1L915.0 896.1L916.7 896.6L918.3 897.2L920.0 897.6L920.0 898.1ZM1330.0 898.1L1330.0 897.6L1331.4 897.3L1332.9 896.9L1334.3 896.6L1335.7 896.3L1337.1 896.1L1338.6 895.8L1340.0 895.4L1341.7 895.3L1343.3 894.7L1345.0 894.6L1346.4 894.7L1347.8 895.1L1349.2 895.3L1350.6 895.7L1352.0 895.8L1353.3 895.5L1354.7 895.8L1356.0 895.5L1357.3 895.5L1358.7 895.1L1360.0 895.2L1361.3 895.2L1362.7 895.7L1364.0 895.9L1365.3 896.4L1366.7 896.4L1368.0 896.8L1369.3 897.0L1370.7 897.4L1372.0 897.6L1372.0 898.1ZM1280.0 898.1L1280.0 897.6L1281.3 896.8L1282.7 895.8L1284.0 895.0L1285.3 895.3L1286.7 895.4L1288.0 895.2L1289.3 895.0L1290.7 894.9L1292.0 895.2L1293.3 895.6L1294.7 895.6L1296.0 895.7L1297.3 896.0L1298.7 896.3L1300.0 896.6L1301.3 896.8L1302.7 897.0L1304.0 897.1L1305.3 897.3L1306.7 897.4L1308.0 897.6L1308.0 898.1ZM1228.9 896.9h3.1v1.2h-3.1zM956.9 898.1l2.1 -1.2l1.5 -0.2l3.0 1.3zM1332.3 896.9h3.8v1.2h-3.8zM920.8 896.9h2.2v1.2h-2.2zM1057.7 896.9h2.4v1.2h-2.4zM1168.9 898.1l1.5 -1.3l1.0 -0.2l2.1 1.4zM1347.2 898.1l1.9 -1.1l1.3 -0.2l2.7 1.3zM1303.6 896.9h3.4v1.2h-3.4zM1108.4 896.9h3.2v1.2h-3.2zM1231.2 896.9h3.3v1.2h-3.3zM1367.1 896.9h3.9v1.2h-3.9zM1075.4 898.1l1.4 -1.6l1.0 -0.3l2.0 1.8zM1091.8 898.1l1.3 -1.1l0.9 -0.2l1.8 1.3zM970.4 898.1l1.3 -1.1l0.9 -0.2l1.9 1.3zM858.4 896.9h3.7v1.2h-3.7zM1247.3 896.9h2.8v1.2h-2.8zM1172.9 896.9h3.6v1.2h-3.6zM1375.1 898.1l1.9 -1.1l1.4 -0.2l2.8 1.3zM1066.0 896.9h3.2v1.2h-3.2zM1321.9 898.1l1.1 -1.2l0.8 -0.2l1.5 1.4zM1388.1 898.1l1.8 -1.5l1.3 -0.3l2.6 1.8zM961.7 896.9h1.8v1.2h-1.8zM1270.1 898.1l2.2 -1.0l1.6 -0.1l3.2 1.1zM939.7 896.9h2.2v1.2h-2.2zM1307.6 898.1l1.9 -1.3l1.3 -0.2l2.7 1.5zM1115.9 896.9h2.5v1.2h-2.5zM904.5 898.1l1.7 -1.2l1.2 -0.2l2.4 1.4zM1138.5 898.1l1.0 -1.5l0.7 -0.2l1.5 1.7zM1188.8 896.9h2.1v1.2h-2.1zM1198.7 898.1l2.1 -0.9l1.5 -0.1l2.9 1.0zM967.4 896.9h2.4v1.2h-2.4zM1005.0 898.1l1.3 -1.1l0.9 -0.2l1.9 1.3zM1062.2 898.1l0.9 -1.3l0.7 -0.2l1.4 1.5zM1202.4 896.9h2.5v1.2h-2.5zM1085.6 896.9h1.8v1.2h-1.8zM1237.9 896.9h2.1v1.2h-2.1zM952.4 898.1l1.8 -1.1l1.3 -0.1l2.6 1.2zM1176.9 896.9h2.6v1.2h-2.6zM1071.7 896.9h3.4v1.2h-3.4zM1063.0 898.1l1.5 -1.4l1.1 -0.2l2.2 1.6zM975.1 898.1l0.9 -1.5l0.7 -0.2l1.3 1.7zM1035.3 896.9h1.8v1.2h-1.8zM1193.9 896.9h3.9v1.2h-3.9zM1343.3 896.9h2.0v1.2h-2.0zM1207.9 898.1l1.2 -1.2l0.8 -0.2l1.7 1.4zM1025.7 898.1l2.1 -1.7l1.5 -0.3l3.1 2.0zM1040.7 898.1l2.2 -1.2l1.6 -0.2l3.1 1.4zM1203.8 896.9h3.8v1.2h-3.8zM1160.3 898.1l2.1 -1.1l1.5 -0.2l3.0 1.3zM873.9 896.9h1.7v1.2h-1.7zM993.6 898.1l1.8 -1.6l1.3 -0.3l2.6 1.9zM1041.2 898.1l1.5 -1.0l1.0 -0.1l2.1 1.2zM1111.1 896.9h3.8v1.2h-3.8zM1253.6 896.9h3.0v1.2h-3.0zM1357.3 896.9h1.8v1.2h-1.8zM870.0 898.1l1.4 -0.9l1.0 -0.1l1.9 1.1zM1142.7 898.1l1.4 -1.2l1.0 -0.2l2.1 1.3zM1174.7 898.1l1.6 -1.0l1.2 -0.1l2.3 1.2zM1127.4 896.9h2.2v1.2h-2.2zM1212.5 898.1l1.0 -1.6l0.7 -0.3l1.4 1.9zM872.9 896.9h3.9v1.2h-3.9zM1326.5 896.9h3.0v1.2h-3.0zM882.8 898.1l0.9 -1.3l0.7 -0.2l1.3 1.6zM1360.9 896.9h2.3v1.2h-2.3zM1031.9 896.9h2.4v1.2h-2.4zM960.0 896.9h2.7v1.2h-2.7zM1298.6 898.1l1.6 -1.3l1.1 -0.2l2.3 1.5zM911.1 896.9h2.1v1.2h-2.1zM1095.5 898.1l1.1 -1.5l0.8 -0.2l1.6 1.7zM1136.4 896.9h2.6v1.2h-2.6zM879.9 898.1l2.1 -1.5l1.5 -0.3l3.0 1.8zM961.0 898.1l1.5 -1.5l1.1 -0.2l2.1 1.7zM1314.6 896.9h1.6v1.2h-1.6zM1385.1 896.9h1.6v1.2h-1.6zM965.5 896.9h3.6v1.2h-3.6zM1373.8 896.9h1.8v1.2h-1.8zM906.5 898.1l1.5 -1.7l1.1 -0.3l2.1 2.0zM916.0 896.9h2.8v1.2h-2.8zM1185.0 898.1l1.9 -0.9l1.4 -0.1l2.7 1.0zM1086.5 898.1l1.8 -1.4l1.3 -0.2l2.6 1.6zM1176.2 896.9h2.3v1.2h-2.3zM993.6 898.1l2.1 -1.5l1.5 -0.2l2.9 1.7z" fill="#990000"/>
<line x1="844.4" y1="938.6" x2="1395.0" y2="938.6" stroke="#b4b4f0" stroke-width="1.1"/>
<path d="M1206.1 939.1L1206.1 937.2L1207.5 930.9L1209.0 925.3L1211.4 909.5L1214.0 919.4L1215.5 923.7L1217.0 929.3L1218.9 936.2L1221.3 925.3L1222.9 927.5L1224.5 927.3L1226.8 936.2L1228.5 918.6L1229.8 916.4L1231.3 919.2L1232.9 918.8L1234.4 916.4L1236.7 926.3L1238.0 926.1L1239.4 926.3L1240.7 925.3L1242.2 928.1L1243.7 933.3L1245.7 934.3L1247.6 934.2L1249.6 924.4L1251.1 921.4L1252.6 919.4L1254.5 912.5L1256.3 910.3L1258.1 905.2L1260.5 915.4L1262.9 933.3L1264.7 933.9L1266.4 933.6L1268.0 937.6L1269.4 934.1L1270.8 931.3L1272.3 932.0L1273.8 933.7L1275.3 934.8L1276.8 933.8L1278.4 933.3L1279.9 931.7L1281.3 933.7L1282.8 935.8L1284.2 938.1L1284.2 939.1ZM1330.7 939.1L1330.7 938.6L1332.2 936.9L1333.7 935.2L1335.2 933.5L1336.7 932.3L1338.3 933.3L1340.0 933.3L1341.2 919.4L1343.2 911.1L1345.2 923.4L1347.5 929.3L1349.0 921.7L1350.5 917.4L1352.7 902.6L1355.1 917.4L1357.4 921.4L1359.4 932.3L1361.8 915.4L1364.0 902.6L1366.3 919.4L1367.6 924.1L1368.9 925.3L1371.3 932.3L1373.3 929.3L1374.8 933.2L1376.2 936.2L1377.7 934.2L1379.2 931.9L1380.7 930.0L1382.2 928.3L1384.2 930.1L1386.1 932.3L1387.6 932.5L1389.1 933.4L1390.6 934.3L1392.1 934.2L1393.5 935.6L1395.0 936.6L1395.0 939.1ZM1122.0 939.1L1122.0 938.6L1123.5 933.3L1124.9 928.3L1126.5 932.1L1128.0 936.6L1129.6 935.6L1131.3 934.3L1132.9 933.3L1134.5 935.7L1136.0 938.6L1136.0 939.1ZM1143.0 939.1L1143.0 938.6L1144.3 935.9L1145.7 933.3L1147.1 933.8L1148.6 934.3L1150.0 934.6L1151.6 931.6L1153.2 926.9L1154.6 932.0L1156.0 936.6L1158.0 938.6L1158.0 939.1ZM1302.0 939.1L1302.0 938.6L1303.7 936.7L1305.3 935.3L1307.0 933.6L1309.0 936.6L1310.5 935.1L1311.9 933.6L1313.3 935.1L1314.6 937.1L1316.0 938.6L1316.0 939.1ZM939.0 939.1L939.0 938.6L941.5 931.6L943.0 929.6L945.5 932.6L948.0 935.6L950.0 938.6L950.0 939.1ZM1034.0 939.1L1034.0 938.6L1036.0 934.6L1037.5 930.6L1039.5 935.6L1041.0 938.6L1041.0 939.1ZM1056.0 939.1L1056.0 938.6L1057.5 936.1L1059.0 933.6L1061.0 936.6L1063.5 933.1L1066.0 938.6L1066.0 939.1ZM892.0 939.1L892.0 938.6L894.5 933.1L897.0 938.6L897.0 939.1ZM902.0 939.1L902.0 938.6L904.5 933.6L906.2 935.3L908.0 936.6L910.0 938.6L910.0 939.1ZM976.0 939.1L976.0 938.6L978.5 933.6L981.0 938.6L981.0 939.1ZM1129.8 939.1l2.0 -1.4l1.4 -0.2l2.8 1.7zM1256.8 939.1l2.2 -1.0l1.6 -0.1l3.2 1.2zM1152.6 939.1l1.1 -1.1l0.8 -0.1l1.5 1.2zM850.7 939.1l1.7 -1.0l1.2 -0.1l2.4 1.1zM992.5 937.9h2.7v1.2h-2.7zM914.7 937.9h2.7v1.2h-2.7zM1237.4 939.1l1.8 -1.0l1.3 -0.1l2.6 1.1zM1018.9 937.9h3.5v1.2h-3.5zM1196.4 939.1l1.9 -1.9l1.3 -0.3l2.7 2.2zM1124.9 937.9h1.9v1.2h-1.9zM1139.5 939.1l0.9 -1.9l0.6 -0.3l1.3 2.2zM1243.0 939.1l1.7 -2.9l1.2 -0.6l2.4 3.4zM1328.6 937.9h3.4v1.2h-3.4zM855.8 939.1l1.9 -1.5l1.3 -0.2l2.7 1.7zM1274.8 939.1l1.4 -2.9l1.0 -0.6l2.0 3.5zM867.7 939.1l2.2 -2.2l1.6 -0.4l3.2 2.6zM1359.0 939.1l0.9 -2.7l0.6 -0.5l1.2 3.2zM1216.3 939.1l1.3 -2.9l0.9 -0.6l1.8 3.5zM1180.9 939.1l1.4 -1.7l1.0 -0.3l2.0 2.0zM1347.9 937.9h1.9v1.2h-1.9zM1251.7 939.1l1.5 -2.3l1.1 -0.4l2.2 2.7zM1320.5 937.9h2.1v1.2h-2.1zM864.5 939.1l1.3 -2.5l0.9 -0.5l1.8 3.1zM1176.3 939.1l1.6 -1.3l1.1 -0.2l2.3 1.6zM993.4 937.9h3.5v1.2h-3.5zM1087.9 937.9h2.9v1.2h-2.9zM868.8 939.1l1.3 -2.2l0.9 -0.4l1.9 2.6zM1022.5 937.9h1.6v1.2h-1.6zM1241.5 939.1l2.0 -1.9l1.4 -0.4l2.8 2.3zM1103.1 937.9h2.5v1.2h-2.5zM1136.0 939.1l1.3 -2.5l0.9 -0.5l1.8 2.9zM1102.0 937.9h1.6v1.2h-1.6zM1370.5 939.1l1.9 -2.6l1.4 -0.5l2.8 3.1zM849.6 939.1l1.0 -2.8l0.7 -0.6l1.5 3.4zM1340.4 939.1l0.9 -1.1l0.6 -0.1l1.2 1.2zM1259.4 937.9h3.6v1.2h-3.6zM916.4 939.1l0.9 -2.5l0.6 -0.5l1.3 3.0zM910.5 939.1l1.7 -2.0l1.2 -0.4l2.4 2.4zM1239.9 937.9h2.9v1.2h-2.9zM1307.6 939.1l2.0 -2.4l1.5 -0.5l2.9 2.9zM1223.9 939.1l1.6 -2.5l1.1 -0.5l2.2 3.0zM1103.9 937.9h3.5v1.2h-3.5zM946.3 937.9h3.6v1.2h-3.6zM973.7 937.9h3.5v1.2h-3.5zM1380.9 937.9h1.6v1.2h-1.6zM1120.6 939.1l1.8 -1.6l1.3 -0.3l2.5 1.9zM1179.1 939.1l1.0 -1.4l0.7 -0.2l1.4 1.6zM1038.4 939.1l2.2 -1.3l1.6 -0.2l3.2 1.5zM1116.1 937.9h3.1v1.2h-3.1zM1182.2 939.1l1.0 -1.9l0.7 -0.4l1.4 2.3zM967.1 937.9h2.6v1.2h-2.6zM1008.4 939.1l1.0 -2.8l0.7 -0.6l1.4 3.3zM875.7 939.1l0.9 -2.2l0.7 -0.4l1.3 2.6zM871.7 937.9h2.5v1.2h-2.5zM1118.4 937.9h3.4v1.2h-3.4zM1350.9 937.9h2.6v1.2h-2.6zM1054.9 937.9h2.9v1.2h-2.9zM1310.1 937.9h1.9v1.2h-1.9zM887.2 939.1l2.2 -1.1l1.6 -0.2l3.2 1.3zM1193.9 937.9h3.9v1.2h-3.9zM959.4 939.1l1.7 -1.3l1.2 -0.2l2.4 1.4zM1375.0 939.1l1.3 -2.7l0.9 -0.5l1.9 3.2zM1366.9 939.1l2.0 -1.7l1.4 -0.3l2.8 2.0zM1011.3 939.1l1.9 -1.8l1.3 -0.3l2.6 2.1zM1386.1 939.1l1.7 -2.6l1.2 -0.5l2.4 3.1zM886.8 939.1l1.0 -2.1l0.7 -0.4l1.4 2.5zM1352.3 939.1l2.1 -3.0l1.5 -0.6l2.9 3.6zM899.5 939.1l1.7 -1.7l1.2 -0.3l2.5 2.0zM1271.0 939.1l1.0 -2.6l0.7 -0.5l1.5 3.2zM952.9 937.9h4.0v1.2h-4.0zM1109.2 937.9h3.7v1.2h-3.7zM945.0 939.1l1.8 -1.0l1.3 -0.1l2.5 1.1zM1029.9 939.1l1.4 -2.2l1.0 -0.4l2.0 2.6zM1161.5 939.1l1.4 -1.5l1.0 -0.3l2.0 1.8zM1375.8 939.1l1.2 -2.5l0.9 -0.5l1.8 3.0zM1145.5 939.1l1.2 -1.7l0.8 -0.3l1.7 2.0zM929.6 939.1l1.7 -1.2l1.2 -0.2l2.4 1.4zM1300.0 939.1l1.5 -1.5l1.1 -0.3l2.2 1.8zM1097.4 937.9h2.3v1.2h-2.3zM1264.6 939.1l1.0 -1.8l0.7 -0.3l1.4 2.2zM1327.8 939.1l2.0 -2.7l1.5 -0.6l2.9 3.3zM1256.3 939.1l1.2 -1.0l0.9 -0.1l1.7 1.1zM1047.3 939.1l0.9 -1.2l0.7 -0.2l1.3 1.3zM948.2 939.1l2.0 -2.0l1.4 -0.4l2.9 2.4zM881.5 937.9h2.1v1.2h-2.1zM1297.0 937.9h2.2v1.2h-2.2zM1177.6 939.1l1.6 -2.1l1.2 -0.4l2.4 2.6zM1166.9 939.1l1.6 -2.4l1.2 -0.5l2.3 2.9zM1191.4 939.1l2.1 -1.2l1.5 -0.2l2.9 1.4zM1351.8 939.1l1.7 -1.6l1.2 -0.3l2.4 1.8zM1328.0 937.9h2.4v1.2h-2.4zM1025.8 939.1l1.9 -1.7l1.4 -0.3l2.8 2.0zM1164.6 939.1l1.9 -1.6l1.4 -0.3l2.8 1.9zM1038.4 939.1l1.9 -1.9l1.4 -0.4l2.7 2.3zM1100.5 937.9h1.5v1.2h-1.5zM1179.4 939.1l1.8 -2.1l1.3 -0.4l2.6 2.5zM900.2 939.1l1.7 -1.4l1.2 -0.2l2.5 1.7zM1232.4 939.1l1.0 -3.0l0.7 -0.6l1.4 3.6zM960.9 939.1l0.9 -1.9l0.6 -0.4l1.3 2.3zM1085.4 937.9h3.1v1.2h-3.1zM1190.3 937.9h1.9v1.2h-1.9zM1028.4 939.1l1.5 -0.9l1.1 -0.1l2.2 1.0zM1165.2 939.1l0.9 -1.0l0.6 -0.1l1.2 1.1zM876.0 939.1l1.1 -2.6l0.8 -0.5l1.6 3.1zM1358.8 939.1l1.1 -1.2l0.8 -0.2l1.5 1.4zM1156.6 937.9h2.1v1.2h-2.1zM1166.3 939.1l1.0 -1.0l0.7 -0.1l1.4 1.2zM1201.8 937.9h3.9v1.2h-3.9zM949.9 937.9h2.2v1.2h-2.2zM1282.9 939.1l2.0 -2.7l1.4 -0.6l2.8 3.3zM965.3 939.1l1.6 -1.1l1.1 -0.2l2.3 1.3zM1130.3 939.1l1.9 -2.9l1.4 -0.6l2.8 3.5zM1120.7 937.9h4.0v1.2h-4.0zM1384.8 939.1l1.9 -2.5l1.4 -0.5l2.7 3.0zM1251.8 939.1l1.9 -3.0l1.4 -0.6l2.7 3.6zM1160.2 939.1l1.7 -1.5l1.2 -0.3l2.4 1.8zM871.9 939.1l1.0 -1.8l0.7 -0.3l1.4 2.1zM1320.4 937.9h2.2v1.2h-2.2zM1253.1 937.9h2.0v1.2h-2.0zM1113.1 937.9h3.9v1.2h-3.9zM891.3 937.9h1.9v1.2h-1.9zM1277.3 939.1l2.0 -1.9l1.4 -0.3l2.9 2.2zM1119.5 939.1l2.0 -1.2l1.4 -0.2l2.9 1.4zM1045.0 939.1l1.7 -2.5l1.2 -0.5l2.4 3.0zM902.2 937.9h2.7v1.2h-2.7zM1026.2 939.1l0.9 -3.1l0.6 -0.7l1.3 3.8zM1107.4 937.9h2.3v1.2h-2.3zM1215.1 939.1l1.1 -1.1l0.8 -0.1l1.6 1.2zM882.7 939.1l1.8 -1.7l1.3 -0.3l2.5 2.0zM1147.4 939.1l1.0 -1.0l0.7 -0.1l1.4 1.1zM939.1 939.1l1.4 -2.7l1.0 -0.5l2.0 3.2zM1176.0 937.9h2.1v1.2h-2.1zM879.4 939.1l1.2 -3.2l0.9 -0.7l1.7 3.8zM1080.2 937.9h2.6v1.2h-2.6zM1375.8 939.1l0.8 -1.1l0.6 -0.1l1.2 1.2zM1066.8 939.1l1.3 -1.7l0.9 -0.3l1.9 2.0zM863.5 939.1l1.4 -2.0l1.0 -0.4l2.1 2.3zM1333.7 939.1l1.7 -3.1l1.2 -0.7l2.4 3.8zM1260.5 939.1l0.9 -2.2l0.7 -0.4l1.4 2.6zM1170.4 939.1l1.9 -2.3l1.4 -0.4l2.8 2.7zM1162.3 939.1l2.0 -2.2l1.4 -0.4l2.8 2.6zM1295.7 937.9h4.0v1.2h-4.0zM1327.0 937.9h2.2v1.2h-2.2zM890.8 939.1l1.0 -1.5l0.7 -0.2l1.5 1.7zM1085.2 937.9h3.0v1.2h-3.0zM1016.5 937.9h1.5v1.2h-1.5zM1335.7 939.1l1.7 -1.1l1.2 -0.1l2.5 1.2zM884.0 937.9h2.8v1.2h-2.8zM1191.8 939.1l1.2 -2.9l0.9 -0.6l1.7 3.5zM1324.7 937.9h2.4v1.2h-2.4zM1158.1 937.9h3.2v1.2h-3.2zM1277.9 939.1l1.7 -2.5l1.2 -0.5l2.4 3.0zM1025.7 937.9h2.6v1.2h-2.6zM1186.6 937.9h2.3v1.2h-2.3zM1311.3 939.1l2.1 -1.7l1.5 -0.3l3.0 2.0zM905.9 939.1l1.2 -1.4l0.8 -0.2l1.7 1.7zM1191.7 939.1l1.7 -3.1l1.2 -0.6l2.5 3.7zM1367.2 939.1l1.1 -2.3l0.8 -0.4l1.6 2.7zM1299.5 937.9h3.2v1.2h-3.2zM1345.0 937.9h3.4v1.2h-3.4zM1312.6 937.9h3.0v1.2h-3.0zM1120.7 939.1l1.3 -1.2l0.9 -0.2l1.8 1.4zM893.0 939.1l2.0 -1.5l1.5 -0.2l2.9 1.7zM1274.0 937.9h3.0v1.2h-3.0zM1033.2 939.1l2.0 -2.8l1.4 -0.6l2.8 3.3z" fill="#0000b4"/>
<line x1="844.4" y1="979.3" x2="1395.0" y2="979.3" stroke="#b4dcc6" stroke-width="1.1"/>
<path d="M1196.2 979.8L1196.2 978.8L1197.7 977.5L1199.2 976.2L1200.6 975.2L1202.1 973.2L1203.8 972.5L1205.4 972.3L1207.1 970.8L1209.4 958.9L1211.6 948.0L1214.0 953.0L1216.0 967.8L1217.5 969.7L1218.9 972.8L1220.9 977.7L1222.4 977.2L1223.8 976.7L1225.3 976.5L1226.8 975.7L1228.3 973.8L1229.8 970.8L1231.1 968.6L1232.4 964.5L1234.8 969.8L1236.1 972.1L1237.4 973.7L1238.7 974.7L1240.5 973.5L1242.3 971.8L1244.7 974.7L1246.3 972.3L1248.0 970.1L1249.6 967.8L1250.9 963.7L1252.2 958.9L1253.8 955.9L1255.5 953.0L1258.1 947.0L1260.5 955.0L1262.5 953.0L1264.0 959.5L1265.4 960.9L1266.9 964.2L1268.4 966.8L1270.8 963.9L1273.3 967.8L1274.8 968.9L1276.3 970.8L1277.8 971.4L1279.3 969.8L1281.3 976.7L1282.8 976.0L1284.2 975.1L1285.7 974.4L1287.2 974.3L1288.6 974.7L1289.9 976.2L1291.3 977.1L1292.6 978.0L1294.0 978.7L1294.0 979.8ZM1335.0 979.8L1335.0 978.8L1336.3 978.6L1337.7 978.1L1339.0 977.8L1340.0 973.2L1341.5 975.0L1343.0 976.7L1344.5 976.9L1346.0 976.3L1347.5 976.1L1349.0 976.3L1350.5 974.5L1352.0 973.2L1353.5 971.4L1354.8 972.7L1356.1 974.0L1357.4 974.3L1358.9 974.0L1360.3 972.2L1361.8 972.4L1363.5 972.8L1365.3 974.3L1366.6 973.4L1368.0 970.6L1369.3 969.8L1370.6 972.4L1372.0 973.6L1373.3 974.7L1375.2 975.1L1377.0 975.3L1378.4 975.0L1379.8 973.5L1381.3 972.7L1382.7 972.0L1384.1 971.8L1385.7 972.9L1387.4 974.2L1389.0 975.7L1390.7 974.8L1392.3 974.4L1394.0 974.3L1395.0 979.3L1395.0 979.8ZM1121.0 979.8L1121.0 979.3L1122.5 975.9L1124.0 972.8L1125.5 973.4L1127.0 975.3L1128.3 975.4L1129.6 974.4L1130.9 973.8L1132.5 976.3L1134.0 978.8L1134.0 979.8ZM1137.0 979.8L1137.0 979.3L1138.5 978.8L1140.0 978.4L1141.5 977.8L1143.0 977.3L1144.5 976.8L1146.0 976.2L1147.5 975.8L1149.7 971.4L1152.0 976.3L1153.3 976.8L1154.7 977.6L1156.0 978.3L1158.0 979.3L1158.0 979.8ZM1299.0 979.8L1299.0 979.3L1300.3 978.2L1301.7 977.5L1303.0 976.3L1304.3 975.3L1305.7 974.9L1307.0 974.3L1308.3 974.8L1309.7 975.6L1311.0 976.8L1312.5 977.3L1314.0 977.9L1315.5 978.7L1317.0 979.3L1317.0 979.8ZM932.0 979.8L932.0 979.3L933.3 978.1L934.7 976.7L936.0 975.3L938.5 972.8L941.0 975.8L942.7 976.3L944.3 976.8L946.0 977.3L948.0 979.3L948.0 979.8ZM1219.8 979.8l0.9 -1.7l0.6 -0.3l1.3 1.9zM917.8 978.6h2.4v1.2h-2.4zM1037.3 978.6h2.0v1.2h-2.0zM956.6 979.8l1.3 -1.5l0.9 -0.2l1.8 1.7zM1306.7 978.6h3.3v1.2h-3.3zM1041.2 979.8l1.2 -2.3l0.8 -0.4l1.7 2.7zM1353.6 978.6h1.9v1.2h-1.9zM1332.9 979.8l1.9 -1.2l1.4 -0.2l2.7 1.4zM1083.1 979.8l2.1 -2.7l1.5 -0.6l3.0 3.3zM1290.6 979.8l2.1 -1.4l1.5 -0.2l3.1 1.6zM926.6 979.8l1.1 -2.4l0.8 -0.5l1.5 2.9zM1207.1 978.6h2.5v1.2h-2.5zM993.0 978.6h2.8v1.2h-2.8zM1323.1 978.6h2.0v1.2h-2.0zM1286.5 978.6h1.8v1.2h-1.8zM868.3 979.8l2.2 -1.9l1.6 -0.4l3.1 2.3zM1218.9 979.8l1.8 -1.0l1.3 -0.1l2.6 1.2zM1253.8 979.8l1.7 -1.8l1.2 -0.3l2.5 2.1zM925.1 979.8l1.8 -3.1l1.3 -0.6l2.6 3.7zM1058.8 979.8l2.1 -2.7l1.5 -0.5l3.0 3.2zM1058.1 979.8l1.1 -1.1l0.8 -0.2l1.5 1.3zM1361.5 979.8l1.8 -1.2l1.3 -0.2l2.5 1.4zM960.2 979.8l2.2 -2.1l1.5 -0.4l3.1 2.5zM1318.7 978.6h1.7v1.2h-1.7zM1197.8 978.6h2.6v1.2h-2.6zM1070.2 979.8l1.9 -2.8l1.3 -0.6l2.7 3.4zM909.2 979.8l1.7 -1.5l1.2 -0.2l2.5 1.7zM977.6 979.8l0.9 -1.6l0.7 -0.3l1.3 1.8zM1242.7 979.8l2.1 -1.1l1.5 -0.1l3.0 1.2zM1342.2 978.6h1.6v1.2h-1.6zM1203.3 979.8l1.9 -1.2l1.3 -0.2l2.7 1.4zM1015.6 979.8l2.0 -1.1l1.4 -0.2l2.8 1.3zM1173.8 978.6h1.8v1.2h-1.8zM1234.2 978.6h3.8v1.2h-3.8zM1304.1 978.6h2.0v1.2h-2.0zM855.2 979.8l1.8 -1.4l1.3 -0.2l2.6 1.7zM892.1 979.8l1.4 -1.2l1.0 -0.2l1.9 1.3zM1101.3 979.8l1.5 -1.1l1.1 -0.1l2.1 1.2zM1224.9 978.6h3.3v1.2h-3.3zM1105.7 979.8l1.7 -1.0l1.2 -0.1l2.4 1.2zM1337.1 979.8l0.9 -1.7l0.6 -0.3l1.2 2.0zM1230.4 979.8l1.7 -1.0l1.2 -0.1l2.5 1.1zM971.2 979.8l1.4 -1.2l1.0 -0.2l2.0 1.4zM1066.5 979.8l1.3 -2.7l0.9 -0.6l1.8 3.3zM1089.8 978.6h2.3v1.2h-2.3zM979.5 979.8l1.1 -1.1l0.8 -0.1l1.5 1.2zM1002.3 979.8l1.5 -1.0l1.1 -0.1l2.1 1.1zM1098.2 979.8l1.7 -1.1l1.2 -0.2l2.5 1.3zM1103.9 978.6h2.8v1.2h-2.8zM1201.8 978.6h4.0v1.2h-4.0zM1285.1 979.8l1.0 -1.5l0.7 -0.2l1.5 1.7zM961.6 979.8l2.1 -1.7l1.5 -0.3l2.9 2.0zM1088.6 979.8l1.7 -2.3l1.2 -0.5l2.4 2.8zM843.5 979.8l2.1 -3.0l1.5 -0.6l3.0 3.6zM1050.4 979.8l1.1 -2.3l0.8 -0.5l1.6 2.8zM1195.5 979.8l1.4 -1.1l1.0 -0.2l2.0 1.3zM1311.1 978.6h1.9v1.2h-1.9zM1154.9 979.8l0.9 -1.3l0.6 -0.2l1.2 1.5zM1215.1 978.6h2.8v1.2h-2.8zM1116.8 979.8l1.4 -1.3l1.0 -0.2l2.0 1.5zM1270.9 978.6h3.9v1.2h-3.9zM1038.2 978.6h2.3v1.2h-2.3zM1357.8 979.8l1.3 -1.2l0.9 -0.2l1.8 1.4zM900.4 979.8l1.8 -1.9l1.3 -0.4l2.6 2.3zM916.3 979.8l2.0 -1.0l1.4 -0.1l2.8 1.1zM1179.2 979.8l1.7 -1.7l1.2 -0.3l2.4 2.0zM936.2 979.8l1.8 -1.4l1.3 -0.2l2.6 1.6zM1391.5 978.6h1.9v1.2h-1.9zM1299.4 979.8l1.0 -1.2l0.7 -0.2l1.5 1.4zM1102.6 979.8l1.5 -1.7l1.0 -0.3l2.1 2.0zM1140.7 978.6h4.0v1.2h-4.0zM1046.3 979.8l1.3 -1.5l0.9 -0.2l1.8 1.7zM1360.5 978.6h3.1v1.2h-3.1zM1285.6 979.8l1.5 -1.4l1.1 -0.2l2.2 1.7zM1300.4 979.8l1.3 -1.2l0.9 -0.2l1.9 1.4zM1111.0 979.8l1.6 -1.0l1.2 -0.1l2.3 1.1zM1213.7 978.6h3.6v1.2h-3.6zM1320.0 978.6h3.4v1.2h-3.4zM932.6 979.8l1.9 -1.0l1.4 -0.1l2.7 1.1zM859.0 979.8l1.1 -3.0l0.8 -0.6l1.6 3.6zM1309.7 979.8l1.6 -1.0l1.1 -0.1l2.3 1.2zM1355.7 978.6h3.9v1.2h-3.9zM1247.8 979.8l1.5 -0.9l1.1 -0.1l2.2 1.0zM1287.2 978.6h2.1v1.2h-2.1zM1034.2 979.8l2.1 -2.0l1.5 -0.4l3.1 2.3zM1211.4 978.6h3.6v1.2h-3.6zM1378.9 979.8l1.3 -1.4l0.9 -0.2l1.8 1.6zM1274.1 978.6h2.9v1.2h-2.9zM1233.7 979.8l1.3 -1.0l0.9 -0.1l1.8 1.1zM1148.0 979.8l1.5 -1.1l1.0 -0.1l2.1 1.2zM1002.6 978.6h3.9v1.2h-3.9zM1358.2 978.6h2.0v1.2h-2.0zM1143.9 979.8l1.7 -1.4l1.2 -0.2l2.4 1.7zM1385.2 978.6h2.5v1.2h-2.5zM936.1 979.8l1.2 -2.2l0.8 -0.4l1.7 2.6zM974.7 979.8l1.1 -2.7l0.8 -0.6l1.5 3.3zM1025.1 979.8l1.2 -2.5l0.9 -0.5l1.7 3.0zM961.8 979.8l2.1 -2.6l1.5 -0.5l3.0 3.1zM1035.9 979.8l1.7 -1.9l1.2 -0.3l2.4 2.2zM1265.7 979.8l1.0 -1.2l0.7 -0.2l1.5 1.3zM1222.2 978.6h3.6v1.2h-3.6zM887.1 978.6h2.8v1.2h-2.8zM1294.5 978.6h2.5v1.2h-2.5zM925.9 979.8l1.3 -1.9l0.9 -0.4l1.8 2.3zM1017.0 978.6h2.1v1.2h-2.1zM933.6 978.6h2.0v1.2h-2.0zM1299.7 979.8l2.1 -0.9l1.5 -0.1l3.0 1.0zM1146.9 979.8l1.6 -0.9l1.2 -0.1l2.3 1.0zM1227.1 978.6h2.1v1.2h-2.1zM1192.5 979.8l1.5 -1.2l1.1 -0.2l2.2 1.3zM1080.8 979.8l1.0 -2.4l0.7 -0.5l1.5 2.9zM901.3 979.8l1.9 -1.8l1.4 -0.3l2.8 2.2zM1023.4 979.8l1.3 -2.9l0.9 -0.6l1.8 3.5zM980.9 979.8l1.6 -1.8l1.2 -0.3l2.3 2.1zM860.4 978.6h1.8v1.2h-1.8zM1035.8 978.6h3.4v1.2h-3.4zM1193.9 979.8l1.2 -1.0l0.9 -0.1l1.7 1.1zM927.7 979.8l1.5 -2.8l1.1 -0.6l2.1 3.4zM1004.2 979.8l1.6 -1.2l1.1 -0.2l2.3 1.4zM1331.9 979.8l1.2 -1.0l0.9 -0.1l1.7 1.1zM885.4 979.8l2.0 -2.5l1.4 -0.5l2.8 3.0zM1229.5 978.6h3.7v1.2h-3.7zM1112.4 979.8l0.9 -1.2l0.6 -0.2l1.3 1.4zM1121.8 979.8l2.0 -1.4l1.4 -0.2l2.8 1.6zM1280.6 978.6h2.1v1.2h-2.1zM1313.9 979.8l2.1 -1.6l1.5 -0.3l3.1 1.9zM1130.7 979.8l0.9 -1.6l0.6 -0.3l1.2 1.9zM1334.5 978.6h2.0v1.2h-2.0zM1077.4 979.8l1.2 -1.8l0.9 -0.3l1.7 2.1zM949.7 979.8l1.6 -2.4l1.2 -0.5l2.3 2.9zM1082.4 979.8l1.8 -2.2l1.3 -0.4l2.5 2.6zM1345.4 978.6h1.9v1.2h-1.9zM880.6 979.8l1.3 -1.8l0.9 -0.3l1.8 2.2zM868.0 979.8l1.7 -1.4l1.2 -0.2l2.4 1.7zM1344.9 978.6h2.4v1.2h-2.4zM1344.3 979.8l1.0 -1.2l0.7 -0.2l1.5 1.4zM1048.9 978.6h3.3v1.2h-3.3zM1214.3 978.6h1.6v1.2h-1.6zM1123.0 978.6h2.8v1.2h-2.8zM966.4 978.6h3.7v1.2h-3.7zM1182.9 979.8l1.7 -1.4l1.2 -0.2l2.5 1.7zM861.4 979.8l1.2 -3.0l0.8 -0.6l1.7 3.6zM860.7 978.6h1.7v1.2h-1.7zM1061.8 979.8l1.6 -1.9l1.1 -0.4l2.2 2.3zM1105.8 979.8l1.5 -1.7l1.1 -0.3l2.1 2.1zM1363.8 979.8l1.4 -1.2l1.0 -0.2l2.0 1.4zM1313.0 978.6h2.0v1.2h-2.0zM1340.6 978.6h2.7v1.2h-2.7zM1205.2 979.8l1.6 -1.6l1.2 -0.3l2.3 1.9zM1367.0 979.8l1.7 -1.2l1.2 -0.2l2.5 1.4zM1183.7 978.6h3.7v1.2h-3.7zM965.0 979.8l1.9 -2.7l1.3 -0.6l2.7 3.3zM1034.9 978.6h3.5v1.2h-3.5zM1212.4 979.8l1.1 -1.5l0.8 -0.2l1.6 1.7zM936.6 978.6h2.8v1.2h-2.8zM1258.6 978.6h1.8v1.2h-1.8zM1109.7 978.6h3.6v1.2h-3.6zM1385.2 979.8l1.2 -0.9l0.9 -0.1l1.8 1.1zM951.8 978.6h1.6v1.2h-1.6zM941.8 978.6h2.5v1.2h-2.5zM1295.2 979.8l2.0 -1.5l1.4 -0.3l2.9 1.8zM1192.6 979.8l2.2 -1.7l1.5 -0.3l3.1 2.1zM991.5 979.8l2.2 -1.1l1.6 -0.1l3.2 1.2zM1386.6 978.6h2.1v1.2h-2.1zM1283.3 978.6h3.9v1.2h-3.9zM955.7 979.8l1.7 -2.2l1.2 -0.4l2.4 2.7zM1098.3 979.8l1.2 -1.5l0.8 -0.3l1.7 1.8zM1232.7 978.6h3.4v1.2h-3.4zM1181.9 979.8l2.0 -1.2l1.4 -0.2l2.8 1.3zM1094.3 979.8l2.0 -1.8l1.4 -0.3l2.8 2.1zM1340.8 979.8l0.9 -1.1l0.7 -0.2l1.3 1.3zM1100.7 979.8l1.8 -1.6l1.3 -0.3l2.6 1.8zM932.7 979.8l1.9 -2.2l1.3 -0.4l2.7 2.6zM908.0 978.6h2.9v1.2h-2.9zM967.9 978.6h3.6v1.2h-3.6zM1348.7 979.8l1.2 -1.7l0.8 -0.3l1.7 2.0zM1370.8 978.6h3.4v1.2h-3.4zM1032.7 979.8l2.2 -1.4l1.6 -0.2l3.2 1.6zM1244.2 978.6h3.4v1.2h-3.4zM1065.6 979.8l0.9 -1.4l0.7 -0.2l1.3 1.7zM1385.1 978.6h1.5v1.2h-1.5zM976.8 979.8l1.9 -1.9l1.3 -0.4l2.7 2.3zM906.6 978.6h2.8v1.2h-2.8zM1351.3 978.6h1.9v1.2h-1.9zM1026.9 978.6h3.9v1.2h-3.9zM1349.1 978.6h3.2v1.2h-3.2zM1039.7 978.6h3.6v1.2h-3.6zM1000.9 978.6h2.1v1.2h-2.1zM1286.9 978.6h4.0v1.2h-4.0zM1157.0 979.8l2.0 -1.4l1.4 -0.2l2.8 1.7zM1259.0 979.8l1.0 -1.2l0.7 -0.2l1.5 1.4zM1321.4 978.6h2.4v1.2h-2.4zM1356.6 979.8l1.2 -1.3l0.9 -0.2l1.7 1.5zM1374.6 979.8l0.9 -1.2l0.7 -0.2l1.3 1.3zM1145.3 978.6h3.8v1.2h-3.8zM889.9 979.8l1.2 -1.4l0.8 -0.2l1.6 1.7zM1191.2 978.6h1.9v1.2h-1.9zM1293.3 979.8l1.5 -1.0l1.0 -0.1l2.1 1.2zM871.6 978.6h3.0v1.2h-3.0zM1005.7 979.8l1.2 -2.5l0.8 -0.5l1.7 3.0zM1329.3 979.8l0.9 -1.6l0.6 -0.3l1.2 1.9zM1102.0 978.6h3.1v1.2h-3.1zM1366.3 978.6h3.7v1.2h-3.7zM1079.2 979.8l1.8 -1.0l1.3 -0.1l2.6 1.2zM1017.9 978.6h1.6v1.2h-1.6zM869.1 979.8l1.1 -3.0l0.8 -0.6l1.5 3.6zM1232.9 978.6h3.8v1.2h-3.8zM960.1 978.6h2.0v1.2h-2.0zM1091.9 978.6h2.5v1.2h-2.5zM1094.1 979.8l1.9 -1.8l1.4 -0.3l2.7 2.1zM1306.1 978.6h3.6v1.2h-3.6zM1378.5 979.8l1.2 -1.7l0.9 -0.3l1.8 1.9zM1235.5 978.6h3.6v1.2h-3.6zM1141.6 978.6h1.9v1.2h-1.9zM1375.7 978.6h1.8v1.2h-1.8zM1332.8 979.8l0.9 -1.5l0.6 -0.3l1.2 1.8zM1250.5 979.8l2.0 -1.6l1.4 -0.3l2.9 1.9zM907.6 979.8l1.0 -2.6l0.7 -0.5l1.4 3.2zM925.2 979.8l2.0 -1.1l1.4 -0.2l2.9 1.3zM1096.9 979.8l0.9 -2.6l0.6 -0.5l1.2 3.1zM1343.8 979.8l2.1 -1.3l1.5 -0.2l3.1 1.4zM934.2 978.6h2.7v1.2h-2.7zM951.8 979.8l1.8 -1.8l1.3 -0.3l2.5 2.2zM1367.8 978.6h2.9v1.2h-2.9zM1375.8 979.8l1.2 -1.2l0.8 -0.2l1.7 1.3zM1321.1 978.6h3.3v1.2h-3.3zM1015.1 979.8l2.2 -2.0l1.6 -0.4l3.2 2.4zM1312.4 979.8l1.3 -1.0l0.9 -0.1l1.9 1.2zM930.5 979.8l1.2 -1.5l0.9 -0.3l1.7 1.8zM1319.5 978.6h2.4v1.2h-2.4zM1053.6 979.8l1.6 -2.6l1.2 -0.5l2.3 3.1zM911.9 978.6h2.0v1.2h-2.0zM1155.6 979.8l1.6 -1.1l1.1 -0.1l2.3 1.2zM1207.1 978.6h2.7v1.2h-2.7zM1369.4 979.8l2.0 -1.6l1.4 -0.3l2.9 1.9zM988.2 979.8l2.2 -3.0l1.6 -0.6l3.1 3.6zM844.8 978.6h2.2v1.2h-2.2zM1315.1 978.6h2.9v1.2h-2.9zM981.1 978.6h3.1v1.2h-3.1zM1310.2 979.8l1.9 -1.2l1.4 -0.2l2.7 1.4zM853.8 979.8l2.2 -1.0l1.6 -0.1l3.1 1.1zM1340.1 979.8l1.5 -1.0l1.1 -0.1l2.2 1.1zM1304.3 978.6h4.0v1.2h-4.0zM1256.9 979.8l1.5 -1.1l1.0 -0.2l2.1 1.3zM1190.9 979.8l1.5 -1.6l1.1 -0.3l2.1 1.9zM1130.2 978.6h3.7v1.2h-3.7zM1090.5 979.8l1.2 -1.2l0.8 -0.2l1.7 1.3zM1368.4 979.8l1.9 -1.7l1.4 -0.3l2.7 2.0zM1070.4 978.6h1.6v1.2h-1.6zM926.6 979.8l1.7 -1.7l1.2 -0.3l2.5 2.0zM1340.5 978.6h3.8v1.2h-3.8zM1346.0 979.8l1.8 -1.4l1.3 -0.2l2.5 1.6zM985.3 979.8l2.0 -1.3l1.4 -0.2l2.8 1.5zM1078.9 979.8l2.0 -2.4l1.4 -0.5l2.9 2.8zM1237.1 978.6h3.0v1.2h-3.0zM864.8 978.6h1.7v1.2h-1.7zM945.1 979.8l1.1 -1.1l0.8 -0.1l1.6 1.2zM1041.0 979.8l1.1 -1.2l0.8 -0.2l1.6 1.4zM945.2 979.8l1.1 -3.0l0.8 -0.6l1.6 3.6zM1379.9 978.6h2.9v1.2h-2.9zM1301.7 978.6h3.8v1.2h-3.8zM1093.8 978.6h2.2v1.2h-2.2zM1281.9 978.6h3.6v1.2h-3.6zM1317.5 979.8l1.7 -1.5l1.2 -0.2l2.5 1.7zM1248.7 979.8l2.1 -1.4l1.5 -0.2l3.0 1.6zM1365.6 978.6h3.9v1.2h-3.9zM1386.0 978.6h3.1v1.2h-3.1zM1311.2 979.8l1.0 -1.4l0.7 -0.2l1.4 1.6zM1303.5 978.6h3.3v1.2h-3.3zM1013.6 979.8l1.2 -2.5l0.9 -0.5l1.8 2.9zM897.1 979.8l1.3 -1.2l1.0 -0.2l1.9 1.4zM917.4 979.8l2.2 -3.0l1.6 -0.6l3.1 3.6zM1210.0 979.8l1.7 -1.4l1.2 -0.2l2.5 1.6zM1047.8 979.8l1.1 -1.3l0.8 -0.2l1.6 1.5zM853.9 979.8l1.6 -2.4l1.2 -0.5l2.3 2.8z" fill="#0b6b3a"/>
<line x1="844.4" y1="1037.5" x2="1395.0" y2="1037.5" stroke="#ebb4b4" stroke-width="1.1"/>
<path d="M1120.0 1038.0L1120.0 1036.5L1121.3 1036.3L1122.6 1036.2L1124.0 1035.9L1125.3 1035.8L1126.6 1035.6L1127.9 1035.4L1129.3 1035.3L1130.6 1035.1L1131.9 1035.1L1133.4 1034.7L1134.9 1034.8L1136.3 1034.8L1137.8 1034.2L1139.3 1034.4L1140.8 1034.1L1142.1 1033.4L1143.4 1032.4L1144.7 1030.6L1146.2 1030.7L1147.7 1032.2L1149.2 1032.1L1150.7 1030.6L1152.7 1032.0L1154.6 1034.5L1155.9 1035.4L1157.3 1036.1L1158.6 1037.1L1160.0 1037.0L1161.4 1036.9L1162.7 1036.8L1164.1 1036.7L1165.5 1036.5L1166.9 1036.4L1168.3 1036.3L1169.6 1036.3L1171.0 1035.9L1172.4 1035.9L1173.8 1036.2L1175.2 1035.9L1176.6 1036.2L1178.0 1036.3L1179.4 1036.2L1180.8 1036.2L1182.2 1036.4L1183.6 1036.6L1185.0 1036.5L1186.4 1036.6L1187.8 1036.5L1189.1 1036.5L1190.5 1036.7L1191.9 1036.6L1193.2 1036.7L1194.6 1036.7L1196.0 1036.6L1197.4 1036.7L1198.8 1036.7L1200.1 1036.8L1201.5 1036.8L1202.9 1036.8L1204.2 1036.8L1205.6 1036.8L1207.0 1036.9L1208.5 1036.4L1210.0 1036.1L1211.5 1035.7L1213.0 1035.1L1214.5 1035.6L1216.0 1035.8L1217.5 1036.5L1219.0 1036.9L1220.5 1036.4L1222.0 1035.5L1223.4 1034.9L1224.9 1034.5L1226.4 1033.4L1227.8 1032.8L1229.3 1031.8L1230.8 1031.6L1232.3 1032.4L1233.8 1031.8L1235.2 1033.2L1236.7 1032.9L1238.4 1033.3L1240.0 1034.8L1241.7 1035.5L1243.0 1035.9L1244.3 1036.0L1245.7 1036.2L1247.0 1036.5L1248.3 1036.1L1249.6 1035.9L1251.0 1035.3L1252.3 1035.4L1253.6 1034.9L1255.0 1035.3L1256.4 1035.3L1257.8 1035.5L1259.2 1035.4L1260.6 1035.4L1262.0 1035.7L1263.3 1035.6L1264.7 1035.7L1266.0 1036.0L1267.3 1035.7L1268.7 1035.7L1270.0 1035.7L1271.3 1036.1L1272.7 1036.0L1274.0 1035.9L1275.5 1035.6L1276.9 1035.3L1278.4 1034.8L1279.8 1034.5L1281.3 1034.5L1282.8 1034.7L1284.2 1035.2L1285.7 1035.4L1287.1 1035.8L1288.5 1036.3L1290.0 1036.5L1291.3 1036.6L1292.7 1036.7L1294.0 1036.8L1295.3 1037.0L1296.7 1037.0L1298.0 1037.1L1299.4 1037.1L1300.7 1037.1L1302.1 1037.1L1303.4 1037.2L1304.8 1037.1L1306.1 1037.1L1307.5 1037.1L1308.8 1037.1L1310.2 1037.1L1311.5 1037.1L1312.9 1037.1L1314.3 1037.1L1315.6 1037.1L1317.0 1037.1L1318.3 1037.1L1319.7 1037.1L1321.0 1037.1L1322.4 1037.1L1323.7 1037.1L1325.1 1037.1L1326.4 1037.1L1327.8 1037.1L1329.4 1035.5L1331.1 1034.0L1332.7 1032.6L1334.3 1030.9L1336.0 1028.5L1337.6 1026.6L1339.3 1025.3L1340.9 1025.4L1342.6 1023.6L1343.9 1023.9L1345.3 1022.7L1346.6 1019.7L1348.0 1022.0L1349.5 1023.6L1351.0 1021.9L1352.5 1021.7L1354.5 1012.8L1355.9 1009.8L1357.4 1018.7L1359.4 1033.5L1360.9 1031.4L1362.4 1029.6L1364.4 1018.7L1366.3 1014.7L1368.3 1016.3L1370.3 1012.8L1371.6 1017.8L1372.9 1018.7L1375.2 1027.6L1376.5 1029.1L1377.9 1031.1L1379.2 1031.6L1380.7 1032.3L1382.2 1032.5L1383.6 1033.8L1385.1 1034.5L1386.5 1035.0L1387.9 1035.5L1389.2 1036.1L1390.6 1036.6L1392.0 1037.1L1392.0 1038.0ZM882.0 1038.0L882.0 1037.5L883.5 1036.2L885.0 1035.0L886.5 1033.5L888.0 1034.5L889.5 1035.3L891.0 1036.3L892.3 1036.4L893.6 1036.3L894.9 1036.2L896.2 1036.4L897.5 1036.3L898.8 1036.3L900.2 1036.3L901.5 1036.4L902.8 1036.3L904.1 1036.5L905.4 1036.6L906.7 1036.6L908.0 1036.5L909.3 1036.7L910.7 1037.2L912.0 1037.5L912.0 1038.0ZM1008.0 1038.0L1008.0 1037.5L1009.7 1037.0L1011.3 1036.6L1013.0 1036.0L1014.4 1036.1L1015.8 1036.2L1017.1 1036.0L1018.5 1036.0L1019.9 1035.9L1021.2 1035.9L1022.6 1036.0L1024.0 1036.1L1025.4 1036.0L1026.8 1036.0L1028.1 1036.0L1029.5 1035.8L1030.9 1036.0L1032.2 1036.1L1033.6 1035.9L1035.0 1036.0L1036.7 1036.5L1038.3 1037.0L1040.0 1037.5L1040.0 1038.0ZM946.0 1036.8h2.7v1.2h-2.7zM1311.5 1038.0l0.9 -1.2l0.6 -0.2l1.2 1.3zM918.0 1036.8h2.4v1.2h-2.4zM983.4 1038.0l2.1 -1.3l1.5 -0.2l2.9 1.4zM932.2 1036.8h2.1v1.2h-2.1zM968.6 1036.8h1.6v1.2h-1.6zM1336.3 1036.8h3.1v1.2h-3.1zM1326.3 1038.0l1.9 -1.4l1.3 -0.2l2.7 1.6zM1103.4 1036.8h2.0v1.2h-2.0zM1030.5 1038.0l0.9 -1.4l0.6 -0.2l1.3 1.6zM1373.3 1036.8h3.4v1.2h-3.4zM1045.1 1038.0l1.4 -1.4l1.0 -0.2l2.0 1.6zM1155.1 1036.8h2.8v1.2h-2.8zM928.3 1038.0l1.7 -1.0l1.2 -0.1l2.4 1.2zM866.8 1036.8h3.7v1.2h-3.7zM1168.3 1036.8h1.6v1.2h-1.6zM994.1 1038.0l1.1 -1.4l0.8 -0.2l1.6 1.6zM1317.3 1038.0l0.9 -1.2l0.7 -0.2l1.3 1.4zM1127.8 1036.8h1.5v1.2h-1.5zM1319.5 1036.8h1.6v1.2h-1.6zM932.4 1036.8h3.5v1.2h-3.5zM1281.0 1036.8h2.4v1.2h-2.4zM1060.8 1036.8h2.3v1.2h-2.3zM1142.4 1036.8h3.4v1.2h-3.4zM884.2 1038.0l1.5 -1.5l1.1 -0.2l2.2 1.7zM1123.8 1036.8h2.0v1.2h-2.0zM928.5 1036.8h2.1v1.2h-2.1zM895.9 1036.8h3.3v1.2h-3.3zM860.1 1038.0l1.3 -1.1l0.9 -0.2l1.9 1.3zM1382.7 1036.8h2.4v1.2h-2.4zM857.6 1038.0l1.3 -1.2l0.9 -0.2l1.8 1.4zM1138.6 1036.8h3.2v1.2h-3.2zM907.7 1036.8h1.5v1.2h-1.5zM1014.2 1038.0l1.4 -1.0l1.0 -0.1l2.0 1.2zM864.5 1038.0l1.8 -1.4l1.3 -0.2l2.5 1.7zM1266.2 1038.0l1.1 -1.0l0.8 -0.1l1.6 1.2zM1354.2 1038.0l1.8 -1.2l1.3 -0.2l2.5 1.4zM1072.8 1036.8h3.9v1.2h-3.9zM1032.0 1038.0l1.8 -1.4l1.3 -0.2l2.6 1.7zM1081.7 1036.8h3.3v1.2h-3.3zM1281.5 1036.8h1.9v1.2h-1.9zM1081.8 1038.0l2.1 -1.0l1.5 -0.1l3.0 1.1zM1153.5 1038.0l1.7 -0.9l1.2 -0.1l2.4 1.0zM1266.4 1036.8h1.6v1.2h-1.6zM881.5 1036.8h3.3v1.2h-3.3zM1173.8 1038.0l2.2 -1.4l1.6 -0.2l3.1 1.6zM1007.8 1038.0l1.8 -1.2l1.3 -0.2l2.5 1.4zM1293.6 1038.0l1.6 -1.1l1.1 -0.2l2.2 1.3zM1304.3 1038.0l1.0 -1.3l0.7 -0.2l1.5 1.4zM1358.7 1038.0l1.0 -1.0l0.7 -0.1l1.4 1.2zM847.6 1036.8h3.4v1.2h-3.4zM1059.6 1038.0l0.9 -1.4l0.6 -0.2l1.3 1.7zM1196.6 1036.8h2.9v1.2h-2.9zM1157.2 1036.8h2.2v1.2h-2.2zM938.6 1036.8h2.8v1.2h-2.8zM909.4 1038.0l1.7 -1.3l1.2 -0.2l2.4 1.6zM888.6 1036.8h1.8v1.2h-1.8zM1200.9 1036.8h2.5v1.2h-2.5zM1033.0 1036.8h3.6v1.2h-3.6zM900.8 1036.8h3.0v1.2h-3.0zM1350.1 1036.8h2.9v1.2h-2.9zM1232.8 1038.0l1.9 -1.0l1.4 -0.1l2.7 1.2zM1170.4 1038.0l1.7 -1.4l1.2 -0.2l2.5 1.6zM990.5 1038.0l1.0 -1.1l0.7 -0.1l1.5 1.2zM1077.2 1036.8h1.6v1.2h-1.6zM1185.6 1038.0l1.3 -1.2l0.9 -0.2l1.8 1.4z" fill="#990000"/>
<line x1="844.4" y1="1079.1" x2="1395.0" y2="1079.1" stroke="#ebb4b4" stroke-width="1.5"/>
<path d="M1120.0 1079.6L1120.0 1078.3L1121.4 1078.3L1122.7 1078.1L1124.1 1078.0L1125.5 1078.0L1126.8 1077.9L1128.2 1078.0L1129.5 1077.8L1130.9 1077.5L1132.3 1077.7L1133.6 1077.4L1135.0 1077.6L1136.3 1077.5L1137.7 1077.5L1139.1 1077.3L1140.4 1077.0L1141.8 1077.1L1143.3 1076.9L1144.8 1076.8L1146.2 1076.9L1147.7 1076.9L1149.1 1076.8L1150.4 1077.0L1151.8 1077.5L1153.2 1077.7L1154.5 1077.9L1155.9 1077.9L1157.3 1078.1L1158.6 1078.1L1160.0 1078.3L1161.3 1078.4L1162.6 1078.3L1163.9 1078.4L1165.2 1078.4L1166.5 1078.3L1167.8 1078.2L1169.1 1078.3L1170.4 1078.2L1171.7 1078.3L1173.0 1078.2L1174.3 1078.3L1175.7 1078.4L1177.0 1078.4L1178.3 1078.2L1179.6 1078.3L1180.9 1078.3L1182.2 1078.2L1183.5 1078.2L1184.8 1078.4L1186.1 1078.4L1187.4 1078.4L1188.7 1078.3L1190.0 1078.4L1191.3 1078.3L1192.6 1078.3L1193.9 1078.2L1195.2 1078.3L1196.5 1078.3L1197.8 1078.2L1199.1 1078.3L1200.4 1078.4L1201.7 1078.3L1203.0 1078.4L1204.3 1078.3L1205.7 1078.3L1207.0 1078.4L1208.3 1078.2L1209.6 1078.2L1210.9 1078.3L1212.2 1078.3L1213.5 1078.3L1214.8 1078.3L1216.1 1078.4L1217.4 1078.2L1218.7 1078.3L1220.0 1078.3L1221.3 1078.2L1222.7 1077.9L1224.0 1077.9L1225.4 1077.9L1226.8 1077.8L1228.1 1077.4L1229.5 1077.3L1230.8 1077.3L1232.2 1077.5L1233.6 1077.7L1235.0 1077.7L1236.4 1077.9L1237.8 1077.9L1239.2 1078.1L1240.6 1078.3L1242.0 1078.3L1243.3 1078.4L1244.6 1078.3L1245.9 1078.3L1247.2 1078.4L1248.5 1078.4L1249.9 1078.4L1251.2 1078.4L1252.5 1078.3L1253.8 1078.4L1255.1 1078.3L1256.4 1078.4L1257.7 1078.3L1259.0 1078.3L1260.3 1078.4L1261.6 1078.3L1262.9 1078.5L1264.3 1078.4L1265.6 1078.4L1266.9 1078.5L1268.2 1078.4L1269.5 1078.4L1270.8 1078.4L1272.1 1078.4L1273.4 1078.4L1274.7 1078.5L1276.0 1078.5L1277.3 1078.4L1278.7 1078.4L1280.0 1078.5L1281.3 1078.5L1282.6 1078.5L1283.9 1078.6L1285.2 1078.6L1286.5 1078.4L1287.8 1078.6L1289.1 1078.5L1290.4 1078.6L1291.7 1078.5L1293.0 1078.6L1294.4 1078.5L1295.7 1078.5L1297.0 1078.5L1298.3 1078.5L1299.6 1078.6L1300.9 1078.5L1302.2 1078.6L1303.5 1078.6L1304.8 1078.5L1306.1 1078.6L1307.4 1078.6L1308.8 1078.6L1310.1 1078.6L1311.4 1078.7L1312.7 1078.6L1314.0 1078.6L1315.3 1078.6L1316.6 1078.6L1317.9 1078.6L1319.2 1078.6L1320.5 1078.7L1321.8 1078.6L1323.2 1078.7L1324.5 1078.7L1325.8 1078.7L1327.1 1078.7L1328.4 1078.7L1329.7 1078.7L1331.0 1077.5L1332.4 1076.8L1333.7 1075.7L1335.2 1074.8L1336.7 1074.4L1338.1 1074.4L1339.6 1073.8L1341.1 1072.9L1342.6 1071.0L1344.1 1071.7L1345.6 1069.8L1347.2 1068.1L1348.9 1070.1L1350.5 1068.4L1352.0 1063.3L1353.5 1060.9L1355.9 1052.0L1357.8 1060.9L1359.4 1073.8L1360.9 1072.8L1362.4 1071.8L1364.3 1069.4L1366.3 1068.4L1367.8 1069.3L1369.3 1071.8L1370.9 1073.3L1372.6 1074.8L1374.2 1076.7L1375.6 1076.8L1376.9 1077.0L1378.3 1077.0L1379.7 1077.4L1381.0 1077.5L1382.4 1077.7L1383.7 1077.7L1385.1 1077.9L1386.5 1077.9L1387.9 1078.1L1389.3 1078.3L1390.8 1078.4L1392.2 1078.5L1393.6 1078.6L1395.0 1078.7L1395.0 1079.6ZM880.0 1079.6L880.0 1079.1L881.3 1078.9L882.7 1078.6L884.0 1078.4L885.3 1078.1L886.7 1077.9L888.0 1077.5L889.3 1077.4L890.7 1077.5L892.0 1077.7L893.3 1077.7L894.7 1077.6L896.0 1077.6L897.3 1077.7L898.7 1077.7L900.0 1077.7L901.7 1078.3L903.3 1078.7L905.0 1079.1L905.0 1079.6ZM1010.0 1079.6L1010.0 1079.1L1011.4 1078.9L1012.9 1078.6L1014.3 1078.4L1015.7 1078.2L1017.1 1077.9L1018.6 1077.9L1020.0 1077.5L1021.4 1077.4L1022.7 1077.7L1024.1 1077.5L1025.5 1077.5L1026.8 1077.6L1028.2 1077.5L1029.5 1077.5L1030.9 1077.5L1032.3 1077.5L1033.6 1077.8L1035.0 1077.6L1036.7 1078.2L1038.3 1078.7L1040.0 1079.1L1040.0 1079.6ZM1063.9 1078.4h2.0v1.2h-2.0zM983.6 1078.4h1.8v1.2h-1.8zM1118.4 1079.6l1.8 -1.3l1.3 -0.2l2.5 1.5zM1251.9 1078.4h2.8v1.2h-2.8zM1371.1 1079.6l0.9 -1.3l0.6 -0.2l1.3 1.5zM1011.5 1078.4h2.0v1.2h-2.0zM933.0 1078.4h1.8v1.2h-1.8zM1026.7 1079.6l2.1 -1.4l1.5 -0.2l3.0 1.6zM1267.7 1079.6l1.2 -1.3l0.8 -0.2l1.7 1.5zM1150.0 1078.4h2.3v1.2h-2.3zM865.6 1079.6l1.4 -1.1l1.0 -0.1l2.0 1.2zM956.2 1078.4h2.4v1.2h-2.4zM953.5 1079.6l1.7 -1.4l1.2 -0.2l2.5 1.7zM936.1 1078.4h3.6v1.2h-3.6zM1387.0 1078.4h2.9v1.2h-2.9zM1026.3 1078.4h3.1v1.2h-3.1zM1004.2 1079.6l1.7 -1.0l1.2 -0.1l2.4 1.1zM1162.0 1078.4h1.7v1.2h-1.7zM1368.4 1078.4h1.9v1.2h-1.9zM1065.4 1079.6l1.6 -1.4l1.1 -0.2l2.3 1.6zM1025.6 1078.4h2.1v1.2h-2.1zM1185.9 1079.6l2.2 -1.4l1.6 -0.2l3.1 1.7zM1346.1 1079.6l1.2 -1.4l0.9 -0.2l1.8 1.6zM879.8 1079.6l0.9 -1.0l0.6 -0.1l1.2 1.1zM1122.9 1079.6l1.2 -1.2l0.9 -0.2l1.7 1.4zM968.1 1078.4h2.9v1.2h-2.9zM1178.5 1078.4h3.5v1.2h-3.5zM1117.9 1078.4h1.6v1.2h-1.6zM1094.1 1078.4h1.9v1.2h-1.9zM1317.5 1079.6l1.2 -1.2l0.8 -0.2l1.7 1.4zM951.7 1079.6l1.5 -1.1l1.1 -0.2l2.2 1.3zM1341.3 1079.6l1.8 -1.4l1.3 -0.2l2.5 1.6zM1027.9 1078.4h3.0v1.2h-3.0zM1308.4 1078.4h2.6v1.2h-2.6zM1040.3 1079.6l1.3 -1.1l0.9 -0.2l1.8 1.3zM1057.4 1078.4h3.6v1.2h-3.6zM931.6 1079.6l0.9 -1.4l0.7 -0.2l1.3 1.6zM852.3 1078.4h2.4v1.2h-2.4zM1339.2 1079.6l1.0 -1.4l0.7 -0.2l1.5 1.6zM1080.4 1078.4h3.0v1.2h-3.0zM958.1 1078.4h2.7v1.2h-2.7zM1290.7 1079.6l1.7 -1.4l1.2 -0.2l2.4 1.6zM1246.4 1078.4h2.6v1.2h-2.6zM1113.7 1078.4h1.9v1.2h-1.9zM848.9 1079.6l1.6 -0.9l1.2 -0.1l2.3 1.0zM1073.4 1079.6l1.9 -1.0l1.4 -0.1l2.7 1.1zM983.5 1079.6l1.9 -1.0l1.4 -0.1l2.8 1.1zM971.2 1079.6l1.0 -1.2l0.7 -0.2l1.5 1.4zM980.2 1078.4h3.0v1.2h-3.0zM1040.9 1078.4h3.6v1.2h-3.6zM922.8 1079.6l0.9 -1.0l0.7 -0.1l1.3 1.1zM873.3 1079.6l1.2 -1.3l0.8 -0.2l1.7 1.5zM1261.6 1079.6l1.7 -1.4l1.2 -0.2l2.5 1.6zM1299.3 1079.6l1.9 -1.4l1.3 -0.2l2.7 1.7zM1299.8 1079.6l2.0 -1.1l1.5 -0.1l2.9 1.2zM1018.5 1079.6l1.8 -1.1l1.3 -0.1l2.6 1.2zM1298.9 1078.4h2.4v1.2h-2.4zM1343.8 1079.6l1.9 -1.1l1.3 -0.2l2.6 1.3zM1097.6 1079.6l1.4 -1.3l1.0 -0.2l1.9 1.4zM933.1 1078.4h3.0v1.2h-3.0zM856.5 1079.6l1.0 -1.4l0.7 -0.2l1.4 1.6zM929.5 1079.6l0.9 -1.0l0.6 -0.1l1.2 1.2zM1213.0 1078.4h3.1v1.2h-3.1zM1283.8 1078.4h3.4v1.2h-3.4zM1119.2 1079.6l1.1 -1.3l0.8 -0.2l1.5 1.5zM1125.4 1079.6l1.7 -1.4l1.2 -0.2l2.4 1.6zM1123.1 1078.4h2.3v1.2h-2.3zM928.5 1078.4h2.8v1.2h-2.8zM944.3 1078.4h3.0v1.2h-3.0zM1143.7 1078.4h1.8v1.2h-1.8zM897.3 1078.4h3.7v1.2h-3.7zM901.4 1078.4h1.7v1.2h-1.7zM874.1 1078.4h2.9v1.2h-2.9zM1293.2 1079.6l1.2 -1.2l0.9 -0.2l1.7 1.4zM1087.6 1079.6l1.5 -1.2l1.1 -0.2l2.1 1.3zM1149.0 1078.4h1.6v1.2h-1.6zM1039.9 1078.4h2.6v1.2h-2.6z" fill="#990000"/>
<text x="855.8" y="741.7" textLength="65.7" lengthAdjust="spacingAndGlyphs">[0–250]</text>
<text x="855.8" y="783.3" textLength="54.4" lengthAdjust="spacingAndGlyphs">[0–20]</text>
<text x="855.8" y="823.8" textLength="54.4" lengthAdjust="spacingAndGlyphs">[0–40]</text>
<text x="855.8" y="879.8" textLength="65.7" lengthAdjust="spacingAndGlyphs">[0–250]</text>
<text x="855.8" y="923.7" textLength="54.4" lengthAdjust="spacingAndGlyphs">[0–20]</text>
<text x="855.8" y="962.3" textLength="54.4" lengthAdjust="spacingAndGlyphs">[0–40]</text>
<text x="855.8" y="1020.7" textLength="65.7" lengthAdjust="spacingAndGlyphs">[0–250]</text>
<text x="855.8" y="1067.8" textLength="65.7" lengthAdjust="spacingAndGlyphs">[0–250]</text>
<text x="936.6" y="1020.7" textLength="61.1" lengthAdjust="spacingAndGlyphs">DMSO</text>
<text x="936.6" y="1067.8" textLength="55.8" lengthAdjust="spacingAndGlyphs">EZH2i</text>
<line x1="844.4" y1="1092.3" x2="1362.4" y2="1092.3" stroke="#1414c8" stroke-width="0.8"/>
<path d="M867.3 1088.8v7M869.7 1088.8v7M891.0 1088.8v7M893.8 1088.8v7M903.7 1088.8v7M907.3 1088.8v7M911.6 1088.8v7M966.6 1088.8v7M969.0 1088.8v7M985.8 1088.8v7M988.8 1088.8v7M992.4 1088.8v7M995.3 1088.8v7M1003.2 1088.8v7M1013.7 1088.8v7M1015.7 1088.8v7M1017.1 1088.8v7M1018.7 1088.8v7M1027.4 1088.8v7M1036.5 1088.8v7M1053.7 1088.8v7M1057.3 1088.8v7M1060.6 1088.8v7M1107.1 1088.8v7M1109.1 1088.8v7M1119.0 1088.8v7M1166.9 1088.8v7M1176.4 1088.8v7M1197.8 1088.8v7M1222.5 1088.8v7M1281.3 1088.8v7" stroke="#1414c8" stroke-width="1.2" fill="none"/>
<rect x="844.4" y="1090.1" width="16.4" height="4.4" fill="#1414c8"/>
<rect x="996.8" y="1088.8" width="2.0" height="7.0" fill="#1414c8"/>
<rect x="1069.0" y="1088.8" width="2.6" height="7.0" fill="#1414c8"/>
<rect x="1134.0" y="1088.8" width="1.6" height="7.0" fill="#1414c8"/>
<rect x="1137.0" y="1088.8" width="1.8" height="7.0" fill="#1414c8"/>
<rect x="1152.0" y="1088.8" width="1.4" height="7.0" fill="#1414c8"/>
<rect x="1154.6" y="1088.8" width="1.4" height="7.0" fill="#1414c8"/>
<rect x="1190.2" y="1088.8" width="2.4" height="7.0" fill="#1414c8"/>
<rect x="1360.2" y="1089.3" width="2.8" height="6.0" fill="#1414c8"/>
<path d="M853.9 1090.9l-1.8 1.4l1.8 1.4M867.9 1090.9l-1.8 1.4l1.8 1.4M881.9 1090.9l-1.8 1.4l1.8 1.4M895.9 1090.9l-1.8 1.4l1.8 1.4M909.9 1090.9l-1.8 1.4l1.8 1.4M923.9 1090.9l-1.8 1.4l1.8 1.4M937.9 1090.9l-1.8 1.4l1.8 1.4M951.9 1090.9l-1.8 1.4l1.8 1.4M965.9 1090.9l-1.8 1.4l1.8 1.4M979.9 1090.9l-1.8 1.4l1.8 1.4M993.9 1090.9l-1.8 1.4l1.8 1.4M1007.9 1090.9l-1.8 1.4l1.8 1.4M1021.9 1090.9l-1.8 1.4l1.8 1.4M1035.9 1090.9l-1.8 1.4l1.8 1.4M1049.9 1090.9l-1.8 1.4l1.8 1.4M1063.9 1090.9l-1.8 1.4l1.8 1.4M1077.9 1090.9l-1.8 1.4l1.8 1.4M1091.9 1090.9l-1.8 1.4l1.8 1.4M1105.9 1090.9l-1.8 1.4l1.8 1.4M1119.9 1090.9l-1.8 1.4l1.8 1.4M1133.9 1090.9l-1.8 1.4l1.8 1.4M1147.9 1090.9l-1.8 1.4l1.8 1.4M1161.9 1090.9l-1.8 1.4l1.8 1.4M1175.9 1090.9l-1.8 1.4l1.8 1.4M1189.9 1090.9l-1.8 1.4l1.8 1.4M1203.9 1090.9l-1.8 1.4l1.8 1.4M1217.9 1090.9l-1.8 1.4l1.8 1.4M1231.9 1090.9l-1.8 1.4l1.8 1.4M1245.9 1090.9l-1.8 1.4l1.8 1.4M1259.9 1090.9l-1.8 1.4l1.8 1.4M1273.9 1090.9l-1.8 1.4l1.8 1.4M1287.9 1090.9l-1.8 1.4l1.8 1.4M1301.9 1090.9l-1.8 1.4l1.8 1.4M1315.9 1090.9l-1.8 1.4l1.8 1.4M1329.9 1090.9l-1.8 1.4l1.8 1.4M1343.9 1090.9l-1.8 1.4l1.8 1.4M1357.9 1090.9l-1.8 1.4l1.8 1.4" stroke="#1414c8" stroke-width="0.7" fill="none"/>
<text x="888.1" y="1125.6" font-style="italic" textLength="54.8" lengthAdjust="spacingAndGlyphs">CHD5</text>
</g>
<g id="pf">
<text x="17.7" y="1160.1" font-weight="bold" fill="#000" style="font-size:31.5px" textLength="11.0" lengthAdjust="spacingAndGlyphs" stroke="#000" stroke-width="1.0" stroke-linejoin="round">f</text>
<path d="M88.2 1223.3V1400.4M81.4 1400.4H230" stroke="#111" stroke-width="1.8" fill="none"/>
<path d="M88.2 1329.1h-6.8M88.2 1258.2h-6.8M101.8 1400.4v7M129.9 1400.4v7M158.1 1400.4v7M186.2 1400.4v7M214.4 1400.4v7" stroke="#111" stroke-width="1.6" fill="none"/>
<text x="73.5" y="1407.2" text-anchor="end" textLength="11.6" lengthAdjust="spacingAndGlyphs">0</text>
<text x="73.5" y="1335.9" text-anchor="end" textLength="11.6" lengthAdjust="spacingAndGlyphs">1</text>
<text x="73.5" y="1265.0" text-anchor="end" textLength="11.6" lengthAdjust="spacingAndGlyphs">2</text>
<path d="M101.8 1350.8 L129.9 1387.8 L158.1 1292.8 L186.2 1281.0 L214.4 1264.0" stroke="#b09a5c" stroke-width="2" fill="none"/>
<path d="M101.8 1343.7V1358.0M96.3 1343.7h11M96.3 1358.0h11" stroke="#b09a5c" stroke-width="1.7" fill="none"/>
<circle cx="101.8" cy="1350.8" r="4.4" fill="#b09a5c"/>
<circle cx="129.9" cy="1387.8" r="4.4" fill="#b09a5c"/>
<path d="M158.1 1286.0V1299.6M152.6 1286.0h11M152.6 1299.6h11" stroke="#b09a5c" stroke-width="1.7" fill="none"/>
<circle cx="158.1" cy="1292.8" r="4.4" fill="#b09a5c"/>
<path d="M186.2 1274.2V1288.4M180.7 1274.2h11M180.7 1288.4h11" stroke="#b09a5c" stroke-width="1.7" fill="none"/>
<circle cx="186.2" cy="1281.0" r="4.4" fill="#b09a5c"/>
<path d="M214.4 1252.8V1275.2M208.9 1252.8h11M208.9 1275.2h11" stroke="#b09a5c" stroke-width="1.7" fill="none"/>
<circle cx="214.4" cy="1264.0" r="4.4" fill="#b09a5c"/>
<text x="101.8" y="1220.9" font-style="italic" textLength="63.4" lengthAdjust="spacingAndGlyphs">JADE2</text>
<text transform="translate(43.5 1309.8) rotate(-90)" text-anchor="middle" textLength="139.0" lengthAdjust="spacingAndGlyphs">log (RPKM + 1)</text>
<text transform="translate(111.8 1421.0) rotate(-45)" text-anchor="end" textLength="44.0" lengthAdjust="spacingAndGlyphs">NPC</text>
<text transform="translate(139.9 1421.0) rotate(-45)" text-anchor="end" textLength="34.8" lengthAdjust="spacingAndGlyphs">d25</text>
<text transform="translate(168.1 1421.0) rotate(-45)" text-anchor="end" textLength="34.8" lengthAdjust="spacingAndGlyphs">d50</text>
<text transform="translate(196.2 1421.0) rotate(-45)" text-anchor="end" textLength="34.8" lengthAdjust="spacingAndGlyphs">d75</text>
<text transform="translate(224.4 1421.0) rotate(-45)" text-anchor="end" textLength="46.4" lengthAdjust="spacingAndGlyphs">d100</text>
<path d="M282.6 1222.3V1400.4M275.8 1400.4H423.3" stroke="#111" stroke-width="1.8" fill="none"/>
<path d="M282.6 1341.0h-6.8M282.6 1282.0h-6.8M282.6 1222.6h-6.8M295.8 1400.4v7M324.3 1400.4v7M352.8 1400.4v7M380.9 1400.4v7M409.4 1400.4v7" stroke="#111" stroke-width="1.6" fill="none"/>
<text x="268.0" y="1407.2" text-anchor="end" textLength="11.6" lengthAdjust="spacingAndGlyphs">0</text>
<text x="268.0" y="1347.8" text-anchor="end" textLength="11.6" lengthAdjust="spacingAndGlyphs">2</text>
<text x="268.0" y="1288.8" text-anchor="end" textLength="11.6" lengthAdjust="spacingAndGlyphs">4</text>
<text x="268.0" y="1229.4" text-anchor="end" textLength="11.6" lengthAdjust="spacingAndGlyphs">6</text>
<path d="M295.8 1390.2 L324.3 1325.0 L352.8 1256.2 L380.9 1264.0 L409.4 1290.1" stroke="#1a7acb" stroke-width="2" fill="none"/>
<path d="M409.4 1273.1V1306.7M403.9 1273.1h11M403.9 1306.7h11" stroke="#1a7acb" stroke-width="1.7" fill="none"/>
<circle cx="295.8" cy="1390.2" r="4.4" fill="#1a7acb"/>
<circle cx="324.3" cy="1325.0" r="4.4" fill="#1a7acb"/>
<circle cx="352.8" cy="1256.2" r="4.4" fill="#1a7acb"/>
<circle cx="380.9" cy="1264.0" r="4.4" fill="#1a7acb"/>
<circle cx="409.4" cy="1290.1" r="4.4" fill="#1a7acb"/>
<text x="300.2" y="1221.6" font-style="italic" textLength="56.0" lengthAdjust="spacingAndGlyphs">CHD5</text>
<text transform="translate(305.8 1421.0) rotate(-45)" text-anchor="end" textLength="44.0" lengthAdjust="spacingAndGlyphs">NPC</text>
<text transform="translate(334.3 1421.0) rotate(-45)" text-anchor="end" textLength="34.8" lengthAdjust="spacingAndGlyphs">d25</text>
<text transform="translate(362.8 1421.0) rotate(-45)" text-anchor="end" textLength="34.8" lengthAdjust="spacingAndGlyphs">d50</text>
<text transform="translate(390.9 1421.0) rotate(-45)" text-anchor="end" textLength="34.8" lengthAdjust="spacingAndGlyphs">d75</text>
<text transform="translate(419.4 1421.0) rotate(-45)" text-anchor="end" textLength="46.4" lengthAdjust="spacingAndGlyphs">d100</text>
</g>
<g id="pg">
<text x="465.2" y="1157.2" font-weight="bold" fill="#000" style="font-size:31.5px" textLength="20.2" lengthAdjust="spacingAndGlyphs" stroke="#000" stroke-width="1.0" stroke-linejoin="round">g</text>
<rect x="556.8" y="1169.8" width="17.2" height="17.2" fill="none" stroke="#b09a5c" stroke-width="1.6"/>
<text x="581.7" y="1184.6" font-style="italic" textLength="63.0" lengthAdjust="spacingAndGlyphs">JADE2</text>
<rect x="660.6" y="1169.8" width="17.2" height="17.2" fill="none" stroke="#1a7acb" stroke-width="1.6"/>
<text x="685.9" y="1184.6" font-style="italic" textLength="56.1" lengthAdjust="spacingAndGlyphs">CHD5</text>
<ellipse cx="566.4" cy="1202.8" rx="4.6" ry="3.9" fill="none" stroke="#111" stroke-width="2"/>
<text x="579.0" y="1210.2" textLength="46.6" lengthAdjust="spacingAndGlyphs">2 µm</text>
<rect x="647.0" y="1198.4" width="8.6" height="8.6" fill="none" stroke="#111" stroke-width="2"/>
<text x="663.0" y="1210.2" textLength="47.7" lengthAdjust="spacingAndGlyphs">4 µm</text>
<text x="746.9" y="1210.9" textLength="62.6" lengthAdjust="spacingAndGlyphs">0.0056</text>
<text x="817.2" y="1210.9" textLength="78.6" lengthAdjust="spacingAndGlyphs">&lt; 0.0001</text>
<text x="904.2" y="1210.9" textLength="79.4" lengthAdjust="spacingAndGlyphs">&lt; 0.0001</text>
<text x="830.9" y="1232.3" textLength="63.0" lengthAdjust="spacingAndGlyphs">0.0006</text>
<text x="560.7" y="1262.4" textLength="80.1" lengthAdjust="spacingAndGlyphs">&lt; 0.0001</text>
<text x="570.2" y="1285.7" textLength="63.0" lengthAdjust="spacingAndGlyphs">0.0015</text>
<text x="685.5" y="1262.4" textLength="80.1" lengthAdjust="spacingAndGlyphs">&lt; 0.0001</text>
<path d="M553.1 1222.4V1401.8H950.8" stroke="#111" stroke-width="1.8" fill="none"/>
<path d="M553.1 1222.4h-7.6M553.1 1294.1h-7.6M553.1 1365.9h-7.6M591.2 1401.8v7M657.3 1401.8v7M723.3 1401.8v7M789.7 1401.8v7M855.7 1401.8v7M922.1 1401.8v7" stroke="#111" stroke-width="1.6" fill="none"/>
<text x="537.0" y="1229.2" text-anchor="end" textLength="11.6" lengthAdjust="spacingAndGlyphs">3</text>
<text x="537.0" y="1300.9" text-anchor="end" textLength="11.6" lengthAdjust="spacingAndGlyphs">2</text>
<text x="537.0" y="1372.7" text-anchor="end" textLength="11.6" lengthAdjust="spacingAndGlyphs">1</text>
<line x1="553.1" y1="1365.9" x2="948.0" y2="1365.9" stroke="#111" stroke-width="1.5" stroke-dasharray="1.6 2.4"/>
<text transform="translate(506.5 1321.8) rotate(-90)" text-anchor="middle" textLength="219.5" lengthAdjust="spacingAndGlyphs">Fold change (vs DMSO)</text>
<path d="M579.0 1325.4V1341.1M574.2 1325.4h9.6M574.2 1341.1h9.6" stroke="#b09a5c" stroke-width="1.9" fill="none"/>
<line x1="567.2" y1="1333.4" x2="590.8" y2="1333.4" stroke="#b09a5c" stroke-width="3"/>
<ellipse cx="577.0" cy="1324.7" rx="5.1" ry="4.3" fill="none" stroke="#b09a5c" stroke-width="2.1"/>
<ellipse cx="582.0" cy="1329.6" rx="5.1" ry="4.3" fill="none" stroke="#b09a5c" stroke-width="2.1"/>
<ellipse cx="579.0" cy="1347.6" rx="5.1" ry="4.3" fill="none" stroke="#b09a5c" stroke-width="2.1"/>
<path d="M603.8 1309.4V1329.6M599.0 1309.4h9.6M599.0 1329.6h9.6" stroke="#b09a5c" stroke-width="1.9" fill="none"/>
<line x1="592.0" y1="1319.7" x2="615.6" y2="1319.7" stroke="#b09a5c" stroke-width="3"/>
<rect x="598.2" y="1304.8" width="9.2" height="9.2" fill="none" stroke="#b09a5c" stroke-width="2"/>
<rect x="602.2" y="1305.6" width="9.2" height="9.2" fill="none" stroke="#b09a5c" stroke-width="2"/>
<rect x="599.2" y="1335.3" width="9.2" height="9.2" fill="none" stroke="#b09a5c" stroke-width="2"/>
<path d="M645.0 1365.9V1368.9M640.2 1365.9h9.6M640.2 1368.9h9.6" stroke="#b09a5c" stroke-width="1.9" fill="none"/>
<line x1="633.2" y1="1367.4" x2="656.8" y2="1367.4" stroke="#b09a5c" stroke-width="3"/>
<ellipse cx="642.0" cy="1366.6" rx="5.1" ry="4.3" fill="none" stroke="#b09a5c" stroke-width="2.1"/>
<ellipse cx="648.0" cy="1367.4" rx="5.1" ry="4.3" fill="none" stroke="#b09a5c" stroke-width="2.1"/>
<ellipse cx="645.0" cy="1368.5" rx="5.1" ry="4.3" fill="none" stroke="#b09a5c" stroke-width="2.1"/>
<path d="M670.2 1350.6V1375.4M665.4 1350.6h9.6M665.4 1375.4h9.6" stroke="#b09a5c" stroke-width="1.9" fill="none"/>
<line x1="658.4" y1="1362.8" x2="682.0" y2="1362.8" stroke="#b09a5c" stroke-width="3"/>
<rect x="665.6" y="1335.7" width="9.2" height="9.2" fill="none" stroke="#b09a5c" stroke-width="2"/>
<rect x="665.6" y="1358.2" width="9.2" height="9.2" fill="none" stroke="#b09a5c" stroke-width="2"/>
<rect x="665.6" y="1380.0" width="9.2" height="9.2" fill="none" stroke="#b09a5c" stroke-width="2"/>
<path d="M711.1 1336.1V1355.2M706.3 1336.1h9.6M706.3 1355.2h9.6" stroke="#b09a5c" stroke-width="1.9" fill="none"/>
<line x1="699.3" y1="1345.6" x2="722.9" y2="1345.6" stroke="#b09a5c" stroke-width="3"/>
<ellipse cx="709.1" cy="1336.1" rx="5.1" ry="4.3" fill="none" stroke="#b09a5c" stroke-width="2.1"/>
<ellipse cx="714.1" cy="1338.0" rx="5.1" ry="4.3" fill="none" stroke="#b09a5c" stroke-width="2.1"/>
<ellipse cx="711.1" cy="1363.6" rx="5.1" ry="4.3" fill="none" stroke="#b09a5c" stroke-width="2.1"/>
<path d="M736.3 1310.5V1322.0M731.5 1310.5h9.6M731.5 1322.0h9.6" stroke="#b09a5c" stroke-width="1.9" fill="none"/>
<line x1="724.5" y1="1316.3" x2="748.1" y2="1316.3" stroke="#b09a5c" stroke-width="3"/>
<rect x="729.7" y="1304.8" width="9.2" height="9.2" fill="none" stroke="#b09a5c" stroke-width="2"/>
<rect x="734.7" y="1308.6" width="9.2" height="9.2" fill="none" stroke="#b09a5c" stroke-width="2"/>
<rect x="731.7" y="1322.0" width="9.2" height="9.2" fill="none" stroke="#b09a5c" stroke-width="2"/>
<path d="M777.5 1341.8V1359.0M772.7 1341.8h9.6M772.7 1359.0h9.6" stroke="#1a7acb" stroke-width="1.9" fill="none"/>
<line x1="765.7" y1="1350.2" x2="789.3" y2="1350.2" stroke="#1a7acb" stroke-width="3"/>
<ellipse cx="777.5" cy="1336.1" rx="5.1" ry="4.3" fill="none" stroke="#1a7acb" stroke-width="2.1"/>
<ellipse cx="777.5" cy="1355.2" rx="5.1" ry="4.3" fill="none" stroke="#1a7acb" stroke-width="2.1"/>
<ellipse cx="777.5" cy="1360.9" rx="5.1" ry="4.3" fill="none" stroke="#1a7acb" stroke-width="2.1"/>
<path d="M801.9 1325.4V1344.5M797.1 1325.4h9.6M797.1 1344.5h9.6" stroke="#1a7acb" stroke-width="1.9" fill="none"/>
<line x1="790.1" y1="1335.0" x2="813.7" y2="1335.0" stroke="#1a7acb" stroke-width="3"/>
<rect x="797.3" y="1311.3" width="9.2" height="9.2" fill="none" stroke="#1a7acb" stroke-width="2"/>
<rect x="798.3" y="1337.2" width="9.2" height="9.2" fill="none" stroke="#1a7acb" stroke-width="2"/>
<rect x="795.3" y="1339.9" width="9.2" height="9.2" fill="none" stroke="#1a7acb" stroke-width="2"/>
<path d="M843.1 1318.2V1339.2M838.3 1318.2h9.6M838.3 1339.2h9.6" stroke="#1a7acb" stroke-width="1.9" fill="none"/>
<line x1="831.3" y1="1328.9" x2="854.9" y2="1328.9" stroke="#1a7acb" stroke-width="3"/>
<ellipse cx="843.1" cy="1312.4" rx="5.1" ry="4.3" fill="none" stroke="#1a7acb" stroke-width="2.1"/>
<ellipse cx="843.1" cy="1326.6" rx="5.1" ry="4.3" fill="none" stroke="#1a7acb" stroke-width="2.1"/>
<ellipse cx="843.1" cy="1348.3" rx="5.1" ry="4.3" fill="none" stroke="#1a7acb" stroke-width="2.1"/>
<path d="M868.7 1275.0V1341.8M863.9 1275.0h9.6M863.9 1341.8h9.6" stroke="#1a7acb" stroke-width="1.9" fill="none"/>
<line x1="856.9" y1="1308.2" x2="880.5" y2="1308.2" stroke="#1a7acb" stroke-width="3"/>
<rect x="864.1" y="1237.2" width="9.2" height="9.2" fill="none" stroke="#1a7acb" stroke-width="2"/>
<rect x="864.1" y="1327.7" width="9.2" height="9.2" fill="none" stroke="#1a7acb" stroke-width="2"/>
<rect x="864.1" y="1344.9" width="9.2" height="9.2" fill="none" stroke="#1a7acb" stroke-width="2"/>
<path d="M909.9 1333.4V1354.0M905.1 1333.4h9.6M905.1 1354.0h9.6" stroke="#1a7acb" stroke-width="1.9" fill="none"/>
<line x1="898.1" y1="1343.7" x2="921.7" y2="1343.7" stroke="#1a7acb" stroke-width="3"/>
<ellipse cx="909.9" cy="1327.3" rx="5.1" ry="4.3" fill="none" stroke="#1a7acb" stroke-width="2.1"/>
<ellipse cx="909.9" cy="1341.1" rx="5.1" ry="4.3" fill="none" stroke="#1a7acb" stroke-width="2.1"/>
<ellipse cx="909.9" cy="1362.8" rx="5.1" ry="4.3" fill="none" stroke="#1a7acb" stroke-width="2.1"/>
<path d="M934.4 1293.4V1322.0M929.6 1293.4h9.6M929.6 1322.0h9.6" stroke="#1a7acb" stroke-width="1.9" fill="none"/>
<line x1="922.6" y1="1307.5" x2="946.2" y2="1307.5" stroke="#1a7acb" stroke-width="3"/>
<rect x="929.8" y="1275.4" width="9.2" height="9.2" fill="none" stroke="#1a7acb" stroke-width="2"/>
<rect x="929.8" y="1310.5" width="9.2" height="9.2" fill="none" stroke="#1a7acb" stroke-width="2"/>
<rect x="929.8" y="1322.0" width="9.2" height="9.2" fill="none" stroke="#1a7acb" stroke-width="2"/>
<text transform="translate(599.2 1423.0) rotate(-45)" text-anchor="end" textLength="70.0" lengthAdjust="spacingAndGlyphs">DOT1Li</text>
<text transform="translate(665.3 1423.0) rotate(-45)" text-anchor="end" textLength="92.0" lengthAdjust="spacingAndGlyphs">EHMT1/2i</text>
<text transform="translate(731.3 1423.0) rotate(-45)" text-anchor="end" textLength="58.0" lengthAdjust="spacingAndGlyphs">EZH2i</text>
<text transform="translate(797.7 1423.0) rotate(-45)" text-anchor="end" textLength="70.0" lengthAdjust="spacingAndGlyphs">DOT1Li</text>
<text transform="translate(863.7 1423.0) rotate(-45)" text-anchor="end" textLength="92.0" lengthAdjust="spacingAndGlyphs">EHMT1/2i</text>
<text transform="translate(930.1 1423.0) rotate(-45)" text-anchor="end" textLength="58.0" lengthAdjust="spacingAndGlyphs">EZH2i</text>
</g>
<g id="ph">
<text x="989.2" y="1158.6" font-weight="bold" fill="#000" style="font-size:31.5px" textLength="20.2" lengthAdjust="spacingAndGlyphs" stroke="#000" stroke-width="1.0" stroke-linejoin="round">h</text>
<text x="1118.3" y="1140.9" textLength="30.2" lengthAdjust="spacingAndGlyphs">WT</text>
<line x1="1109.1" y1="1145.8" x2="1159.2" y2="1145.8" stroke="#111" stroke-width="1.8"/>
<text x="1178.3" y="1140.9" textLength="91.3" lengthAdjust="spacingAndGlyphs">CHD5 KO</text>
<line x1="1172.7" y1="1145.8" x2="1279.7" y2="1145.8" stroke="#111" stroke-width="1.8"/>
<text x="1296.6" y="1140.9" textLength="97.8" lengthAdjust="spacingAndGlyphs">JADE2 KO</text>
<line x1="1293.6" y1="1145.8" x2="1400.5" y2="1145.8" stroke="#111" stroke-width="1.8"/>
<text x="1170.0" y="1163.0" style="font-size:16px" textLength="56.0" lengthAdjust="spacingAndGlyphs">Clone 1</text>
<text x="1230.5" y="1163.0" style="font-size:16px" textLength="56.0" lengthAdjust="spacingAndGlyphs">Clone 2</text>
<text x="1291.4" y="1163.0" style="font-size:16px" textLength="56.0" lengthAdjust="spacingAndGlyphs">Clone 1</text>
<text x="1352.0" y="1163.0" style="font-size:16px" textLength="56.0" lengthAdjust="spacingAndGlyphs">Clone 2</text>
<line x1="1172.7" y1="1169.2" x2="1223.8" y2="1169.2" stroke="#111" stroke-width="1.8"/>
<line x1="1228.4" y1="1169.2" x2="1279.7" y2="1169.2" stroke="#111" stroke-width="1.8"/>
<line x1="1293.6" y1="1169.2" x2="1344.9" y2="1169.2" stroke="#111" stroke-width="1.8"/>
<line x1="1349.5" y1="1169.2" x2="1400.5" y2="1169.2" stroke="#111" stroke-width="1.8"/>
<text x="1160.8" y="1199.3" textLength="62.7" lengthAdjust="spacingAndGlyphs">0.7252</text>
<line x1="1177.7" y1="1204.3" x2="1207.5" y2="1204.3" stroke="#333" stroke-width="1"/>
<text x="1270.5" y="1199.3" textLength="75.9" lengthAdjust="spacingAndGlyphs">&gt;0.9999</text>
<line x1="1297.6" y1="1204.3" x2="1328.3" y2="1204.3" stroke="#333" stroke-width="1"/>
<text x="1099.3" y="1220.5" textLength="60.5" lengthAdjust="spacingAndGlyphs">0.0002</text>
<line x1="1118.3" y1="1225.5" x2="1147.5" y2="1225.5" stroke="#333" stroke-width="1"/>
<text x="1226.9" y="1220.5" textLength="50.7" lengthAdjust="spacingAndGlyphs">0.993</text>
<line x1="1237.3" y1="1225.5" x2="1268.0" y2="1225.5" stroke="#333" stroke-width="1"/>
<text x="1340.3" y="1220.5" textLength="61.8" lengthAdjust="spacingAndGlyphs">0.8082</text>
<line x1="1358.1" y1="1225.5" x2="1388.2" y2="1225.5" stroke="#333" stroke-width="1"/>
<g fill="#fb2a04" stroke="#b01800" stroke-width="0.8"><circle cx="1116.0" cy="1376.3" r="2.6"/><circle cx="1119.1" cy="1357.7" r="2.6"/><circle cx="1109.6" cy="1380.6" r="2.6"/><circle cx="1119.9" cy="1302.3" r="2.6"/><circle cx="1114.2" cy="1378.8" r="2.6"/><circle cx="1125.2" cy="1382.2" r="2.6"/><circle cx="1124.7" cy="1383.7" r="2.6"/><circle cx="1114.5" cy="1381.0" r="2.6"/><circle cx="1123.6" cy="1383.2" r="2.6"/><circle cx="1118.9" cy="1354.7" r="2.6"/><circle cx="1119.3" cy="1372.2" r="2.6"/><circle cx="1119.5" cy="1361.2" r="2.6"/><circle cx="1109.4" cy="1380.6" r="2.6"/><circle cx="1120.3" cy="1369.1" r="2.6"/><circle cx="1113.8" cy="1371.5" r="2.6"/><circle cx="1117.0" cy="1322.0" r="2.6"/><circle cx="1113.9" cy="1373.6" r="2.6"/><circle cx="1118.6" cy="1374.0" r="2.6"/><circle cx="1107.8" cy="1386.7" r="2.6"/><circle cx="1114.3" cy="1395.1" r="2.6"/><circle cx="1117.5" cy="1344.2" r="2.6"/><circle cx="1119.4" cy="1366.6" r="2.6"/><circle cx="1113.4" cy="1394.0" r="2.6"/><circle cx="1122.8" cy="1389.6" r="2.6"/><circle cx="1120.3" cy="1340.4" r="2.6"/><circle cx="1117.6" cy="1328.6" r="2.6"/><circle cx="1118.1" cy="1393.5" r="2.6"/><circle cx="1116.7" cy="1386.1" r="2.6"/><circle cx="1119.6" cy="1290.5" r="2.6"/><circle cx="1121.4" cy="1391.8" r="2.6"/><circle cx="1122.9" cy="1387.2" r="2.6"/><circle cx="1122.6" cy="1377.2" r="2.6"/><circle cx="1115.5" cy="1375.6" r="2.6"/><circle cx="1118.8" cy="1377.2" r="2.6"/><circle cx="1124.5" cy="1388.8" r="2.6"/><circle cx="1115.0" cy="1383.2" r="2.6"/><circle cx="1122.3" cy="1391.1" r="2.6"/><circle cx="1115.8" cy="1362.3" r="2.6"/><circle cx="1115.6" cy="1304.8" r="2.6"/><circle cx="1112.5" cy="1388.8" r="2.6"/><circle cx="1118.2" cy="1397.4" r="2.6"/><circle cx="1117.6" cy="1363.6" r="2.6"/><circle cx="1125.8" cy="1390.2" r="2.6"/><circle cx="1120.3" cy="1389.8" r="2.6"/><circle cx="1116.6" cy="1363.0" r="2.6"/><circle cx="1123.9" cy="1383.7" r="2.6"/><circle cx="1116.0" cy="1330.6" r="2.6"/><circle cx="1119.3" cy="1394.2" r="2.6"/><circle cx="1122.5" cy="1386.0" r="2.6"/><circle cx="1120.1" cy="1393.4" r="2.6"/><circle cx="1119.1" cy="1380.4" r="2.6"/><circle cx="1117.8" cy="1358.2" r="2.6"/><circle cx="1118.5" cy="1362.0" r="2.6"/><circle cx="1114.1" cy="1393.1" r="2.6"/><circle cx="1122.8" cy="1389.3" r="2.6"/><circle cx="1123.1" cy="1387.1" r="2.6"/><circle cx="1123.3" cy="1391.1" r="2.6"/><circle cx="1112.5" cy="1387.8" r="2.6"/><circle cx="1115.4" cy="1386.8" r="2.6"/><circle cx="1117.3" cy="1260.7" r="2.6"/><circle cx="1112.4" cy="1384.9" r="2.6"/><circle cx="1121.0" cy="1395.2" r="2.6"/><circle cx="1116.0" cy="1395.2" r="2.6"/><circle cx="1126.3" cy="1384.1" r="2.6"/><circle cx="1118.9" cy="1321.6" r="2.6"/><circle cx="1118.7" cy="1338.0" r="2.6"/><circle cx="1118.4" cy="1371.1" r="2.6"/><circle cx="1118.6" cy="1330.7" r="2.6"/><circle cx="1118.9" cy="1303.8" r="2.6"/><circle cx="1113.8" cy="1369.0" r="2.6"/><circle cx="1120.3" cy="1333.8" r="2.6"/><circle cx="1121.3" cy="1374.6" r="2.6"/><circle cx="1115.2" cy="1382.5" r="2.6"/><circle cx="1111.4" cy="1384.9" r="2.6"/><circle cx="1118.5" cy="1376.6" r="2.6"/><circle cx="1117.4" cy="1310.5" r="2.6"/><circle cx="1117.0" cy="1374.4" r="2.6"/><circle cx="1117.4" cy="1245.1" r="2.6"/><circle cx="1119.7" cy="1376.7" r="2.6"/><circle cx="1119.4" cy="1377.0" r="2.6"/><circle cx="1122.9" cy="1387.2" r="2.6"/><circle cx="1117.5" cy="1295.2" r="2.6"/><circle cx="1117.1" cy="1367.8" r="2.6"/><circle cx="1118.7" cy="1318.9" r="2.6"/><circle cx="1115.4" cy="1357.0" r="2.6"/><circle cx="1115.2" cy="1384.9" r="2.6"/><circle cx="1115.7" cy="1366.6" r="2.6"/><circle cx="1115.9" cy="1370.6" r="2.6"/><circle cx="1115.1" cy="1351.2" r="2.6"/><circle cx="1117.6" cy="1238.4" r="2.6"/><circle cx="1114.6" cy="1392.9" r="2.6"/><circle cx="1117.6" cy="1381.0" r="2.6"/><circle cx="1125.7" cy="1387.1" r="2.6"/><circle cx="1117.7" cy="1353.8" r="2.6"/><circle cx="1111.9" cy="1386.9" r="2.6"/><circle cx="1116.3" cy="1334.5" r="2.6"/><circle cx="1113.4" cy="1391.1" r="2.6"/><circle cx="1115.4" cy="1365.9" r="2.6"/><circle cx="1119.0" cy="1348.8" r="2.6"/><circle cx="1120.0" cy="1298.9" r="2.6"/><circle cx="1124.2" cy="1384.1" r="2.6"/><circle cx="1118.8" cy="1361.9" r="2.6"/><circle cx="1118.5" cy="1363.1" r="2.6"/><circle cx="1120.4" cy="1334.3" r="2.6"/><circle cx="1117.9" cy="1393.1" r="2.6"/><circle cx="1120.7" cy="1393.2" r="2.6"/><circle cx="1117.4" cy="1377.1" r="2.6"/><circle cx="1123.6" cy="1382.7" r="2.6"/><circle cx="1119.1" cy="1309.4" r="2.6"/><circle cx="1118.7" cy="1386.4" r="2.6"/><circle cx="1110.6" cy="1390.6" r="2.6"/><circle cx="1118.6" cy="1395.9" r="2.6"/><circle cx="1117.3" cy="1356.7" r="2.6"/><circle cx="1116.5" cy="1386.7" r="2.6"/><circle cx="1116.8" cy="1362.4" r="2.6"/><circle cx="1121.5" cy="1370.8" r="2.6"/><circle cx="1108.1" cy="1385.9" r="2.6"/><circle cx="1113.3" cy="1382.6" r="2.6"/><circle cx="1121.8" cy="1393.7" r="2.6"/><circle cx="1110.8" cy="1386.4" r="2.6"/><circle cx="1117.6" cy="1332.4" r="2.6"/><circle cx="1116.4" cy="1361.9" r="2.6"/><circle cx="1117.8" cy="1394.3" r="2.6"/><circle cx="1113.6" cy="1369.5" r="2.6"/><circle cx="1118.8" cy="1393.9" r="2.6"/><circle cx="1117.5" cy="1354.6" r="2.6"/><circle cx="1118.1" cy="1314.8" r="2.6"/><circle cx="1115.9" cy="1396.0" r="2.6"/><circle cx="1125.6" cy="1383.1" r="2.6"/><circle cx="1119.9" cy="1378.5" r="2.6"/><circle cx="1119.3" cy="1303.9" r="2.6"/><circle cx="1119.4" cy="1348.4" r="2.6"/><circle cx="1108.1" cy="1387.0" r="2.6"/><circle cx="1127.0" cy="1384.7" r="2.6"/><circle cx="1122.1" cy="1377.4" r="2.6"/><circle cx="1120.2" cy="1382.9" r="2.6"/><circle cx="1116.0" cy="1327.0" r="2.6"/><circle cx="1116.3" cy="1372.6" r="2.6"/><circle cx="1114.9" cy="1376.4" r="2.6"/><circle cx="1122.2" cy="1368.1" r="2.6"/><circle cx="1114.2" cy="1393.4" r="2.6"/><circle cx="1120.1" cy="1364.3" r="2.6"/><circle cx="1115.3" cy="1306.8" r="2.6"/><circle cx="1116.1" cy="1337.4" r="2.6"/><circle cx="1123.8" cy="1379.5" r="2.6"/><circle cx="1122.0" cy="1378.7" r="2.6"/><circle cx="1118.9" cy="1365.1" r="2.6"/><circle cx="1119.5" cy="1315.2" r="2.6"/><circle cx="1117.7" cy="1358.1" r="2.6"/><circle cx="1115.5" cy="1381.3" r="2.6"/><circle cx="1120.0" cy="1371.3" r="2.6"/><circle cx="1114.8" cy="1390.7" r="2.6"/><circle cx="1114.5" cy="1382.3" r="2.6"/><circle cx="1149.5" cy="1299.3" r="2.6"/><circle cx="1144.5" cy="1391.4" r="2.6"/><circle cx="1146.4" cy="1345.7" r="2.6"/><circle cx="1151.2" cy="1364.7" r="2.6"/><circle cx="1139.0" cy="1375.7" r="2.6"/><circle cx="1147.4" cy="1342.8" r="2.6"/><circle cx="1148.2" cy="1345.7" r="2.6"/><circle cx="1152.3" cy="1258.1" r="2.6"/><circle cx="1148.3" cy="1389.4" r="2.6"/><circle cx="1143.6" cy="1360.5" r="2.6"/><circle cx="1146.1" cy="1359.7" r="2.6"/><circle cx="1148.5" cy="1342.8" r="2.6"/><circle cx="1147.4" cy="1333.5" r="2.6"/><circle cx="1149.9" cy="1386.5" r="2.6"/><circle cx="1149.9" cy="1386.7" r="2.6"/><circle cx="1146.8" cy="1374.7" r="2.6"/><circle cx="1147.6" cy="1356.4" r="2.6"/><circle cx="1146.3" cy="1359.0" r="2.6"/><circle cx="1152.0" cy="1384.3" r="2.6"/><circle cx="1148.1" cy="1327.1" r="2.6"/><circle cx="1150.5" cy="1260.4" r="2.6"/><circle cx="1145.3" cy="1347.3" r="2.6"/><circle cx="1146.1" cy="1339.0" r="2.6"/><circle cx="1147.1" cy="1291.1" r="2.6"/><circle cx="1140.8" cy="1377.1" r="2.6"/><circle cx="1149.7" cy="1342.9" r="2.6"/><circle cx="1146.2" cy="1323.6" r="2.6"/><circle cx="1147.8" cy="1375.8" r="2.6"/><circle cx="1145.0" cy="1340.8" r="2.6"/><circle cx="1145.1" cy="1314.5" r="2.6"/><circle cx="1150.3" cy="1338.4" r="2.6"/><circle cx="1150.5" cy="1382.7" r="2.6"/><circle cx="1144.4" cy="1370.6" r="2.6"/><circle cx="1146.7" cy="1350.9" r="2.6"/><circle cx="1145.6" cy="1318.3" r="2.6"/><circle cx="1143.9" cy="1386.5" r="2.6"/><circle cx="1144.5" cy="1358.9" r="2.6"/><circle cx="1146.6" cy="1335.4" r="2.6"/><circle cx="1144.6" cy="1348.2" r="2.6"/><circle cx="1151.6" cy="1386.6" r="2.6"/><circle cx="1150.2" cy="1348.1" r="2.6"/><circle cx="1153.1" cy="1371.1" r="2.6"/><circle cx="1146.0" cy="1303.4" r="2.6"/><circle cx="1139.9" cy="1379.5" r="2.6"/><circle cx="1140.4" cy="1377.3" r="2.6"/><circle cx="1143.5" cy="1361.6" r="2.6"/><circle cx="1141.9" cy="1261.0" r="2.6"/><circle cx="1148.5" cy="1356.3" r="2.6"/><circle cx="1146.7" cy="1317.6" r="2.6"/><circle cx="1150.0" cy="1369.5" r="2.6"/><circle cx="1148.9" cy="1349.8" r="2.6"/><circle cx="1143.6" cy="1352.7" r="2.6"/><circle cx="1144.2" cy="1374.9" r="2.6"/><circle cx="1144.9" cy="1373.1" r="2.6"/><circle cx="1144.8" cy="1392.9" r="2.6"/><circle cx="1147.3" cy="1297.7" r="2.6"/><circle cx="1154.2" cy="1384.6" r="2.6"/><circle cx="1146.7" cy="1261.2" r="2.6"/><circle cx="1144.8" cy="1259.7" r="2.6"/><circle cx="1144.0" cy="1367.3" r="2.6"/><circle cx="1145.7" cy="1388.4" r="2.6"/><circle cx="1149.6" cy="1337.9" r="2.6"/><circle cx="1141.3" cy="1383.3" r="2.6"/><circle cx="1150.2" cy="1354.5" r="2.6"/><circle cx="1151.9" cy="1356.3" r="2.6"/><circle cx="1150.9" cy="1380.2" r="2.6"/><circle cx="1142.7" cy="1365.8" r="2.6"/><circle cx="1149.9" cy="1374.3" r="2.6"/><circle cx="1148.3" cy="1372.3" r="2.6"/><circle cx="1148.8" cy="1350.4" r="2.6"/><circle cx="1150.7" cy="1390.7" r="2.6"/><circle cx="1149.9" cy="1370.6" r="2.6"/><circle cx="1146.4" cy="1303.7" r="2.6"/><circle cx="1147.6" cy="1382.7" r="2.6"/><circle cx="1145.6" cy="1282.4" r="2.6"/><circle cx="1141.7" cy="1379.2" r="2.6"/><circle cx="1153.3" cy="1375.4" r="2.6"/><circle cx="1149.8" cy="1376.8" r="2.6"/><circle cx="1149.7" cy="1375.5" r="2.6"/><circle cx="1150.9" cy="1369.1" r="2.6"/><circle cx="1149.3" cy="1347.0" r="2.6"/><circle cx="1141.0" cy="1376.3" r="2.6"/><circle cx="1141.7" cy="1379.4" r="2.6"/><circle cx="1153.5" cy="1257.6" r="2.6"/><circle cx="1150.6" cy="1390.0" r="2.6"/><circle cx="1142.4" cy="1259.5" r="2.6"/><circle cx="1145.2" cy="1372.5" r="2.6"/><circle cx="1144.7" cy="1359.8" r="2.6"/><circle cx="1147.3" cy="1295.4" r="2.6"/><circle cx="1144.8" cy="1392.2" r="2.6"/><circle cx="1151.0" cy="1361.2" r="2.6"/><circle cx="1147.4" cy="1256.3" r="2.6"/><circle cx="1149.4" cy="1355.9" r="2.6"/><circle cx="1147.8" cy="1340.6" r="2.6"/><circle cx="1142.9" cy="1257.0" r="2.6"/><circle cx="1148.4" cy="1360.5" r="2.6"/><circle cx="1150.5" cy="1363.1" r="2.6"/><circle cx="1150.0" cy="1343.7" r="2.6"/><circle cx="1147.9" cy="1252.5" r="2.6"/><circle cx="1149.5" cy="1361.5" r="2.6"/><circle cx="1148.2" cy="1243.3" r="2.6"/><circle cx="1145.8" cy="1365.6" r="2.6"/><circle cx="1148.8" cy="1317.5" r="2.6"/><circle cx="1152.7" cy="1383.2" r="2.6"/><circle cx="1146.3" cy="1317.1" r="2.6"/><circle cx="1153.8" cy="1364.0" r="2.6"/><circle cx="1148.1" cy="1346.3" r="2.6"/><circle cx="1152.8" cy="1262.9" r="2.6"/><circle cx="1152.9" cy="1260.6" r="2.6"/><circle cx="1150.1" cy="1349.9" r="2.6"/><circle cx="1147.8" cy="1328.8" r="2.6"/><circle cx="1144.7" cy="1259.4" r="2.6"/><circle cx="1147.7" cy="1231.2" r="2.6"/><circle cx="1148.8" cy="1286.9" r="2.6"/><circle cx="1149.6" cy="1343.5" r="2.6"/><circle cx="1145.2" cy="1329.3" r="2.6"/><circle cx="1146.5" cy="1338.7" r="2.6"/><circle cx="1150.2" cy="1261.4" r="2.6"/><circle cx="1145.0" cy="1343.6" r="2.6"/><circle cx="1147.8" cy="1262.1" r="2.6"/><circle cx="1146.9" cy="1349.1" r="2.6"/><circle cx="1149.0" cy="1306.4" r="2.6"/><circle cx="1152.2" cy="1379.4" r="2.6"/><circle cx="1147.0" cy="1287.3" r="2.6"/><circle cx="1142.8" cy="1369.2" r="2.6"/><circle cx="1148.0" cy="1246.5" r="2.6"/><circle cx="1148.5" cy="1359.9" r="2.6"/><circle cx="1148.7" cy="1342.0" r="2.6"/><circle cx="1148.1" cy="1262.5" r="2.6"/><circle cx="1149.8" cy="1389.4" r="2.6"/><circle cx="1150.5" cy="1386.9" r="2.6"/><circle cx="1147.4" cy="1391.3" r="2.6"/><circle cx="1138.8" cy="1370.5" r="2.6"/><circle cx="1146.3" cy="1361.3" r="2.6"/><circle cx="1149.7" cy="1378.8" r="2.6"/><circle cx="1149.6" cy="1375.5" r="2.6"/><circle cx="1148.2" cy="1321.3" r="2.6"/><circle cx="1147.8" cy="1373.4" r="2.6"/><circle cx="1140.1" cy="1370.3" r="2.6"/><circle cx="1140.3" cy="1385.1" r="2.6"/><circle cx="1147.9" cy="1240.5" r="2.6"/><circle cx="1144.7" cy="1355.1" r="2.6"/><circle cx="1146.9" cy="1313.4" r="2.6"/><circle cx="1151.8" cy="1358.5" r="2.6"/><circle cx="1147.0" cy="1245.5" r="2.6"/><circle cx="1152.3" cy="1388.2" r="2.6"/><circle cx="1150.9" cy="1361.0" r="2.6"/><circle cx="1147.4" cy="1254.4" r="2.6"/><circle cx="1145.6" cy="1303.5" r="2.6"/><circle cx="1149.4" cy="1327.9" r="2.6"/><circle cx="1150.2" cy="1329.8" r="2.6"/><circle cx="1149.8" cy="1320.4" r="2.6"/><circle cx="1152.2" cy="1383.1" r="2.6"/><circle cx="1148.5" cy="1280.9" r="2.6"/><circle cx="1149.4" cy="1378.6" r="2.6"/><circle cx="1154.9" cy="1384.4" r="2.6"/><circle cx="1151.2" cy="1360.3" r="2.6"/><circle cx="1148.9" cy="1292.7" r="2.6"/><circle cx="1144.8" cy="1352.1" r="2.6"/><circle cx="1148.0" cy="1333.2" r="2.6"/><circle cx="1141.7" cy="1366.5" r="2.6"/><circle cx="1150.7" cy="1358.9" r="2.6"/><circle cx="1148.6" cy="1358.7" r="2.6"/><circle cx="1149.3" cy="1347.1" r="2.6"/><circle cx="1148.2" cy="1289.4" r="2.6"/><circle cx="1149.9" cy="1393.6" r="2.6"/><circle cx="1149.7" cy="1346.0" r="2.6"/><circle cx="1149.4" cy="1322.3" r="2.6"/><circle cx="1149.9" cy="1357.4" r="2.6"/><circle cx="1147.9" cy="1351.8" r="2.6"/><circle cx="1153.0" cy="1386.6" r="2.6"/><circle cx="1146.9" cy="1237.6" r="2.6"/><circle cx="1153.0" cy="1259.1" r="2.6"/><circle cx="1145.0" cy="1331.6" r="2.6"/><circle cx="1178.3" cy="1360.6" r="2.6"/><circle cx="1178.4" cy="1329.6" r="2.6"/><circle cx="1176.7" cy="1357.2" r="2.6"/><circle cx="1167.5" cy="1377.8" r="2.6"/><circle cx="1176.8" cy="1382.0" r="2.6"/><circle cx="1178.4" cy="1248.5" r="2.6"/><circle cx="1179.2" cy="1313.0" r="2.6"/><circle cx="1178.1" cy="1328.0" r="2.6"/><circle cx="1180.8" cy="1378.0" r="2.6"/><circle cx="1175.7" cy="1348.3" r="2.6"/><circle cx="1174.3" cy="1390.4" r="2.6"/><circle cx="1177.9" cy="1308.3" r="2.6"/><circle cx="1178.3" cy="1341.1" r="2.6"/><circle cx="1176.9" cy="1350.8" r="2.6"/><circle cx="1186.3" cy="1375.7" r="2.6"/><circle cx="1179.3" cy="1365.2" r="2.6"/><circle cx="1178.1" cy="1313.2" r="2.6"/><circle cx="1179.3" cy="1351.3" r="2.6"/><circle cx="1177.5" cy="1319.9" r="2.6"/><circle cx="1174.1" cy="1388.8" r="2.6"/><circle cx="1174.2" cy="1365.5" r="2.6"/><circle cx="1178.3" cy="1384.9" r="2.6"/><circle cx="1176.0" cy="1367.3" r="2.6"/><circle cx="1177.4" cy="1394.7" r="2.6"/><circle cx="1175.7" cy="1350.3" r="2.6"/><circle cx="1174.2" cy="1359.4" r="2.6"/><circle cx="1179.3" cy="1396.1" r="2.6"/><circle cx="1178.4" cy="1363.2" r="2.6"/><circle cx="1178.3" cy="1351.6" r="2.6"/><circle cx="1174.4" cy="1391.7" r="2.6"/><circle cx="1179.0" cy="1336.4" r="2.6"/><circle cx="1176.8" cy="1359.0" r="2.6"/><circle cx="1176.0" cy="1364.0" r="2.6"/><circle cx="1178.5" cy="1292.0" r="2.6"/><circle cx="1183.7" cy="1384.3" r="2.6"/><circle cx="1176.8" cy="1346.2" r="2.6"/><circle cx="1172.6" cy="1368.1" r="2.6"/><circle cx="1174.1" cy="1381.4" r="2.6"/><circle cx="1184.3" cy="1377.8" r="2.6"/><circle cx="1185.3" cy="1375.1" r="2.6"/><circle cx="1177.5" cy="1294.1" r="2.6"/><circle cx="1177.9" cy="1256.8" r="2.6"/><circle cx="1174.2" cy="1358.5" r="2.6"/><circle cx="1186.7" cy="1384.1" r="2.6"/><circle cx="1175.6" cy="1360.4" r="2.6"/><circle cx="1178.1" cy="1341.8" r="2.6"/><circle cx="1177.8" cy="1381.0" r="2.6"/><circle cx="1170.8" cy="1369.7" r="2.6"/><circle cx="1174.9" cy="1366.0" r="2.6"/><circle cx="1177.4" cy="1317.5" r="2.6"/><circle cx="1177.8" cy="1366.4" r="2.6"/><circle cx="1179.8" cy="1315.0" r="2.6"/><circle cx="1175.8" cy="1307.7" r="2.6"/><circle cx="1177.7" cy="1337.2" r="2.6"/><circle cx="1169.6" cy="1377.4" r="2.6"/><circle cx="1180.5" cy="1346.8" r="2.6"/><circle cx="1176.2" cy="1336.7" r="2.6"/><circle cx="1184.9" cy="1386.8" r="2.6"/><circle cx="1176.4" cy="1396.2" r="2.6"/><circle cx="1186.4" cy="1376.9" r="2.6"/><circle cx="1178.3" cy="1319.6" r="2.6"/><circle cx="1176.3" cy="1343.8" r="2.6"/><circle cx="1178.9" cy="1377.4" r="2.6"/><circle cx="1169.6" cy="1384.2" r="2.6"/><circle cx="1174.8" cy="1354.7" r="2.6"/><circle cx="1175.0" cy="1364.6" r="2.6"/><circle cx="1175.1" cy="1330.7" r="2.6"/><circle cx="1184.1" cy="1373.5" r="2.6"/><circle cx="1176.8" cy="1387.1" r="2.6"/><circle cx="1179.2" cy="1369.3" r="2.6"/><circle cx="1178.6" cy="1361.8" r="2.6"/><circle cx="1178.3" cy="1254.1" r="2.6"/><circle cx="1177.8" cy="1375.2" r="2.6"/><circle cx="1175.8" cy="1366.0" r="2.6"/><circle cx="1186.3" cy="1381.5" r="2.6"/><circle cx="1186.5" cy="1375.1" r="2.6"/><circle cx="1180.0" cy="1352.9" r="2.6"/><circle cx="1178.9" cy="1356.8" r="2.6"/><circle cx="1177.1" cy="1333.1" r="2.6"/><circle cx="1175.2" cy="1355.1" r="2.6"/><circle cx="1180.2" cy="1355.3" r="2.6"/><circle cx="1178.0" cy="1340.9" r="2.6"/><circle cx="1169.7" cy="1381.1" r="2.6"/><circle cx="1178.9" cy="1388.4" r="2.6"/><circle cx="1186.4" cy="1372.8" r="2.6"/><circle cx="1173.6" cy="1359.5" r="2.6"/><circle cx="1173.5" cy="1389.0" r="2.6"/><circle cx="1178.3" cy="1363.2" r="2.6"/><circle cx="1171.7" cy="1390.1" r="2.6"/><circle cx="1178.2" cy="1248.3" r="2.6"/><circle cx="1170.2" cy="1386.0" r="2.6"/><circle cx="1178.4" cy="1389.8" r="2.6"/><circle cx="1183.5" cy="1379.7" r="2.6"/><circle cx="1179.7" cy="1364.9" r="2.6"/><circle cx="1178.3" cy="1244.9" r="2.6"/><circle cx="1176.2" cy="1360.9" r="2.6"/><circle cx="1175.1" cy="1392.6" r="2.6"/><circle cx="1179.7" cy="1312.9" r="2.6"/><circle cx="1179.8" cy="1262.4" r="2.6"/><circle cx="1173.8" cy="1364.7" r="2.6"/><circle cx="1177.1" cy="1331.1" r="2.6"/><circle cx="1178.4" cy="1385.6" r="2.6"/><circle cx="1176.4" cy="1359.2" r="2.6"/><circle cx="1177.8" cy="1385.8" r="2.6"/><circle cx="1179.3" cy="1338.6" r="2.6"/><circle cx="1183.1" cy="1378.8" r="2.6"/><circle cx="1178.4" cy="1302.0" r="2.6"/><circle cx="1174.0" cy="1366.6" r="2.6"/><circle cx="1168.9" cy="1378.2" r="2.6"/><circle cx="1173.9" cy="1386.9" r="2.6"/><circle cx="1181.4" cy="1360.4" r="2.6"/><circle cx="1182.2" cy="1366.0" r="2.6"/><circle cx="1179.0" cy="1337.1" r="2.6"/><circle cx="1175.5" cy="1288.8" r="2.6"/><circle cx="1177.4" cy="1371.3" r="2.6"/><circle cx="1176.4" cy="1329.2" r="2.6"/><circle cx="1170.0" cy="1377.0" r="2.6"/><circle cx="1175.9" cy="1281.3" r="2.6"/><circle cx="1168.2" cy="1373.7" r="2.6"/><circle cx="1185.8" cy="1382.4" r="2.6"/><circle cx="1178.3" cy="1382.6" r="2.6"/><circle cx="1179.8" cy="1383.3" r="2.6"/><circle cx="1179.9" cy="1328.5" r="2.6"/><circle cx="1177.8" cy="1391.6" r="2.6"/><circle cx="1181.9" cy="1366.2" r="2.6"/><circle cx="1171.9" cy="1388.6" r="2.6"/><circle cx="1178.1" cy="1299.2" r="2.6"/><circle cx="1171.0" cy="1380.9" r="2.6"/><circle cx="1178.8" cy="1363.0" r="2.6"/><circle cx="1175.9" cy="1348.8" r="2.6"/><circle cx="1179.2" cy="1346.2" r="2.6"/><circle cx="1178.4" cy="1393.9" r="2.6"/><circle cx="1175.3" cy="1350.8" r="2.6"/><circle cx="1177.4" cy="1355.3" r="2.6"/><circle cx="1179.3" cy="1374.2" r="2.6"/><circle cx="1172.6" cy="1382.4" r="2.6"/><circle cx="1178.9" cy="1339.9" r="2.6"/><circle cx="1182.9" cy="1387.9" r="2.6"/><circle cx="1179.4" cy="1365.1" r="2.6"/><circle cx="1179.9" cy="1386.3" r="2.6"/><circle cx="1187.6" cy="1382.4" r="2.6"/><circle cx="1179.7" cy="1318.2" r="2.6"/><circle cx="1187.5" cy="1379.3" r="2.6"/><circle cx="1178.2" cy="1341.4" r="2.6"/><circle cx="1179.1" cy="1346.4" r="2.6"/><circle cx="1176.9" cy="1353.1" r="2.6"/><circle cx="1177.9" cy="1364.4" r="2.6"/><circle cx="1177.3" cy="1342.6" r="2.6"/><circle cx="1175.2" cy="1350.8" r="2.6"/><circle cx="1171.2" cy="1377.8" r="2.6"/><circle cx="1171.9" cy="1381.2" r="2.6"/><circle cx="1178.6" cy="1342.7" r="2.6"/><circle cx="1176.1" cy="1330.5" r="2.6"/><circle cx="1169.5" cy="1382.2" r="2.6"/><circle cx="1177.5" cy="1237.7" r="2.6"/><circle cx="1178.2" cy="1388.8" r="2.6"/><circle cx="1176.9" cy="1283.2" r="2.6"/><circle cx="1210.0" cy="1373.6" r="2.6"/><circle cx="1208.1" cy="1358.0" r="2.6"/><circle cx="1202.1" cy="1390.9" r="2.6"/><circle cx="1207.3" cy="1371.9" r="2.6"/><circle cx="1208.3" cy="1378.6" r="2.6"/><circle cx="1209.0" cy="1396.5" r="2.6"/><circle cx="1209.1" cy="1352.1" r="2.6"/><circle cx="1206.8" cy="1320.4" r="2.6"/><circle cx="1206.6" cy="1355.5" r="2.6"/><circle cx="1209.7" cy="1382.8" r="2.6"/><circle cx="1208.3" cy="1314.9" r="2.6"/><circle cx="1214.9" cy="1383.1" r="2.6"/><circle cx="1207.1" cy="1249.9" r="2.6"/><circle cx="1216.0" cy="1383.3" r="2.6"/><circle cx="1210.4" cy="1357.4" r="2.6"/><circle cx="1210.4" cy="1370.8" r="2.6"/><circle cx="1200.8" cy="1386.8" r="2.6"/><circle cx="1204.2" cy="1380.2" r="2.6"/><circle cx="1206.2" cy="1379.7" r="2.6"/><circle cx="1207.6" cy="1366.2" r="2.6"/><circle cx="1202.3" cy="1390.3" r="2.6"/><circle cx="1215.6" cy="1378.9" r="2.6"/><circle cx="1198.6" cy="1387.7" r="2.6"/><circle cx="1204.8" cy="1363.2" r="2.6"/><circle cx="1206.7" cy="1384.6" r="2.6"/><circle cx="1207.7" cy="1326.4" r="2.6"/><circle cx="1207.9" cy="1261.7" r="2.6"/><circle cx="1210.0" cy="1320.7" r="2.6"/><circle cx="1208.6" cy="1339.6" r="2.6"/><circle cx="1207.4" cy="1259.4" r="2.6"/><circle cx="1206.0" cy="1351.5" r="2.6"/><circle cx="1213.7" cy="1384.3" r="2.6"/><circle cx="1210.6" cy="1374.7" r="2.6"/><circle cx="1206.8" cy="1247.6" r="2.6"/><circle cx="1200.4" cy="1382.3" r="2.6"/><circle cx="1209.4" cy="1343.7" r="2.6"/><circle cx="1208.1" cy="1346.6" r="2.6"/><circle cx="1205.1" cy="1377.9" r="2.6"/><circle cx="1205.6" cy="1393.6" r="2.6"/><circle cx="1208.6" cy="1331.5" r="2.6"/><circle cx="1203.5" cy="1369.3" r="2.6"/><circle cx="1202.5" cy="1384.3" r="2.6"/><circle cx="1207.2" cy="1342.5" r="2.6"/><circle cx="1209.3" cy="1337.1" r="2.6"/><circle cx="1209.6" cy="1371.4" r="2.6"/><circle cx="1203.4" cy="1370.2" r="2.6"/><circle cx="1214.4" cy="1385.0" r="2.6"/><circle cx="1209.4" cy="1392.2" r="2.6"/><circle cx="1204.9" cy="1364.2" r="2.6"/><circle cx="1202.0" cy="1388.2" r="2.6"/><circle cx="1214.6" cy="1383.6" r="2.6"/><circle cx="1211.7" cy="1389.3" r="2.6"/><circle cx="1206.5" cy="1338.8" r="2.6"/><circle cx="1206.8" cy="1329.7" r="2.6"/><circle cx="1204.6" cy="1353.8" r="2.6"/><circle cx="1208.9" cy="1378.4" r="2.6"/><circle cx="1206.2" cy="1358.0" r="2.6"/><circle cx="1209.4" cy="1364.0" r="2.6"/><circle cx="1213.2" cy="1390.0" r="2.6"/><circle cx="1206.3" cy="1360.5" r="2.6"/><circle cx="1206.2" cy="1372.3" r="2.6"/><circle cx="1202.2" cy="1374.8" r="2.6"/><circle cx="1217.9" cy="1382.3" r="2.6"/><circle cx="1209.0" cy="1360.6" r="2.6"/><circle cx="1208.1" cy="1322.3" r="2.6"/><circle cx="1203.5" cy="1365.2" r="2.6"/><circle cx="1200.6" cy="1382.5" r="2.6"/><circle cx="1207.9" cy="1392.3" r="2.6"/><circle cx="1212.2" cy="1381.8" r="2.6"/><circle cx="1207.1" cy="1349.7" r="2.6"/><circle cx="1206.9" cy="1362.3" r="2.6"/><circle cx="1202.9" cy="1392.8" r="2.6"/><circle cx="1212.3" cy="1383.5" r="2.6"/><circle cx="1209.7" cy="1372.9" r="2.6"/><circle cx="1206.7" cy="1372.7" r="2.6"/><circle cx="1204.8" cy="1362.8" r="2.6"/><circle cx="1209.4" cy="1350.0" r="2.6"/><circle cx="1209.3" cy="1375.5" r="2.6"/><circle cx="1206.2" cy="1327.8" r="2.6"/><circle cx="1210.7" cy="1364.4" r="2.6"/><circle cx="1206.1" cy="1372.8" r="2.6"/><circle cx="1208.0" cy="1362.9" r="2.6"/><circle cx="1210.8" cy="1374.4" r="2.6"/><circle cx="1207.0" cy="1340.4" r="2.6"/><circle cx="1205.7" cy="1392.1" r="2.6"/><circle cx="1208.5" cy="1309.6" r="2.6"/><circle cx="1206.5" cy="1347.1" r="2.6"/><circle cx="1207.7" cy="1261.8" r="2.6"/><circle cx="1216.6" cy="1380.4" r="2.6"/><circle cx="1210.2" cy="1371.2" r="2.6"/><circle cx="1214.9" cy="1385.9" r="2.6"/><circle cx="1206.3" cy="1376.5" r="2.6"/><circle cx="1209.6" cy="1350.4" r="2.6"/><circle cx="1207.5" cy="1356.6" r="2.6"/><circle cx="1208.3" cy="1294.4" r="2.6"/><circle cx="1204.9" cy="1380.2" r="2.6"/><circle cx="1203.1" cy="1382.8" r="2.6"/><circle cx="1200.0" cy="1387.9" r="2.6"/><circle cx="1207.1" cy="1306.0" r="2.6"/><circle cx="1206.7" cy="1338.4" r="2.6"/><circle cx="1211.7" cy="1378.3" r="2.6"/><circle cx="1206.4" cy="1383.7" r="2.6"/><circle cx="1208.1" cy="1366.7" r="2.6"/><circle cx="1204.5" cy="1366.8" r="2.6"/><circle cx="1208.5" cy="1358.4" r="2.6"/><circle cx="1206.2" cy="1339.9" r="2.6"/><circle cx="1198.4" cy="1382.9" r="2.6"/><circle cx="1212.3" cy="1386.3" r="2.6"/><circle cx="1207.8" cy="1242.6" r="2.6"/><circle cx="1206.4" cy="1373.4" r="2.6"/><circle cx="1206.9" cy="1249.6" r="2.6"/><circle cx="1211.4" cy="1393.5" r="2.6"/><circle cx="1200.0" cy="1389.9" r="2.6"/><circle cx="1209.5" cy="1351.3" r="2.6"/><circle cx="1215.1" cy="1380.5" r="2.6"/><circle cx="1215.1" cy="1388.8" r="2.6"/><circle cx="1205.7" cy="1347.3" r="2.6"/><circle cx="1204.8" cy="1368.6" r="2.6"/><circle cx="1207.6" cy="1355.0" r="2.6"/><circle cx="1202.0" cy="1382.0" r="2.6"/><circle cx="1209.9" cy="1373.6" r="2.6"/><circle cx="1201.9" cy="1382.5" r="2.6"/><circle cx="1216.5" cy="1380.9" r="2.6"/><circle cx="1207.1" cy="1373.2" r="2.6"/><circle cx="1208.1" cy="1374.4" r="2.6"/><circle cx="1209.3" cy="1285.0" r="2.6"/><circle cx="1204.8" cy="1365.0" r="2.6"/><circle cx="1212.5" cy="1374.3" r="2.6"/><circle cx="1205.6" cy="1291.3" r="2.6"/><circle cx="1210.5" cy="1369.7" r="2.6"/><circle cx="1210.8" cy="1369.7" r="2.6"/><circle cx="1208.2" cy="1371.5" r="2.6"/><circle cx="1201.7" cy="1386.4" r="2.6"/><circle cx="1209.2" cy="1359.0" r="2.6"/><circle cx="1212.9" cy="1385.2" r="2.6"/><circle cx="1209.6" cy="1314.0" r="2.6"/><circle cx="1206.0" cy="1318.3" r="2.6"/><circle cx="1208.0" cy="1253.0" r="2.6"/><circle cx="1206.2" cy="1340.9" r="2.6"/><circle cx="1200.3" cy="1375.5" r="2.6"/><circle cx="1209.3" cy="1353.8" r="2.6"/><circle cx="1215.3" cy="1384.3" r="2.6"/><circle cx="1212.0" cy="1377.6" r="2.6"/><circle cx="1209.4" cy="1344.7" r="2.6"/><circle cx="1207.7" cy="1312.0" r="2.6"/><circle cx="1205.9" cy="1339.5" r="2.6"/><circle cx="1207.3" cy="1393.2" r="2.6"/><circle cx="1211.7" cy="1380.2" r="2.6"/><circle cx="1203.9" cy="1373.2" r="2.6"/><circle cx="1201.4" cy="1375.9" r="2.6"/><circle cx="1202.9" cy="1379.6" r="2.6"/><circle cx="1210.3" cy="1350.2" r="2.6"/><circle cx="1206.4" cy="1339.5" r="2.6"/><circle cx="1205.7" cy="1344.2" r="2.6"/><circle cx="1205.4" cy="1374.2" r="2.6"/><circle cx="1205.8" cy="1377.6" r="2.6"/><circle cx="1206.1" cy="1361.5" r="2.6"/><circle cx="1208.4" cy="1329.8" r="2.6"/><circle cx="1230.7" cy="1377.3" r="2.6"/><circle cx="1237.2" cy="1260.4" r="2.6"/><circle cx="1240.8" cy="1391.5" r="2.6"/><circle cx="1235.5" cy="1366.1" r="2.6"/><circle cx="1234.3" cy="1389.2" r="2.6"/><circle cx="1243.5" cy="1390.9" r="2.6"/><circle cx="1236.0" cy="1354.4" r="2.6"/><circle cx="1244.5" cy="1390.8" r="2.6"/><circle cx="1240.8" cy="1387.7" r="2.6"/><circle cx="1236.5" cy="1375.2" r="2.6"/><circle cx="1234.4" cy="1373.1" r="2.6"/><circle cx="1234.0" cy="1388.1" r="2.6"/><circle cx="1236.1" cy="1355.2" r="2.6"/><circle cx="1234.8" cy="1374.2" r="2.6"/><circle cx="1240.3" cy="1355.1" r="2.6"/><circle cx="1235.3" cy="1357.1" r="2.6"/><circle cx="1238.6" cy="1318.5" r="2.6"/><circle cx="1233.0" cy="1378.2" r="2.6"/><circle cx="1238.3" cy="1397.1" r="2.6"/><circle cx="1237.1" cy="1332.9" r="2.6"/><circle cx="1235.2" cy="1379.8" r="2.6"/><circle cx="1237.2" cy="1375.2" r="2.6"/><circle cx="1238.6" cy="1349.6" r="2.6"/><circle cx="1235.7" cy="1394.9" r="2.6"/><circle cx="1238.1" cy="1331.7" r="2.6"/><circle cx="1236.6" cy="1390.6" r="2.6"/><circle cx="1238.9" cy="1378.8" r="2.6"/><circle cx="1234.6" cy="1378.9" r="2.6"/><circle cx="1239.9" cy="1384.0" r="2.6"/><circle cx="1232.8" cy="1385.1" r="2.6"/><circle cx="1238.6" cy="1366.3" r="2.6"/><circle cx="1236.4" cy="1348.4" r="2.6"/><circle cx="1235.5" cy="1383.9" r="2.6"/><circle cx="1239.4" cy="1318.3" r="2.6"/><circle cx="1237.9" cy="1249.2" r="2.6"/><circle cx="1237.1" cy="1336.8" r="2.6"/><circle cx="1239.1" cy="1379.6" r="2.6"/><circle cx="1232.2" cy="1379.4" r="2.6"/><circle cx="1238.7" cy="1370.6" r="2.6"/><circle cx="1239.6" cy="1394.2" r="2.6"/><circle cx="1238.1" cy="1367.2" r="2.6"/><circle cx="1238.0" cy="1344.9" r="2.6"/><circle cx="1236.9" cy="1393.6" r="2.6"/><circle cx="1244.4" cy="1380.9" r="2.6"/><circle cx="1237.4" cy="1360.2" r="2.6"/><circle cx="1236.8" cy="1347.9" r="2.6"/><circle cx="1238.9" cy="1393.8" r="2.6"/><circle cx="1240.3" cy="1374.5" r="2.6"/><circle cx="1233.4" cy="1372.7" r="2.6"/><circle cx="1235.5" cy="1390.1" r="2.6"/><circle cx="1238.1" cy="1383.6" r="2.6"/><circle cx="1232.3" cy="1389.0" r="2.6"/><circle cx="1236.9" cy="1257.9" r="2.6"/><circle cx="1238.1" cy="1356.7" r="2.6"/><circle cx="1237.1" cy="1385.8" r="2.6"/><circle cx="1238.7" cy="1294.9" r="2.6"/><circle cx="1237.1" cy="1356.8" r="2.6"/><circle cx="1236.0" cy="1359.0" r="2.6"/><circle cx="1239.0" cy="1351.8" r="2.6"/><circle cx="1247.8" cy="1384.8" r="2.6"/><circle cx="1241.5" cy="1383.1" r="2.6"/><circle cx="1234.4" cy="1374.8" r="2.6"/><circle cx="1243.2" cy="1390.4" r="2.6"/><circle cx="1235.4" cy="1377.6" r="2.6"/><circle cx="1237.3" cy="1331.4" r="2.6"/><circle cx="1244.0" cy="1387.7" r="2.6"/><circle cx="1240.8" cy="1382.9" r="2.6"/><circle cx="1232.1" cy="1377.0" r="2.6"/><circle cx="1235.6" cy="1360.5" r="2.6"/><circle cx="1237.9" cy="1381.3" r="2.6"/><circle cx="1237.1" cy="1373.6" r="2.6"/><circle cx="1238.5" cy="1364.4" r="2.6"/><circle cx="1237.6" cy="1257.5" r="2.6"/><circle cx="1242.5" cy="1382.5" r="2.6"/><circle cx="1237.3" cy="1332.9" r="2.6"/><circle cx="1235.1" cy="1389.3" r="2.6"/><circle cx="1230.6" cy="1380.9" r="2.6"/><circle cx="1234.9" cy="1339.7" r="2.6"/><circle cx="1236.0" cy="1363.1" r="2.6"/><circle cx="1232.1" cy="1386.3" r="2.6"/><circle cx="1237.5" cy="1339.0" r="2.6"/><circle cx="1237.4" cy="1322.7" r="2.6"/><circle cx="1238.4" cy="1371.9" r="2.6"/><circle cx="1238.3" cy="1293.8" r="2.6"/><circle cx="1236.2" cy="1356.8" r="2.6"/><circle cx="1237.7" cy="1335.3" r="2.6"/><circle cx="1236.3" cy="1331.4" r="2.6"/><circle cx="1231.8" cy="1382.5" r="2.6"/><circle cx="1237.7" cy="1374.2" r="2.6"/><circle cx="1234.3" cy="1384.8" r="2.6"/><circle cx="1239.5" cy="1364.5" r="2.6"/><circle cx="1232.3" cy="1389.4" r="2.6"/><circle cx="1235.5" cy="1309.5" r="2.6"/><circle cx="1243.2" cy="1380.3" r="2.6"/><circle cx="1235.6" cy="1365.0" r="2.6"/><circle cx="1234.0" cy="1392.3" r="2.6"/><circle cx="1239.1" cy="1326.4" r="2.6"/><circle cx="1237.0" cy="1348.0" r="2.6"/><circle cx="1239.0" cy="1296.9" r="2.6"/><circle cx="1231.6" cy="1388.6" r="2.6"/><circle cx="1236.4" cy="1395.8" r="2.6"/><circle cx="1245.4" cy="1389.9" r="2.6"/><circle cx="1238.8" cy="1389.5" r="2.6"/><circle cx="1237.7" cy="1363.5" r="2.6"/><circle cx="1230.7" cy="1382.4" r="2.6"/><circle cx="1238.3" cy="1263.0" r="2.6"/><circle cx="1237.8" cy="1328.1" r="2.6"/><circle cx="1238.8" cy="1347.2" r="2.6"/><circle cx="1241.6" cy="1376.8" r="2.6"/><circle cx="1236.5" cy="1316.8" r="2.6"/><circle cx="1234.1" cy="1375.9" r="2.6"/><circle cx="1246.1" cy="1381.8" r="2.6"/><circle cx="1234.3" cy="1394.1" r="2.6"/><circle cx="1247.3" cy="1382.1" r="2.6"/><circle cx="1234.9" cy="1361.9" r="2.6"/><circle cx="1241.1" cy="1369.2" r="2.6"/><circle cx="1244.2" cy="1385.1" r="2.6"/><circle cx="1238.5" cy="1354.4" r="2.6"/><circle cx="1241.3" cy="1374.8" r="2.6"/><circle cx="1239.5" cy="1377.4" r="2.6"/><circle cx="1238.1" cy="1294.9" r="2.6"/><circle cx="1237.1" cy="1389.8" r="2.6"/><circle cx="1235.3" cy="1354.1" r="2.6"/><circle cx="1240.0" cy="1350.0" r="2.6"/><circle cx="1239.2" cy="1374.7" r="2.6"/><circle cx="1241.2" cy="1384.0" r="2.6"/><circle cx="1247.1" cy="1385.7" r="2.6"/><circle cx="1233.2" cy="1375.3" r="2.6"/><circle cx="1237.8" cy="1355.0" r="2.6"/><circle cx="1236.6" cy="1393.2" r="2.6"/><circle cx="1236.0" cy="1356.0" r="2.6"/><circle cx="1238.9" cy="1321.9" r="2.6"/><circle cx="1237.9" cy="1356.5" r="2.6"/><circle cx="1241.5" cy="1383.0" r="2.6"/><circle cx="1237.5" cy="1373.0" r="2.6"/><circle cx="1232.6" cy="1383.0" r="2.6"/><circle cx="1239.8" cy="1345.2" r="2.6"/><circle cx="1238.8" cy="1344.3" r="2.6"/><circle cx="1234.7" cy="1368.5" r="2.6"/><circle cx="1238.6" cy="1376.6" r="2.6"/><circle cx="1237.1" cy="1371.5" r="2.6"/><circle cx="1241.8" cy="1384.0" r="2.6"/><circle cx="1231.7" cy="1388.3" r="2.6"/><circle cx="1236.8" cy="1382.1" r="2.6"/><circle cx="1236.0" cy="1380.7" r="2.6"/><circle cx="1238.4" cy="1330.9" r="2.6"/><circle cx="1234.3" cy="1387.8" r="2.6"/><circle cx="1236.5" cy="1355.5" r="2.6"/><circle cx="1239.7" cy="1365.4" r="2.6"/><circle cx="1239.3" cy="1360.9" r="2.6"/><circle cx="1239.2" cy="1310.5" r="2.6"/><circle cx="1237.8" cy="1345.1" r="2.6"/><circle cx="1236.7" cy="1362.5" r="2.6"/><circle cx="1234.9" cy="1390.2" r="2.6"/><circle cx="1247.1" cy="1387.6" r="2.6"/><circle cx="1269.4" cy="1376.7" r="2.6"/><circle cx="1258.5" cy="1387.6" r="2.6"/><circle cx="1267.1" cy="1261.3" r="2.6"/><circle cx="1265.5" cy="1394.0" r="2.6"/><circle cx="1268.3" cy="1394.6" r="2.6"/><circle cx="1267.4" cy="1381.2" r="2.6"/><circle cx="1260.9" cy="1390.4" r="2.6"/><circle cx="1267.8" cy="1381.3" r="2.6"/><circle cx="1260.0" cy="1387.2" r="2.6"/><circle cx="1269.3" cy="1325.4" r="2.6"/><circle cx="1267.0" cy="1369.9" r="2.6"/><circle cx="1260.4" cy="1390.1" r="2.6"/><circle cx="1266.6" cy="1390.9" r="2.6"/><circle cx="1267.9" cy="1255.8" r="2.6"/><circle cx="1264.2" cy="1387.9" r="2.6"/><circle cx="1265.6" cy="1388.4" r="2.6"/><circle cx="1277.5" cy="1387.1" r="2.6"/><circle cx="1267.3" cy="1371.7" r="2.6"/><circle cx="1269.4" cy="1369.5" r="2.6"/><circle cx="1269.5" cy="1354.2" r="2.6"/><circle cx="1263.5" cy="1375.5" r="2.6"/><circle cx="1267.4" cy="1366.4" r="2.6"/><circle cx="1264.5" cy="1370.8" r="2.6"/><circle cx="1266.1" cy="1379.0" r="2.6"/><circle cx="1276.7" cy="1382.6" r="2.6"/><circle cx="1266.2" cy="1350.6" r="2.6"/><circle cx="1259.4" cy="1389.8" r="2.6"/><circle cx="1274.1" cy="1386.5" r="2.6"/><circle cx="1273.2" cy="1389.9" r="2.6"/><circle cx="1265.8" cy="1383.1" r="2.6"/><circle cx="1269.5" cy="1387.6" r="2.6"/><circle cx="1259.4" cy="1381.5" r="2.6"/><circle cx="1268.9" cy="1347.7" r="2.6"/><circle cx="1268.0" cy="1389.4" r="2.6"/><circle cx="1260.7" cy="1388.5" r="2.6"/><circle cx="1263.7" cy="1378.4" r="2.6"/><circle cx="1265.2" cy="1349.0" r="2.6"/><circle cx="1267.8" cy="1389.2" r="2.6"/><circle cx="1271.3" cy="1372.8" r="2.6"/><circle cx="1264.9" cy="1377.0" r="2.6"/><circle cx="1266.8" cy="1365.7" r="2.6"/><circle cx="1268.1" cy="1388.8" r="2.6"/><circle cx="1262.9" cy="1388.2" r="2.6"/><circle cx="1269.6" cy="1367.4" r="2.6"/><circle cx="1265.4" cy="1361.5" r="2.6"/><circle cx="1269.6" cy="1394.8" r="2.6"/><circle cx="1273.5" cy="1384.6" r="2.6"/><circle cx="1276.7" cy="1385.4" r="2.6"/><circle cx="1266.0" cy="1302.4" r="2.6"/><circle cx="1266.0" cy="1305.6" r="2.6"/><circle cx="1266.8" cy="1320.7" r="2.6"/><circle cx="1266.6" cy="1339.9" r="2.6"/><circle cx="1267.4" cy="1377.1" r="2.6"/><circle cx="1267.2" cy="1383.8" r="2.6"/><circle cx="1268.2" cy="1261.7" r="2.6"/><circle cx="1271.8" cy="1388.9" r="2.6"/><circle cx="1267.3" cy="1365.5" r="2.6"/><circle cx="1265.0" cy="1310.0" r="2.6"/><circle cx="1259.0" cy="1389.0" r="2.6"/><circle cx="1267.6" cy="1343.8" r="2.6"/><circle cx="1266.3" cy="1370.1" r="2.6"/><circle cx="1264.9" cy="1343.4" r="2.6"/><circle cx="1269.0" cy="1383.0" r="2.6"/><circle cx="1257.1" cy="1384.8" r="2.6"/><circle cx="1270.3" cy="1366.6" r="2.6"/><circle cx="1265.0" cy="1359.6" r="2.6"/><circle cx="1274.4" cy="1380.4" r="2.6"/><circle cx="1271.8" cy="1387.2" r="2.6"/><circle cx="1276.8" cy="1383.3" r="2.6"/><circle cx="1265.5" cy="1329.7" r="2.6"/><circle cx="1268.3" cy="1395.3" r="2.6"/><circle cx="1269.7" cy="1308.6" r="2.6"/><circle cx="1266.2" cy="1396.9" r="2.6"/><circle cx="1268.1" cy="1371.9" r="2.6"/><circle cx="1275.4" cy="1387.9" r="2.6"/><circle cx="1266.4" cy="1315.0" r="2.6"/><circle cx="1267.4" cy="1357.4" r="2.6"/><circle cx="1269.7" cy="1365.1" r="2.6"/><circle cx="1268.2" cy="1378.3" r="2.6"/><circle cx="1269.2" cy="1345.0" r="2.6"/><circle cx="1267.1" cy="1384.2" r="2.6"/><circle cx="1267.4" cy="1377.2" r="2.6"/><circle cx="1268.3" cy="1339.8" r="2.6"/><circle cx="1267.5" cy="1362.5" r="2.6"/><circle cx="1266.9" cy="1337.8" r="2.6"/><circle cx="1260.2" cy="1387.5" r="2.6"/><circle cx="1271.9" cy="1394.0" r="2.6"/><circle cx="1269.8" cy="1329.5" r="2.6"/><circle cx="1266.8" cy="1301.3" r="2.6"/><circle cx="1268.9" cy="1296.8" r="2.6"/><circle cx="1258.4" cy="1385.2" r="2.6"/><circle cx="1266.2" cy="1381.5" r="2.6"/><circle cx="1261.6" cy="1392.2" r="2.6"/><circle cx="1265.4" cy="1347.2" r="2.6"/><circle cx="1268.5" cy="1316.5" r="2.6"/><circle cx="1273.9" cy="1388.8" r="2.6"/><circle cx="1268.0" cy="1308.7" r="2.6"/><circle cx="1269.2" cy="1390.7" r="2.6"/><circle cx="1264.6" cy="1392.4" r="2.6"/><circle cx="1265.1" cy="1391.6" r="2.6"/><circle cx="1267.8" cy="1366.5" r="2.6"/><circle cx="1269.3" cy="1293.9" r="2.6"/><circle cx="1269.1" cy="1395.1" r="2.6"/><circle cx="1259.3" cy="1387.1" r="2.6"/><circle cx="1265.5" cy="1325.8" r="2.6"/><circle cx="1264.8" cy="1345.8" r="2.6"/><circle cx="1266.6" cy="1344.7" r="2.6"/><circle cx="1266.5" cy="1357.6" r="2.6"/><circle cx="1268.4" cy="1348.2" r="2.6"/><circle cx="1272.6" cy="1394.0" r="2.6"/><circle cx="1263.4" cy="1393.5" r="2.6"/><circle cx="1264.4" cy="1364.0" r="2.6"/><circle cx="1265.1" cy="1380.3" r="2.6"/><circle cx="1269.1" cy="1365.1" r="2.6"/><circle cx="1265.8" cy="1373.6" r="2.6"/><circle cx="1266.5" cy="1314.5" r="2.6"/><circle cx="1270.2" cy="1391.9" r="2.6"/><circle cx="1268.8" cy="1345.6" r="2.6"/><circle cx="1266.2" cy="1367.7" r="2.6"/><circle cx="1263.0" cy="1368.9" r="2.6"/><circle cx="1267.6" cy="1263.6" r="2.6"/><circle cx="1272.0" cy="1379.3" r="2.6"/><circle cx="1268.1" cy="1388.3" r="2.6"/><circle cx="1269.1" cy="1362.7" r="2.6"/><circle cx="1262.2" cy="1389.2" r="2.6"/><circle cx="1258.8" cy="1381.5" r="2.6"/><circle cx="1271.5" cy="1377.7" r="2.6"/><circle cx="1266.0" cy="1355.0" r="2.6"/><circle cx="1269.1" cy="1352.9" r="2.6"/><circle cx="1277.0" cy="1386.2" r="2.6"/><circle cx="1265.3" cy="1379.1" r="2.6"/><circle cx="1268.9" cy="1380.1" r="2.6"/><circle cx="1269.2" cy="1353.6" r="2.6"/><circle cx="1265.2" cy="1381.5" r="2.6"/><circle cx="1262.9" cy="1384.1" r="2.6"/><circle cx="1265.4" cy="1362.2" r="2.6"/><circle cx="1269.8" cy="1385.6" r="2.6"/><circle cx="1264.7" cy="1347.7" r="2.6"/><circle cx="1274.5" cy="1386.7" r="2.6"/><circle cx="1270.2" cy="1364.5" r="2.6"/><circle cx="1269.6" cy="1394.6" r="2.6"/><circle cx="1268.8" cy="1332.4" r="2.6"/><circle cx="1263.2" cy="1373.3" r="2.6"/><circle cx="1267.8" cy="1345.5" r="2.6"/><circle cx="1270.2" cy="1344.4" r="2.6"/><circle cx="1269.6" cy="1385.8" r="2.6"/><circle cx="1268.7" cy="1362.0" r="2.6"/><circle cx="1267.4" cy="1353.0" r="2.6"/><circle cx="1269.2" cy="1342.2" r="2.6"/><circle cx="1259.0" cy="1389.5" r="2.6"/><circle cx="1264.3" cy="1373.2" r="2.6"/><circle cx="1272.6" cy="1381.6" r="2.6"/><circle cx="1265.5" cy="1337.4" r="2.6"/><circle cx="1267.4" cy="1397.9" r="2.6"/><circle cx="1267.3" cy="1259.3" r="2.6"/><circle cx="1299.9" cy="1310.1" r="2.6"/><circle cx="1298.7" cy="1335.5" r="2.6"/><circle cx="1297.2" cy="1355.7" r="2.6"/><circle cx="1295.4" cy="1362.0" r="2.6"/><circle cx="1299.5" cy="1369.2" r="2.6"/><circle cx="1302.0" cy="1388.6" r="2.6"/><circle cx="1296.7" cy="1316.9" r="2.6"/><circle cx="1296.3" cy="1367.8" r="2.6"/><circle cx="1298.7" cy="1352.0" r="2.6"/><circle cx="1298.6" cy="1379.8" r="2.6"/><circle cx="1299.9" cy="1391.1" r="2.6"/><circle cx="1293.4" cy="1365.9" r="2.6"/><circle cx="1294.5" cy="1387.9" r="2.6"/><circle cx="1298.6" cy="1386.4" r="2.6"/><circle cx="1295.1" cy="1394.5" r="2.6"/><circle cx="1289.7" cy="1384.9" r="2.6"/><circle cx="1300.1" cy="1345.2" r="2.6"/><circle cx="1298.0" cy="1377.9" r="2.6"/><circle cx="1294.9" cy="1329.1" r="2.6"/><circle cx="1302.8" cy="1389.3" r="2.6"/><circle cx="1300.2" cy="1385.6" r="2.6"/><circle cx="1295.7" cy="1374.3" r="2.6"/><circle cx="1289.9" cy="1379.4" r="2.6"/><circle cx="1296.8" cy="1363.3" r="2.6"/><circle cx="1301.7" cy="1375.3" r="2.6"/><circle cx="1296.6" cy="1395.8" r="2.6"/><circle cx="1299.8" cy="1313.7" r="2.6"/><circle cx="1296.7" cy="1310.8" r="2.6"/><circle cx="1298.4" cy="1365.9" r="2.6"/><circle cx="1299.3" cy="1353.8" r="2.6"/><circle cx="1297.2" cy="1292.6" r="2.6"/><circle cx="1297.7" cy="1351.4" r="2.6"/><circle cx="1297.6" cy="1352.5" r="2.6"/><circle cx="1295.2" cy="1371.5" r="2.6"/><circle cx="1300.2" cy="1393.1" r="2.6"/><circle cx="1301.4" cy="1369.9" r="2.6"/><circle cx="1296.4" cy="1340.0" r="2.6"/><circle cx="1297.1" cy="1368.6" r="2.6"/><circle cx="1307.0" cy="1381.1" r="2.6"/><circle cx="1291.5" cy="1387.2" r="2.6"/><circle cx="1290.2" cy="1374.5" r="2.6"/><circle cx="1303.3" cy="1390.6" r="2.6"/><circle cx="1295.8" cy="1321.5" r="2.6"/><circle cx="1297.8" cy="1370.9" r="2.6"/><circle cx="1294.7" cy="1376.4" r="2.6"/><circle cx="1296.1" cy="1388.3" r="2.6"/><circle cx="1298.3" cy="1355.8" r="2.6"/><circle cx="1301.1" cy="1371.0" r="2.6"/><circle cx="1301.9" cy="1363.1" r="2.6"/><circle cx="1294.9" cy="1390.7" r="2.6"/><circle cx="1296.9" cy="1349.3" r="2.6"/><circle cx="1296.2" cy="1334.9" r="2.6"/><circle cx="1297.8" cy="1323.1" r="2.6"/><circle cx="1306.2" cy="1382.3" r="2.6"/><circle cx="1299.1" cy="1358.4" r="2.6"/><circle cx="1296.6" cy="1296.7" r="2.6"/><circle cx="1300.3" cy="1358.3" r="2.6"/><circle cx="1303.6" cy="1377.2" r="2.6"/><circle cx="1298.0" cy="1251.7" r="2.6"/><circle cx="1297.0" cy="1333.0" r="2.6"/><circle cx="1297.3" cy="1328.1" r="2.6"/><circle cx="1290.5" cy="1389.2" r="2.6"/><circle cx="1291.5" cy="1384.7" r="2.6"/><circle cx="1296.5" cy="1303.4" r="2.6"/><circle cx="1290.5" cy="1382.3" r="2.6"/><circle cx="1297.0" cy="1384.4" r="2.6"/><circle cx="1299.6" cy="1311.2" r="2.6"/><circle cx="1299.7" cy="1369.1" r="2.6"/><circle cx="1295.7" cy="1358.5" r="2.6"/><circle cx="1299.7" cy="1302.8" r="2.6"/><circle cx="1297.5" cy="1336.6" r="2.6"/><circle cx="1295.3" cy="1346.3" r="2.6"/><circle cx="1299.7" cy="1283.9" r="2.6"/><circle cx="1296.9" cy="1366.3" r="2.6"/><circle cx="1295.0" cy="1391.3" r="2.6"/><circle cx="1289.4" cy="1382.1" r="2.6"/><circle cx="1293.7" cy="1370.8" r="2.6"/><circle cx="1305.0" cy="1382.7" r="2.6"/><circle cx="1296.2" cy="1308.9" r="2.6"/><circle cx="1304.3" cy="1387.8" r="2.6"/><circle cx="1297.9" cy="1242.4" r="2.6"/><circle cx="1298.7" cy="1324.5" r="2.6"/><circle cx="1297.1" cy="1239.4" r="2.6"/><circle cx="1296.4" cy="1369.2" r="2.6"/><circle cx="1299.2" cy="1388.7" r="2.6"/><circle cx="1297.0" cy="1316.1" r="2.6"/><circle cx="1299.0" cy="1374.1" r="2.6"/><circle cx="1297.6" cy="1374.8" r="2.6"/><circle cx="1306.3" cy="1386.4" r="2.6"/><circle cx="1294.0" cy="1370.9" r="2.6"/><circle cx="1301.7" cy="1371.2" r="2.6"/><circle cx="1296.2" cy="1362.1" r="2.6"/><circle cx="1307.7" cy="1380.1" r="2.6"/><circle cx="1296.6" cy="1376.6" r="2.6"/><circle cx="1296.9" cy="1352.0" r="2.6"/><circle cx="1301.3" cy="1387.7" r="2.6"/><circle cx="1301.8" cy="1376.4" r="2.6"/><circle cx="1297.8" cy="1364.2" r="2.6"/><circle cx="1288.9" cy="1387.5" r="2.6"/><circle cx="1300.6" cy="1364.5" r="2.6"/><circle cx="1292.9" cy="1373.8" r="2.6"/><circle cx="1307.0" cy="1386.2" r="2.6"/><circle cx="1298.5" cy="1355.6" r="2.6"/><circle cx="1296.8" cy="1361.8" r="2.6"/><circle cx="1301.2" cy="1374.2" r="2.6"/><circle cx="1292.7" cy="1390.8" r="2.6"/><circle cx="1299.6" cy="1388.1" r="2.6"/><circle cx="1298.3" cy="1387.1" r="2.6"/><circle cx="1291.6" cy="1380.0" r="2.6"/><circle cx="1295.5" cy="1339.2" r="2.6"/><circle cx="1299.4" cy="1378.2" r="2.6"/><circle cx="1300.2" cy="1380.0" r="2.6"/><circle cx="1296.6" cy="1302.6" r="2.6"/><circle cx="1295.8" cy="1380.4" r="2.6"/><circle cx="1300.8" cy="1387.7" r="2.6"/><circle cx="1294.9" cy="1358.9" r="2.6"/><circle cx="1298.5" cy="1352.3" r="2.6"/><circle cx="1289.2" cy="1384.0" r="2.6"/><circle cx="1299.3" cy="1344.9" r="2.6"/><circle cx="1303.6" cy="1380.3" r="2.6"/><circle cx="1295.5" cy="1318.9" r="2.6"/><circle cx="1296.1" cy="1343.9" r="2.6"/><circle cx="1300.1" cy="1380.3" r="2.6"/><circle cx="1307.6" cy="1383.7" r="2.6"/><circle cx="1296.9" cy="1373.0" r="2.6"/><circle cx="1299.4" cy="1392.9" r="2.6"/><circle cx="1300.1" cy="1387.9" r="2.6"/><circle cx="1302.8" cy="1389.0" r="2.6"/><circle cx="1294.0" cy="1371.8" r="2.6"/><circle cx="1292.3" cy="1389.0" r="2.6"/><circle cx="1300.2" cy="1320.5" r="2.6"/><circle cx="1300.8" cy="1394.2" r="2.6"/><circle cx="1294.6" cy="1388.8" r="2.6"/><circle cx="1306.6" cy="1383.4" r="2.6"/><circle cx="1296.0" cy="1352.9" r="2.6"/><circle cx="1297.7" cy="1245.0" r="2.6"/><circle cx="1295.7" cy="1373.0" r="2.6"/><circle cx="1289.7" cy="1380.2" r="2.6"/><circle cx="1298.3" cy="1369.3" r="2.6"/><circle cx="1290.0" cy="1379.2" r="2.6"/><circle cx="1300.4" cy="1361.5" r="2.6"/><circle cx="1297.2" cy="1341.7" r="2.6"/><circle cx="1297.1" cy="1385.5" r="2.6"/><circle cx="1296.8" cy="1326.7" r="2.6"/><circle cx="1296.1" cy="1368.1" r="2.6"/><circle cx="1298.1" cy="1353.9" r="2.6"/><circle cx="1304.5" cy="1389.4" r="2.6"/><circle cx="1297.4" cy="1227.9" r="2.6"/><circle cx="1297.8" cy="1365.7" r="2.6"/><circle cx="1290.8" cy="1389.2" r="2.6"/><circle cx="1291.8" cy="1384.9" r="2.6"/><circle cx="1304.3" cy="1373.7" r="2.6"/><circle cx="1297.8" cy="1384.6" r="2.6"/><circle cx="1297.4" cy="1249.6" r="2.6"/><circle cx="1295.5" cy="1367.1" r="2.6"/><circle cx="1300.4" cy="1362.8" r="2.6"/><circle cx="1325.2" cy="1311.6" r="2.6"/><circle cx="1326.0" cy="1361.8" r="2.6"/><circle cx="1332.4" cy="1376.5" r="2.6"/><circle cx="1333.8" cy="1390.0" r="2.6"/><circle cx="1330.9" cy="1388.3" r="2.6"/><circle cx="1322.4" cy="1377.4" r="2.6"/><circle cx="1324.2" cy="1377.9" r="2.6"/><circle cx="1330.2" cy="1368.9" r="2.6"/><circle cx="1325.4" cy="1380.8" r="2.6"/><circle cx="1331.1" cy="1393.0" r="2.6"/><circle cx="1326.7" cy="1393.1" r="2.6"/><circle cx="1329.3" cy="1373.0" r="2.6"/><circle cx="1329.7" cy="1361.9" r="2.6"/><circle cx="1325.6" cy="1358.6" r="2.6"/><circle cx="1325.1" cy="1361.3" r="2.6"/><circle cx="1321.5" cy="1376.6" r="2.6"/><circle cx="1331.0" cy="1380.0" r="2.6"/><circle cx="1327.8" cy="1330.4" r="2.6"/><circle cx="1327.4" cy="1251.6" r="2.6"/><circle cx="1322.7" cy="1384.8" r="2.6"/><circle cx="1328.3" cy="1349.9" r="2.6"/><circle cx="1335.4" cy="1382.5" r="2.6"/><circle cx="1325.8" cy="1304.3" r="2.6"/><circle cx="1330.5" cy="1388.4" r="2.6"/><circle cx="1327.9" cy="1369.9" r="2.6"/><circle cx="1330.1" cy="1366.2" r="2.6"/><circle cx="1327.8" cy="1336.1" r="2.6"/><circle cx="1330.3" cy="1376.1" r="2.6"/><circle cx="1333.3" cy="1388.2" r="2.6"/><circle cx="1325.1" cy="1393.4" r="2.6"/><circle cx="1328.0" cy="1363.0" r="2.6"/><circle cx="1330.3" cy="1339.6" r="2.6"/><circle cx="1319.7" cy="1376.4" r="2.6"/><circle cx="1332.7" cy="1375.9" r="2.6"/><circle cx="1318.4" cy="1387.3" r="2.6"/><circle cx="1327.3" cy="1328.6" r="2.6"/><circle cx="1323.8" cy="1380.8" r="2.6"/><circle cx="1322.9" cy="1379.6" r="2.6"/><circle cx="1328.4" cy="1391.7" r="2.6"/><circle cx="1323.6" cy="1371.0" r="2.6"/><circle cx="1331.1" cy="1381.8" r="2.6"/><circle cx="1327.6" cy="1393.6" r="2.6"/><circle cx="1327.4" cy="1358.7" r="2.6"/><circle cx="1327.4" cy="1355.3" r="2.6"/><circle cx="1325.4" cy="1358.9" r="2.6"/><circle cx="1327.1" cy="1336.8" r="2.6"/><circle cx="1332.4" cy="1389.3" r="2.6"/><circle cx="1325.1" cy="1361.1" r="2.6"/><circle cx="1327.5" cy="1337.2" r="2.6"/><circle cx="1328.3" cy="1396.3" r="2.6"/><circle cx="1326.4" cy="1295.5" r="2.6"/><circle cx="1330.7" cy="1370.6" r="2.6"/><circle cx="1327.9" cy="1253.5" r="2.6"/><circle cx="1326.9" cy="1255.9" r="2.6"/><circle cx="1327.3" cy="1319.0" r="2.6"/><circle cx="1331.8" cy="1369.2" r="2.6"/><circle cx="1320.1" cy="1381.1" r="2.6"/><circle cx="1332.7" cy="1387.4" r="2.6"/><circle cx="1328.6" cy="1371.9" r="2.6"/><circle cx="1326.1" cy="1383.1" r="2.6"/><circle cx="1325.7" cy="1393.6" r="2.6"/><circle cx="1328.4" cy="1351.0" r="2.6"/><circle cx="1324.1" cy="1392.3" r="2.6"/><circle cx="1329.2" cy="1371.4" r="2.6"/><circle cx="1329.1" cy="1360.7" r="2.6"/><circle cx="1326.7" cy="1320.9" r="2.6"/><circle cx="1324.2" cy="1382.4" r="2.6"/><circle cx="1329.6" cy="1333.9" r="2.6"/><circle cx="1329.8" cy="1300.2" r="2.6"/><circle cx="1320.0" cy="1388.1" r="2.6"/><circle cx="1327.7" cy="1262.7" r="2.6"/><circle cx="1321.8" cy="1380.3" r="2.6"/><circle cx="1335.5" cy="1384.2" r="2.6"/><circle cx="1331.0" cy="1370.3" r="2.6"/><circle cx="1323.6" cy="1365.9" r="2.6"/><circle cx="1328.0" cy="1358.4" r="2.6"/><circle cx="1324.8" cy="1365.8" r="2.6"/><circle cx="1328.9" cy="1363.9" r="2.6"/><circle cx="1331.1" cy="1393.5" r="2.6"/><circle cx="1327.7" cy="1377.9" r="2.6"/><circle cx="1325.7" cy="1310.5" r="2.6"/><circle cx="1329.1" cy="1339.4" r="2.6"/><circle cx="1329.6" cy="1319.5" r="2.6"/><circle cx="1326.6" cy="1375.1" r="2.6"/><circle cx="1330.1" cy="1373.0" r="2.6"/><circle cx="1329.6" cy="1370.1" r="2.6"/><circle cx="1331.5" cy="1364.5" r="2.6"/><circle cx="1331.0" cy="1373.2" r="2.6"/><circle cx="1325.3" cy="1351.1" r="2.6"/><circle cx="1328.8" cy="1358.4" r="2.6"/><circle cx="1330.0" cy="1311.6" r="2.6"/><circle cx="1328.5" cy="1381.4" r="2.6"/><circle cx="1334.3" cy="1386.5" r="2.6"/><circle cx="1326.6" cy="1336.7" r="2.6"/><circle cx="1327.2" cy="1327.0" r="2.6"/><circle cx="1328.4" cy="1261.4" r="2.6"/><circle cx="1325.8" cy="1355.3" r="2.6"/><circle cx="1330.7" cy="1369.2" r="2.6"/><circle cx="1325.9" cy="1352.4" r="2.6"/><circle cx="1322.9" cy="1374.3" r="2.6"/><circle cx="1328.3" cy="1378.9" r="2.6"/><circle cx="1330.0" cy="1390.5" r="2.6"/><circle cx="1327.3" cy="1354.7" r="2.6"/><circle cx="1323.5" cy="1367.2" r="2.6"/><circle cx="1325.7" cy="1384.8" r="2.6"/><circle cx="1324.6" cy="1391.1" r="2.6"/><circle cx="1334.4" cy="1379.2" r="2.6"/><circle cx="1328.9" cy="1354.0" r="2.6"/><circle cx="1332.1" cy="1370.3" r="2.6"/><circle cx="1328.3" cy="1368.8" r="2.6"/><circle cx="1325.0" cy="1356.4" r="2.6"/><circle cx="1328.5" cy="1354.6" r="2.6"/><circle cx="1328.2" cy="1253.3" r="2.6"/><circle cx="1323.5" cy="1387.3" r="2.6"/><circle cx="1330.2" cy="1324.6" r="2.6"/><circle cx="1320.6" cy="1380.3" r="2.6"/><circle cx="1326.8" cy="1324.3" r="2.6"/><circle cx="1326.0" cy="1381.2" r="2.6"/><circle cx="1325.7" cy="1383.9" r="2.6"/><circle cx="1330.3" cy="1358.3" r="2.6"/><circle cx="1328.3" cy="1262.1" r="2.6"/><circle cx="1324.3" cy="1380.9" r="2.6"/><circle cx="1325.8" cy="1371.8" r="2.6"/><circle cx="1324.1" cy="1391.4" r="2.6"/><circle cx="1328.1" cy="1380.2" r="2.6"/><circle cx="1326.5" cy="1349.9" r="2.6"/><circle cx="1325.0" cy="1345.4" r="2.6"/><circle cx="1325.4" cy="1341.0" r="2.6"/><circle cx="1329.5" cy="1392.3" r="2.6"/><circle cx="1327.1" cy="1368.5" r="2.6"/><circle cx="1324.1" cy="1372.7" r="2.6"/><circle cx="1329.7" cy="1385.2" r="2.6"/><circle cx="1318.7" cy="1385.3" r="2.6"/><circle cx="1328.0" cy="1255.3" r="2.6"/><circle cx="1325.3" cy="1387.7" r="2.6"/><circle cx="1321.7" cy="1376.3" r="2.6"/><circle cx="1326.2" cy="1332.6" r="2.6"/><circle cx="1325.0" cy="1383.6" r="2.6"/><circle cx="1325.1" cy="1337.2" r="2.6"/><circle cx="1329.6" cy="1381.1" r="2.6"/><circle cx="1329.6" cy="1329.6" r="2.6"/><circle cx="1320.9" cy="1375.0" r="2.6"/><circle cx="1327.0" cy="1378.8" r="2.6"/><circle cx="1325.9" cy="1320.4" r="2.6"/><circle cx="1328.7" cy="1384.2" r="2.6"/><circle cx="1329.0" cy="1363.5" r="2.6"/><circle cx="1325.0" cy="1358.0" r="2.6"/><circle cx="1332.1" cy="1367.8" r="2.6"/><circle cx="1327.5" cy="1342.6" r="2.6"/><circle cx="1330.2" cy="1365.4" r="2.6"/><circle cx="1327.5" cy="1242.6" r="2.6"/><circle cx="1322.6" cy="1386.9" r="2.6"/><circle cx="1317.5" cy="1381.8" r="2.6"/><circle cx="1328.1" cy="1353.0" r="2.6"/><circle cx="1331.0" cy="1375.0" r="2.6"/><circle cx="1326.3" cy="1375.2" r="2.6"/><circle cx="1320.8" cy="1390.1" r="2.6"/><circle cx="1327.2" cy="1333.3" r="2.6"/><circle cx="1328.9" cy="1383.6" r="2.6"/><circle cx="1355.5" cy="1393.8" r="2.6"/><circle cx="1356.2" cy="1330.3" r="2.6"/><circle cx="1358.1" cy="1383.6" r="2.6"/><circle cx="1356.9" cy="1339.6" r="2.6"/><circle cx="1358.5" cy="1301.3" r="2.6"/><circle cx="1357.2" cy="1353.8" r="2.6"/><circle cx="1355.3" cy="1354.8" r="2.6"/><circle cx="1357.8" cy="1396.5" r="2.6"/><circle cx="1359.7" cy="1380.7" r="2.6"/><circle cx="1354.6" cy="1356.8" r="2.6"/><circle cx="1352.8" cy="1384.4" r="2.6"/><circle cx="1357.7" cy="1349.1" r="2.6"/><circle cx="1362.8" cy="1384.1" r="2.6"/><circle cx="1350.5" cy="1378.7" r="2.6"/><circle cx="1367.7" cy="1383.8" r="2.6"/><circle cx="1362.4" cy="1379.8" r="2.6"/><circle cx="1358.2" cy="1374.7" r="2.6"/><circle cx="1359.1" cy="1348.6" r="2.6"/><circle cx="1360.7" cy="1391.4" r="2.6"/><circle cx="1355.1" cy="1392.7" r="2.6"/><circle cx="1357.8" cy="1252.5" r="2.6"/><circle cx="1363.1" cy="1381.5" r="2.6"/><circle cx="1357.8" cy="1298.1" r="2.6"/><circle cx="1357.8" cy="1391.1" r="2.6"/><circle cx="1358.8" cy="1291.7" r="2.6"/><circle cx="1359.5" cy="1373.0" r="2.6"/><circle cx="1359.8" cy="1374.8" r="2.6"/><circle cx="1356.1" cy="1290.9" r="2.6"/><circle cx="1357.0" cy="1318.7" r="2.6"/><circle cx="1361.3" cy="1377.1" r="2.6"/><circle cx="1357.8" cy="1353.1" r="2.6"/><circle cx="1367.4" cy="1384.0" r="2.6"/><circle cx="1361.4" cy="1367.5" r="2.6"/><circle cx="1353.7" cy="1388.7" r="2.6"/><circle cx="1354.2" cy="1386.6" r="2.6"/><circle cx="1358.3" cy="1248.3" r="2.6"/><circle cx="1352.7" cy="1380.5" r="2.6"/><circle cx="1354.9" cy="1362.2" r="2.6"/><circle cx="1354.4" cy="1376.8" r="2.6"/><circle cx="1361.8" cy="1390.1" r="2.6"/><circle cx="1361.8" cy="1391.1" r="2.6"/><circle cx="1357.6" cy="1392.7" r="2.6"/><circle cx="1360.8" cy="1394.9" r="2.6"/><circle cx="1361.2" cy="1391.6" r="2.6"/><circle cx="1354.0" cy="1369.7" r="2.6"/><circle cx="1354.5" cy="1385.4" r="2.6"/><circle cx="1359.9" cy="1363.3" r="2.6"/><circle cx="1357.4" cy="1241.0" r="2.6"/><circle cx="1355.8" cy="1392.5" r="2.6"/><circle cx="1363.5" cy="1388.5" r="2.6"/><circle cx="1366.4" cy="1382.2" r="2.6"/><circle cx="1356.1" cy="1375.7" r="2.6"/><circle cx="1360.0" cy="1385.4" r="2.6"/><circle cx="1358.2" cy="1374.9" r="2.6"/><circle cx="1358.0" cy="1354.2" r="2.6"/><circle cx="1349.0" cy="1381.2" r="2.6"/><circle cx="1359.7" cy="1391.8" r="2.6"/><circle cx="1349.9" cy="1388.9" r="2.6"/><circle cx="1361.6" cy="1372.7" r="2.6"/><circle cx="1347.4" cy="1382.1" r="2.6"/><circle cx="1353.4" cy="1371.6" r="2.6"/><circle cx="1357.0" cy="1351.0" r="2.6"/><circle cx="1359.2" cy="1351.7" r="2.6"/><circle cx="1353.6" cy="1365.8" r="2.6"/><circle cx="1360.0" cy="1345.3" r="2.6"/><circle cx="1356.6" cy="1375.8" r="2.6"/><circle cx="1356.2" cy="1337.3" r="2.6"/><circle cx="1363.0" cy="1376.4" r="2.6"/><circle cx="1358.2" cy="1365.0" r="2.6"/><circle cx="1352.4" cy="1383.9" r="2.6"/><circle cx="1358.1" cy="1374.9" r="2.6"/><circle cx="1358.4" cy="1396.6" r="2.6"/><circle cx="1359.3" cy="1335.4" r="2.6"/><circle cx="1362.9" cy="1383.9" r="2.6"/><circle cx="1360.2" cy="1337.3" r="2.6"/><circle cx="1354.8" cy="1382.5" r="2.6"/><circle cx="1361.6" cy="1381.4" r="2.6"/><circle cx="1359.3" cy="1373.0" r="2.6"/><circle cx="1355.8" cy="1331.1" r="2.6"/><circle cx="1360.1" cy="1364.8" r="2.6"/><circle cx="1355.2" cy="1320.1" r="2.6"/><circle cx="1357.6" cy="1345.3" r="2.6"/><circle cx="1360.9" cy="1387.8" r="2.6"/><circle cx="1359.4" cy="1334.4" r="2.6"/><circle cx="1356.2" cy="1390.3" r="2.6"/><circle cx="1358.5" cy="1372.0" r="2.6"/><circle cx="1355.4" cy="1359.3" r="2.6"/><circle cx="1358.0" cy="1332.3" r="2.6"/><circle cx="1353.4" cy="1382.5" r="2.6"/><circle cx="1353.6" cy="1392.2" r="2.6"/><circle cx="1360.9" cy="1366.6" r="2.6"/><circle cx="1355.4" cy="1343.1" r="2.6"/><circle cx="1358.7" cy="1390.1" r="2.6"/><circle cx="1351.0" cy="1388.1" r="2.6"/><circle cx="1361.1" cy="1379.6" r="2.6"/><circle cx="1355.3" cy="1372.4" r="2.6"/><circle cx="1357.3" cy="1364.4" r="2.6"/><circle cx="1360.0" cy="1323.8" r="2.6"/><circle cx="1359.9" cy="1389.1" r="2.6"/><circle cx="1360.1" cy="1340.3" r="2.6"/><circle cx="1358.2" cy="1362.2" r="2.6"/><circle cx="1358.7" cy="1382.0" r="2.6"/><circle cx="1365.6" cy="1386.5" r="2.6"/><circle cx="1359.2" cy="1388.5" r="2.6"/><circle cx="1359.2" cy="1371.4" r="2.6"/><circle cx="1357.5" cy="1383.4" r="2.6"/><circle cx="1356.1" cy="1395.0" r="2.6"/><circle cx="1355.5" cy="1384.7" r="2.6"/><circle cx="1364.4" cy="1382.3" r="2.6"/><circle cx="1364.3" cy="1389.7" r="2.6"/><circle cx="1352.4" cy="1392.3" r="2.6"/><circle cx="1357.1" cy="1362.4" r="2.6"/><circle cx="1360.4" cy="1362.4" r="2.6"/><circle cx="1358.0" cy="1354.2" r="2.6"/><circle cx="1356.3" cy="1341.9" r="2.6"/><circle cx="1354.6" cy="1358.8" r="2.6"/><circle cx="1352.7" cy="1377.8" r="2.6"/><circle cx="1359.5" cy="1374.3" r="2.6"/><circle cx="1356.6" cy="1316.4" r="2.6"/><circle cx="1356.0" cy="1290.4" r="2.6"/><circle cx="1353.8" cy="1389.2" r="2.6"/><circle cx="1352.8" cy="1386.2" r="2.6"/><circle cx="1351.8" cy="1382.5" r="2.6"/><circle cx="1357.7" cy="1283.6" r="2.6"/><circle cx="1357.1" cy="1371.1" r="2.6"/><circle cx="1353.4" cy="1371.7" r="2.6"/><circle cx="1358.7" cy="1387.5" r="2.6"/><circle cx="1361.7" cy="1383.9" r="2.6"/><circle cx="1359.3" cy="1383.0" r="2.6"/><circle cx="1355.7" cy="1387.2" r="2.6"/><circle cx="1358.7" cy="1306.7" r="2.6"/><circle cx="1359.9" cy="1391.0" r="2.6"/><circle cx="1356.0" cy="1330.1" r="2.6"/><circle cx="1357.7" cy="1359.2" r="2.6"/><circle cx="1353.9" cy="1373.4" r="2.6"/><circle cx="1349.1" cy="1380.5" r="2.6"/><circle cx="1358.6" cy="1345.4" r="2.6"/><circle cx="1358.1" cy="1348.2" r="2.6"/><circle cx="1361.5" cy="1373.3" r="2.6"/><circle cx="1351.4" cy="1383.4" r="2.6"/><circle cx="1357.0" cy="1350.8" r="2.6"/><circle cx="1357.5" cy="1340.9" r="2.6"/><circle cx="1363.8" cy="1381.5" r="2.6"/><circle cx="1355.7" cy="1365.7" r="2.6"/><circle cx="1357.0" cy="1349.5" r="2.6"/><circle cx="1359.6" cy="1361.0" r="2.6"/><circle cx="1358.5" cy="1319.2" r="2.6"/><circle cx="1362.3" cy="1386.9" r="2.6"/><circle cx="1356.1" cy="1347.3" r="2.6"/><circle cx="1356.9" cy="1361.9" r="2.6"/><circle cx="1360.3" cy="1371.4" r="2.6"/><circle cx="1363.3" cy="1385.5" r="2.6"/><circle cx="1358.6" cy="1333.7" r="2.6"/><circle cx="1383.5" cy="1392.7" r="2.6"/><circle cx="1384.9" cy="1391.7" r="2.6"/><circle cx="1382.0" cy="1385.4" r="2.6"/><circle cx="1388.8" cy="1288.9" r="2.6"/><circle cx="1387.3" cy="1376.5" r="2.6"/><circle cx="1388.4" cy="1288.0" r="2.6"/><circle cx="1387.9" cy="1384.8" r="2.6"/><circle cx="1390.3" cy="1367.8" r="2.6"/><circle cx="1390.9" cy="1373.1" r="2.6"/><circle cx="1382.9" cy="1385.3" r="2.6"/><circle cx="1383.5" cy="1367.0" r="2.6"/><circle cx="1386.4" cy="1307.9" r="2.6"/><circle cx="1385.4" cy="1357.8" r="2.6"/><circle cx="1389.6" cy="1339.0" r="2.6"/><circle cx="1379.6" cy="1386.9" r="2.6"/><circle cx="1389.6" cy="1324.4" r="2.6"/><circle cx="1386.2" cy="1365.7" r="2.6"/><circle cx="1380.4" cy="1388.2" r="2.6"/><circle cx="1394.5" cy="1381.4" r="2.6"/><circle cx="1386.9" cy="1255.2" r="2.6"/><circle cx="1385.5" cy="1369.4" r="2.6"/><circle cx="1385.2" cy="1336.0" r="2.6"/><circle cx="1387.8" cy="1369.6" r="2.6"/><circle cx="1388.1" cy="1374.2" r="2.6"/><circle cx="1386.8" cy="1354.5" r="2.6"/><circle cx="1391.8" cy="1367.2" r="2.6"/><circle cx="1389.6" cy="1389.4" r="2.6"/><circle cx="1388.8" cy="1281.5" r="2.6"/><circle cx="1387.0" cy="1394.7" r="2.6"/><circle cx="1385.7" cy="1388.6" r="2.6"/><circle cx="1389.4" cy="1349.7" r="2.6"/><circle cx="1385.7" cy="1345.9" r="2.6"/><circle cx="1386.4" cy="1344.2" r="2.6"/><circle cx="1387.6" cy="1260.9" r="2.6"/><circle cx="1385.0" cy="1343.4" r="2.6"/><circle cx="1386.9" cy="1368.9" r="2.6"/><circle cx="1387.6" cy="1283.3" r="2.6"/><circle cx="1389.7" cy="1288.6" r="2.6"/><circle cx="1385.5" cy="1385.8" r="2.6"/><circle cx="1389.8" cy="1350.8" r="2.6"/><circle cx="1390.0" cy="1346.4" r="2.6"/><circle cx="1395.9" cy="1381.8" r="2.6"/><circle cx="1393.9" cy="1390.8" r="2.6"/><circle cx="1389.8" cy="1365.9" r="2.6"/><circle cx="1387.0" cy="1388.0" r="2.6"/><circle cx="1384.6" cy="1394.7" r="2.6"/><circle cx="1392.0" cy="1381.4" r="2.6"/><circle cx="1390.0" cy="1316.6" r="2.6"/><circle cx="1384.1" cy="1369.8" r="2.6"/><circle cx="1387.5" cy="1333.8" r="2.6"/><circle cx="1390.5" cy="1356.2" r="2.6"/><circle cx="1391.0" cy="1391.1" r="2.6"/><circle cx="1386.1" cy="1356.8" r="2.6"/><circle cx="1389.6" cy="1358.1" r="2.6"/><circle cx="1388.5" cy="1347.8" r="2.6"/><circle cx="1389.4" cy="1360.0" r="2.6"/><circle cx="1387.6" cy="1342.4" r="2.6"/><circle cx="1382.2" cy="1389.2" r="2.6"/><circle cx="1384.8" cy="1387.7" r="2.6"/><circle cx="1385.4" cy="1316.9" r="2.6"/><circle cx="1390.1" cy="1305.9" r="2.6"/><circle cx="1385.6" cy="1376.8" r="2.6"/><circle cx="1384.2" cy="1389.4" r="2.6"/><circle cx="1389.6" cy="1384.8" r="2.6"/><circle cx="1380.7" cy="1389.8" r="2.6"/><circle cx="1380.3" cy="1381.2" r="2.6"/><circle cx="1389.8" cy="1363.9" r="2.6"/><circle cx="1389.8" cy="1367.4" r="2.6"/><circle cx="1385.0" cy="1356.3" r="2.6"/><circle cx="1386.3" cy="1320.7" r="2.6"/><circle cx="1384.1" cy="1364.5" r="2.6"/><circle cx="1383.2" cy="1376.3" r="2.6"/><circle cx="1388.7" cy="1324.8" r="2.6"/><circle cx="1384.5" cy="1368.6" r="2.6"/><circle cx="1379.8" cy="1374.4" r="2.6"/><circle cx="1386.1" cy="1355.1" r="2.6"/><circle cx="1385.8" cy="1366.4" r="2.6"/><circle cx="1395.9" cy="1375.1" r="2.6"/><circle cx="1386.3" cy="1335.3" r="2.6"/><circle cx="1391.1" cy="1362.8" r="2.6"/><circle cx="1393.2" cy="1381.6" r="2.6"/><circle cx="1393.9" cy="1375.2" r="2.6"/><circle cx="1385.5" cy="1295.9" r="2.6"/><circle cx="1387.5" cy="1368.5" r="2.6"/><circle cx="1387.0" cy="1260.4" r="2.6"/><circle cx="1385.0" cy="1367.4" r="2.6"/><circle cx="1388.1" cy="1350.9" r="2.6"/><circle cx="1385.9" cy="1359.3" r="2.6"/><circle cx="1391.3" cy="1378.4" r="2.6"/><circle cx="1381.6" cy="1380.4" r="2.6"/><circle cx="1396.3" cy="1380.5" r="2.6"/><circle cx="1385.7" cy="1309.2" r="2.6"/><circle cx="1388.7" cy="1384.2" r="2.6"/><circle cx="1385.2" cy="1336.9" r="2.6"/><circle cx="1382.4" cy="1384.2" r="2.6"/><circle cx="1385.2" cy="1367.6" r="2.6"/><circle cx="1387.8" cy="1330.5" r="2.6"/><circle cx="1393.2" cy="1378.5" r="2.6"/><circle cx="1385.6" cy="1369.5" r="2.6"/><circle cx="1388.9" cy="1369.0" r="2.6"/><circle cx="1391.4" cy="1384.1" r="2.6"/><circle cx="1396.6" cy="1381.4" r="2.6"/><circle cx="1385.5" cy="1355.7" r="2.6"/><circle cx="1387.0" cy="1255.3" r="2.6"/><circle cx="1386.8" cy="1351.6" r="2.6"/><circle cx="1393.3" cy="1391.2" r="2.6"/><circle cx="1386.4" cy="1395.1" r="2.6"/><circle cx="1386.2" cy="1389.5" r="2.6"/><circle cx="1385.8" cy="1367.6" r="2.6"/><circle cx="1383.8" cy="1383.7" r="2.6"/><circle cx="1387.6" cy="1258.5" r="2.6"/><circle cx="1386.2" cy="1288.7" r="2.6"/><circle cx="1388.0" cy="1249.2" r="2.6"/><circle cx="1390.4" cy="1350.0" r="2.6"/><circle cx="1393.9" cy="1380.0" r="2.6"/><circle cx="1386.7" cy="1366.3" r="2.6"/><circle cx="1387.1" cy="1368.4" r="2.6"/><circle cx="1385.0" cy="1374.1" r="2.6"/><circle cx="1388.0" cy="1357.6" r="2.6"/><circle cx="1384.0" cy="1379.8" r="2.6"/><circle cx="1391.4" cy="1366.7" r="2.6"/><circle cx="1385.2" cy="1364.0" r="2.6"/><circle cx="1389.9" cy="1339.2" r="2.6"/><circle cx="1392.7" cy="1373.4" r="2.6"/><circle cx="1388.6" cy="1382.9" r="2.6"/><circle cx="1390.1" cy="1359.5" r="2.6"/><circle cx="1379.6" cy="1375.8" r="2.6"/><circle cx="1387.8" cy="1387.2" r="2.6"/><circle cx="1386.1" cy="1311.9" r="2.6"/><circle cx="1384.7" cy="1394.0" r="2.6"/><circle cx="1391.9" cy="1369.7" r="2.6"/><circle cx="1379.6" cy="1381.2" r="2.6"/><circle cx="1387.6" cy="1321.2" r="2.6"/><circle cx="1386.6" cy="1338.2" r="2.6"/><circle cx="1388.2" cy="1358.0" r="2.6"/><circle cx="1396.0" cy="1383.9" r="2.6"/><circle cx="1385.8" cy="1340.5" r="2.6"/><circle cx="1390.0" cy="1331.2" r="2.6"/><circle cx="1384.0" cy="1392.1" r="2.6"/><circle cx="1383.4" cy="1379.8" r="2.6"/><circle cx="1391.9" cy="1365.9" r="2.6"/><circle cx="1392.2" cy="1375.9" r="2.6"/><circle cx="1379.0" cy="1382.9" r="2.6"/><circle cx="1385.8" cy="1323.1" r="2.6"/><circle cx="1388.2" cy="1256.7" r="2.6"/><circle cx="1385.4" cy="1344.5" r="2.6"/><circle cx="1385.0" cy="1375.4" r="2.6"/><circle cx="1387.6" cy="1379.3" r="2.6"/><circle cx="1389.4" cy="1349.1" r="2.6"/><circle cx="1389.6" cy="1369.2" r="2.6"/><circle cx="1390.3" cy="1339.3" r="2.6"/><circle cx="1389.6" cy="1350.6" r="2.6"/><circle cx="1389.1" cy="1301.2" r="2.6"/><circle cx="1392.1" cy="1363.2" r="2.6"/><circle cx="1388.3" cy="1385.7" r="2.6"/><circle cx="1390.2" cy="1356.7" r="2.6"/><circle cx="1384.2" cy="1371.5" r="2.6"/></g>
<path d="M1107.9 1365.2h19.6M1117.7 1362.7v5M1112.7 1362.7h10M1112.7 1367.7h10M1137.7 1346.4h19.6M1147.5 1343.9v5M1142.5 1343.9h10M1142.5 1348.9h10M1167.9 1352.1h19.6M1177.7 1349.6v5M1172.7 1349.6h10M1172.7 1354.6h10M1197.7 1360.3h19.6M1207.5 1357.8v5M1202.5 1357.8h10M1202.5 1362.8h10M1227.8 1362.8h19.6M1237.6 1360.3v5M1232.6 1360.3h10M1232.6 1365.3h10M1257.6 1366.0h19.6M1267.4 1363.5v5M1262.4 1363.5h10M1262.4 1368.5h10M1287.8 1358.7h19.6M1297.6 1356.2v5M1292.6 1356.2h10M1292.6 1361.2h10M1317.9 1360.3h19.6M1327.7 1357.8v5M1322.7 1357.8h10M1322.7 1362.8h10M1347.7 1362.8h19.6M1357.5 1360.3v5M1352.5 1360.3h10M1352.5 1365.3h10M1377.8 1357.0h19.6M1387.6 1354.5v5M1382.6 1354.5h10M1382.6 1359.5h10" stroke="#111" stroke-width="1.3" fill="none"/>
<path d="M1099.0 1224.5V1265.1M1099.0 1278.3V1401.3M1091.6 1401.3H1408.2" stroke="#111" stroke-width="1.8" fill="none"/>
<path d="M1099.0 1224.5h-7.4M1099.0 1240.8h-7.4M1099.0 1257.4h-7.4M1099.0 1319.2h-7.4M1099.0 1359.8h-7.4M1091.6 1265.1h14.5M1091.6 1278.3h14.5M1117.7 1401.3v7M1147.5 1401.3v7M1177.7 1401.3v7M1207.5 1401.3v7M1237.6 1401.3v7M1267.4 1401.3v7M1297.6 1401.3v7M1327.7 1401.3v7M1357.5 1401.3v7M1387.6 1401.3v7" stroke="#111" stroke-width="1.6" fill="none"/>
<text x="1089.0" y="1231.3" text-anchor="end" textLength="11.6" lengthAdjust="spacingAndGlyphs">4</text>
<text x="1089.0" y="1247.6" text-anchor="end" textLength="11.6" lengthAdjust="spacingAndGlyphs">3</text>
<text x="1089.0" y="1264.2" text-anchor="end" textLength="11.6" lengthAdjust="spacingAndGlyphs">2</text>
<text x="1089.0" y="1285.1" text-anchor="end" textLength="29.0" lengthAdjust="spacingAndGlyphs">1.5</text>
<text x="1089.0" y="1326.0" text-anchor="end" textLength="29.0" lengthAdjust="spacingAndGlyphs">1.0</text>
<text x="1089.0" y="1366.6" text-anchor="end" textLength="29.0" lengthAdjust="spacingAndGlyphs">0.5</text>
<text x="1089.0" y="1408.1" text-anchor="end" textLength="11.6" lengthAdjust="spacingAndGlyphs">0</text>
<text transform="translate(1039.5 1426) rotate(-90)" textLength="235" lengthAdjust="spacingAndGlyphs">GCaMP6 intensity (Δ<tspan font-style="italic">F</tspan>/<tspan font-style="italic">F</tspan><tspan style="font-size:12px" dy="4" font-style="italic">0</tspan><tspan dy="-4">)</tspan></text>
<text transform="translate(1125.7 1421.0) rotate(-45)" text-anchor="end" textLength="61.0" lengthAdjust="spacingAndGlyphs">DMSO</text>
<text transform="translate(1155.5 1421.0) rotate(-45)" text-anchor="end" textLength="56.0" lengthAdjust="spacingAndGlyphs">EZH2i</text>
<text transform="translate(1185.7 1421.0) rotate(-45)" text-anchor="end" textLength="61.0" lengthAdjust="spacingAndGlyphs">DMSO</text>
<text transform="translate(1215.5 1421.0) rotate(-45)" text-anchor="end" textLength="56.0" lengthAdjust="spacingAndGlyphs">EZH2i</text>
<text transform="translate(1245.6 1421.0) rotate(-45)" text-anchor="end" textLength="61.0" lengthAdjust="spacingAndGlyphs">DMSO</text>
<text transform="translate(1275.4 1421.0) rotate(-45)" text-anchor="end" textLength="56.0" lengthAdjust="spacingAndGlyphs">EZH2i</text>
<text transform="translate(1305.6 1421.0) rotate(-45)" text-anchor="end" textLength="61.0" lengthAdjust="spacingAndGlyphs">DMSO</text>
<text transform="translate(1335.7 1421.0) rotate(-45)" text-anchor="end" textLength="56.0" lengthAdjust="spacingAndGlyphs">EZH2i</text>
<text transform="translate(1365.5 1421.0) rotate(-45)" text-anchor="end" textLength="61.0" lengthAdjust="spacingAndGlyphs">DMSO</text>
<text transform="translate(1395.6 1421.0) rotate(-45)" text-anchor="end" textLength="56.0" lengthAdjust="spacingAndGlyphs">EZH2i</text>
</g>
<g id="pi">
<text x="11.2" y="1504.7" font-weight="bold" fill="#000" style="font-size:31.5px" textLength="9.2" lengthAdjust="spacingAndGlyphs" stroke="#000" stroke-width="1.0" stroke-linejoin="round">i</text>
<defs><linearGradient id="bgi" x1="0" y1="0" x2="1" y2="0"><stop offset="0" stop-color="#ffffff"/><stop offset="0.15" stop-color="#fcfcfc"/><stop offset="0.5" stop-color="#fafafa"/><stop offset="0.75" stop-color="#f9fbf9"/><stop offset="1" stop-color="#f5fbf5"/></linearGradient></defs>
<rect x="90.0" y="1504.0" width="793.7" height="257.5" fill="url(#bgi)"/>
<path d="M109.1 1670.7 L116.4 1665.5 L123.7 1660.1 L131.1 1654.7 L138.4 1649.3 L145.7 1643.8 L153.0 1638.4 L160.4 1633.0 L167.7 1627.6 L175.0 1622.3 L182.3 1617.1 L189.7 1612.0 L197.0 1607.1 L204.3 1602.4 L211.6 1597.9 L218.9 1593.6 L226.3 1589.6 L233.6 1585.9 L240.9 1582.5 L248.2 1579.4 L255.6 1576.7 L262.9 1574.3 L270.2 1572.3 L277.5 1570.7 L284.9 1569.5 L292.2 1568.8 L299.5 1568.4 L306.8 1568.5 L314.1 1569.0 L321.5 1569.9 L328.8 1571.2 L336.1 1572.9 L343.4 1574.9 L350.8 1577.4 L358.1 1580.1 L365.4 1583.2 L372.7 1586.5 L380.1 1590.2 L387.4 1594.1 L394.7 1598.1 L402.0 1602.4 L409.3 1606.8 L416.7 1611.4 L424.0 1616.1 L431.3 1620.9 L438.6 1625.7 L446.0 1630.5 L453.3 1635.4 L460.6 1640.3 L467.9 1645.1 L475.2 1649.9 L482.6 1654.7 L489.9 1659.4 L497.2 1664.0 L504.5 1668.5 L511.9 1672.9 L519.2 1677.1 L526.5 1681.3 L533.8 1685.3 L541.2 1689.2 L548.5 1693.0 L555.8 1696.6 L563.1 1700.1 L570.4 1703.4 L577.8 1706.6 L585.1 1709.7 L592.4 1712.6 L599.7 1715.4 L607.1 1718.1 L614.4 1720.6 L621.7 1723.0 L629.0 1725.3 L636.4 1727.4 L643.7 1729.5 L651.0 1731.4 L658.3 1733.3 L665.6 1735.0 L673.0 1736.6 L680.3 1738.1 L687.6 1739.6 L694.9 1740.9 L702.3 1742.2 L709.6 1743.4 L716.9 1744.6 L724.2 1745.6 L731.6 1746.6 L738.9 1747.6 L746.2 1748.4 L753.5 1749.2 L760.8 1750.0 L768.2 1750.7 L775.5 1751.4 L782.8 1752.0 L790.1 1752.6 L797.5 1753.2 L804.8 1753.7 L812.1 1754.2 L819.4 1754.6 L826.8 1755.1 L834.1 1755.5 L841.4 1755.8" stroke="#6a6a6a" stroke-width="2" fill="none"/>
<path d="M109.1 1754.5 L116.4 1754.5 L123.7 1754.4 L131.1 1754.3 L138.4 1754.2 L145.7 1754.2 L153.0 1754.1 L160.4 1754.0 L167.7 1753.8 L175.0 1753.7 L182.3 1753.6 L189.7 1753.4 L197.0 1753.2 L204.3 1753.0 L211.6 1752.8 L218.9 1752.6 L226.3 1752.3 L233.6 1752.0 L240.9 1751.7 L248.2 1751.3 L255.6 1750.9 L262.9 1750.5 L270.2 1750.1 L277.5 1749.5 L284.9 1749.0 L292.2 1748.4 L299.5 1747.7 L306.8 1746.9 L314.1 1746.1 L321.5 1745.2 L328.8 1744.3 L336.1 1743.2 L343.4 1742.0 L350.8 1740.8 L358.1 1739.4 L365.4 1737.9 L372.7 1736.3 L380.1 1734.6 L387.4 1732.7 L394.7 1730.7 L402.0 1728.6 L409.3 1726.2 L416.7 1723.7 L424.0 1721.1 L431.3 1718.3 L438.6 1715.2 L446.0 1712.0 L453.3 1708.6 L460.6 1705.1 L467.9 1701.3 L475.2 1697.3 L482.6 1693.1 L489.9 1688.7 L497.2 1684.1 L504.5 1679.3 L511.9 1674.3 L519.2 1669.1 L526.5 1663.7 L533.8 1658.2 L541.2 1652.6 L548.5 1646.8 L555.8 1641.1 L563.1 1635.3 L570.4 1629.6 L577.8 1624.0 L585.1 1618.6 L592.4 1613.4 L599.7 1608.4 L607.1 1603.6 L614.4 1599.2 L621.7 1595.1 L629.0 1591.3 L636.4 1587.8 L643.7 1584.7 L651.0 1581.8 L658.3 1579.3 L665.6 1576.9 L673.0 1574.9 L680.3 1573.1 L687.6 1571.4 L694.9 1570.0 L702.3 1568.7 L709.6 1567.6 L716.9 1566.6 L724.2 1565.7 L731.6 1565.0 L738.9 1564.3 L746.2 1563.7 L753.5 1563.2 L760.8 1562.7 L768.2 1562.3 L775.5 1562.0 L782.8 1561.7 L790.1 1561.4 L797.5 1561.2 L804.8 1560.9 L812.1 1560.8 L819.4 1560.6 L826.8 1560.5 L834.1 1560.4 L841.4 1560.2" stroke="#0aa04f" stroke-width="2.2" fill="none"/>
<path d="M90 1556V1761.5H862" stroke="#111" stroke-width="1.6" fill="none"/>
<path d="M90 1551.5l-5.4 13l5.4 -3l5.4 3z" fill="#111"/>
<path d="M870.5 1761.5l-13 -5.2l3 5.2l-3 5.2z" fill="#111"/>
<path d="M109.1 1524.2A10 10 0 1 1 109.1 1509.4" fill="none" stroke="#111" stroke-width="1.5" stroke-dasharray="7.5 4.2" stroke-dashoffset="-1"/><path d="M116.6 1513.8L109.8 1507.2L112.2 1511.2L110.3 1513.1Z" fill="#111"/>
<text x="97.0" y="1546.8" textLength="63.6" lengthAdjust="spacingAndGlyphs">hPSCs</text>
<line x1="196.2" y1="1533.4" x2="217.4" y2="1533.4" stroke="#111" stroke-width="2" stroke-dasharray="8.5 4.5"/><path d="M227.4 1533.4l-14.5 -5.6l4.5 5.6l-4.5 5.6z" fill="#111"/>
<path d="M250.0 1524.2A10 10 0 1 1 250.0 1509.4" fill="none" stroke="#111" stroke-width="1.5" stroke-dasharray="7.5 4.2" stroke-dashoffset="-1"/><path d="M257.5 1513.8L250.7 1507.2L253.1 1511.2L251.2 1513.1Z" fill="#111"/>
<text x="257.0" y="1539.8" textLength="52.2" lengthAdjust="spacingAndGlyphs">NPCs</text>
<line x1="329.2" y1="1533.4" x2="348.8" y2="1533.4" stroke="#111" stroke-width="2" stroke-dasharray="8.5 4.5"/><path d="M358.8 1533.4l-14.5 -5.6l4.5 5.6l-4.5 5.6z" fill="#111"/>
<text x="381.7" y="1528.3" textLength="84.0" lengthAdjust="spacingAndGlyphs">Newborn</text>
<text x="386.5" y="1547.7" textLength="75.0" lengthAdjust="spacingAndGlyphs">neurons</text>
<line x1="490.9" y1="1533.4" x2="662.2" y2="1533.4" stroke="#111" stroke-width="2" stroke-dasharray="8.5 4.5"/><path d="M672.2 1533.4l-14.5 -5.6l4.5 5.6l-4.5 5.6z" fill="#111"/>
<text x="686.5" y="1538.8" textLength="145.4" lengthAdjust="spacingAndGlyphs">Mature neurons</text>
<line x1="188.3" y1="1627.0" x2="200.4" y2="1627.0" stroke="#777" stroke-width="1.6"/>
<text x="207.4" y="1633.6" textLength="163.1" lengthAdjust="spacingAndGlyphs">Epigenetic barrier</text>
<path d="M288.8 1641.6V1658.8M279.3 1658.8H298.3" stroke="#111" stroke-width="1.7" fill="none"/>
<line x1="147.0" y1="1677.2" x2="159.0" y2="1677.2" stroke="#0aa04f" stroke-width="1.8"/>
<text x="165.4" y="1683.6" textLength="223.3" lengthAdjust="spacingAndGlyphs">Maturation programmes</text>
<text x="119.3" y="1708.4" textLength="314.9" lengthAdjust="spacingAndGlyphs">(Functional, molecular, chromatin)</text>
<text transform="translate(68.5 1669.7) rotate(-90)" text-anchor="middle" textLength="160.0" lengthAdjust="spacingAndGlyphs">Expression levels</text>
<text x="395.0" y="1791.7" textLength="184.3" lengthAdjust="spacingAndGlyphs">Developmental time</text>
</g>
<g id="pj">
<text x="992.7" y="1505.2" font-weight="bold" fill="#000" style="font-size:31.5px" textLength="9.2" lengthAdjust="spacingAndGlyphs" stroke="#000" stroke-width="1.0" stroke-linejoin="round">j</text>
<rect x="1033.8" y="1511.4" width="106.0" height="36.2" fill="#e6e6e6" stroke="#8a8a8a" stroke-width="1.6" rx="9"/>
<text x="1086.8" y="1536.4" text-anchor="middle" textLength="88.0" lengthAdjust="spacingAndGlyphs">EHMT1/2</text>
<rect x="1052.4" y="1559.2" width="83.3" height="40.3" fill="#e6e6e6" stroke="#8a8a8a" stroke-width="1.6" rx="9"/>
<text x="1094.1" y="1586.2" text-anchor="middle" textLength="65.0" lengthAdjust="spacingAndGlyphs">DOT1L</text>
<rect x="1153.3" y="1526.2" width="92.8" height="45.9" fill="#e6e6e6" stroke="#8a8a8a" stroke-width="1.6" rx="9"/>
<text x="1199.7" y="1556.1" text-anchor="middle" textLength="51.0" lengthAdjust="spacingAndGlyphs">EZH2</text>
<rect x="1287.6" y="1527.2" width="82.7" height="39.9" fill="#e4eedd" stroke="#2eb872" stroke-width="2" rx="9"/>
<text x="1328.9" y="1554.1" text-anchor="middle" textLength="55.5" lengthAdjust="spacingAndGlyphs">CHD5</text>
<rect x="1132.9" y="1598.9" width="85.5" height="32.7" fill="#e4eedd" stroke="#2eb872" stroke-width="2" rx="9"/>
<text x="1175.7" y="1622.2" text-anchor="middle" textLength="62.0" lengthAdjust="spacingAndGlyphs">JADE2</text>
<rect x="1131.3" y="1659.9" width="87.1" height="30.2" fill="#e6e6e6" stroke="#8a8a8a" stroke-width="1.6" rx="9"/>
<text x="1174.8" y="1681.9" text-anchor="middle" textLength="71.0" lengthAdjust="spacingAndGlyphs">KDM1A</text>
<path d="M1193.3 1580.6V1593.2M1185.4 1593.2H1202.1" stroke="#111" stroke-width="1.7" fill="none"/>
<path d="M1176 1641V1653M1167.5 1653H1184.5" stroke="#111" stroke-width="1.7" fill="none"/>
<path d="M1231 1574.3V1710.5M1223.1 1710.5H1238.9" stroke="#111" stroke-width="1.7" fill="none"/>
<path d="M1190.1 1698.6L1200.5 1708.9M1194.8 1715.8L1205.2 1703.9" stroke="#111" stroke-width="1.8" fill="none"/>
<defs><linearGradient id="fa1" gradientUnits="userSpaceOnUse" x1="1240" y1="0" x2="1262" y2="0"><stop offset="0" stop-color="#111" stop-opacity="0"/><stop offset="1" stop-color="#111"/></linearGradient><linearGradient id="fa2" gradientUnits="userSpaceOnUse" x1="1316" y1="0" x2="1296" y2="0"><stop offset="0" stop-color="#111" stop-opacity="0"/><stop offset="1" stop-color="#111"/></linearGradient></defs>
<path d="M1242 1516.2Q1276 1488 1307.7 1514.1" stroke="url(#fa1)" stroke-width="1.7" fill="none"/>
<path d="M1303.3 1519.3L1312.1 1508.9" stroke="#111" stroke-width="1.8" fill="none"/>
<path d="M1312.8 1577.5Q1281 1602 1247 1579.5" stroke="url(#fa2)" stroke-width="1.7" fill="none" stroke-dasharray="5 3.2"/>
<path d="M1243 1583.1L1250.8 1573.7" stroke="#111" stroke-width="1.8" fill="none"/>
<line x1="1337.3" y1="1583.8" x2="1284.5" y2="1698.8" stroke="#111" stroke-width="1.7"/>
<path d="M1280.7 1707l-0.3 -12.8l3.9 4.6l6 -0.1z" fill="#111"/>
<path d="M1015 1771C1030 1771 1040 1769 1049 1764M1069 1765C1080 1772 1092 1773.5 1104.4 1773.3C1118 1773 1128 1771.5 1135.5 1768.6C1147 1764 1151 1757 1158.8 1753.1C1166 1749.5 1176 1748.5 1192 1748.4" stroke="#2088b0" stroke-width="1.6" fill="none"/>
<line x1="1346.4" y1="1748.4" x2="1358.4" y2="1748.4" stroke="#2a8fd0" stroke-width="2.2"/>
<rect x="1192.3" y="1738.5" width="154.1" height="23.6" fill="#e4eedd" stroke="#2eb872" stroke-width="2"/>
<path d="M1321.6 1738.5V1711.8H1345" stroke="#111" stroke-width="1.8" fill="none"/>
<path d="M1353.5 1711.8l-12 -5l3 5l-3 5z" fill="#111"/>
<text x="1168.7" y="1789.1" textLength="194.4" lengthAdjust="spacingAndGlyphs">Maturation programs</text>
<g transform="rotate(24 1061 1748)"><ellipse cx="1068" cy="1748" rx="10.5" ry="21.5" fill="#a9d0e6"/><rect x="1053" y="1726.5" width="15" height="43" fill="#a9d0e6"/><path d="M1059 1726.6A10.5 21.5 0 0 1 1059 1769.4M1064 1726.6A10.5 21.5 0 0 1 1064 1769.4" stroke="#3a9ac4" stroke-width="1.3" fill="none"/><ellipse cx="1053" cy="1748" rx="9" ry="21.5" fill="#d3eafa"/></g>
<path d="M1053.9 1704L1056.2 1716.5L1060.1 1725.1" stroke="#111" stroke-width="1.9" fill="none"/>
<path d="M1085.8 1710.5L1081.4 1723.1L1075.6 1732.1" stroke="#111" stroke-width="1.9" fill="none"/>
<circle cx="1049.7" cy="1690.4" r="14" fill="#1b4f8a" stroke="#111" stroke-width="2"/>
<circle cx="1056.2" cy="1716.5" r="4.6" fill="#1b4f8a" stroke="#111" stroke-width="1.5"/>
<circle cx="1089.6" cy="1696.6" r="14" fill="#ff1e00" stroke="#111" stroke-width="2"/>
<circle cx="1081.4" cy="1723.1" r="4.6" fill="#ee4420" stroke="#111" stroke-width="1.5"/>
<text x="1004.1" y="1673.0" textLength="38.9" lengthAdjust="spacingAndGlyphs">Me3</text>
<text x="1111.9" y="1712.6" textLength="38.9" lengthAdjust="spacingAndGlyphs">Me3</text>
<text x="987.5" y="1728.5" textLength="49.7" lengthAdjust="spacingAndGlyphs">H3K4</text>
<text x="1091.7" y="1739.4" textLength="60.9" lengthAdjust="spacingAndGlyphs">H3K27</text>
<text x="1087.3" y="1628.7" textLength="25.7" lengthAdjust="spacingAndGlyphs">Ub</text>
<text x="1081.9" y="1646.1" textLength="25.0" lengthAdjust="spacingAndGlyphs">Ub</text>
<text x="1087.3" y="1664.4" textLength="25.7" lengthAdjust="spacingAndGlyphs">Ub</text>
<circle cx="1122.3" cy="1630.7" r="6.1" fill="#c0409a" stroke="#a83088" stroke-width="0.5"/>
<circle cx="1116.9" cy="1639.2" r="6.1" fill="#c0409a" stroke="#a83088" stroke-width="0.5"/>
<circle cx="1120.0" cy="1650.7" r="6.1" fill="#c0409a" stroke="#a83088" stroke-width="0.5"/>
<path d="M1123 1658c2 -5 7 -6 7 -2c0 4 -6 5 -4 8c2 3 6 -1 5 -4c-1 -4 4 -8 8 -9c4 -1 5 3 2 5c-3 2 -7 3 -8 7c-1 4 -4 6 -6 4" stroke="#1f4e9a" stroke-width="1.2" fill="none"/>
</g>
</svg>
</body></html>
